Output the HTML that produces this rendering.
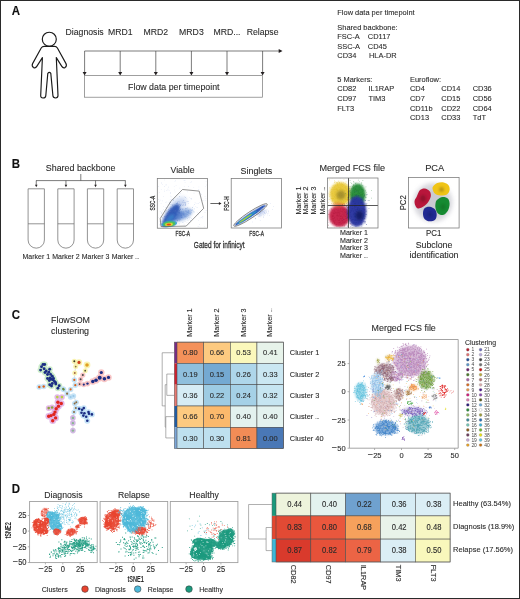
<!DOCTYPE html>
<html><head><meta charset="utf-8"><style>
html,body{margin:0;padding:0;background:#fff;}
body{width:520px;height:599px;overflow:hidden;position:relative;}
svg{position:absolute;left:0;top:0;will-change:transform;}
.frame{position:absolute;left:0;top:0;width:520px;height:599px;box-sizing:border-box;border:1px solid #2a2a2a;border-bottom-width:1.4px;border-right-width:1.2px;}
text{font-family:"Liberation Sans",sans-serif;}
</style></head><body>
<svg width="520" height="599" viewBox="0 0 520 599" font-family="Liberation Sans, sans-serif">
<defs><filter id="b05" x="-50%" y="-50%" width="200%" height="200%"><feGaussianBlur stdDeviation="0.5"/></filter><filter id="b1" x="-50%" y="-50%" width="200%" height="200%"><feGaussianBlur stdDeviation="1"/></filter><filter id="b15" x="-50%" y="-50%" width="200%" height="200%"><feGaussianBlur stdDeviation="1.5"/></filter><filter id="b2" x="-50%" y="-50%" width="200%" height="200%"><feGaussianBlur stdDeviation="2"/></filter><filter id="b3" x="-50%" y="-50%" width="200%" height="200%"><feGaussianBlur stdDeviation="3"/></filter><clipPath id="cv"><rect x="157.7" y="178.8" width="49.6" height="49"/></clipPath><clipPath id="cs"><rect x="231.6" y="178.8" width="49.6" height="49"/></clipPath><clipPath id="cm"><rect x="327.8" y="178.4" width="49.8" height="49.2"/></clipPath><clipPath id="cp"><rect x="409" y="178" width="49.8" height="49.8"/></clipPath><clipPath id="cd0"><rect x="30.0" y="501.9" width="66.8" height="60.300000000000026"/></clipPath><clipPath id="cd1"><rect x="100.5" y="501.9" width="66.8" height="60.300000000000026"/></clipPath><clipPath id="cd2"><rect x="170.70000000000002" y="501.9" width="66.8" height="60.300000000000026"/></clipPath></defs>
<text transform="translate(11.80,14.80) scale(1,1.07)" x="0" y="0" font-size="11.5" text-anchor="start" fill="#111" stroke="#111" stroke-width="0.1" font-weight="bold" >A</text>
<circle cx="49.3" cy="39.2" r="7" fill="none" stroke="#1a1a1a" stroke-width="1.15"/>
<path d="M44.2,46.3 L54.6,46.3 Q56.4,46.3 57.4,48 L66,63.6 Q67.2,66.4 65,67.6 Q63,68.4 61.8,66.4 L56.3,57.6 L58,95.6 Q58,98 55.6,98 Q52.9,98 52.9,95.6 L50.8,73.4 Q49.4,71.4 47.8,73.4 L45.8,95.6 Q45.6,98 43,98 Q40.6,98 40.7,95.6 L42.4,57.6 L36.8,66.4 Q35.6,68.4 33.6,67.6 Q31.4,66.4 32.6,63.6 L41.2,48 Q42.2,46.3 44.2,46.3Z" fill="none" stroke="#1a1a1a" stroke-width="1.15" stroke-linejoin="round"/>
<text transform="translate(84.60,35.00) scale(1,1.07)" x="0" y="0" font-size="8.7" text-anchor="middle" fill="#2b2b2b" stroke="#2b2b2b" stroke-width="0.1" >Diagnosis</text>
<line x1="84.60" y1="51.00" x2="84.60" y2="72.50" stroke="#444" stroke-width="0.7"/>
<path d="M82.60,72.00 L86.60,72.00 L84.60,75.60Z" fill="#231f20"/>
<text transform="translate(120.20,35.00) scale(1,1.07)" x="0" y="0" font-size="8.7" text-anchor="middle" fill="#2b2b2b" stroke="#2b2b2b" stroke-width="0.1" >MRD1</text>
<line x1="120.20" y1="51.00" x2="120.20" y2="72.50" stroke="#444" stroke-width="0.7"/>
<path d="M118.20,72.00 L122.20,72.00 L120.20,75.60Z" fill="#231f20"/>
<text transform="translate(155.80,35.00) scale(1,1.07)" x="0" y="0" font-size="8.7" text-anchor="middle" fill="#2b2b2b" stroke="#2b2b2b" stroke-width="0.1" >MRD2</text>
<line x1="155.80" y1="51.00" x2="155.80" y2="72.50" stroke="#444" stroke-width="0.7"/>
<path d="M153.80,72.00 L157.80,72.00 L155.80,75.60Z" fill="#231f20"/>
<text transform="translate(191.40,35.00) scale(1,1.07)" x="0" y="0" font-size="8.7" text-anchor="middle" fill="#2b2b2b" stroke="#2b2b2b" stroke-width="0.1" >MRD3</text>
<line x1="191.40" y1="51.00" x2="191.40" y2="72.50" stroke="#444" stroke-width="0.7"/>
<path d="M189.40,72.00 L193.40,72.00 L191.40,75.60Z" fill="#231f20"/>
<text transform="translate(227.00,35.00) scale(1,1.07)" x="0" y="0" font-size="8.7" text-anchor="middle" fill="#2b2b2b" stroke="#2b2b2b" stroke-width="0.1" >MRD...</text>
<line x1="227.00" y1="51.00" x2="227.00" y2="72.50" stroke="#444" stroke-width="0.7"/>
<path d="M225.00,72.00 L229.00,72.00 L227.00,75.60Z" fill="#231f20"/>
<text transform="translate(262.60,35.00) scale(1,1.07)" x="0" y="0" font-size="8.7" text-anchor="middle" fill="#2b2b2b" stroke="#2b2b2b" stroke-width="0.1" >Relapse</text>
<line x1="262.60" y1="51.00" x2="262.60" y2="72.50" stroke="#444" stroke-width="0.7"/>
<path d="M260.60,72.00 L264.60,72.00 L262.60,75.60Z" fill="#231f20"/>
<line x1="84.60" y1="51.00" x2="279.00" y2="51.00" stroke="#444" stroke-width="0.7"/>
<path d="M278.70,49.00 L278.70,53.00 L282.50,51.00Z" fill="#231f20"/>
<rect x="84.60" y="75.40" width="178.00" height="21.80" fill="none" stroke="#777" stroke-width="0.7" />
<text transform="translate(173.80,90.00) scale(1,1.07)" x="0" y="0" font-size="8.8" text-anchor="middle" fill="#2b2b2b" stroke="#2b2b2b" stroke-width="0.1" >Flow data per timepoint</text>
<text transform="translate(337.30,15.00) scale(1,1.07)" x="0" y="0" font-size="7.45" text-anchor="start" fill="#2b2b2b" stroke="#2b2b2b" stroke-width="0.1" >Flow data per timepoint</text>
<text transform="translate(337.30,29.80) scale(1,1.07)" x="0" y="0" font-size="7.45" text-anchor="start" fill="#2b2b2b" stroke="#2b2b2b" stroke-width="0.1" >Shared backbone:</text>
<text transform="translate(337.30,39.20) scale(1,1.07)" x="0" y="0" font-size="7.45" text-anchor="start" fill="#2b2b2b" stroke="#2b2b2b" stroke-width="0.1" >FSC-A</text>
<text transform="translate(367.80,39.20) scale(1,1.07)" x="0" y="0" font-size="7.45" text-anchor="start" fill="#2b2b2b" stroke="#2b2b2b" stroke-width="0.1" >CD117</text>
<text transform="translate(337.30,48.50) scale(1,1.07)" x="0" y="0" font-size="7.45" text-anchor="start" fill="#2b2b2b" stroke="#2b2b2b" stroke-width="0.1" >SSC-A</text>
<text transform="translate(367.80,48.50) scale(1,1.07)" x="0" y="0" font-size="7.45" text-anchor="start" fill="#2b2b2b" stroke="#2b2b2b" stroke-width="0.1" >CD45</text>
<text transform="translate(337.30,57.80) scale(1,1.07)" x="0" y="0" font-size="7.45" text-anchor="start" fill="#2b2b2b" stroke="#2b2b2b" stroke-width="0.1" >CD34</text>
<text transform="translate(369.00,57.80) scale(1,1.07)" x="0" y="0" font-size="7.45" text-anchor="start" fill="#2b2b2b" stroke="#2b2b2b" stroke-width="0.1" >HLA-DR</text>
<text transform="translate(337.30,81.90) scale(1,1.07)" x="0" y="0" font-size="7.45" text-anchor="start" fill="#2b2b2b" stroke="#2b2b2b" stroke-width="0.1" >5 Markers:</text>
<text transform="translate(410.00,81.90) scale(1,1.07)" x="0" y="0" font-size="7.45" text-anchor="start" fill="#2b2b2b" stroke="#2b2b2b" stroke-width="0.1" >Euroflow:</text>
<text transform="translate(337.30,91.40) scale(1,1.07)" x="0" y="0" font-size="7.45" text-anchor="start" fill="#2b2b2b" stroke="#2b2b2b" stroke-width="0.1" >CD82</text>
<text transform="translate(368.50,91.40) scale(1,1.07)" x="0" y="0" font-size="7.45" text-anchor="start" fill="#2b2b2b" stroke="#2b2b2b" stroke-width="0.1" >IL1RAP</text>
<text transform="translate(410.00,91.40) scale(1,1.07)" x="0" y="0" font-size="7.45" text-anchor="start" fill="#2b2b2b" stroke="#2b2b2b" stroke-width="0.1" >CD4</text>
<text transform="translate(441.30,91.40) scale(1,1.07)" x="0" y="0" font-size="7.45" text-anchor="start" fill="#2b2b2b" stroke="#2b2b2b" stroke-width="0.1" >CD14</text>
<text transform="translate(472.70,91.40) scale(1,1.07)" x="0" y="0" font-size="7.45" text-anchor="start" fill="#2b2b2b" stroke="#2b2b2b" stroke-width="0.1" >CD36</text>
<text transform="translate(337.30,101.00) scale(1,1.07)" x="0" y="0" font-size="7.45" text-anchor="start" fill="#2b2b2b" stroke="#2b2b2b" stroke-width="0.1" >CD97</text>
<text transform="translate(368.50,101.00) scale(1,1.07)" x="0" y="0" font-size="7.45" text-anchor="start" fill="#2b2b2b" stroke="#2b2b2b" stroke-width="0.1" >TIM3</text>
<text transform="translate(410.00,101.00) scale(1,1.07)" x="0" y="0" font-size="7.45" text-anchor="start" fill="#2b2b2b" stroke="#2b2b2b" stroke-width="0.1" >CD7</text>
<text transform="translate(441.30,101.00) scale(1,1.07)" x="0" y="0" font-size="7.45" text-anchor="start" fill="#2b2b2b" stroke="#2b2b2b" stroke-width="0.1" >CD15</text>
<text transform="translate(472.70,101.00) scale(1,1.07)" x="0" y="0" font-size="7.45" text-anchor="start" fill="#2b2b2b" stroke="#2b2b2b" stroke-width="0.1" >CD56</text>
<text transform="translate(337.30,110.60) scale(1,1.07)" x="0" y="0" font-size="7.45" text-anchor="start" fill="#2b2b2b" stroke="#2b2b2b" stroke-width="0.1" >FLT3</text>
<text transform="translate(410.00,110.60) scale(1,1.07)" x="0" y="0" font-size="7.45" text-anchor="start" fill="#2b2b2b" stroke="#2b2b2b" stroke-width="0.1" >CD11b</text>
<text transform="translate(441.30,110.60) scale(1,1.07)" x="0" y="0" font-size="7.45" text-anchor="start" fill="#2b2b2b" stroke="#2b2b2b" stroke-width="0.1" >CD22</text>
<text transform="translate(472.70,110.60) scale(1,1.07)" x="0" y="0" font-size="7.45" text-anchor="start" fill="#2b2b2b" stroke="#2b2b2b" stroke-width="0.1" >CD64</text>
<text transform="translate(410.00,120.00) scale(1,1.07)" x="0" y="0" font-size="7.45" text-anchor="start" fill="#2b2b2b" stroke="#2b2b2b" stroke-width="0.1" >CD13</text>
<text transform="translate(441.30,120.00) scale(1,1.07)" x="0" y="0" font-size="7.45" text-anchor="start" fill="#2b2b2b" stroke="#2b2b2b" stroke-width="0.1" >CD33</text>
<text transform="translate(472.70,120.00) scale(1,1.07)" x="0" y="0" font-size="7.45" text-anchor="start" fill="#2b2b2b" stroke="#2b2b2b" stroke-width="0.1" >TdT</text>
<text transform="translate(11.80,167.60) scale(1,1.07)" x="0" y="0" font-size="11.5" text-anchor="start" fill="#111" stroke="#111" stroke-width="0.1" font-weight="bold" >B</text>
<text transform="translate(45.80,170.90) scale(1,1.07)" x="0" y="0" font-size="8.9" text-anchor="start" fill="#2b2b2b" stroke="#2b2b2b" stroke-width="0.1" >Shared backbone</text>
<line x1="80.80" y1="174.00" x2="80.80" y2="180.60" stroke="#444" stroke-width="0.7"/>
<line x1="36.00" y1="180.60" x2="125.60" y2="180.60" stroke="#444" stroke-width="0.7"/>
<line x1="36.25" y1="180.60" x2="36.25" y2="185.00" stroke="#444" stroke-width="0.7"/>
<path d="M34.95,184.80 L37.55,184.80 L36.25,187.20Z" fill="#231f20"/>
<path d="M28.10,188.8 L28.10,240 A8.15,8.15 0 0 0 44.40,240 L44.40,188.8 Z" fill="none" stroke="#666" stroke-width="0.7"/>
<line x1="28.10" y1="223.80" x2="44.40" y2="223.80" stroke="#666" stroke-width="0.7"/>
<text transform="translate(36.25,259.00) scale(1,1.07)" x="0" y="0" font-size="7.0" text-anchor="middle" fill="#2b2b2b" stroke="#2b2b2b" stroke-width="0.1" >Marker 1</text>
<line x1="65.95" y1="180.60" x2="65.95" y2="185.00" stroke="#444" stroke-width="0.7"/>
<path d="M64.65,184.80 L67.25,184.80 L65.95,187.20Z" fill="#231f20"/>
<path d="M57.80,188.8 L57.80,240 A8.15,8.15 0 0 0 74.10,240 L74.10,188.8 Z" fill="none" stroke="#666" stroke-width="0.7"/>
<line x1="57.80" y1="223.80" x2="74.10" y2="223.80" stroke="#666" stroke-width="0.7"/>
<text transform="translate(65.95,259.00) scale(1,1.07)" x="0" y="0" font-size="7.0" text-anchor="middle" fill="#2b2b2b" stroke="#2b2b2b" stroke-width="0.1" >Marker 2</text>
<line x1="95.55" y1="180.60" x2="95.55" y2="185.00" stroke="#444" stroke-width="0.7"/>
<path d="M94.25,184.80 L96.85,184.80 L95.55,187.20Z" fill="#231f20"/>
<path d="M87.40,188.8 L87.40,240 A8.15,8.15 0 0 0 103.70,240 L103.70,188.8 Z" fill="none" stroke="#666" stroke-width="0.7"/>
<line x1="87.40" y1="223.80" x2="103.70" y2="223.80" stroke="#666" stroke-width="0.7"/>
<text transform="translate(95.55,259.00) scale(1,1.07)" x="0" y="0" font-size="7.0" text-anchor="middle" fill="#2b2b2b" stroke="#2b2b2b" stroke-width="0.1" >Marker 3</text>
<line x1="125.35" y1="180.60" x2="125.35" y2="185.00" stroke="#444" stroke-width="0.7"/>
<path d="M124.05,184.80 L126.65,184.80 L125.35,187.20Z" fill="#231f20"/>
<path d="M117.20,188.8 L117.20,240 A8.15,8.15 0 0 0 133.50,240 L133.50,188.8 Z" fill="none" stroke="#666" stroke-width="0.7"/>
<line x1="117.20" y1="223.80" x2="133.50" y2="223.80" stroke="#666" stroke-width="0.7"/>
<text transform="translate(125.35,259.00) scale(1,1.07)" x="0" y="0" font-size="7.0" text-anchor="middle" fill="#2b2b2b" stroke="#2b2b2b" stroke-width="0.1" >Marker <tspan font-size="4.5">...</tspan></text>
<text transform="translate(182.50,173.20) scale(1,1.07)" x="0" y="0" font-size="8.7" text-anchor="middle" fill="#2b2b2b" stroke="#2b2b2b" stroke-width="0.1" >Viable</text>
<text transform="translate(154.60,203.10) rotate(-90) scale(1,1.07)" x="0" y="0" font-size="6.8" text-anchor="middle" fill="#2b2b2b" stroke="#2b2b2b" stroke-width="0.25" textLength="14.6" lengthAdjust="spacingAndGlyphs">SSC-A</text>
<text transform="translate(182.70,235.50) rotate(0) scale(1,1.07)" x="0" y="0" font-size="6.8" text-anchor="middle" fill="#2b2b2b" stroke="#2b2b2b" stroke-width="0.25" textLength="14.6" lengthAdjust="spacingAndGlyphs">FSC-A</text>
<line x1="210.40" y1="203.50" x2="219.00" y2="203.50" stroke="#222" stroke-width="0.7"/>
<path d="M218.90,202.10 L218.90,204.90 L221.50,203.50Z" fill="#231f20"/>
<text transform="translate(256.40,173.50) scale(1,1.07)" x="0" y="0" font-size="8.9" text-anchor="middle" fill="#2b2b2b" stroke="#2b2b2b" stroke-width="0.1" >Singlets</text>
<text transform="translate(228.60,203.50) rotate(-90) scale(1,1.07)" x="0" y="0" font-size="6.8" text-anchor="middle" fill="#2b2b2b" stroke="#2b2b2b" stroke-width="0.25" textLength="14.6" lengthAdjust="spacingAndGlyphs">FSC-H</text>
<text transform="translate(256.60,235.50) rotate(0) scale(1,1.07)" x="0" y="0" font-size="6.8" text-anchor="middle" fill="#2b2b2b" stroke="#2b2b2b" stroke-width="0.25" textLength="14.6" lengthAdjust="spacingAndGlyphs">FSC-A</text>
<text transform="translate(219.20,247.70) rotate(0) scale(1,1.07)" x="0" y="0" font-size="8.6" text-anchor="middle" fill="#2b2b2b" stroke="#2b2b2b" stroke-width="0.25" textLength="50.8" lengthAdjust="spacingAndGlyphs">Gated for infinicyt</text>
<text transform="translate(352.20,171.30) scale(1,1.07)" x="0" y="0" font-size="9.1" text-anchor="middle" fill="#2b2b2b" stroke="#2b2b2b" stroke-width="0.1" >Merged FCS file</text>
<text transform="translate(301.20,214.6) rotate(-90) scale(1,1.07)" x="0" y="0" font-size="7.1" fill="#2b2b2b" stroke="#2b2b2b" stroke-width="0.1">Marker 1</text>
<text transform="translate(308.40,214.6) rotate(-90) scale(1,1.07)" x="0" y="0" font-size="7.1" fill="#2b2b2b" stroke="#2b2b2b" stroke-width="0.1">Marker 2</text>
<text transform="translate(315.60,214.6) rotate(-90) scale(1,1.07)" x="0" y="0" font-size="7.1" fill="#2b2b2b" stroke="#2b2b2b" stroke-width="0.1">Marker 3</text>
<text transform="translate(324.80,214.6) rotate(-90) scale(1,1.07)" x="0" y="0" font-size="7.1" fill="#2b2b2b" stroke="#2b2b2b" stroke-width="0.1">Marker <tspan font-size="4.5">...</tspan></text>
<text transform="translate(340.00,234.50) scale(1,1.07)" x="0" y="0" font-size="7.1" text-anchor="start" fill="#2b2b2b" stroke="#2b2b2b" stroke-width="0.1" >Marker 1</text>
<text transform="translate(340.00,242.60) scale(1,1.07)" x="0" y="0" font-size="7.1" text-anchor="start" fill="#2b2b2b" stroke="#2b2b2b" stroke-width="0.1" >Marker 2</text>
<text transform="translate(340.00,250.30) scale(1,1.07)" x="0" y="0" font-size="7.1" text-anchor="start" fill="#2b2b2b" stroke="#2b2b2b" stroke-width="0.1" >Marker 3</text>
<text transform="translate(340.00,257.70) scale(1,1.07)" x="0" y="0" font-size="7.1" text-anchor="start" fill="#2b2b2b" stroke="#2b2b2b" stroke-width="0.1" >Marker <tspan font-size="4.5">...</tspan></text>
<text transform="translate(434.70,171.20) scale(1,1.07)" x="0" y="0" font-size="9.3" text-anchor="middle" fill="#2b2b2b" stroke="#2b2b2b" stroke-width="0.1" >PCA</text>
<text transform="translate(406,202.8) rotate(-90) scale(1,1.07)" x="0" y="0" font-size="7.8" text-anchor="middle" fill="#2b2b2b" stroke="#2b2b2b" stroke-width="0.1">PC2</text>
<text transform="translate(433.60,235.80) scale(1,1.07)" x="0" y="0" font-size="7.9" text-anchor="middle" fill="#2b2b2b" stroke="#2b2b2b" stroke-width="0.1" >PC1</text>
<text transform="translate(434.00,247.80) scale(1,1.07)" x="0" y="0" font-size="8.8" text-anchor="middle" fill="#2b2b2b" stroke="#2b2b2b" stroke-width="0.1" >Subclone</text>
<text transform="translate(434.00,257.90) scale(1,1.07)" x="0" y="0" font-size="8.8" text-anchor="middle" fill="#2b2b2b" stroke="#2b2b2b" stroke-width="0.1" >identification</text>
<g clip-path="url(#cv)"><path d="M173.9 186.2h0.6v0.6h-0.6zM189.9 182.5h0.6v0.6h-0.6zM184.3 196.6h0.6v0.6h-0.6zM160.8 203.4h0.6v0.6h-0.6zM159.8 199.8h0.6v0.6h-0.6zM161.4 183.4h0.6v0.6h-0.6zM178.8 218.7h0.6v0.6h-0.6zM164.1 189.7h0.6v0.6h-0.6zM188.7 224.5h0.6v0.6h-0.6zM186.3 198.0h0.6v0.6h-0.6zM205.8 181.2h0.6v0.6h-0.6zM200.1 192.9h0.6v0.6h-0.6zM165.1 184.7h0.6v0.6h-0.6zM173.1 218.2h0.6v0.6h-0.6zM166.9 206.9h0.6v0.6h-0.6zM189.3 196.9h0.6v0.6h-0.6zM184.8 182.0h0.6v0.6h-0.6zM160.9 188.9h0.6v0.6h-0.6zM191.3 199.5h0.6v0.6h-0.6zM173.4 207.1h0.6v0.6h-0.6zM180.2 193.4h0.6v0.6h-0.6zM196.9 212.6h0.6v0.6h-0.6zM170.0 206.6h0.6v0.6h-0.6zM183.7 221.0h0.6v0.6h-0.6zM193.7 192.8h0.6v0.6h-0.6zM206.0 184.7h0.6v0.6h-0.6zM178.5 215.3h0.6v0.6h-0.6zM165.4 202.5h0.6v0.6h-0.6zM159.9 211.1h0.6v0.6h-0.6zM195.5 206.5h0.6v0.6h-0.6zM200.9 194.1h0.6v0.6h-0.6zM192.1 207.5h0.6v0.6h-0.6zM186.4 200.9h0.6v0.6h-0.6zM199.2 224.3h0.6v0.6h-0.6zM181.2 210.9h0.6v0.6h-0.6zM161.0 212.7h0.6v0.6h-0.6zM189.7 226.7h0.6v0.6h-0.6zM198.3 192.7h0.6v0.6h-0.6zM176.9 211.1h0.6v0.6h-0.6zM159.1 201.2h0.6v0.6h-0.6zM166.2 184.6h0.6v0.6h-0.6zM160.9 215.9h0.6v0.6h-0.6zM164.3 190.9h0.6v0.6h-0.6zM177.2 220.8h0.6v0.6h-0.6zM161.9 200.6h0.6v0.6h-0.6zM184.9 221.4h0.6v0.6h-0.6zM198.1 220.5h0.6v0.6h-0.6zM171.6 198.9h0.6v0.6h-0.6zM175.6 221.4h0.6v0.6h-0.6zM204.9 186.2h0.6v0.6h-0.6zM166.6 190.1h0.6v0.6h-0.6zM169.4 202.3h0.6v0.6h-0.6zM186.9 191.6h0.6v0.6h-0.6zM158.2 199.1h0.6v0.6h-0.6zM176.1 206.2h0.6v0.6h-0.6zM204.7 212.1h0.6v0.6h-0.6zM183.3 208.6h0.6v0.6h-0.6zM191.1 181.6h0.6v0.6h-0.6zM202.1 216.4h0.6v0.6h-0.6zM200.9 217.3h0.6v0.6h-0.6zM177.2 198.2h0.6v0.6h-0.6zM163.1 209.4h0.6v0.6h-0.6zM161.1 182.2h0.6v0.6h-0.6zM168.2 186.8h0.6v0.6h-0.6zM174.7 181.5h0.6v0.6h-0.6zM158.0 186.3h0.6v0.6h-0.6zM163.0 196.5h0.6v0.6h-0.6zM159.2 221.0h0.6v0.6h-0.6zM188.1 186.1h0.6v0.6h-0.6zM170.4 195.7h0.6v0.6h-0.6zM175.8 184.9h0.6v0.6h-0.6zM199.6 226.7h0.6v0.6h-0.6zM180.8 202.2h0.6v0.6h-0.6zM162.2 183.9h0.6v0.6h-0.6zM174.8 191.7h0.6v0.6h-0.6zM198.6 186.7h0.6v0.6h-0.6zM159.1 224.6h0.6v0.6h-0.6zM183.9 186.0h0.6v0.6h-0.6zM184.6 180.3h0.6v0.6h-0.6zM183.9 226.0h0.6v0.6h-0.6zM200.3 212.4h0.6v0.6h-0.6zM170.8 196.6h0.6v0.6h-0.6zM166.2 216.1h0.6v0.6h-0.6zM184.1 216.4h0.6v0.6h-0.6zM174.2 189.7h0.6v0.6h-0.6zM197.8 226.3h0.6v0.6h-0.6zM199.8 217.7h0.6v0.6h-0.6zM198.1 214.5h0.6v0.6h-0.6zM169.1 203.8h0.6v0.6h-0.6zM175.4 180.4h0.6v0.6h-0.6zM159.4 192.4h0.6v0.6h-0.6zM170.7 212.2h0.6v0.6h-0.6zM204.9 200.5h0.6v0.6h-0.6zM203.9 226.4h0.6v0.6h-0.6zM204.8 196.5h0.6v0.6h-0.6zM168.8 189.9h0.6v0.6h-0.6zM167.6 188.8h0.6v0.6h-0.6zM188.6 222.2h0.6v0.6h-0.6zM199.2 202.0h0.6v0.6h-0.6zM190.0 217.4h0.6v0.6h-0.6zM162.2 210.7h0.6v0.6h-0.6zM202.6 216.6h0.6v0.6h-0.6zM194.8 201.9h0.6v0.6h-0.6zM166.7 216.9h0.6v0.6h-0.6zM174.3 217.4h0.6v0.6h-0.6zM205.6 198.0h0.6v0.6h-0.6zM177.7 224.4h0.6v0.6h-0.6zM193.5 187.2h0.6v0.6h-0.6zM164.2 186.3h0.6v0.6h-0.6zM202.3 217.7h0.6v0.6h-0.6zM165.2 218.7h0.6v0.6h-0.6zM206.0 210.5h0.6v0.6h-0.6zM175.2 205.3h0.6v0.6h-0.6zM164.4 179.7h0.6v0.6h-0.6zM205.6 210.2h0.6v0.6h-0.6zM183.8 223.8h0.6v0.6h-0.6zM179.3 220.8h0.6v0.6h-0.6zM198.5 189.1h0.6v0.6h-0.6zM170.3 193.1h0.6v0.6h-0.6zM169.8 207.1h0.6v0.6h-0.6zM170.7 199.1h0.6v0.6h-0.6zM164.4 222.7h0.6v0.6h-0.6zM175.3 201.0h0.6v0.6h-0.6zM186.6 222.4h0.6v0.6h-0.6zM178.6 223.1h0.6v0.6h-0.6zM182.6 204.5h0.6v0.6h-0.6zM183.7 179.9h0.6v0.6h-0.6zM179.6 187.8h0.6v0.6h-0.6zM158.2 217.4h0.6v0.6h-0.6zM166.4 201.7h0.6v0.6h-0.6zM193.5 205.7h0.6v0.6h-0.6zM174.0 203.9h0.6v0.6h-0.6zM185.2 216.6h0.6v0.6h-0.6zM163.2 205.9h0.6v0.6h-0.6zM170.2 192.3h0.6v0.6h-0.6zM195.8 203.4h0.6v0.6h-0.6zM185.5 215.5h0.6v0.6h-0.6zM202.7 200.3h0.6v0.6h-0.6zM188.0 203.3h0.6v0.6h-0.6zM183.1 212.3h0.6v0.6h-0.6z" fill="#9db0e0" opacity="0.45"/><ellipse cx="178.00" cy="205.00" rx="10.00" ry="6.00" fill="#8aa8e0" opacity="0.45" transform="rotate(-40 178.00 205.00)" filter="url(#b2)"/><ellipse cx="182.00" cy="215.00" rx="11.00" ry="5.00" fill="#4a7ccc" opacity="0.6" transform="rotate(-25 182.00 215.00)" filter="url(#b15)"/><ellipse cx="171.00" cy="215.50" rx="13.50" ry="5.20" fill="#2550b0" opacity="0.9" transform="rotate(-55 171.00 215.50)" filter="url(#b1)"/><ellipse cx="177.00" cy="216.00" rx="7.00" ry="4.00" fill="#3a68c0" opacity="0.6" transform="rotate(-30 177.00 216.00)" filter="url(#b1)"/><path d="M168.9 220.0h0.6v0.6h-0.6zM162.7 227.2h0.6v0.6h-0.6zM165.5 211.6h0.6v0.6h-0.6zM177.0 206.9h0.6v0.6h-0.6zM160.2 223.7h0.6v0.6h-0.6zM174.3 209.2h0.6v0.6h-0.6zM180.0 208.9h0.6v0.6h-0.6zM178.3 208.7h0.6v0.6h-0.6zM182.6 205.3h0.6v0.6h-0.6zM170.7 204.5h0.6v0.6h-0.6zM182.1 209.5h0.6v0.6h-0.6zM171.2 212.8h0.6v0.6h-0.6zM179.3 196.2h0.6v0.6h-0.6zM182.9 214.6h0.6v0.6h-0.6zM171.1 219.2h0.6v0.6h-0.6zM183.4 200.2h0.6v0.6h-0.6zM179.3 210.6h0.6v0.6h-0.6zM169.1 217.4h0.6v0.6h-0.6zM177.7 212.1h0.6v0.6h-0.6zM173.3 211.8h0.6v0.6h-0.6zM167.8 217.4h0.6v0.6h-0.6zM178.9 206.8h0.6v0.6h-0.6zM167.4 215.3h0.6v0.6h-0.6zM190.8 198.2h0.6v0.6h-0.6zM170.3 202.3h0.6v0.6h-0.6zM178.5 209.3h0.6v0.6h-0.6zM183.8 202.6h0.6v0.6h-0.6zM175.1 213.6h0.6v0.6h-0.6zM166.8 226.2h0.6v0.6h-0.6zM173.8 208.4h0.6v0.6h-0.6zM185.7 207.9h0.6v0.6h-0.6zM165.0 219.1h0.6v0.6h-0.6zM176.0 210.6h0.6v0.6h-0.6zM169.3 212.3h0.6v0.6h-0.6zM187.7 201.3h0.6v0.6h-0.6zM164.3 216.3h0.6v0.6h-0.6zM185.4 203.8h0.6v0.6h-0.6zM185.5 202.7h0.6v0.6h-0.6zM170.2 217.9h0.6v0.6h-0.6zM160.9 223.6h0.6v0.6h-0.6zM175.1 213.5h0.6v0.6h-0.6zM169.9 216.2h0.6v0.6h-0.6zM177.4 210.0h0.6v0.6h-0.6zM177.8 208.6h0.6v0.6h-0.6zM174.5 215.8h0.6v0.6h-0.6zM172.0 209.8h0.6v0.6h-0.6zM170.8 215.8h0.6v0.6h-0.6zM173.9 213.0h0.6v0.6h-0.6zM174.5 212.4h0.6v0.6h-0.6zM169.9 210.0h0.6v0.6h-0.6zM179.0 211.8h0.6v0.6h-0.6zM175.7 208.9h0.6v0.6h-0.6zM173.7 207.1h0.6v0.6h-0.6zM164.4 223.8h0.6v0.6h-0.6zM171.2 219.4h0.6v0.6h-0.6zM161.4 212.7h0.6v0.6h-0.6zM172.9 221.9h0.6v0.6h-0.6zM168.4 211.3h0.6v0.6h-0.6zM171.5 217.9h0.6v0.6h-0.6zM177.0 209.4h0.6v0.6h-0.6zM183.5 204.5h0.6v0.6h-0.6zM175.5 213.5h0.6v0.6h-0.6zM185.1 204.0h0.6v0.6h-0.6zM176.4 203.3h0.6v0.6h-0.6zM175.2 214.6h0.6v0.6h-0.6zM175.3 216.2h0.6v0.6h-0.6zM179.5 210.4h0.6v0.6h-0.6zM179.7 219.0h0.6v0.6h-0.6zM179.8 203.9h0.6v0.6h-0.6zM181.4 217.3h0.6v0.6h-0.6zM174.6 216.1h0.6v0.6h-0.6zM179.1 206.0h0.6v0.6h-0.6zM168.5 219.6h0.6v0.6h-0.6zM178.9 212.3h0.6v0.6h-0.6zM178.1 207.3h0.6v0.6h-0.6zM179.8 208.0h0.6v0.6h-0.6zM175.2 210.9h0.6v0.6h-0.6zM174.6 215.0h0.6v0.6h-0.6zM166.9 217.0h0.6v0.6h-0.6zM170.1 208.7h0.6v0.6h-0.6zM166.4 210.2h0.6v0.6h-0.6zM172.0 217.5h0.6v0.6h-0.6zM176.8 208.4h0.6v0.6h-0.6zM169.0 210.2h0.6v0.6h-0.6zM184.8 202.0h0.6v0.6h-0.6zM177.3 203.3h0.6v0.6h-0.6zM168.2 209.0h0.6v0.6h-0.6zM180.5 209.3h0.6v0.6h-0.6zM164.1 223.5h0.6v0.6h-0.6zM172.5 204.2h0.6v0.6h-0.6zM161.8 220.8h0.6v0.6h-0.6zM167.0 212.7h0.6v0.6h-0.6zM174.8 212.4h0.6v0.6h-0.6zM179.1 209.7h0.6v0.6h-0.6zM184.8 205.4h0.6v0.6h-0.6zM165.9 218.9h0.6v0.6h-0.6zM165.7 216.1h0.6v0.6h-0.6zM173.6 212.5h0.6v0.6h-0.6zM172.3 205.4h0.6v0.6h-0.6zM167.6 219.5h0.6v0.6h-0.6zM172.1 212.5h0.6v0.6h-0.6zM171.6 210.7h0.6v0.6h-0.6zM178.6 208.5h0.6v0.6h-0.6zM171.7 211.0h0.6v0.6h-0.6zM165.8 206.9h0.6v0.6h-0.6zM169.1 218.1h0.6v0.6h-0.6zM166.8 221.7h0.6v0.6h-0.6zM171.1 208.0h0.6v0.6h-0.6zM171.9 212.8h0.6v0.6h-0.6zM178.0 210.6h0.6v0.6h-0.6zM171.5 210.3h0.6v0.6h-0.6zM173.1 212.7h0.6v0.6h-0.6zM178.6 208.2h0.6v0.6h-0.6zM166.7 213.4h0.6v0.6h-0.6zM170.1 212.6h0.6v0.6h-0.6zM168.0 218.6h0.6v0.6h-0.6zM171.8 215.2h0.6v0.6h-0.6zM175.6 207.9h0.6v0.6h-0.6zM185.1 197.0h0.6v0.6h-0.6zM180.0 205.5h0.6v0.6h-0.6zM173.4 199.8h0.6v0.6h-0.6zM170.8 217.2h0.6v0.6h-0.6zM183.4 213.6h0.6v0.6h-0.6zM179.1 212.9h0.6v0.6h-0.6zM180.5 209.4h0.6v0.6h-0.6zM176.2 208.5h0.6v0.6h-0.6zM173.7 206.5h0.6v0.6h-0.6zM177.3 202.5h0.6v0.6h-0.6zM181.0 215.2h0.6v0.6h-0.6zM172.9 213.4h0.6v0.6h-0.6zM180.1 204.9h0.6v0.6h-0.6zM170.5 217.5h0.6v0.6h-0.6zM178.9 210.0h0.6v0.6h-0.6zM174.7 220.7h0.6v0.6h-0.6zM182.6 201.8h0.6v0.6h-0.6zM174.2 209.4h0.6v0.6h-0.6zM179.4 201.7h0.6v0.6h-0.6zM176.2 206.8h0.6v0.6h-0.6zM172.4 217.9h0.6v0.6h-0.6zM180.8 203.8h0.6v0.6h-0.6zM172.7 218.0h0.6v0.6h-0.6zM174.6 213.0h0.6v0.6h-0.6zM184.9 205.2h0.6v0.6h-0.6zM177.4 220.3h0.6v0.6h-0.6zM176.1 213.7h0.6v0.6h-0.6zM170.6 215.9h0.6v0.6h-0.6zM169.8 226.7h0.6v0.6h-0.6zM177.8 200.9h0.6v0.6h-0.6zM161.9 217.6h0.6v0.6h-0.6zM178.8 203.8h0.6v0.6h-0.6zM172.9 211.7h0.6v0.6h-0.6zM170.5 210.3h0.6v0.6h-0.6zM170.3 208.6h0.6v0.6h-0.6zM174.5 213.1h0.6v0.6h-0.6zM175.8 208.6h0.6v0.6h-0.6zM169.8 217.9h0.6v0.6h-0.6zM175.7 218.5h0.6v0.6h-0.6zM177.6 207.0h0.6v0.6h-0.6zM169.7 213.3h0.6v0.6h-0.6zM168.2 216.9h0.6v0.6h-0.6z" fill="#2a58b8" opacity="0.6"/><path d="M186.2 214.8h0.6v0.6h-0.6zM189.4 218.7h0.6v0.6h-0.6zM180.0 215.5h0.6v0.6h-0.6zM197.8 203.0h0.6v0.6h-0.6zM181.2 215.5h0.6v0.6h-0.6zM185.3 214.8h0.6v0.6h-0.6zM183.0 215.5h0.6v0.6h-0.6zM185.1 216.1h0.6v0.6h-0.6zM172.4 215.4h0.6v0.6h-0.6zM182.9 211.1h0.6v0.6h-0.6zM178.8 217.9h0.6v0.6h-0.6zM181.0 217.1h0.6v0.6h-0.6zM188.5 213.3h0.6v0.6h-0.6zM186.8 212.7h0.6v0.6h-0.6zM176.0 216.8h0.6v0.6h-0.6zM186.0 211.6h0.6v0.6h-0.6zM184.2 216.3h0.6v0.6h-0.6zM179.7 217.6h0.6v0.6h-0.6zM193.9 208.6h0.6v0.6h-0.6zM184.7 213.3h0.6v0.6h-0.6zM193.0 211.7h0.6v0.6h-0.6zM188.4 210.2h0.6v0.6h-0.6zM183.9 214.0h0.6v0.6h-0.6zM175.5 221.7h0.6v0.6h-0.6zM187.3 207.2h0.6v0.6h-0.6zM188.1 212.1h0.6v0.6h-0.6zM186.9 214.1h0.6v0.6h-0.6zM175.3 216.5h0.6v0.6h-0.6zM191.8 209.3h0.6v0.6h-0.6zM176.8 212.3h0.6v0.6h-0.6zM177.5 217.5h0.6v0.6h-0.6zM194.0 211.7h0.6v0.6h-0.6zM187.7 219.8h0.6v0.6h-0.6zM180.4 213.2h0.6v0.6h-0.6zM187.5 214.5h0.6v0.6h-0.6zM177.1 212.8h0.6v0.6h-0.6zM185.9 214.1h0.6v0.6h-0.6zM176.4 216.1h0.6v0.6h-0.6zM181.4 216.4h0.6v0.6h-0.6zM183.3 214.0h0.6v0.6h-0.6zM183.1 217.7h0.6v0.6h-0.6zM191.5 210.1h0.6v0.6h-0.6zM188.0 210.1h0.6v0.6h-0.6zM185.2 216.0h0.6v0.6h-0.6zM192.1 209.8h0.6v0.6h-0.6zM183.8 214.7h0.6v0.6h-0.6zM175.6 217.1h0.6v0.6h-0.6zM180.6 216.4h0.6v0.6h-0.6zM175.6 210.7h0.6v0.6h-0.6zM184.5 214.7h0.6v0.6h-0.6zM181.8 217.6h0.6v0.6h-0.6zM181.8 212.9h0.6v0.6h-0.6zM185.1 208.6h0.6v0.6h-0.6zM180.2 215.3h0.6v0.6h-0.6zM188.6 211.8h0.6v0.6h-0.6zM185.1 211.5h0.6v0.6h-0.6zM187.4 218.1h0.6v0.6h-0.6zM182.6 222.1h0.6v0.6h-0.6zM180.4 215.4h0.6v0.6h-0.6zM186.0 216.5h0.6v0.6h-0.6zM174.9 210.6h0.6v0.6h-0.6zM188.2 215.0h0.6v0.6h-0.6zM190.2 220.1h0.6v0.6h-0.6zM185.4 214.3h0.6v0.6h-0.6zM189.6 213.1h0.6v0.6h-0.6zM192.1 207.1h0.6v0.6h-0.6zM178.3 205.1h0.6v0.6h-0.6zM188.2 211.3h0.6v0.6h-0.6zM191.4 218.2h0.6v0.6h-0.6zM183.7 213.3h0.6v0.6h-0.6zM180.3 212.7h0.6v0.6h-0.6zM181.1 217.1h0.6v0.6h-0.6zM184.3 214.1h0.6v0.6h-0.6zM184.0 216.9h0.6v0.6h-0.6zM186.6 212.6h0.6v0.6h-0.6zM187.6 212.2h0.6v0.6h-0.6zM179.0 220.5h0.6v0.6h-0.6zM185.6 210.3h0.6v0.6h-0.6zM190.4 212.8h0.6v0.6h-0.6zM176.8 221.7h0.6v0.6h-0.6zM186.8 215.8h0.6v0.6h-0.6zM185.0 213.2h0.6v0.6h-0.6zM176.3 219.9h0.6v0.6h-0.6zM183.9 213.1h0.6v0.6h-0.6zM186.1 213.5h0.6v0.6h-0.6zM187.4 211.6h0.6v0.6h-0.6zM181.6 208.0h0.6v0.6h-0.6zM182.3 216.8h0.6v0.6h-0.6zM191.2 210.2h0.6v0.6h-0.6zM184.9 218.7h0.6v0.6h-0.6zM182.9 216.7h0.6v0.6h-0.6zM193.5 210.7h0.6v0.6h-0.6zM190.2 209.5h0.6v0.6h-0.6zM185.1 213.4h0.6v0.6h-0.6zM185.8 216.9h0.6v0.6h-0.6zM196.8 207.2h0.6v0.6h-0.6zM181.3 216.6h0.6v0.6h-0.6zM178.6 217.6h0.6v0.6h-0.6zM186.9 212.0h0.6v0.6h-0.6zM185.4 208.5h0.6v0.6h-0.6zM186.7 208.1h0.6v0.6h-0.6zM179.5 213.9h0.6v0.6h-0.6zM182.6 217.2h0.6v0.6h-0.6zM184.1 212.7h0.6v0.6h-0.6zM188.7 217.3h0.6v0.6h-0.6zM184.4 215.0h0.6v0.6h-0.6zM191.3 212.2h0.6v0.6h-0.6zM179.3 223.7h0.6v0.6h-0.6zM194.4 203.9h0.6v0.6h-0.6zM184.2 215.3h0.6v0.6h-0.6zM190.1 213.9h0.6v0.6h-0.6zM181.4 211.6h0.6v0.6h-0.6zM185.6 216.7h0.6v0.6h-0.6zM176.8 213.3h0.6v0.6h-0.6zM181.9 208.6h0.6v0.6h-0.6zM182.1 213.3h0.6v0.6h-0.6zM185.8 211.1h0.6v0.6h-0.6zM178.6 214.7h0.6v0.6h-0.6zM183.0 212.2h0.6v0.6h-0.6zM184.8 216.1h0.6v0.6h-0.6z" fill="#5a84d0" opacity="0.5"/><ellipse cx="170.00" cy="218.50" rx="5.00" ry="2.50" fill="#3a90d0" opacity="0.6" transform="rotate(-45 170.00 218.50)" filter="url(#b1)"/><ellipse cx="169.20" cy="223.90" rx="8.00" ry="3.20" fill="#2f9ad0" opacity="0.9" transform="rotate(-8 169.20 223.90)" filter="url(#b05)"/><ellipse cx="169.20" cy="223.90" rx="6.20" ry="2.60" fill="#4cbf5a" opacity="1" transform="rotate(-6 169.20 223.90)" filter="url(#b05)"/><ellipse cx="169.00" cy="224.40" rx="3.90" ry="1.70" fill="#e8e030" opacity="1" transform="rotate(-5 169.00 224.40)" filter="url(#b05)"/><ellipse cx="168.80" cy="224.40" rx="2.40" ry="1.00" fill="#e2401e" opacity="1" transform="rotate(-5 168.80 224.40)" filter="url(#b05)"/></g>
<path d="M182.5,189.5 L199.2,191.1 L203.7,208.3 L186.2,226.1 L161,226.6 L160.2,218.5 L170.9,201.3 Z" fill="none" stroke="#666" stroke-width="0.7"/>
<rect x="157.30" y="178.40" width="50.30" height="49.80" fill="none" stroke="#777" stroke-width="0.75" />
<g clip-path="url(#cs)"><path d="M269.0 215.0h0.6v0.6h-0.6zM258.0 213.4h0.6v0.6h-0.6zM252.0 221.7h0.6v0.6h-0.6zM258.6 214.2h0.6v0.6h-0.6zM263.3 208.9h0.6v0.6h-0.6zM264.2 212.1h0.6v0.6h-0.6zM253.7 216.8h0.6v0.6h-0.6zM266.0 206.6h0.6v0.6h-0.6zM266.0 212.1h0.6v0.6h-0.6zM264.6 213.2h0.6v0.6h-0.6zM267.9 210.2h0.6v0.6h-0.6zM265.8 210.5h0.6v0.6h-0.6zM264.7 209.8h0.6v0.6h-0.6zM263.0 217.3h0.6v0.6h-0.6zM264.0 211.9h0.6v0.6h-0.6zM255.9 213.1h0.6v0.6h-0.6zM263.7 214.9h0.6v0.6h-0.6zM264.5 213.5h0.6v0.6h-0.6zM263.0 216.2h0.6v0.6h-0.6zM259.7 212.4h0.6v0.6h-0.6zM266.2 211.6h0.6v0.6h-0.6zM260.2 212.1h0.6v0.6h-0.6zM261.3 214.9h0.6v0.6h-0.6zM262.6 209.6h0.6v0.6h-0.6zM264.2 212.7h0.6v0.6h-0.6zM258.0 216.5h0.6v0.6h-0.6zM260.4 212.7h0.6v0.6h-0.6zM266.9 214.7h0.6v0.6h-0.6zM259.1 215.2h0.6v0.6h-0.6zM259.9 219.9h0.6v0.6h-0.6zM260.7 216.7h0.6v0.6h-0.6zM259.7 216.0h0.6v0.6h-0.6zM270.3 203.2h0.6v0.6h-0.6zM260.4 214.9h0.6v0.6h-0.6zM261.0 211.6h0.6v0.6h-0.6zM272.2 209.5h0.6v0.6h-0.6zM255.0 217.8h0.6v0.6h-0.6zM254.9 218.6h0.6v0.6h-0.6zM259.4 214.3h0.6v0.6h-0.6zM268.0 211.1h0.6v0.6h-0.6zM254.0 211.4h0.6v0.6h-0.6zM268.2 212.7h0.6v0.6h-0.6zM258.9 216.4h0.6v0.6h-0.6zM264.9 213.7h0.6v0.6h-0.6zM251.1 216.2h0.6v0.6h-0.6zM266.9 213.2h0.6v0.6h-0.6zM264.0 205.7h0.6v0.6h-0.6zM263.2 213.9h0.6v0.6h-0.6zM273.2 206.4h0.6v0.6h-0.6zM260.5 213.6h0.6v0.6h-0.6zM265.8 210.4h0.6v0.6h-0.6zM266.7 209.2h0.6v0.6h-0.6zM262.8 211.3h0.6v0.6h-0.6zM262.2 211.1h0.6v0.6h-0.6zM255.4 218.3h0.6v0.6h-0.6zM262.9 211.2h0.6v0.6h-0.6zM263.8 215.0h0.6v0.6h-0.6zM257.3 214.4h0.6v0.6h-0.6zM265.0 213.3h0.6v0.6h-0.6zM258.6 208.6h0.6v0.6h-0.6z" fill="#9aaee0" opacity="0.6"/><ellipse cx="261.00" cy="212.50" rx="5.00" ry="2.50" fill="#9fb3e4" opacity="0.5" transform="rotate(-25 261.00 212.50)" filter="url(#b1)"/><ellipse cx="250.30" cy="215.20" rx="18.30" ry="2.00" fill="#2d58b8" opacity="1" transform="rotate(-33.4 250.30 215.20)" filter="url(#b05)"/><ellipse cx="247.00" cy="217.40" rx="12.00" ry="1.20" fill="#2aa0d0" opacity="0.9" transform="rotate(-33.4 247.00 217.40)" filter="url(#b05)"/><ellipse cx="245.50" cy="218.40" rx="8.00" ry="0.70" fill="#a0d040" opacity="1" transform="rotate(-33.4 245.50 218.40)"/></g>
<ellipse cx="250.50" cy="215.00" rx="19.90" ry="3.20" fill="none" stroke="#444" stroke-width="0.6" opacity="1" transform="rotate(-33.4 250.50 215.00)"/>
<rect x="231.20" y="178.40" width="50.30" height="49.60" fill="none" stroke="#777" stroke-width="0.75" />
<g clip-path="url(#cm)"><ellipse cx="340.30" cy="194.00" rx="10.60" ry="11.80" fill="#e8c838" opacity="0.95" transform="rotate(0 340.30 194.00)" filter="url(#b1)"/><path d="M347.8 196.1h0.7v0.7h-0.7zM340.4 192.2h0.7v0.7h-0.7zM341.9 191.2h0.7v0.7h-0.7zM334.2 189.2h0.7v0.7h-0.7zM336.7 190.0h0.7v0.7h-0.7zM333.3 198.1h0.7v0.7h-0.7zM332.4 198.3h0.7v0.7h-0.7zM334.2 196.3h0.7v0.7h-0.7zM348.5 195.3h0.7v0.7h-0.7zM335.9 194.3h0.7v0.7h-0.7zM341.2 182.7h0.7v0.7h-0.7zM336.7 195.1h0.7v0.7h-0.7zM337.5 194.5h0.7v0.7h-0.7zM344.7 199.0h0.7v0.7h-0.7zM345.7 197.8h0.7v0.7h-0.7zM338.6 193.9h0.7v0.7h-0.7zM338.7 192.0h0.7v0.7h-0.7zM339.2 182.8h0.7v0.7h-0.7zM338.3 193.8h0.7v0.7h-0.7zM334.5 193.8h0.7v0.7h-0.7zM343.4 192.9h0.7v0.7h-0.7zM352.8 177.1h0.7v0.7h-0.7zM339.1 182.1h0.7v0.7h-0.7zM346.2 211.3h0.7v0.7h-0.7zM325.3 194.8h0.7v0.7h-0.7zM343.4 192.0h0.7v0.7h-0.7zM343.6 179.4h0.7v0.7h-0.7zM345.4 196.4h0.7v0.7h-0.7zM340.4 190.2h0.7v0.7h-0.7zM344.1 190.8h0.7v0.7h-0.7zM341.6 190.7h0.7v0.7h-0.7zM326.8 193.8h0.7v0.7h-0.7zM341.5 198.9h0.7v0.7h-0.7zM335.0 193.8h0.7v0.7h-0.7zM344.0 194.9h0.7v0.7h-0.7zM347.8 206.9h0.7v0.7h-0.7zM334.8 181.5h0.7v0.7h-0.7zM345.4 203.9h0.7v0.7h-0.7zM345.8 199.3h0.7v0.7h-0.7zM336.6 189.4h0.7v0.7h-0.7zM345.6 188.1h0.7v0.7h-0.7zM329.4 187.5h0.7v0.7h-0.7zM355.3 206.5h0.7v0.7h-0.7zM336.2 189.3h0.7v0.7h-0.7zM341.7 189.1h0.7v0.7h-0.7zM348.2 193.5h0.7v0.7h-0.7zM333.8 202.5h0.7v0.7h-0.7zM336.8 195.4h0.7v0.7h-0.7zM340.2 192.0h0.7v0.7h-0.7zM342.2 189.5h0.7v0.7h-0.7zM329.2 179.6h0.7v0.7h-0.7zM332.7 189.1h0.7v0.7h-0.7zM340.2 194.4h0.7v0.7h-0.7zM343.6 194.8h0.7v0.7h-0.7zM335.5 189.4h0.7v0.7h-0.7zM327.6 192.9h0.7v0.7h-0.7zM343.2 197.4h0.7v0.7h-0.7zM339.6 192.9h0.7v0.7h-0.7zM345.9 194.1h0.7v0.7h-0.7zM344.7 197.8h0.7v0.7h-0.7zM341.6 202.5h0.7v0.7h-0.7zM336.9 191.7h0.7v0.7h-0.7zM335.5 188.8h0.7v0.7h-0.7zM349.6 205.4h0.7v0.7h-0.7zM340.4 197.7h0.7v0.7h-0.7zM347.4 199.2h0.7v0.7h-0.7zM347.5 185.8h0.7v0.7h-0.7zM336.5 196.9h0.7v0.7h-0.7zM348.9 194.7h0.7v0.7h-0.7zM335.1 191.7h0.7v0.7h-0.7zM336.3 188.4h0.7v0.7h-0.7zM349.3 189.9h0.7v0.7h-0.7zM340.4 208.1h0.7v0.7h-0.7zM347.4 196.2h0.7v0.7h-0.7zM336.6 196.7h0.7v0.7h-0.7zM350.0 198.0h0.7v0.7h-0.7zM347.9 194.6h0.7v0.7h-0.7zM343.4 192.7h0.7v0.7h-0.7zM342.9 202.5h0.7v0.7h-0.7zM331.7 193.6h0.7v0.7h-0.7zM341.7 190.3h0.7v0.7h-0.7zM338.5 199.1h0.7v0.7h-0.7zM352.3 198.1h0.7v0.7h-0.7zM342.3 183.9h0.7v0.7h-0.7zM351.9 194.5h0.7v0.7h-0.7zM340.1 186.7h0.7v0.7h-0.7zM340.0 186.9h0.7v0.7h-0.7zM340.7 197.0h0.7v0.7h-0.7zM340.5 195.8h0.7v0.7h-0.7zM335.2 203.3h0.7v0.7h-0.7zM336.4 182.2h0.7v0.7h-0.7zM339.2 189.0h0.7v0.7h-0.7zM334.2 191.7h0.7v0.7h-0.7zM342.0 186.3h0.7v0.7h-0.7zM339.5 203.3h0.7v0.7h-0.7zM344.4 193.0h0.7v0.7h-0.7zM341.1 193.2h0.7v0.7h-0.7zM340.0 198.8h0.7v0.7h-0.7zM339.7 178.4h0.7v0.7h-0.7zM340.2 188.2h0.7v0.7h-0.7zM344.2 190.0h0.7v0.7h-0.7zM341.2 208.2h0.7v0.7h-0.7zM334.0 186.7h0.7v0.7h-0.7zM331.8 178.4h0.7v0.7h-0.7zM329.0 196.4h0.7v0.7h-0.7zM336.5 181.9h0.7v0.7h-0.7zM331.4 198.0h0.7v0.7h-0.7zM335.6 191.6h0.7v0.7h-0.7zM342.3 202.8h0.7v0.7h-0.7zM351.9 200.7h0.7v0.7h-0.7zM341.2 195.2h0.7v0.7h-0.7zM351.1 203.3h0.7v0.7h-0.7zM338.4 197.0h0.7v0.7h-0.7zM342.0 194.3h0.7v0.7h-0.7zM337.3 185.4h0.7v0.7h-0.7zM337.1 184.0h0.7v0.7h-0.7zM347.6 197.5h0.7v0.7h-0.7zM333.1 203.1h0.7v0.7h-0.7zM345.7 181.6h0.7v0.7h-0.7zM351.3 199.3h0.7v0.7h-0.7zM352.7 186.0h0.7v0.7h-0.7zM343.5 196.8h0.7v0.7h-0.7zM341.5 195.1h0.7v0.7h-0.7zM346.6 184.3h0.7v0.7h-0.7zM332.8 184.9h0.7v0.7h-0.7zM337.0 190.1h0.7v0.7h-0.7zM342.5 195.7h0.7v0.7h-0.7zM340.5 189.6h0.7v0.7h-0.7zM337.6 200.2h0.7v0.7h-0.7zM344.9 194.7h0.7v0.7h-0.7zM338.4 204.1h0.7v0.7h-0.7zM336.7 198.2h0.7v0.7h-0.7zM347.2 192.3h0.7v0.7h-0.7zM345.3 186.7h0.7v0.7h-0.7zM346.4 195.3h0.7v0.7h-0.7zM330.8 198.4h0.7v0.7h-0.7zM334.9 202.3h0.7v0.7h-0.7zM336.2 192.9h0.7v0.7h-0.7zM342.0 191.8h0.7v0.7h-0.7zM341.9 190.4h0.7v0.7h-0.7zM344.3 194.0h0.7v0.7h-0.7zM341.6 176.1h0.7v0.7h-0.7zM347.3 194.2h0.7v0.7h-0.7zM329.6 194.6h0.7v0.7h-0.7zM343.1 201.0h0.7v0.7h-0.7zM333.8 204.1h0.7v0.7h-0.7zM339.3 209.6h0.7v0.7h-0.7zM339.4 198.4h0.7v0.7h-0.7zM338.1 186.7h0.7v0.7h-0.7zM346.9 199.9h0.7v0.7h-0.7zM349.5 199.6h0.7v0.7h-0.7zM336.9 183.2h0.7v0.7h-0.7zM336.4 189.6h0.7v0.7h-0.7zM335.4 197.8h0.7v0.7h-0.7zM342.3 192.2h0.7v0.7h-0.7zM341.3 193.1h0.7v0.7h-0.7zM341.6 198.9h0.7v0.7h-0.7zM346.1 189.5h0.7v0.7h-0.7zM331.3 203.3h0.7v0.7h-0.7zM341.0 201.2h0.7v0.7h-0.7zM330.4 191.9h0.7v0.7h-0.7zM340.5 184.6h0.7v0.7h-0.7zM337.2 198.7h0.7v0.7h-0.7zM346.8 204.4h0.7v0.7h-0.7zM335.1 184.9h0.7v0.7h-0.7zM343.4 200.1h0.7v0.7h-0.7zM341.5 185.5h0.7v0.7h-0.7zM345.0 199.2h0.7v0.7h-0.7zM343.6 190.8h0.7v0.7h-0.7zM342.1 199.1h0.7v0.7h-0.7zM336.9 182.0h0.7v0.7h-0.7zM342.3 197.1h0.7v0.7h-0.7zM340.4 199.8h0.7v0.7h-0.7zM336.8 193.5h0.7v0.7h-0.7zM338.5 197.7h0.7v0.7h-0.7zM349.9 192.4h0.7v0.7h-0.7zM352.6 203.9h0.7v0.7h-0.7zM345.0 197.8h0.7v0.7h-0.7zM350.9 192.8h0.7v0.7h-0.7zM339.6 187.1h0.7v0.7h-0.7zM343.1 202.7h0.7v0.7h-0.7zM343.5 196.8h0.7v0.7h-0.7zM339.1 195.1h0.7v0.7h-0.7zM331.7 200.8h0.7v0.7h-0.7zM337.8 186.8h0.7v0.7h-0.7zM335.8 188.6h0.7v0.7h-0.7zM345.4 200.9h0.7v0.7h-0.7zM332.2 200.0h0.7v0.7h-0.7zM345.6 190.2h0.7v0.7h-0.7zM331.4 189.2h0.7v0.7h-0.7zM336.5 196.2h0.7v0.7h-0.7zM338.2 180.8h0.7v0.7h-0.7zM341.7 184.0h0.7v0.7h-0.7zM345.7 186.2h0.7v0.7h-0.7zM336.1 188.4h0.7v0.7h-0.7zM337.0 202.4h0.7v0.7h-0.7zM345.4 197.9h0.7v0.7h-0.7zM342.2 183.9h0.7v0.7h-0.7zM337.2 190.4h0.7v0.7h-0.7zM334.4 197.3h0.7v0.7h-0.7zM335.9 189.4h0.7v0.7h-0.7zM334.0 180.6h0.7v0.7h-0.7zM343.9 202.7h0.7v0.7h-0.7zM341.3 187.7h0.7v0.7h-0.7zM324.1 195.1h0.7v0.7h-0.7zM347.6 195.9h0.7v0.7h-0.7zM345.9 203.6h0.7v0.7h-0.7zM347.1 191.1h0.7v0.7h-0.7zM346.6 199.0h0.7v0.7h-0.7zM331.1 191.4h0.7v0.7h-0.7zM331.8 193.3h0.7v0.7h-0.7zM343.8 187.1h0.7v0.7h-0.7zM328.0 202.4h0.7v0.7h-0.7zM342.6 203.6h0.7v0.7h-0.7zM332.4 200.9h0.7v0.7h-0.7zM352.7 207.0h0.7v0.7h-0.7zM339.0 195.7h0.7v0.7h-0.7zM339.4 200.5h0.7v0.7h-0.7zM346.5 194.6h0.7v0.7h-0.7zM332.1 198.8h0.7v0.7h-0.7zM337.5 198.1h0.7v0.7h-0.7zM341.9 204.6h0.7v0.7h-0.7zM347.1 191.1h0.7v0.7h-0.7zM342.4 205.5h0.7v0.7h-0.7zM337.1 196.8h0.7v0.7h-0.7zM347.4 202.2h0.7v0.7h-0.7zM343.4 185.4h0.7v0.7h-0.7zM332.7 195.6h0.7v0.7h-0.7zM342.6 210.6h0.7v0.7h-0.7zM335.1 201.4h0.7v0.7h-0.7zM344.9 183.1h0.7v0.7h-0.7zM335.4 195.1h0.7v0.7h-0.7zM337.3 193.0h0.7v0.7h-0.7zM343.1 188.7h0.7v0.7h-0.7zM343.1 189.9h0.7v0.7h-0.7zM337.0 197.5h0.7v0.7h-0.7zM336.9 195.9h0.7v0.7h-0.7zM349.9 194.2h0.7v0.7h-0.7zM339.4 198.8h0.7v0.7h-0.7zM338.1 201.0h0.7v0.7h-0.7zM332.6 198.0h0.7v0.7h-0.7zM337.2 188.8h0.7v0.7h-0.7zM350.9 188.5h0.7v0.7h-0.7zM350.8 198.3h0.7v0.7h-0.7zM349.0 187.7h0.7v0.7h-0.7zM347.5 203.5h0.7v0.7h-0.7zM339.6 193.2h0.7v0.7h-0.7zM355.0 195.2h0.7v0.7h-0.7zM337.8 189.9h0.7v0.7h-0.7zM343.0 196.1h0.7v0.7h-0.7zM341.4 205.2h0.7v0.7h-0.7zM338.3 197.1h0.7v0.7h-0.7zM349.1 187.5h0.7v0.7h-0.7zM346.5 205.9h0.7v0.7h-0.7zM332.2 186.9h0.7v0.7h-0.7zM334.1 182.0h0.7v0.7h-0.7zM343.0 181.9h0.7v0.7h-0.7zM343.3 203.4h0.7v0.7h-0.7zM330.6 191.9h0.7v0.7h-0.7zM328.8 199.1h0.7v0.7h-0.7z" fill="#e0bc20" opacity="0.6"/><ellipse cx="341.00" cy="195.00" rx="4.50" ry="4.50" fill="#8a7a28" opacity="0.7" transform="rotate(0 341.00 195.00)" filter="url(#b15)"/><ellipse cx="357.60" cy="194.50" rx="8.00" ry="11.00" fill="#238a36" opacity="0.95" transform="rotate(0 357.60 194.50)" filter="url(#b1)"/><path d="M354.3 192.4h0.7v0.7h-0.7zM357.8 197.3h0.7v0.7h-0.7zM356.0 194.1h0.7v0.7h-0.7zM355.1 194.7h0.7v0.7h-0.7zM352.3 194.4h0.7v0.7h-0.7zM348.9 191.1h0.7v0.7h-0.7zM366.2 194.5h0.7v0.7h-0.7zM351.9 195.5h0.7v0.7h-0.7zM353.2 184.1h0.7v0.7h-0.7zM354.3 198.4h0.7v0.7h-0.7zM359.3 193.4h0.7v0.7h-0.7zM353.4 187.5h0.7v0.7h-0.7zM363.7 195.5h0.7v0.7h-0.7zM353.3 181.3h0.7v0.7h-0.7zM351.4 208.9h0.7v0.7h-0.7zM352.4 193.5h0.7v0.7h-0.7zM358.5 193.1h0.7v0.7h-0.7zM356.3 185.8h0.7v0.7h-0.7zM352.9 204.1h0.7v0.7h-0.7zM354.2 199.1h0.7v0.7h-0.7zM350.0 192.4h0.7v0.7h-0.7zM358.8 200.2h0.7v0.7h-0.7zM352.5 197.6h0.7v0.7h-0.7zM359.3 189.6h0.7v0.7h-0.7zM359.7 188.6h0.7v0.7h-0.7zM354.0 193.9h0.7v0.7h-0.7zM345.4 193.3h0.7v0.7h-0.7zM353.1 185.2h0.7v0.7h-0.7zM355.7 198.6h0.7v0.7h-0.7zM355.8 201.6h0.7v0.7h-0.7zM352.4 186.1h0.7v0.7h-0.7zM364.6 196.4h0.7v0.7h-0.7zM361.9 189.0h0.7v0.7h-0.7zM361.2 195.6h0.7v0.7h-0.7zM360.5 194.2h0.7v0.7h-0.7zM363.0 190.1h0.7v0.7h-0.7zM353.3 185.1h0.7v0.7h-0.7zM362.8 189.6h0.7v0.7h-0.7zM352.9 188.4h0.7v0.7h-0.7zM355.6 186.4h0.7v0.7h-0.7zM356.3 190.2h0.7v0.7h-0.7zM355.1 188.2h0.7v0.7h-0.7zM357.8 191.2h0.7v0.7h-0.7zM358.1 195.5h0.7v0.7h-0.7zM359.1 180.9h0.7v0.7h-0.7zM355.2 189.2h0.7v0.7h-0.7zM361.1 184.5h0.7v0.7h-0.7zM354.4 192.2h0.7v0.7h-0.7zM356.1 199.9h0.7v0.7h-0.7zM355.6 199.8h0.7v0.7h-0.7zM351.0 183.1h0.7v0.7h-0.7zM363.1 196.6h0.7v0.7h-0.7zM359.8 194.7h0.7v0.7h-0.7zM359.8 186.7h0.7v0.7h-0.7zM361.9 190.8h0.7v0.7h-0.7zM362.0 194.5h0.7v0.7h-0.7zM348.7 186.3h0.7v0.7h-0.7zM362.7 193.2h0.7v0.7h-0.7zM355.8 195.5h0.7v0.7h-0.7zM355.7 190.7h0.7v0.7h-0.7zM358.1 194.9h0.7v0.7h-0.7zM364.4 194.3h0.7v0.7h-0.7zM366.1 204.8h0.7v0.7h-0.7zM365.3 200.4h0.7v0.7h-0.7zM358.2 194.8h0.7v0.7h-0.7zM357.0 189.6h0.7v0.7h-0.7zM357.3 190.2h0.7v0.7h-0.7zM365.0 197.2h0.7v0.7h-0.7zM355.6 182.5h0.7v0.7h-0.7zM357.4 191.5h0.7v0.7h-0.7zM352.7 187.2h0.7v0.7h-0.7zM347.5 197.4h0.7v0.7h-0.7zM357.3 209.5h0.7v0.7h-0.7zM357.5 193.1h0.7v0.7h-0.7zM364.1 194.8h0.7v0.7h-0.7zM358.4 191.8h0.7v0.7h-0.7zM354.9 203.0h0.7v0.7h-0.7zM362.1 204.3h0.7v0.7h-0.7zM356.0 194.2h0.7v0.7h-0.7zM353.6 199.8h0.7v0.7h-0.7zM351.3 197.4h0.7v0.7h-0.7zM362.5 202.5h0.7v0.7h-0.7zM353.4 200.5h0.7v0.7h-0.7zM354.4 189.5h0.7v0.7h-0.7zM351.6 200.9h0.7v0.7h-0.7zM365.0 190.4h0.7v0.7h-0.7zM354.2 192.0h0.7v0.7h-0.7zM368.9 200.0h0.7v0.7h-0.7zM355.2 183.2h0.7v0.7h-0.7zM354.6 201.1h0.7v0.7h-0.7zM366.0 192.4h0.7v0.7h-0.7zM354.5 190.9h0.7v0.7h-0.7zM349.1 199.4h0.7v0.7h-0.7zM352.7 200.4h0.7v0.7h-0.7zM349.9 186.4h0.7v0.7h-0.7zM358.9 189.4h0.7v0.7h-0.7zM361.1 194.0h0.7v0.7h-0.7zM352.3 197.7h0.7v0.7h-0.7zM361.4 182.5h0.7v0.7h-0.7zM365.8 197.0h0.7v0.7h-0.7zM361.0 182.8h0.7v0.7h-0.7zM354.4 191.9h0.7v0.7h-0.7zM362.4 185.2h0.7v0.7h-0.7zM353.6 181.8h0.7v0.7h-0.7zM356.5 196.1h0.7v0.7h-0.7zM350.0 190.5h0.7v0.7h-0.7zM359.9 203.5h0.7v0.7h-0.7zM360.6 192.2h0.7v0.7h-0.7zM352.3 188.4h0.7v0.7h-0.7zM354.6 194.9h0.7v0.7h-0.7zM357.4 204.0h0.7v0.7h-0.7zM358.9 187.6h0.7v0.7h-0.7zM364.5 199.7h0.7v0.7h-0.7zM358.1 189.7h0.7v0.7h-0.7zM349.2 187.9h0.7v0.7h-0.7zM361.7 189.2h0.7v0.7h-0.7zM351.7 195.2h0.7v0.7h-0.7zM358.7 197.6h0.7v0.7h-0.7zM360.5 202.5h0.7v0.7h-0.7zM353.8 199.9h0.7v0.7h-0.7zM353.2 198.2h0.7v0.7h-0.7zM358.4 195.5h0.7v0.7h-0.7zM362.0 193.9h0.7v0.7h-0.7zM362.6 199.3h0.7v0.7h-0.7zM358.2 190.6h0.7v0.7h-0.7zM354.2 190.8h0.7v0.7h-0.7zM356.7 193.9h0.7v0.7h-0.7zM371.0 197.8h0.7v0.7h-0.7zM361.1 188.8h0.7v0.7h-0.7zM354.4 192.1h0.7v0.7h-0.7zM358.5 187.8h0.7v0.7h-0.7zM364.9 190.6h0.7v0.7h-0.7zM362.5 180.0h0.7v0.7h-0.7zM357.6 195.7h0.7v0.7h-0.7zM358.5 197.6h0.7v0.7h-0.7zM358.9 195.0h0.7v0.7h-0.7zM349.1 189.7h0.7v0.7h-0.7zM347.1 197.8h0.7v0.7h-0.7zM359.0 192.8h0.7v0.7h-0.7zM353.9 190.5h0.7v0.7h-0.7zM365.9 204.4h0.7v0.7h-0.7zM357.3 201.7h0.7v0.7h-0.7zM350.5 182.4h0.7v0.7h-0.7zM355.4 188.8h0.7v0.7h-0.7zM355.1 195.1h0.7v0.7h-0.7zM371.2 190.0h0.7v0.7h-0.7zM357.8 195.7h0.7v0.7h-0.7zM357.4 199.6h0.7v0.7h-0.7zM365.6 186.5h0.7v0.7h-0.7zM358.3 192.4h0.7v0.7h-0.7zM359.2 184.8h0.7v0.7h-0.7zM349.7 180.1h0.7v0.7h-0.7zM360.0 195.2h0.7v0.7h-0.7zM357.9 179.8h0.7v0.7h-0.7zM355.9 189.5h0.7v0.7h-0.7zM351.2 188.5h0.7v0.7h-0.7zM360.7 197.3h0.7v0.7h-0.7zM357.5 197.1h0.7v0.7h-0.7zM354.9 194.4h0.7v0.7h-0.7zM357.8 197.3h0.7v0.7h-0.7z" fill="#1a7a2a" opacity="0.5"/><ellipse cx="339.50" cy="216.00" rx="10.60" ry="11.00" fill="#c41c44" opacity="0.95" transform="rotate(0 339.50 216.00)" filter="url(#b1)"/><path d="M339.1 215.1h0.7v0.7h-0.7zM338.7 212.1h0.7v0.7h-0.7zM352.9 219.1h0.7v0.7h-0.7zM342.1 229.7h0.7v0.7h-0.7zM347.9 206.7h0.7v0.7h-0.7zM343.7 221.0h0.7v0.7h-0.7zM350.8 223.9h0.7v0.7h-0.7zM344.1 208.9h0.7v0.7h-0.7zM334.3 217.6h0.7v0.7h-0.7zM342.5 209.9h0.7v0.7h-0.7zM337.2 213.6h0.7v0.7h-0.7zM339.9 218.0h0.7v0.7h-0.7zM337.8 208.6h0.7v0.7h-0.7zM347.0 225.6h0.7v0.7h-0.7zM338.9 222.1h0.7v0.7h-0.7zM342.2 220.0h0.7v0.7h-0.7zM342.4 211.4h0.7v0.7h-0.7zM342.9 222.1h0.7v0.7h-0.7zM334.1 227.8h0.7v0.7h-0.7zM352.0 226.9h0.7v0.7h-0.7zM351.4 220.5h0.7v0.7h-0.7zM337.5 212.4h0.7v0.7h-0.7zM334.6 216.7h0.7v0.7h-0.7zM339.3 220.0h0.7v0.7h-0.7zM327.4 229.9h0.7v0.7h-0.7zM353.2 215.8h0.7v0.7h-0.7zM343.6 218.9h0.7v0.7h-0.7zM341.1 214.7h0.7v0.7h-0.7zM338.8 211.1h0.7v0.7h-0.7zM340.6 215.9h0.7v0.7h-0.7zM341.4 210.9h0.7v0.7h-0.7zM339.7 216.3h0.7v0.7h-0.7zM343.1 209.6h0.7v0.7h-0.7zM342.0 221.9h0.7v0.7h-0.7zM343.1 213.8h0.7v0.7h-0.7zM336.6 214.6h0.7v0.7h-0.7zM343.9 225.3h0.7v0.7h-0.7zM338.6 212.1h0.7v0.7h-0.7zM341.8 217.2h0.7v0.7h-0.7zM334.1 211.6h0.7v0.7h-0.7zM338.9 220.0h0.7v0.7h-0.7zM332.3 209.9h0.7v0.7h-0.7zM342.5 208.7h0.7v0.7h-0.7zM340.2 218.1h0.7v0.7h-0.7zM338.8 209.9h0.7v0.7h-0.7zM339.1 214.0h0.7v0.7h-0.7zM341.5 211.0h0.7v0.7h-0.7zM346.0 205.9h0.7v0.7h-0.7zM338.4 216.0h0.7v0.7h-0.7zM345.3 212.3h0.7v0.7h-0.7zM342.8 212.6h0.7v0.7h-0.7zM343.9 226.4h0.7v0.7h-0.7zM337.1 218.7h0.7v0.7h-0.7zM333.9 221.8h0.7v0.7h-0.7zM346.8 216.2h0.7v0.7h-0.7zM332.7 218.4h0.7v0.7h-0.7zM346.4 222.5h0.7v0.7h-0.7zM344.4 205.0h0.7v0.7h-0.7zM335.4 224.5h0.7v0.7h-0.7zM332.1 222.8h0.7v0.7h-0.7zM350.8 220.6h0.7v0.7h-0.7zM346.2 214.0h0.7v0.7h-0.7zM332.1 215.4h0.7v0.7h-0.7zM338.3 215.7h0.7v0.7h-0.7zM343.7 215.1h0.7v0.7h-0.7zM340.7 218.5h0.7v0.7h-0.7zM339.5 227.1h0.7v0.7h-0.7zM342.2 216.5h0.7v0.7h-0.7zM338.3 212.2h0.7v0.7h-0.7zM347.6 216.9h0.7v0.7h-0.7zM333.0 212.6h0.7v0.7h-0.7zM338.7 213.3h0.7v0.7h-0.7zM346.0 209.0h0.7v0.7h-0.7zM342.5 216.9h0.7v0.7h-0.7zM332.4 216.3h0.7v0.7h-0.7zM338.9 219.0h0.7v0.7h-0.7zM336.8 217.8h0.7v0.7h-0.7zM329.5 209.5h0.7v0.7h-0.7zM344.2 222.2h0.7v0.7h-0.7zM339.4 212.4h0.7v0.7h-0.7zM346.0 203.4h0.7v0.7h-0.7zM334.7 220.0h0.7v0.7h-0.7zM343.4 209.8h0.7v0.7h-0.7zM328.2 224.7h0.7v0.7h-0.7zM340.4 210.6h0.7v0.7h-0.7zM339.8 221.4h0.7v0.7h-0.7zM323.9 222.7h0.7v0.7h-0.7zM343.9 203.5h0.7v0.7h-0.7zM344.1 205.3h0.7v0.7h-0.7zM346.3 218.4h0.7v0.7h-0.7zM353.0 212.3h0.7v0.7h-0.7zM339.5 222.3h0.7v0.7h-0.7zM335.7 211.8h0.7v0.7h-0.7zM337.3 215.6h0.7v0.7h-0.7zM333.0 218.9h0.7v0.7h-0.7zM342.8 216.4h0.7v0.7h-0.7zM349.7 214.0h0.7v0.7h-0.7zM347.3 212.7h0.7v0.7h-0.7zM344.0 204.4h0.7v0.7h-0.7zM340.7 214.9h0.7v0.7h-0.7zM336.5 212.3h0.7v0.7h-0.7zM337.4 211.7h0.7v0.7h-0.7zM326.3 212.4h0.7v0.7h-0.7zM336.2 212.9h0.7v0.7h-0.7zM333.2 215.2h0.7v0.7h-0.7zM344.2 214.5h0.7v0.7h-0.7zM336.5 224.1h0.7v0.7h-0.7zM345.4 221.5h0.7v0.7h-0.7zM346.4 214.0h0.7v0.7h-0.7zM338.7 222.7h0.7v0.7h-0.7zM336.2 215.3h0.7v0.7h-0.7zM341.8 218.2h0.7v0.7h-0.7zM337.8 221.9h0.7v0.7h-0.7zM338.4 220.4h0.7v0.7h-0.7zM345.9 220.0h0.7v0.7h-0.7zM343.9 209.0h0.7v0.7h-0.7zM331.6 212.3h0.7v0.7h-0.7zM342.4 225.0h0.7v0.7h-0.7zM332.2 217.8h0.7v0.7h-0.7zM334.4 211.6h0.7v0.7h-0.7zM337.8 220.2h0.7v0.7h-0.7zM340.8 223.1h0.7v0.7h-0.7zM333.6 221.3h0.7v0.7h-0.7zM345.1 216.4h0.7v0.7h-0.7zM342.4 212.6h0.7v0.7h-0.7zM333.0 213.6h0.7v0.7h-0.7zM335.6 233.3h0.7v0.7h-0.7zM336.6 225.9h0.7v0.7h-0.7zM340.7 217.9h0.7v0.7h-0.7zM344.0 211.3h0.7v0.7h-0.7zM345.0 218.3h0.7v0.7h-0.7zM330.4 219.6h0.7v0.7h-0.7zM342.8 218.7h0.7v0.7h-0.7zM349.0 213.5h0.7v0.7h-0.7zM342.6 220.5h0.7v0.7h-0.7zM334.1 223.2h0.7v0.7h-0.7zM330.8 208.2h0.7v0.7h-0.7zM342.6 209.5h0.7v0.7h-0.7zM338.8 206.1h0.7v0.7h-0.7zM339.9 209.2h0.7v0.7h-0.7zM341.6 206.8h0.7v0.7h-0.7zM342.2 214.4h0.7v0.7h-0.7zM339.9 215.6h0.7v0.7h-0.7zM340.3 208.1h0.7v0.7h-0.7zM324.1 216.2h0.7v0.7h-0.7zM333.9 213.3h0.7v0.7h-0.7zM342.1 204.1h0.7v0.7h-0.7zM334.9 212.3h0.7v0.7h-0.7zM333.2 218.0h0.7v0.7h-0.7zM338.7 211.1h0.7v0.7h-0.7zM333.6 220.8h0.7v0.7h-0.7zM335.5 219.5h0.7v0.7h-0.7zM342.2 204.6h0.7v0.7h-0.7zM333.0 216.0h0.7v0.7h-0.7zM341.6 220.7h0.7v0.7h-0.7zM344.3 222.2h0.7v0.7h-0.7zM337.3 214.7h0.7v0.7h-0.7zM344.2 213.4h0.7v0.7h-0.7zM345.8 206.5h0.7v0.7h-0.7zM343.4 215.0h0.7v0.7h-0.7zM327.7 221.9h0.7v0.7h-0.7zM341.4 216.1h0.7v0.7h-0.7zM333.0 213.2h0.7v0.7h-0.7zM348.6 211.0h0.7v0.7h-0.7zM318.7 210.9h0.7v0.7h-0.7zM332.3 215.2h0.7v0.7h-0.7zM337.1 210.5h0.7v0.7h-0.7zM334.4 222.3h0.7v0.7h-0.7zM330.8 227.7h0.7v0.7h-0.7zM336.2 209.4h0.7v0.7h-0.7zM344.2 219.4h0.7v0.7h-0.7zM333.2 220.5h0.7v0.7h-0.7zM328.5 210.5h0.7v0.7h-0.7zM346.3 214.5h0.7v0.7h-0.7zM331.7 219.1h0.7v0.7h-0.7zM345.0 215.9h0.7v0.7h-0.7zM328.7 213.9h0.7v0.7h-0.7zM342.0 220.6h0.7v0.7h-0.7zM350.6 214.5h0.7v0.7h-0.7zM336.6 215.8h0.7v0.7h-0.7zM346.7 210.4h0.7v0.7h-0.7zM347.3 199.5h0.7v0.7h-0.7zM344.3 211.9h0.7v0.7h-0.7zM342.3 220.1h0.7v0.7h-0.7zM332.4 215.5h0.7v0.7h-0.7zM340.9 219.5h0.7v0.7h-0.7zM333.9 210.1h0.7v0.7h-0.7zM328.0 231.2h0.7v0.7h-0.7zM338.3 214.7h0.7v0.7h-0.7zM330.5 221.6h0.7v0.7h-0.7zM336.3 224.6h0.7v0.7h-0.7zM344.6 216.1h0.7v0.7h-0.7zM343.9 209.3h0.7v0.7h-0.7zM337.5 212.5h0.7v0.7h-0.7zM331.9 216.1h0.7v0.7h-0.7zM338.6 224.6h0.7v0.7h-0.7zM319.4 212.0h0.7v0.7h-0.7zM334.0 213.2h0.7v0.7h-0.7zM342.0 218.4h0.7v0.7h-0.7zM339.7 213.2h0.7v0.7h-0.7zM342.5 218.2h0.7v0.7h-0.7zM328.4 214.4h0.7v0.7h-0.7zM331.3 208.9h0.7v0.7h-0.7zM340.4 216.4h0.7v0.7h-0.7zM340.2 210.7h0.7v0.7h-0.7zM338.3 210.5h0.7v0.7h-0.7zM341.8 220.1h0.7v0.7h-0.7zM350.0 223.6h0.7v0.7h-0.7zM334.7 213.3h0.7v0.7h-0.7zM333.9 217.8h0.7v0.7h-0.7zM351.4 220.3h0.7v0.7h-0.7zM326.3 208.5h0.7v0.7h-0.7zM331.7 219.1h0.7v0.7h-0.7zM339.5 217.8h0.7v0.7h-0.7zM350.2 211.0h0.7v0.7h-0.7zM334.4 227.8h0.7v0.7h-0.7zM341.6 211.3h0.7v0.7h-0.7zM327.3 206.9h0.7v0.7h-0.7zM324.8 216.4h0.7v0.7h-0.7zM339.8 222.0h0.7v0.7h-0.7z" fill="#b0183c" opacity="0.6"/><ellipse cx="338.00" cy="205.00" rx="6.00" ry="3.00" fill="#d86a3a" opacity="0.5" transform="rotate(0 338.00 205.00)" filter="url(#b1)"/><ellipse cx="356.80" cy="211.50" rx="9.60" ry="15.20" fill="#2a34a0" opacity="0.97" transform="rotate(0 356.80 211.50)" filter="url(#b1)"/><path d="M356.0 205.6h0.7v0.7h-0.7zM352.7 227.7h0.7v0.7h-0.7zM347.1 213.0h0.7v0.7h-0.7zM356.9 216.7h0.7v0.7h-0.7zM354.6 215.7h0.7v0.7h-0.7zM361.3 210.2h0.7v0.7h-0.7zM354.3 209.9h0.7v0.7h-0.7zM351.5 209.7h0.7v0.7h-0.7zM355.1 213.3h0.7v0.7h-0.7zM364.1 222.6h0.7v0.7h-0.7zM354.4 216.6h0.7v0.7h-0.7zM358.4 218.0h0.7v0.7h-0.7zM356.9 213.8h0.7v0.7h-0.7zM354.2 204.8h0.7v0.7h-0.7zM361.6 222.5h0.7v0.7h-0.7zM360.4 215.2h0.7v0.7h-0.7zM358.3 207.7h0.7v0.7h-0.7zM347.0 217.1h0.7v0.7h-0.7zM357.9 206.8h0.7v0.7h-0.7zM351.5 222.4h0.7v0.7h-0.7zM346.9 226.5h0.7v0.7h-0.7zM360.3 231.7h0.7v0.7h-0.7zM352.9 211.3h0.7v0.7h-0.7zM354.0 212.8h0.7v0.7h-0.7zM355.6 205.1h0.7v0.7h-0.7zM362.7 204.8h0.7v0.7h-0.7zM354.0 216.2h0.7v0.7h-0.7zM353.8 207.8h0.7v0.7h-0.7zM358.8 208.4h0.7v0.7h-0.7zM349.9 210.6h0.7v0.7h-0.7zM355.6 226.0h0.7v0.7h-0.7zM350.8 219.7h0.7v0.7h-0.7zM352.5 208.5h0.7v0.7h-0.7zM355.0 213.8h0.7v0.7h-0.7zM361.5 226.4h0.7v0.7h-0.7zM353.3 222.8h0.7v0.7h-0.7zM362.3 218.4h0.7v0.7h-0.7zM352.6 219.2h0.7v0.7h-0.7zM356.2 214.5h0.7v0.7h-0.7zM355.3 217.1h0.7v0.7h-0.7zM362.9 221.1h0.7v0.7h-0.7zM355.7 220.0h0.7v0.7h-0.7zM364.8 203.5h0.7v0.7h-0.7zM364.9 200.1h0.7v0.7h-0.7zM359.8 216.5h0.7v0.7h-0.7zM365.0 213.9h0.7v0.7h-0.7zM354.2 204.7h0.7v0.7h-0.7zM349.9 218.0h0.7v0.7h-0.7zM355.5 205.4h0.7v0.7h-0.7zM359.7 205.0h0.7v0.7h-0.7zM354.4 207.6h0.7v0.7h-0.7zM365.9 223.9h0.7v0.7h-0.7zM355.9 198.1h0.7v0.7h-0.7zM358.3 212.1h0.7v0.7h-0.7zM358.7 216.3h0.7v0.7h-0.7zM355.0 219.4h0.7v0.7h-0.7zM361.4 213.3h0.7v0.7h-0.7zM354.6 207.4h0.7v0.7h-0.7zM360.6 202.2h0.7v0.7h-0.7zM355.9 205.1h0.7v0.7h-0.7zM349.1 216.6h0.7v0.7h-0.7zM356.7 211.8h0.7v0.7h-0.7zM361.6 198.8h0.7v0.7h-0.7zM356.4 214.0h0.7v0.7h-0.7zM361.4 202.3h0.7v0.7h-0.7zM360.7 213.4h0.7v0.7h-0.7zM364.3 221.2h0.7v0.7h-0.7zM359.8 229.8h0.7v0.7h-0.7zM356.8 207.9h0.7v0.7h-0.7zM354.9 203.5h0.7v0.7h-0.7zM356.6 195.5h0.7v0.7h-0.7zM356.3 215.1h0.7v0.7h-0.7zM362.3 208.5h0.7v0.7h-0.7zM364.4 206.0h0.7v0.7h-0.7zM356.1 195.5h0.7v0.7h-0.7zM352.6 204.8h0.7v0.7h-0.7zM364.8 215.9h0.7v0.7h-0.7zM350.9 215.9h0.7v0.7h-0.7zM359.4 209.6h0.7v0.7h-0.7zM356.9 209.0h0.7v0.7h-0.7zM353.9 196.8h0.7v0.7h-0.7zM356.3 222.2h0.7v0.7h-0.7zM364.5 209.2h0.7v0.7h-0.7zM352.8 209.7h0.7v0.7h-0.7zM361.6 214.4h0.7v0.7h-0.7zM353.7 214.5h0.7v0.7h-0.7zM355.7 215.8h0.7v0.7h-0.7zM354.6 199.3h0.7v0.7h-0.7zM357.1 217.8h0.7v0.7h-0.7zM350.9 210.6h0.7v0.7h-0.7zM361.5 208.4h0.7v0.7h-0.7zM353.3 228.3h0.7v0.7h-0.7zM361.2 220.0h0.7v0.7h-0.7zM351.7 225.0h0.7v0.7h-0.7zM347.9 207.2h0.7v0.7h-0.7zM360.8 222.5h0.7v0.7h-0.7zM351.8 206.0h0.7v0.7h-0.7zM357.9 195.5h0.7v0.7h-0.7zM360.2 216.1h0.7v0.7h-0.7zM354.4 215.9h0.7v0.7h-0.7zM360.9 214.1h0.7v0.7h-0.7zM359.6 224.0h0.7v0.7h-0.7zM354.2 212.8h0.7v0.7h-0.7zM354.0 220.0h0.7v0.7h-0.7zM354.6 215.4h0.7v0.7h-0.7zM357.5 212.0h0.7v0.7h-0.7zM366.0 210.8h0.7v0.7h-0.7zM364.4 218.3h0.7v0.7h-0.7zM363.8 210.1h0.7v0.7h-0.7zM361.7 217.7h0.7v0.7h-0.7zM353.5 213.7h0.7v0.7h-0.7zM356.1 211.2h0.7v0.7h-0.7zM363.7 205.6h0.7v0.7h-0.7zM347.9 197.2h0.7v0.7h-0.7zM354.4 206.2h0.7v0.7h-0.7zM356.9 216.1h0.7v0.7h-0.7zM366.1 214.0h0.7v0.7h-0.7zM359.3 205.5h0.7v0.7h-0.7zM359.9 222.6h0.7v0.7h-0.7zM363.9 195.5h0.7v0.7h-0.7zM361.5 224.5h0.7v0.7h-0.7zM361.2 199.3h0.7v0.7h-0.7zM355.2 216.3h0.7v0.7h-0.7zM359.0 204.9h0.7v0.7h-0.7zM352.1 219.4h0.7v0.7h-0.7zM349.7 223.2h0.7v0.7h-0.7zM356.9 214.0h0.7v0.7h-0.7zM349.7 206.6h0.7v0.7h-0.7zM360.4 199.5h0.7v0.7h-0.7zM367.8 200.0h0.7v0.7h-0.7zM350.3 211.9h0.7v0.7h-0.7zM359.3 217.5h0.7v0.7h-0.7zM354.8 209.8h0.7v0.7h-0.7zM355.6 206.8h0.7v0.7h-0.7zM343.2 219.4h0.7v0.7h-0.7zM358.1 212.8h0.7v0.7h-0.7zM353.5 213.6h0.7v0.7h-0.7zM356.7 210.9h0.7v0.7h-0.7zM362.6 197.4h0.7v0.7h-0.7zM358.1 202.8h0.7v0.7h-0.7zM355.1 223.7h0.7v0.7h-0.7zM351.1 210.7h0.7v0.7h-0.7zM353.7 219.3h0.7v0.7h-0.7zM351.6 197.8h0.7v0.7h-0.7zM359.5 208.6h0.7v0.7h-0.7zM355.1 220.3h0.7v0.7h-0.7zM352.1 208.5h0.7v0.7h-0.7zM357.6 214.9h0.7v0.7h-0.7zM354.1 219.9h0.7v0.7h-0.7zM368.6 208.2h0.7v0.7h-0.7zM366.7 194.3h0.7v0.7h-0.7zM364.2 208.7h0.7v0.7h-0.7zM357.5 208.7h0.7v0.7h-0.7zM353.4 201.1h0.7v0.7h-0.7zM354.7 222.1h0.7v0.7h-0.7zM362.8 208.7h0.7v0.7h-0.7zM354.0 205.8h0.7v0.7h-0.7zM350.5 226.2h0.7v0.7h-0.7zM360.3 212.5h0.7v0.7h-0.7zM354.2 203.2h0.7v0.7h-0.7zM363.8 217.9h0.7v0.7h-0.7zM351.8 219.6h0.7v0.7h-0.7zM351.0 216.7h0.7v0.7h-0.7zM351.7 208.1h0.7v0.7h-0.7zM359.4 215.0h0.7v0.7h-0.7zM362.1 204.7h0.7v0.7h-0.7zM365.1 222.5h0.7v0.7h-0.7zM356.7 215.3h0.7v0.7h-0.7zM352.7 210.3h0.7v0.7h-0.7zM349.8 212.2h0.7v0.7h-0.7zM357.9 222.5h0.7v0.7h-0.7zM361.8 218.1h0.7v0.7h-0.7zM354.9 209.7h0.7v0.7h-0.7zM355.0 213.3h0.7v0.7h-0.7zM346.6 217.8h0.7v0.7h-0.7zM348.5 207.3h0.7v0.7h-0.7zM356.9 207.3h0.7v0.7h-0.7zM365.6 210.7h0.7v0.7h-0.7zM365.1 221.1h0.7v0.7h-0.7zM354.2 214.8h0.7v0.7h-0.7zM363.7 208.8h0.7v0.7h-0.7zM357.3 206.9h0.7v0.7h-0.7zM357.1 208.6h0.7v0.7h-0.7zM357.2 219.7h0.7v0.7h-0.7zM364.2 212.6h0.7v0.7h-0.7zM357.9 218.5h0.7v0.7h-0.7zM355.3 202.9h0.7v0.7h-0.7zM362.7 203.9h0.7v0.7h-0.7zM361.7 203.6h0.7v0.7h-0.7zM366.5 203.0h0.7v0.7h-0.7zM361.3 223.7h0.7v0.7h-0.7zM351.7 223.6h0.7v0.7h-0.7zM352.5 197.1h0.7v0.7h-0.7zM360.6 217.2h0.7v0.7h-0.7zM355.7 190.9h0.7v0.7h-0.7zM356.5 209.0h0.7v0.7h-0.7zM354.8 209.1h0.7v0.7h-0.7zM347.3 206.9h0.7v0.7h-0.7zM366.3 224.1h0.7v0.7h-0.7zM354.9 205.7h0.7v0.7h-0.7z" fill="#222c90" opacity="0.6"/><ellipse cx="359.50" cy="215.50" rx="4.00" ry="5.00" fill="#101858" opacity="0.75" transform="rotate(0 359.50 215.50)" filter="url(#b15)"/></g>
<line x1="348.50" y1="178.00" x2="348.50" y2="228.00" stroke="#222" stroke-width="0.75"/>
<line x1="327.50" y1="205.50" x2="378.00" y2="205.50" stroke="#222" stroke-width="0.75"/>
<rect x="327.50" y="178.00" width="50.50" height="50.00" fill="none" stroke="#777" stroke-width="0.75" />
<g clip-path="url(#cp)"><ellipse cx="433.00" cy="202.50" rx="19.50" ry="19.50" fill="#c8c8d0" opacity="0.7" transform="rotate(0 433.00 202.50)" filter="url(#b2)"/><ellipse cx="433.00" cy="202.50" rx="13.00" ry="13.00" fill="#c0c0c8" opacity="0.6" transform="rotate(0 433.00 202.50)" filter="url(#b2)"/><path d="M416.80,196.50 C417.70,194.72 418.67,191.43 420.00,190.10 C421.33,188.77 423.18,188.32 424.80,188.50 C426.42,188.68 428.70,189.87 429.70,191.20 C430.70,192.53 431.17,194.53 430.80,196.50 C430.43,198.47 428.93,201.20 427.50,203.00 C426.07,204.80 423.82,206.40 422.20,207.30 C420.58,208.20 418.97,208.75 417.80,208.40 C416.63,208.05 415.73,206.47 415.20,205.20 C414.67,203.93 414.33,202.25 414.60,200.80 C414.87,199.35 415.90,198.28 416.80,196.50Z" fill="#b8183a" filter="url(#b05)"/><path d="M432.90,186.80 C433.62,185.63 435.40,183.82 437.20,183.10 C439.00,182.38 441.82,182.15 443.70,182.50 C445.58,182.85 447.52,183.93 448.50,185.20 C449.48,186.47 449.87,188.57 449.60,190.10 C449.33,191.63 448.42,193.50 446.90,194.40 C445.38,195.30 442.47,195.60 440.50,195.50 C438.53,195.40 436.37,194.70 435.10,193.80 C433.83,192.90 433.27,191.27 432.90,190.10 C432.53,188.93 432.18,187.97 432.90,186.80Z" fill="#f0c418" filter="url(#b05)"/><path d="M437.20,199.80 C438.37,198.82 440.80,197.28 442.60,197.10 C444.40,196.92 446.83,197.53 448.00,198.70 C449.17,199.87 449.60,202.13 449.60,204.10 C449.60,206.07 448.98,208.72 448.00,210.50 C447.02,212.28 445.32,214.25 443.70,214.80 C442.08,215.35 439.65,214.87 438.30,213.80 C436.95,212.73 436.05,210.20 435.60,208.40 C435.15,206.60 435.33,204.43 435.60,203.00 C435.87,201.57 436.03,200.78 437.20,199.80Z" fill="#168a32" filter="url(#b05)"/><path d="M424.30,208.40 C425.42,207.15 427.90,206.62 429.70,206.80 C431.50,206.98 433.93,208.17 435.10,209.50 C436.27,210.83 436.70,213.10 436.70,214.80 C436.70,216.50 436.27,218.62 435.10,219.70 C433.93,220.78 431.42,221.38 429.70,221.30 C427.98,221.22 425.92,220.37 424.80,219.20 C423.68,218.03 423.08,216.10 423.00,214.30 C422.92,212.50 423.18,209.65 424.30,208.40Z" fill="#222a92" filter="url(#b05)"/><ellipse cx="423.00" cy="198.50" rx="3.00" ry="3.50" fill="#701020" opacity="0.5" transform="rotate(0 423.00 198.50)" filter="url(#b1)"/><ellipse cx="441.50" cy="189.50" rx="2.50" ry="2.50" fill="#8a7018" opacity="0.5" transform="rotate(0 441.50 189.50)" filter="url(#b1)"/><ellipse cx="443.00" cy="207.00" rx="2.50" ry="3.00" fill="#0a5a1a" opacity="0.35" transform="rotate(0 443.00 207.00)" filter="url(#b1)"/><ellipse cx="430.00" cy="214.50" rx="2.50" ry="2.50" fill="#101860" opacity="0.4" transform="rotate(0 430.00 214.50)" filter="url(#b1)"/></g>
<rect x="408.60" y="177.40" width="50.50" height="50.60" fill="none" stroke="#777" stroke-width="0.75" />
<text transform="translate(11.80,319.10) scale(1,1.07)" x="0" y="0" font-size="11.5" text-anchor="start" fill="#111" stroke="#111" stroke-width="0.1" font-weight="bold" >C</text>
<text transform="translate(51.00,323.00) scale(1,1.07)" x="0" y="0" font-size="8.9" text-anchor="start" fill="#2b2b2b" stroke="#2b2b2b" stroke-width="0.1" >FlowSOM</text>
<text transform="translate(51.00,334.20) scale(1,1.07)" x="0" y="0" font-size="8.9" text-anchor="start" fill="#2b2b2b" stroke="#2b2b2b" stroke-width="0.1" >clustering</text>
<polyline points="67.1,393.7 63.7,389.6 57.9,388.3 55.8,384 52.3,376.2 46.2,371 41.5,366.7" fill="none" stroke="#b0b0b0" stroke-width="0.4"/><polyline points="43.7,386.5 39.3,387" fill="none" stroke="#b0b0b0" stroke-width="0.4"/><polyline points="67.1,393.7 70.6,389.4 75.3,385.2 74.3,379.9 74.8,373 75.7,366.6 74.3,361.3" fill="none" stroke="#b0b0b0" stroke-width="0.4"/><polyline points="80.6,379.3 82.8,375.1 85.2,370.7 87,365" fill="none" stroke="#b0b0b0" stroke-width="0.4"/><polyline points="75.3,385.2 79.6,384.1 83.8,384.6 92.8,381.5 99.7,377.8 108.5,377.4" fill="none" stroke="#b0b0b0" stroke-width="0.4"/><polyline points="67.1,393.7 61.9,397.1 58.5,406.3 53.8,414.4 52.7,420.8" fill="none" stroke="#b0b0b0" stroke-width="0.4"/><polyline points="67.1,393.7 73.5,396 76.3,402.3 75.8,408.1 81.5,412.7 88.5,412.1 91.9,414.4" fill="none" stroke="#b0b0b0" stroke-width="0.4"/><polyline points="75.8,408.1 74,412.1 72.9,417.9 72.9,430.6" fill="none" stroke="#b0b0b0" stroke-width="0.4"/><circle cx="47.5" cy="374.5" r="3.05" fill="#c6eac4" opacity="0.9"/><circle cx="45" cy="372.5" r="3.05" fill="#c6eac4" opacity="0.9"/><circle cx="53.5" cy="378.5" r="3.05" fill="#c6eac4" opacity="0.9"/><circle cx="55.5" cy="382.5" r="3.05" fill="#c6eac4" opacity="0.9"/><circle cx="47.5" cy="378.5" r="3.05" fill="#c6eac4" opacity="0.9"/><circle cx="51.5" cy="386" r="3.05" fill="#c6eac4" opacity="0.9"/><circle cx="43" cy="364.5" r="3.05" fill="#c6eac4" opacity="0.9"/><circle cx="44.7" cy="364.5" r="3.05" fill="#c6eac4" opacity="0.9"/><circle cx="41.5" cy="366.7" r="3.05" fill="#c6eac4" opacity="0.9"/><circle cx="40.6" cy="370.1" r="3.05" fill="#c6eac4" opacity="0.9"/><circle cx="44.1" cy="368.8" r="3.05" fill="#c6eac4" opacity="0.9"/><circle cx="46.2" cy="371" r="3.05" fill="#c6eac4" opacity="0.9"/><circle cx="49.7" cy="369.2" r="3.05" fill="#c6eac4" opacity="0.9"/><circle cx="48.8" cy="372.3" r="3.05" fill="#c6eac4" opacity="0.9"/><circle cx="50.6" cy="374.4" r="3.05" fill="#c6eac4" opacity="0.9"/><circle cx="52.3" cy="376.2" r="3.05" fill="#c6eac4" opacity="0.9"/><circle cx="50.1" cy="377.9" r="3.05" fill="#c6eac4" opacity="0.9"/><circle cx="51.4" cy="379.2" r="3.05" fill="#c6eac4" opacity="0.9"/><circle cx="53.2" cy="380.1" r="3.05" fill="#c6eac4" opacity="0.9"/><circle cx="54.5" cy="381.4" r="3.05" fill="#c6eac4" opacity="0.9"/><circle cx="49.3" cy="380.5" r="3.05" fill="#c6eac4" opacity="0.9"/><circle cx="49.7" cy="384.8" r="3.05" fill="#c6eac4" opacity="0.9"/><circle cx="52.3" cy="383.5" r="3.05" fill="#c6eac4" opacity="0.9"/><circle cx="55.8" cy="384" r="3.05" fill="#c6eac4" opacity="0.9"/><circle cx="59.2" cy="385.7" r="3.05" fill="#c6eac4" opacity="0.9"/><circle cx="57.9" cy="388.3" r="3.05" fill="#c6eac4" opacity="0.9"/><circle cx="39.3" cy="387" r="2.80" fill="#bfe0f6" opacity="0.9"/><circle cx="43.7" cy="386.5" r="2.80" fill="#bfe0f6" opacity="0.9"/><circle cx="74.3" cy="361.3" r="2.60" fill="#f8f2a8" opacity="0.9"/><circle cx="79" cy="362.4" r="3.20" fill="#f8f2a8" opacity="0.9"/><circle cx="75.7" cy="366.6" r="2.50" fill="#f8f2a8" opacity="0.9"/><circle cx="74.8" cy="373" r="2.50" fill="#f8f2a8" opacity="0.9"/><circle cx="87" cy="365" r="3.40" fill="#f8f2a8" opacity="0.9"/><circle cx="85.2" cy="370.7" r="2.50" fill="#f8f2a8" opacity="0.9"/><circle cx="82.8" cy="375.1" r="2.60" fill="#f7c0c0" opacity="0.9"/><circle cx="80.6" cy="379.3" r="2.60" fill="#f7c0c0" opacity="0.9"/><circle cx="79.6" cy="384.1" r="2.50" fill="#f7c0c0" opacity="0.9"/><circle cx="83.8" cy="384.6" r="2.70" fill="#f7c0c0" opacity="0.9"/><circle cx="87.5" cy="383.6" r="2.80" fill="#f7c0c0" opacity="0.9"/><circle cx="92.8" cy="381.5" r="3.30" fill="#f7c0c0" opacity="0.9"/><circle cx="96" cy="380.2" r="3.40" fill="#f7c0c0" opacity="0.9"/><circle cx="99.7" cy="377.8" r="3.60" fill="#f7c0c0" opacity="0.9"/><circle cx="101.3" cy="372.5" r="3.20" fill="#f7c0c0" opacity="0.9"/><circle cx="104.4" cy="378.8" r="3.40" fill="#f7c0c0" opacity="0.9"/><circle cx="108.5" cy="377.4" r="3.20" fill="#f7c0c0" opacity="0.9"/><circle cx="74.3" cy="379.9" r="2.70" fill="#bfe0f6" opacity="0.9"/><circle cx="75.3" cy="385.2" r="2.70" fill="#bfe0f6" opacity="0.9"/><circle cx="70.6" cy="389.4" r="2.70" fill="#bfe0f6" opacity="0.9"/><circle cx="63.2" cy="388.9" r="2.70" fill="#bfe0f6" opacity="0.9"/><circle cx="67.1" cy="393.7" r="2.70" fill="#bfe0f6" opacity="0.9"/><circle cx="63.7" cy="389.6" r="2.70" fill="#bfe0f6" opacity="0.9"/><circle cx="70.6" cy="397.1" r="2.70" fill="#bfe0f6" opacity="0.9"/><circle cx="73.5" cy="396" r="2.70" fill="#bfe0f6" opacity="0.9"/><circle cx="57.3" cy="397.1" r="2.90" fill="#e0b0e4" opacity="0.9"/><circle cx="61.9" cy="397.1" r="2.90" fill="#e0b0e4" opacity="0.9"/><circle cx="57.9" cy="402.3" r="3.30" fill="#e0b0e4" opacity="0.9"/><circle cx="61.3" cy="403.5" r="3.30" fill="#e0b0e4" opacity="0.9"/><circle cx="58.5" cy="406.3" r="3.30" fill="#e0b0e4" opacity="0.9"/><circle cx="56.2" cy="408.7" r="3.30" fill="#e0b0e4" opacity="0.9"/><circle cx="48.7" cy="408.1" r="2.90" fill="#e0b0e4" opacity="0.9"/><circle cx="52.1" cy="407.5" r="2.90" fill="#e0b0e4" opacity="0.9"/><circle cx="55" cy="412.1" r="3.30" fill="#e0b0e4" opacity="0.9"/><circle cx="53.8" cy="414.4" r="3.30" fill="#e0b0e4" opacity="0.9"/><circle cx="51" cy="415.6" r="3.30" fill="#e0b0e4" opacity="0.9"/><circle cx="48.7" cy="416.2" r="3.30" fill="#e0b0e4" opacity="0.9"/><circle cx="55.6" cy="417.9" r="3.30" fill="#e0b0e4" opacity="0.9"/><circle cx="52.7" cy="420.8" r="3.30" fill="#e0b0e4" opacity="0.9"/><circle cx="74.6" cy="403.5" r="2.60" fill="#bfe0f6" opacity="0.9"/><circle cx="76.3" cy="402.3" r="2.60" fill="#bfe0f6" opacity="0.9"/><circle cx="75.8" cy="408.1" r="2.60" fill="#bfe0f6" opacity="0.9"/><circle cx="74" cy="412.1" r="2.60" fill="#bfe0f6" opacity="0.9"/><circle cx="79.2" cy="408.7" r="2.90" fill="#bfe0f6" opacity="0.9"/><circle cx="82.1" cy="409.8" r="2.90" fill="#bfe0f6" opacity="0.9"/><circle cx="83.8" cy="408.1" r="2.90" fill="#bfe0f6" opacity="0.9"/><circle cx="81.5" cy="412.7" r="2.90" fill="#bfe0f6" opacity="0.9"/><circle cx="84.4" cy="413.3" r="2.90" fill="#bfe0f6" opacity="0.9"/><circle cx="88.5" cy="412.1" r="2.90" fill="#bfe0f6" opacity="0.9"/><circle cx="91.9" cy="414.4" r="2.90" fill="#bfe0f6" opacity="0.9"/><circle cx="83.3" cy="415.6" r="2.90" fill="#bfe0f6" opacity="0.9"/><circle cx="86.2" cy="416.7" r="2.90" fill="#bfe0f6" opacity="0.9"/><circle cx="87.3" cy="420.8" r="2.90" fill="#bfe0f6" opacity="0.9"/><circle cx="89" cy="413.8" r="2.90" fill="#bfe0f6" opacity="0.9"/><circle cx="72.9" cy="417.9" r="2.80" fill="#cdb0e0" opacity="0.9"/><circle cx="72.9" cy="423.1" r="2.80" fill="#cdb0e0" opacity="0.9"/><circle cx="72.9" cy="430.6" r="2.80" fill="#cdb0e0" opacity="0.9"/><circle cx="47.5" cy="374.5" r="1.45" fill="#1b2d84"/><circle cx="45" cy="372.5" r="1.45" fill="#1b2d84"/><circle cx="53.5" cy="378.5" r="1.45" fill="#1b2d84"/><circle cx="55.5" cy="382.5" r="1.45" fill="#1b2d84"/><circle cx="47.5" cy="378.5" r="1.45" fill="#1b2d84"/><circle cx="51.5" cy="386" r="1.45" fill="#1b2d84"/><circle cx="43" cy="364.5" r="1.45" fill="#1b2d84"/><circle cx="44.7" cy="364.5" r="1.45" fill="#1b2d84"/><circle cx="41.5" cy="366.7" r="1.45" fill="#1b2d84"/><circle cx="40.6" cy="370.1" r="1.45" fill="#1b2d84"/><circle cx="44.1" cy="368.8" r="1.45" fill="#1b2d84"/><circle cx="46.2" cy="371" r="1.45" fill="#1b2d84"/><circle cx="49.7" cy="369.2" r="1.45" fill="#1b2d84"/><circle cx="48.8" cy="372.3" r="1.45" fill="#1b2d84"/><circle cx="50.6" cy="374.4" r="1.45" fill="#1b2d84"/><circle cx="52.3" cy="376.2" r="1.45" fill="#1b2d84"/><circle cx="50.1" cy="377.9" r="1.45" fill="#1b2d84"/><circle cx="51.4" cy="379.2" r="1.45" fill="#1b2d84"/><circle cx="53.2" cy="380.1" r="1.45" fill="#1b2d84"/><circle cx="54.5" cy="381.4" r="1.45" fill="#1b2d84"/><circle cx="49.3" cy="380.5" r="1.45" fill="#1b2d84"/><circle cx="49.7" cy="384.8" r="1.45" fill="#1b2d84"/><circle cx="52.3" cy="383.5" r="1.45" fill="#1b2d84"/><circle cx="55.8" cy="384" r="1.45" fill="#1b2d84"/><circle cx="59.2" cy="385.7" r="1.45" fill="#1b2d84"/><circle cx="57.9" cy="388.3" r="1.45" fill="#1b2d84"/><circle cx="39.3" cy="387" r="1.20" fill="#d9621c"/><circle cx="43.7" cy="386.5" r="1.20" fill="#d9621c"/><circle cx="74.3" cy="361.3" r="1.00" fill="#3a3a20"/><circle cx="79" cy="362.4" r="1.60" fill="#d04020"/><circle cx="75.7" cy="366.6" r="0.90" fill="#8a7040"/><circle cx="74.8" cy="373" r="0.90" fill="#a06040"/><circle cx="87" cy="365" r="1.80" fill="#e0a020"/><circle cx="85.2" cy="370.7" r="0.90" fill="#505030"/><circle cx="82.8" cy="375.1" r="1.00" fill="#444"/><circle cx="80.6" cy="379.3" r="1.00" fill="#444"/><circle cx="79.6" cy="384.1" r="0.90" fill="#444"/><circle cx="83.8" cy="384.6" r="1.10" fill="#1b2d84"/><circle cx="87.5" cy="383.6" r="1.20" fill="#1b2d84"/><circle cx="92.8" cy="381.5" r="1.70" fill="#1b2d84"/><circle cx="96" cy="380.2" r="1.80" fill="#1b2d84"/><circle cx="99.7" cy="377.8" r="2.00" fill="#1b2d84"/><circle cx="101.3" cy="372.5" r="1.60" fill="#1b2d84"/><circle cx="104.4" cy="378.8" r="1.80" fill="#1b2d84"/><circle cx="108.5" cy="377.4" r="1.60" fill="#1b2d84"/><circle cx="74.3" cy="379.9" r="1.10" fill="#d9621c"/><circle cx="75.3" cy="385.2" r="1.10" fill="#d9621c"/><circle cx="70.6" cy="389.4" r="1.10" fill="#d9621c"/><circle cx="63.2" cy="388.9" r="1.10" fill="#6a8a40"/><circle cx="67.1" cy="393.7" r="1.10" fill="#8a6a40"/><circle cx="63.7" cy="389.6" r="1.10" fill="#6a8a40"/><circle cx="70.6" cy="397.1" r="1.10" fill="#9ac8e8"/><circle cx="73.5" cy="396" r="1.10" fill="#9ac8e8"/><circle cx="57.3" cy="397.1" r="1.30" fill="#b8d040"/><circle cx="61.9" cy="397.1" r="1.30" fill="#b8d040"/><circle cx="57.9" cy="402.3" r="1.70" fill="#e0241f"/><circle cx="61.3" cy="403.5" r="1.70" fill="#e0241f"/><circle cx="58.5" cy="406.3" r="1.70" fill="#e0241f"/><circle cx="56.2" cy="408.7" r="1.70" fill="#e0241f"/><circle cx="48.7" cy="408.1" r="1.30" fill="#90a040"/><circle cx="52.1" cy="407.5" r="1.30" fill="#90a040"/><circle cx="55" cy="412.1" r="1.70" fill="#e0241f"/><circle cx="53.8" cy="414.4" r="1.70" fill="#e0241f"/><circle cx="51" cy="415.6" r="1.70" fill="#e0241f"/><circle cx="48.7" cy="416.2" r="1.70" fill="#e0241f"/><circle cx="55.6" cy="417.9" r="1.70" fill="#e0241f"/><circle cx="52.7" cy="420.8" r="1.70" fill="#e0241f"/><circle cx="74.6" cy="403.5" r="1.00" fill="#8a6a40"/><circle cx="76.3" cy="402.3" r="1.00" fill="#8a6a40"/><circle cx="75.8" cy="408.1" r="1.00" fill="#8a6a40"/><circle cx="74" cy="412.1" r="1.00" fill="#8a6a40"/><circle cx="79.2" cy="408.7" r="1.30" fill="#1b2d84"/><circle cx="82.1" cy="409.8" r="1.30" fill="#1b2d84"/><circle cx="83.8" cy="408.1" r="1.30" fill="#1b2d84"/><circle cx="81.5" cy="412.7" r="1.30" fill="#1b2d84"/><circle cx="84.4" cy="413.3" r="1.30" fill="#1b2d84"/><circle cx="88.5" cy="412.1" r="1.30" fill="#1b2d84"/><circle cx="91.9" cy="414.4" r="1.30" fill="#1b2d84"/><circle cx="83.3" cy="415.6" r="1.30" fill="#1b2d84"/><circle cx="86.2" cy="416.7" r="1.30" fill="#1b2d84"/><circle cx="87.3" cy="420.8" r="1.30" fill="#1b2d84"/><circle cx="89" cy="413.8" r="1.30" fill="#1b2d84"/><circle cx="72.9" cy="417.9" r="1.20" fill="#8ab890"/><circle cx="72.9" cy="423.1" r="1.20" fill="#8ab890"/><circle cx="72.9" cy="430.6" r="1.20" fill="#8ab890"/>
<rect x="174.3" y="342.10" width="2.7" height="21.30" fill="#7b2a86"/><rect x="177.00" y="342.10" width="26.65" height="21.30" fill="#f4915a" stroke="#4a4a4a" stroke-width="0.55"/><text transform="translate(190.32,355.45) scale(1,1.07)" font-size="7.5" text-anchor="middle" fill="#2a2a2a" stroke="#2a2a2a" stroke-width="0.1">0.80</text><rect x="203.65" y="342.10" width="26.65" height="21.30" fill="#fdca80" stroke="#4a4a4a" stroke-width="0.55"/><text transform="translate(216.98,355.45) scale(1,1.07)" font-size="7.5" text-anchor="middle" fill="#2a2a2a" stroke="#2a2a2a" stroke-width="0.1">0.66</text><rect x="230.30" y="342.10" width="26.65" height="21.30" fill="#fbf8bb" stroke="#4a4a4a" stroke-width="0.55"/><text transform="translate(243.62,355.45) scale(1,1.07)" font-size="7.5" text-anchor="middle" fill="#2a2a2a" stroke="#2a2a2a" stroke-width="0.1">0.53</text><rect x="256.95" y="342.10" width="26.65" height="21.30" fill="#e7f3ea" stroke="#4a4a4a" stroke-width="0.55"/><text transform="translate(270.27,355.45) scale(1,1.07)" font-size="7.5" text-anchor="middle" fill="#2a2a2a" stroke="#2a2a2a" stroke-width="0.1">0.41</text><rect x="174.3" y="363.40" width="2.7" height="21.30" fill="#d3202e"/><rect x="177.00" y="363.40" width="26.65" height="21.30" fill="#8fbfdd" stroke="#4a4a4a" stroke-width="0.55"/><text transform="translate(190.32,376.75) scale(1,1.07)" font-size="7.5" text-anchor="middle" fill="#2a2a2a" stroke="#2a2a2a" stroke-width="0.1">0.19</text><rect x="203.65" y="363.40" width="26.65" height="21.30" fill="#74a9d2" stroke="#4a4a4a" stroke-width="0.55"/><text transform="translate(216.98,376.75) scale(1,1.07)" font-size="7.5" text-anchor="middle" fill="#2a2a2a" stroke="#2a2a2a" stroke-width="0.1">0.15</text><rect x="230.30" y="363.40" width="26.65" height="21.30" fill="#aed6ea" stroke="#4a4a4a" stroke-width="0.55"/><text transform="translate(243.62,376.75) scale(1,1.07)" font-size="7.5" text-anchor="middle" fill="#2a2a2a" stroke="#2a2a2a" stroke-width="0.1">0.26</text><rect x="256.95" y="363.40" width="26.65" height="21.30" fill="#cae7f2" stroke="#4a4a4a" stroke-width="0.55"/><text transform="translate(270.27,376.75) scale(1,1.07)" font-size="7.5" text-anchor="middle" fill="#2a2a2a" stroke="#2a2a2a" stroke-width="0.1">0.33</text><rect x="174.3" y="384.70" width="2.7" height="21.30" fill="#e87a72"/><rect x="177.00" y="384.70" width="26.65" height="21.30" fill="#d6ecf5" stroke="#4a4a4a" stroke-width="0.55"/><text transform="translate(190.32,398.05) scale(1,1.07)" font-size="7.5" text-anchor="middle" fill="#2a2a2a" stroke="#2a2a2a" stroke-width="0.1">0.36</text><rect x="203.65" y="384.70" width="26.65" height="21.30" fill="#9dcbe3" stroke="#4a4a4a" stroke-width="0.55"/><text transform="translate(216.98,398.05) scale(1,1.07)" font-size="7.5" text-anchor="middle" fill="#2a2a2a" stroke="#2a2a2a" stroke-width="0.1">0.22</text><rect x="230.30" y="384.70" width="26.65" height="21.30" fill="#a5d1e7" stroke="#4a4a4a" stroke-width="0.55"/><text transform="translate(243.62,398.05) scale(1,1.07)" font-size="7.5" text-anchor="middle" fill="#2a2a2a" stroke="#2a2a2a" stroke-width="0.1">0.24</text><rect x="256.95" y="384.70" width="26.65" height="21.30" fill="#c6e5f1" stroke="#4a4a4a" stroke-width="0.55"/><text transform="translate(270.27,398.05) scale(1,1.07)" font-size="7.5" text-anchor="middle" fill="#2a2a2a" stroke="#2a2a2a" stroke-width="0.1">0.32</text><rect x="174.3" y="406.00" width="2.7" height="21.30" fill="#1f5ea8"/><rect x="177.00" y="406.00" width="26.65" height="21.30" fill="#fdca80" stroke="#4a4a4a" stroke-width="0.55"/><text transform="translate(190.32,419.35) scale(1,1.07)" font-size="7.5" text-anchor="middle" fill="#2a2a2a" stroke="#2a2a2a" stroke-width="0.1">0.66</text><rect x="203.65" y="406.00" width="26.65" height="21.30" fill="#fbb96c" stroke="#4a4a4a" stroke-width="0.55"/><text transform="translate(216.98,419.35) scale(1,1.07)" font-size="7.5" text-anchor="middle" fill="#2a2a2a" stroke="#2a2a2a" stroke-width="0.1">0.70</text><rect x="230.30" y="406.00" width="26.65" height="21.30" fill="#e3f2ef" stroke="#4a4a4a" stroke-width="0.55"/><text transform="translate(243.62,419.35) scale(1,1.07)" font-size="7.5" text-anchor="middle" fill="#2a2a2a" stroke="#2a2a2a" stroke-width="0.1">0.40</text><rect x="256.95" y="406.00" width="26.65" height="21.30" fill="#e3f2ef" stroke="#4a4a4a" stroke-width="0.55"/><text transform="translate(270.27,419.35) scale(1,1.07)" font-size="7.5" text-anchor="middle" fill="#2a2a2a" stroke="#2a2a2a" stroke-width="0.1">0.40</text><rect x="174.3" y="427.30" width="2.7" height="21.30" fill="#7aa6d8"/><rect x="177.00" y="427.30" width="26.65" height="21.30" fill="#bee0ef" stroke="#4a4a4a" stroke-width="0.55"/><text transform="translate(190.32,440.65) scale(1,1.07)" font-size="7.5" text-anchor="middle" fill="#2a2a2a" stroke="#2a2a2a" stroke-width="0.1">0.30</text><rect x="203.65" y="427.30" width="26.65" height="21.30" fill="#bee0ef" stroke="#4a4a4a" stroke-width="0.55"/><text transform="translate(216.98,440.65) scale(1,1.07)" font-size="7.5" text-anchor="middle" fill="#2a2a2a" stroke="#2a2a2a" stroke-width="0.1">0.30</text><rect x="230.30" y="427.30" width="26.65" height="21.30" fill="#f28c56" stroke="#4a4a4a" stroke-width="0.55"/><text transform="translate(243.62,440.65) scale(1,1.07)" font-size="7.5" text-anchor="middle" fill="#2a2a2a" stroke="#2a2a2a" stroke-width="0.1">0.81</text><rect x="256.95" y="427.30" width="26.65" height="21.30" fill="#4a78b6" stroke="#4a4a4a" stroke-width="0.55"/><text transform="translate(270.27,440.65) scale(1,1.07)" font-size="7.5" text-anchor="middle" fill="#2a2a2a" stroke="#2a2a2a" stroke-width="0.1">0.00</text>
<rect x="174.30" y="342.10" width="109.30" height="106.50" fill="none" stroke="#555" stroke-width="0.5" />
<text transform="translate(289.80,355.45) scale(1,1.07)" x="0" y="0" font-size="7.4" text-anchor="start" fill="#2b2b2b" stroke="#2b2b2b" stroke-width="0.1" >Cluster 1</text>
<text transform="translate(289.80,376.75) scale(1,1.07)" x="0" y="0" font-size="7.4" text-anchor="start" fill="#2b2b2b" stroke="#2b2b2b" stroke-width="0.1" >Cluster 2</text>
<text transform="translate(289.80,398.05) scale(1,1.07)" x="0" y="0" font-size="7.4" text-anchor="start" fill="#2b2b2b" stroke="#2b2b2b" stroke-width="0.1" >Cluster 3</text>
<text transform="translate(289.80,419.35) scale(1,1.07)" x="0" y="0" font-size="7.4" text-anchor="start" fill="#2b2b2b" stroke="#2b2b2b" stroke-width="0.1" >Cluster <tspan font-size="5">...</tspan></text>
<text transform="translate(289.80,440.65) scale(1,1.07)" x="0" y="0" font-size="7.4" text-anchor="start" fill="#2b2b2b" stroke="#2b2b2b" stroke-width="0.1" >Cluster 40</text>
<text transform="translate(192.22,336.8) rotate(-90) scale(1,1.07)" x="0" y="0" font-size="7.2" fill="#2b2b2b" stroke="#2b2b2b" stroke-width="0.1">Marker 1</text>
<text transform="translate(218.88,336.8) rotate(-90) scale(1,1.07)" x="0" y="0" font-size="7.2" fill="#2b2b2b" stroke="#2b2b2b" stroke-width="0.1">Marker 2</text>
<text transform="translate(245.53,336.8) rotate(-90) scale(1,1.07)" x="0" y="0" font-size="7.2" fill="#2b2b2b" stroke="#2b2b2b" stroke-width="0.1">Marker 3</text>
<text transform="translate(272.17,336.8) rotate(-90) scale(1,1.07)" x="0" y="0" font-size="7.2" fill="#2b2b2b" stroke="#2b2b2b" stroke-width="0.1">Marker <tspan font-size="5">...</tspan></text>
<line x1="162.20" y1="352.75" x2="174.30" y2="352.75" stroke="#7a7a7a" stroke-width="0.6"/>
<line x1="162.20" y1="352.75" x2="162.20" y2="405.90" stroke="#7a7a7a" stroke-width="0.6"/>
<line x1="162.20" y1="405.90" x2="165.20" y2="405.90" stroke="#7a7a7a" stroke-width="0.6"/>
<line x1="166.80" y1="374.05" x2="174.30" y2="374.05" stroke="#7a7a7a" stroke-width="0.6"/>
<line x1="166.80" y1="395.35" x2="174.30" y2="395.35" stroke="#7a7a7a" stroke-width="0.6"/>
<line x1="166.80" y1="374.05" x2="166.80" y2="395.35" stroke="#7a7a7a" stroke-width="0.6"/>
<line x1="165.20" y1="384.70" x2="166.80" y2="384.70" stroke="#7a7a7a" stroke-width="0.6"/>
<line x1="165.20" y1="384.70" x2="165.20" y2="427.00" stroke="#7a7a7a" stroke-width="0.6"/>
<line x1="165.80" y1="416.65" x2="174.30" y2="416.65" stroke="#7a7a7a" stroke-width="0.6"/>
<line x1="165.80" y1="437.95" x2="174.30" y2="437.95" stroke="#7a7a7a" stroke-width="0.6"/>
<line x1="165.80" y1="416.65" x2="165.80" y2="437.95" stroke="#7a7a7a" stroke-width="0.6"/>
<line x1="165.20" y1="427.30" x2="165.80" y2="427.30" stroke="#7a7a7a" stroke-width="0.6"/>
<text transform="translate(403.70,331.30) scale(1,1.07)" x="0" y="0" font-size="8.9" text-anchor="middle" fill="#2b2b2b" stroke="#2b2b2b" stroke-width="0.1" >Merged FCS file</text>
<g><ellipse cx="410.00" cy="361.00" rx="16.10" ry="15.18" fill="#b784b9" opacity="0.55" transform="rotate(0 410.00 361.00)" filter="url(#b1)"/><ellipse cx="426.00" cy="379.50" rx="7.54" ry="9.20" fill="#6c9b3b" opacity="0.6" transform="rotate(0 426.00 379.50)" filter="url(#b1)"/><ellipse cx="383.00" cy="402.00" rx="11.50" ry="12.42" fill="#d4aeb0" opacity="0.55" transform="rotate(0 383.00 402.00)" filter="url(#b1)"/><ellipse cx="360.50" cy="391.50" rx="5.80" ry="9.02" fill="#60c1dd" opacity="0.6" transform="rotate(0 360.50 391.50)" filter="url(#b1)"/><ellipse cx="386.00" cy="427.70" rx="11.22" ry="7.18" fill="#3b7fc7" opacity="0.6" transform="rotate(0 386.00 427.70)" filter="url(#b1)"/><ellipse cx="418.00" cy="424.00" rx="11.50" ry="9.20" fill="#4aa1b3" opacity="0.55" transform="rotate(0 418.00 424.00)" filter="url(#b1)"/><ellipse cx="384.50" cy="369.50" rx="9.20" ry="5.98" fill="#8c6272" opacity="0.5" transform="rotate(0 384.50 369.50)" filter="url(#b1)"/><ellipse cx="398.50" cy="394.00" rx="4.60" ry="5.52" fill="#a87c7c" opacity="0.4" transform="rotate(0 398.50 394.00)" filter="url(#b1)"/><ellipse cx="396.00" cy="376.00" rx="6.44" ry="4.60" fill="#b784b9" opacity="0.35" transform="rotate(0 396.00 376.00)" filter="url(#b1)"/><ellipse cx="389.00" cy="378.00" rx="4.60" ry="3.68" fill="#8c6272" opacity="0.3" transform="rotate(0 389.00 378.00)" filter="url(#b1)"/><ellipse cx="377.00" cy="384.00" rx="5.98" ry="11.50" fill="#88bce6" opacity="0.45" transform="rotate(0 377.00 384.00)" filter="url(#b1)"/><ellipse cx="389.50" cy="357.50" rx="4.14" ry="2.58" fill="#e8b030" opacity="0.5" transform="rotate(0 389.50 357.50)" filter="url(#b1)"/><ellipse cx="377.80" cy="361.00" rx="1.38" ry="2.58" fill="#a0a040" opacity="0.4" transform="rotate(0 377.80 361.00)" filter="url(#b1)"/><ellipse cx="387.80" cy="387.00" rx="2.58" ry="2.39" fill="#5a5a5a" opacity="0.5" transform="rotate(0 387.80 387.00)" filter="url(#b1)"/><ellipse cx="413.40" cy="387.60" rx="4.14" ry="3.04" fill="#f08a30" opacity="0.5" transform="rotate(0 413.40 387.60)" filter="url(#b1)"/><ellipse cx="407.80" cy="392.60" rx="2.94" ry="2.02" fill="#a07030" opacity="0.4" transform="rotate(0 407.80 392.60)" filter="url(#b1)"/><ellipse cx="413.00" cy="411.00" rx="11.04" ry="4.14" fill="#7055b8" opacity="0.3" transform="rotate(0 413.00 411.00)" filter="url(#b1)"/><ellipse cx="434.60" cy="396.60" rx="2.58" ry="2.76" fill="#909090" opacity="0.2" transform="rotate(0 434.60 396.60)" filter="url(#b1)"/><path d="M414.5 372.4h0.8v0.8h-0.8zM411.6 362.3h0.8v0.8h-0.8zM422.9 371.2h0.8v0.8h-0.8zM405.8 376.6h0.8v0.8h-0.8zM404.5 365.8h0.8v0.8h-0.8zM404.9 349.0h0.8v0.8h-0.8zM411.9 360.4h0.8v0.8h-0.8zM392.5 360.8h0.8v0.8h-0.8zM411.1 357.7h0.8v0.8h-0.8zM404.1 349.3h0.8v0.8h-0.8zM402.5 362.1h0.8v0.8h-0.8zM418.4 352.9h0.8v0.8h-0.8zM419.5 365.6h0.8v0.8h-0.8zM405.9 358.6h0.8v0.8h-0.8zM414.1 368.0h0.8v0.8h-0.8zM401.8 367.6h0.8v0.8h-0.8zM423.1 361.5h0.8v0.8h-0.8zM392.7 365.2h0.8v0.8h-0.8zM416.0 362.7h0.8v0.8h-0.8zM408.4 371.3h0.8v0.8h-0.8zM409.4 368.8h0.8v0.8h-0.8zM413.0 360.9h0.8v0.8h-0.8zM393.2 354.6h0.8v0.8h-0.8zM402.4 353.1h0.8v0.8h-0.8zM403.4 368.2h0.8v0.8h-0.8zM419.5 357.4h0.8v0.8h-0.8zM405.0 374.4h0.8v0.8h-0.8zM404.4 355.0h0.8v0.8h-0.8zM398.1 357.3h0.8v0.8h-0.8zM401.9 376.4h0.8v0.8h-0.8zM399.4 362.2h0.8v0.8h-0.8zM405.8 366.5h0.8v0.8h-0.8zM423.8 361.6h0.8v0.8h-0.8zM400.8 357.0h0.8v0.8h-0.8zM412.1 364.6h0.8v0.8h-0.8zM407.9 347.4h0.8v0.8h-0.8zM421.1 356.7h0.8v0.8h-0.8zM415.9 364.0h0.8v0.8h-0.8zM397.2 354.3h0.8v0.8h-0.8zM392.3 369.1h0.8v0.8h-0.8zM422.2 366.2h0.8v0.8h-0.8zM409.9 363.3h0.8v0.8h-0.8zM414.5 368.1h0.8v0.8h-0.8zM404.3 364.9h0.8v0.8h-0.8zM397.8 352.3h0.8v0.8h-0.8zM408.4 346.2h0.8v0.8h-0.8zM405.6 357.9h0.8v0.8h-0.8zM407.5 364.7h0.8v0.8h-0.8zM415.6 373.9h0.8v0.8h-0.8zM416.1 358.0h0.8v0.8h-0.8zM403.6 372.5h0.8v0.8h-0.8zM406.2 353.4h0.8v0.8h-0.8zM422.7 365.5h0.8v0.8h-0.8zM403.4 371.6h0.8v0.8h-0.8zM402.9 356.3h0.8v0.8h-0.8zM421.8 355.4h0.8v0.8h-0.8zM413.4 360.7h0.8v0.8h-0.8zM407.9 364.7h0.8v0.8h-0.8zM413.7 366.2h0.8v0.8h-0.8zM414.2 351.8h0.8v0.8h-0.8zM399.7 358.6h0.8v0.8h-0.8zM402.5 355.8h0.8v0.8h-0.8zM409.5 353.1h0.8v0.8h-0.8zM411.2 354.2h0.8v0.8h-0.8zM412.2 346.7h0.8v0.8h-0.8zM392.6 358.6h0.8v0.8h-0.8zM410.9 361.9h0.8v0.8h-0.8zM411.6 350.9h0.8v0.8h-0.8zM418.4 360.5h0.8v0.8h-0.8zM415.9 362.0h0.8v0.8h-0.8zM420.5 364.9h0.8v0.8h-0.8zM419.5 357.4h0.8v0.8h-0.8zM414.2 366.5h0.8v0.8h-0.8zM411.0 362.6h0.8v0.8h-0.8zM411.8 351.6h0.8v0.8h-0.8zM403.4 353.8h0.8v0.8h-0.8zM413.2 351.9h0.8v0.8h-0.8zM425.1 372.4h0.8v0.8h-0.8zM419.7 365.0h0.8v0.8h-0.8zM424.3 366.4h0.8v0.8h-0.8zM393.0 371.2h0.8v0.8h-0.8zM411.3 368.6h0.8v0.8h-0.8zM409.1 372.0h0.8v0.8h-0.8zM410.9 346.5h0.8v0.8h-0.8zM404.6 377.3h0.8v0.8h-0.8zM420.7 376.2h0.8v0.8h-0.8zM416.2 354.7h0.8v0.8h-0.8zM408.5 367.7h0.8v0.8h-0.8zM391.6 362.6h0.8v0.8h-0.8zM398.5 353.4h0.8v0.8h-0.8zM394.4 353.0h0.8v0.8h-0.8zM397.1 375.6h0.8v0.8h-0.8zM416.4 354.0h0.8v0.8h-0.8zM409.5 362.6h0.8v0.8h-0.8zM427.6 375.0h0.8v0.8h-0.8zM418.9 372.7h0.8v0.8h-0.8zM415.7 364.8h0.8v0.8h-0.8zM401.6 373.6h0.8v0.8h-0.8zM406.4 345.3h0.8v0.8h-0.8zM411.5 375.5h0.8v0.8h-0.8zM408.9 358.3h0.8v0.8h-0.8zM404.9 363.3h0.8v0.8h-0.8zM425.1 362.8h0.8v0.8h-0.8zM421.4 371.1h0.8v0.8h-0.8zM418.3 369.9h0.8v0.8h-0.8zM420.8 374.7h0.8v0.8h-0.8zM404.8 361.0h0.8v0.8h-0.8zM420.3 355.6h0.8v0.8h-0.8zM414.4 379.7h0.8v0.8h-0.8zM409.1 366.8h0.8v0.8h-0.8zM409.5 366.1h0.8v0.8h-0.8zM398.5 368.0h0.8v0.8h-0.8zM408.9 362.2h0.8v0.8h-0.8zM400.0 358.3h0.8v0.8h-0.8zM402.6 343.2h0.8v0.8h-0.8zM403.4 365.6h0.8v0.8h-0.8zM396.6 368.0h0.8v0.8h-0.8zM403.9 364.7h0.8v0.8h-0.8zM410.9 361.0h0.8v0.8h-0.8zM409.7 371.1h0.8v0.8h-0.8zM403.7 366.8h0.8v0.8h-0.8zM419.2 348.0h0.8v0.8h-0.8zM413.1 359.1h0.8v0.8h-0.8zM403.1 352.5h0.8v0.8h-0.8zM401.4 379.6h0.8v0.8h-0.8zM417.6 351.6h0.8v0.8h-0.8zM395.1 351.8h0.8v0.8h-0.8zM409.5 348.7h0.8v0.8h-0.8zM407.9 353.0h0.8v0.8h-0.8zM405.8 352.9h0.8v0.8h-0.8zM400.8 351.9h0.8v0.8h-0.8zM408.1 379.8h0.8v0.8h-0.8zM397.8 362.9h0.8v0.8h-0.8zM411.2 367.0h0.8v0.8h-0.8zM419.3 356.7h0.8v0.8h-0.8zM413.2 353.8h0.8v0.8h-0.8zM415.9 371.5h0.8v0.8h-0.8zM418.1 346.5h0.8v0.8h-0.8zM411.9 359.0h0.8v0.8h-0.8zM413.0 354.7h0.8v0.8h-0.8zM415.5 368.6h0.8v0.8h-0.8zM414.5 348.8h0.8v0.8h-0.8zM407.0 361.9h0.8v0.8h-0.8zM404.8 347.4h0.8v0.8h-0.8zM394.4 363.0h0.8v0.8h-0.8zM405.9 352.7h0.8v0.8h-0.8zM402.3 360.1h0.8v0.8h-0.8zM408.1 362.6h0.8v0.8h-0.8zM414.4 373.9h0.8v0.8h-0.8zM408.1 352.2h0.8v0.8h-0.8zM406.0 368.5h0.8v0.8h-0.8zM400.0 350.1h0.8v0.8h-0.8zM413.6 371.8h0.8v0.8h-0.8zM408.0 363.0h0.8v0.8h-0.8zM400.4 364.4h0.8v0.8h-0.8zM399.6 367.4h0.8v0.8h-0.8zM413.3 353.3h0.8v0.8h-0.8zM417.7 357.3h0.8v0.8h-0.8zM422.3 358.9h0.8v0.8h-0.8zM407.4 365.5h0.8v0.8h-0.8zM410.3 352.6h0.8v0.8h-0.8zM422.0 352.9h0.8v0.8h-0.8zM421.1 362.7h0.8v0.8h-0.8zM416.2 351.7h0.8v0.8h-0.8zM396.4 363.2h0.8v0.8h-0.8zM393.1 359.8h0.8v0.8h-0.8zM403.0 349.0h0.8v0.8h-0.8zM404.3 349.6h0.8v0.8h-0.8zM412.0 345.5h0.8v0.8h-0.8zM425.0 368.4h0.8v0.8h-0.8zM414.2 363.9h0.8v0.8h-0.8zM421.0 364.7h0.8v0.8h-0.8zM406.4 347.5h0.8v0.8h-0.8zM397.5 367.7h0.8v0.8h-0.8zM426.7 360.8h0.8v0.8h-0.8zM404.0 370.6h0.8v0.8h-0.8zM427.1 361.6h0.8v0.8h-0.8zM406.2 369.6h0.8v0.8h-0.8zM417.0 353.0h0.8v0.8h-0.8zM419.1 363.8h0.8v0.8h-0.8zM421.2 349.2h0.8v0.8h-0.8zM411.1 364.3h0.8v0.8h-0.8zM401.4 359.1h0.8v0.8h-0.8zM400.5 355.8h0.8v0.8h-0.8zM412.9 352.8h0.8v0.8h-0.8zM418.4 363.7h0.8v0.8h-0.8zM400.4 359.1h0.8v0.8h-0.8zM407.8 374.8h0.8v0.8h-0.8zM405.9 375.3h0.8v0.8h-0.8zM396.8 364.6h0.8v0.8h-0.8zM392.3 367.0h0.8v0.8h-0.8zM407.4 358.0h0.8v0.8h-0.8zM412.8 357.9h0.8v0.8h-0.8zM421.0 355.5h0.8v0.8h-0.8zM413.5 351.1h0.8v0.8h-0.8zM408.2 366.8h0.8v0.8h-0.8zM413.8 355.2h0.8v0.8h-0.8zM414.1 363.9h0.8v0.8h-0.8zM413.0 348.3h0.8v0.8h-0.8zM409.1 378.4h0.8v0.8h-0.8zM406.7 353.7h0.8v0.8h-0.8zM426.7 365.2h0.8v0.8h-0.8zM408.0 367.8h0.8v0.8h-0.8zM404.0 358.8h0.8v0.8h-0.8zM418.9 355.8h0.8v0.8h-0.8zM414.9 346.6h0.8v0.8h-0.8zM407.9 362.6h0.8v0.8h-0.8zM412.5 374.8h0.8v0.8h-0.8zM419.7 367.1h0.8v0.8h-0.8zM407.8 356.8h0.8v0.8h-0.8zM414.2 353.7h0.8v0.8h-0.8zM419.1 357.6h0.8v0.8h-0.8zM407.4 370.4h0.8v0.8h-0.8zM414.0 359.2h0.8v0.8h-0.8zM396.3 362.2h0.8v0.8h-0.8zM415.0 363.9h0.8v0.8h-0.8zM407.7 377.4h0.8v0.8h-0.8zM412.6 359.8h0.8v0.8h-0.8zM398.8 353.5h0.8v0.8h-0.8zM407.2 357.0h0.8v0.8h-0.8zM404.1 370.6h0.8v0.8h-0.8zM418.4 377.5h0.8v0.8h-0.8zM408.7 364.9h0.8v0.8h-0.8zM395.6 356.5h0.8v0.8h-0.8zM398.5 353.6h0.8v0.8h-0.8zM422.0 368.9h0.8v0.8h-0.8zM418.2 369.4h0.8v0.8h-0.8zM405.9 354.6h0.8v0.8h-0.8zM417.0 373.0h0.8v0.8h-0.8zM420.6 350.8h0.8v0.8h-0.8zM413.4 365.3h0.8v0.8h-0.8zM397.9 361.3h0.8v0.8h-0.8zM419.7 369.3h0.8v0.8h-0.8zM397.7 360.5h0.8v0.8h-0.8zM413.7 371.1h0.8v0.8h-0.8zM411.1 377.5h0.8v0.8h-0.8zM387.6 360.8h0.8v0.8h-0.8zM393.9 362.1h0.8v0.8h-0.8zM396.4 354.9h0.8v0.8h-0.8zM416.4 369.7h0.8v0.8h-0.8zM419.4 362.8h0.8v0.8h-0.8zM413.9 358.0h0.8v0.8h-0.8zM404.2 358.0h0.8v0.8h-0.8zM409.1 357.6h0.8v0.8h-0.8zM410.4 374.3h0.8v0.8h-0.8zM399.3 351.8h0.8v0.8h-0.8zM414.3 351.6h0.8v0.8h-0.8zM411.3 360.3h0.8v0.8h-0.8zM419.9 357.3h0.8v0.8h-0.8zM410.5 375.6h0.8v0.8h-0.8zM407.2 355.5h0.8v0.8h-0.8zM412.8 368.8h0.8v0.8h-0.8zM399.3 379.0h0.8v0.8h-0.8zM397.8 362.5h0.8v0.8h-0.8zM413.1 345.5h0.8v0.8h-0.8zM413.4 370.7h0.8v0.8h-0.8zM420.5 346.5h0.8v0.8h-0.8zM405.3 367.1h0.8v0.8h-0.8zM424.0 358.1h0.8v0.8h-0.8zM417.4 348.1h0.8v0.8h-0.8zM424.2 351.9h0.8v0.8h-0.8zM402.5 356.5h0.8v0.8h-0.8zM417.7 346.9h0.8v0.8h-0.8zM421.2 358.3h0.8v0.8h-0.8zM417.1 358.6h0.8v0.8h-0.8zM409.8 375.3h0.8v0.8h-0.8zM410.8 367.5h0.8v0.8h-0.8zM392.9 361.7h0.8v0.8h-0.8zM405.4 350.8h0.8v0.8h-0.8zM414.6 345.7h0.8v0.8h-0.8zM424.1 355.9h0.8v0.8h-0.8zM400.5 348.2h0.8v0.8h-0.8zM401.8 373.2h0.8v0.8h-0.8zM419.4 361.3h0.8v0.8h-0.8zM416.1 361.6h0.8v0.8h-0.8zM402.0 355.2h0.8v0.8h-0.8zM406.6 366.4h0.8v0.8h-0.8zM401.5 353.5h0.8v0.8h-0.8zM417.4 365.3h0.8v0.8h-0.8zM402.9 350.4h0.8v0.8h-0.8zM423.3 372.9h0.8v0.8h-0.8zM413.9 369.4h0.8v0.8h-0.8zM420.7 358.3h0.8v0.8h-0.8zM393.3 347.9h0.8v0.8h-0.8zM398.6 369.4h0.8v0.8h-0.8zM417.2 360.5h0.8v0.8h-0.8zM413.4 355.2h0.8v0.8h-0.8zM417.7 375.3h0.8v0.8h-0.8zM394.9 365.2h0.8v0.8h-0.8zM421.9 369.3h0.8v0.8h-0.8zM416.1 354.2h0.8v0.8h-0.8zM423.9 350.7h0.8v0.8h-0.8zM417.9 364.9h0.8v0.8h-0.8zM399.6 372.6h0.8v0.8h-0.8zM404.4 355.2h0.8v0.8h-0.8zM420.0 354.8h0.8v0.8h-0.8zM395.6 376.6h0.8v0.8h-0.8zM404.2 348.6h0.8v0.8h-0.8zM392.9 366.5h0.8v0.8h-0.8zM410.0 358.4h0.8v0.8h-0.8zM406.2 368.1h0.8v0.8h-0.8zM417.5 370.1h0.8v0.8h-0.8zM407.3 359.7h0.8v0.8h-0.8zM403.2 353.2h0.8v0.8h-0.8zM410.6 353.5h0.8v0.8h-0.8zM423.4 359.3h0.8v0.8h-0.8zM413.5 351.8h0.8v0.8h-0.8zM405.4 344.2h0.8v0.8h-0.8zM409.1 365.9h0.8v0.8h-0.8zM412.4 352.8h0.8v0.8h-0.8zM418.5 370.7h0.8v0.8h-0.8zM409.5 354.6h0.8v0.8h-0.8zM408.5 364.4h0.8v0.8h-0.8zM429.2 357.2h0.8v0.8h-0.8zM414.1 370.3h0.8v0.8h-0.8zM405.2 370.5h0.8v0.8h-0.8zM416.1 365.7h0.8v0.8h-0.8zM419.6 358.9h0.8v0.8h-0.8zM413.5 372.0h0.8v0.8h-0.8zM399.1 349.0h0.8v0.8h-0.8zM407.3 367.0h0.8v0.8h-0.8zM398.9 356.9h0.8v0.8h-0.8zM410.1 354.2h0.8v0.8h-0.8zM398.4 359.0h0.8v0.8h-0.8zM403.9 354.8h0.8v0.8h-0.8zM415.8 350.5h0.8v0.8h-0.8zM399.8 373.6h0.8v0.8h-0.8zM423.0 366.8h0.8v0.8h-0.8zM410.3 350.6h0.8v0.8h-0.8zM418.5 367.7h0.8v0.8h-0.8zM401.1 350.2h0.8v0.8h-0.8zM411.4 352.5h0.8v0.8h-0.8zM422.9 356.2h0.8v0.8h-0.8zM414.0 350.7h0.8v0.8h-0.8zM415.3 372.6h0.8v0.8h-0.8zM402.2 347.8h0.8v0.8h-0.8zM417.8 369.2h0.8v0.8h-0.8zM392.8 360.8h0.8v0.8h-0.8zM404.5 351.9h0.8v0.8h-0.8zM407.3 377.7h0.8v0.8h-0.8zM414.3 344.4h0.8v0.8h-0.8zM410.4 347.2h0.8v0.8h-0.8zM423.2 351.8h0.8v0.8h-0.8zM403.0 352.0h0.8v0.8h-0.8zM419.4 370.6h0.8v0.8h-0.8zM409.4 364.4h0.8v0.8h-0.8zM397.5 352.1h0.8v0.8h-0.8zM411.0 366.5h0.8v0.8h-0.8zM401.9 345.8h0.8v0.8h-0.8zM408.7 357.4h0.8v0.8h-0.8zM416.4 351.3h0.8v0.8h-0.8zM415.9 367.7h0.8v0.8h-0.8zM418.1 364.0h0.8v0.8h-0.8zM424.0 364.4h0.8v0.8h-0.8zM415.8 365.5h0.8v0.8h-0.8zM404.2 370.8h0.8v0.8h-0.8zM413.4 376.5h0.8v0.8h-0.8zM415.9 346.6h0.8v0.8h-0.8zM427.8 364.3h0.8v0.8h-0.8zM406.0 363.0h0.8v0.8h-0.8zM401.1 352.1h0.8v0.8h-0.8zM397.6 360.1h0.8v0.8h-0.8zM413.1 380.3h0.8v0.8h-0.8zM419.7 358.7h0.8v0.8h-0.8zM414.3 360.6h0.8v0.8h-0.8zM396.0 364.9h0.8v0.8h-0.8zM407.1 350.8h0.8v0.8h-0.8zM401.8 366.4h0.8v0.8h-0.8zM414.3 372.2h0.8v0.8h-0.8zM414.7 373.9h0.8v0.8h-0.8zM412.3 367.3h0.8v0.8h-0.8zM423.6 358.8h0.8v0.8h-0.8zM425.3 356.2h0.8v0.8h-0.8zM415.6 363.2h0.8v0.8h-0.8zM425.6 362.2h0.8v0.8h-0.8zM409.3 368.8h0.8v0.8h-0.8zM418.1 373.7h0.8v0.8h-0.8zM417.0 362.9h0.8v0.8h-0.8zM399.2 374.0h0.8v0.8h-0.8zM413.9 363.7h0.8v0.8h-0.8zM414.8 367.6h0.8v0.8h-0.8zM424.4 352.6h0.8v0.8h-0.8zM393.5 363.3h0.8v0.8h-0.8zM397.9 356.2h0.8v0.8h-0.8zM412.9 371.6h0.8v0.8h-0.8zM405.6 344.8h0.8v0.8h-0.8zM421.3 359.7h0.8v0.8h-0.8zM415.2 349.1h0.8v0.8h-0.8zM411.4 362.5h0.8v0.8h-0.8zM408.6 362.3h0.8v0.8h-0.8zM417.2 348.8h0.8v0.8h-0.8zM419.9 353.2h0.8v0.8h-0.8zM417.0 364.2h0.8v0.8h-0.8zM399.1 362.0h0.8v0.8h-0.8zM412.7 369.8h0.8v0.8h-0.8zM419.8 368.1h0.8v0.8h-0.8zM414.4 365.2h0.8v0.8h-0.8zM399.8 349.9h0.8v0.8h-0.8zM405.8 362.6h0.8v0.8h-0.8zM399.7 362.8h0.8v0.8h-0.8zM403.0 348.5h0.8v0.8h-0.8zM404.8 348.1h0.8v0.8h-0.8zM420.0 372.7h0.8v0.8h-0.8zM411.2 376.8h0.8v0.8h-0.8zM411.6 371.9h0.8v0.8h-0.8zM402.7 353.3h0.8v0.8h-0.8zM416.6 362.5h0.8v0.8h-0.8zM413.6 361.8h0.8v0.8h-0.8zM411.1 377.6h0.8v0.8h-0.8zM425.5 354.2h0.8v0.8h-0.8zM418.0 356.8h0.8v0.8h-0.8zM410.3 355.6h0.8v0.8h-0.8zM426.1 358.4h0.8v0.8h-0.8zM418.2 373.6h0.8v0.8h-0.8zM425.4 372.3h0.8v0.8h-0.8zM422.7 361.2h0.8v0.8h-0.8zM398.2 356.9h0.8v0.8h-0.8zM397.1 352.8h0.8v0.8h-0.8zM413.2 362.6h0.8v0.8h-0.8zM408.8 361.8h0.8v0.8h-0.8zM409.9 358.1h0.8v0.8h-0.8zM405.5 362.1h0.8v0.8h-0.8zM405.6 355.3h0.8v0.8h-0.8zM423.2 359.1h0.8v0.8h-0.8zM406.9 364.9h0.8v0.8h-0.8zM412.3 358.0h0.8v0.8h-0.8zM403.5 367.8h0.8v0.8h-0.8zM397.6 351.7h0.8v0.8h-0.8zM410.2 359.5h0.8v0.8h-0.8zM405.1 348.7h0.8v0.8h-0.8zM400.3 359.8h0.8v0.8h-0.8zM398.9 346.9h0.8v0.8h-0.8zM407.9 342.8h0.8v0.8h-0.8zM409.5 358.6h0.8v0.8h-0.8zM405.1 351.1h0.8v0.8h-0.8zM418.2 377.4h0.8v0.8h-0.8zM396.3 366.0h0.8v0.8h-0.8zM403.5 369.6h0.8v0.8h-0.8zM421.7 368.5h0.8v0.8h-0.8zM423.5 355.2h0.8v0.8h-0.8zM419.1 346.9h0.8v0.8h-0.8zM410.0 370.3h0.8v0.8h-0.8zM420.5 362.3h0.8v0.8h-0.8zM404.3 370.9h0.8v0.8h-0.8zM412.7 344.8h0.8v0.8h-0.8zM420.3 368.5h0.8v0.8h-0.8zM405.3 371.5h0.8v0.8h-0.8zM417.8 359.4h0.8v0.8h-0.8zM400.9 359.3h0.8v0.8h-0.8zM397.2 368.9h0.8v0.8h-0.8zM403.1 344.6h0.8v0.8h-0.8zM405.9 377.1h0.8v0.8h-0.8zM418.0 361.7h0.8v0.8h-0.8zM412.9 366.4h0.8v0.8h-0.8zM404.4 348.4h0.8v0.8h-0.8zM410.1 367.3h0.8v0.8h-0.8zM424.8 363.4h0.8v0.8h-0.8zM425.2 357.7h0.8v0.8h-0.8zM400.3 355.1h0.8v0.8h-0.8zM408.7 364.4h0.8v0.8h-0.8zM411.8 361.8h0.8v0.8h-0.8zM419.9 369.0h0.8v0.8h-0.8zM423.7 358.5h0.8v0.8h-0.8zM413.0 366.9h0.8v0.8h-0.8zM406.6 370.4h0.8v0.8h-0.8zM409.4 356.7h0.8v0.8h-0.8zM419.5 356.9h0.8v0.8h-0.8zM413.8 354.3h0.8v0.8h-0.8zM419.1 350.0h0.8v0.8h-0.8zM416.8 361.4h0.8v0.8h-0.8zM415.1 357.7h0.8v0.8h-0.8zM406.7 356.0h0.8v0.8h-0.8zM413.9 365.6h0.8v0.8h-0.8zM402.5 351.0h0.8v0.8h-0.8zM411.0 366.4h0.8v0.8h-0.8zM422.1 373.1h0.8v0.8h-0.8zM398.6 373.4h0.8v0.8h-0.8zM409.9 373.0h0.8v0.8h-0.8zM404.2 360.2h0.8v0.8h-0.8zM407.0 373.6h0.8v0.8h-0.8zM410.8 352.9h0.8v0.8h-0.8zM401.3 368.3h0.8v0.8h-0.8zM402.2 351.9h0.8v0.8h-0.8zM402.0 348.5h0.8v0.8h-0.8zM410.3 363.6h0.8v0.8h-0.8zM395.3 364.6h0.8v0.8h-0.8zM414.5 363.9h0.8v0.8h-0.8zM411.4 372.0h0.8v0.8h-0.8zM413.0 363.6h0.8v0.8h-0.8zM423.6 355.6h0.8v0.8h-0.8zM417.4 364.4h0.8v0.8h-0.8zM419.5 351.5h0.8v0.8h-0.8zM414.3 356.0h0.8v0.8h-0.8zM410.4 367.4h0.8v0.8h-0.8zM415.9 354.7h0.8v0.8h-0.8zM421.2 355.6h0.8v0.8h-0.8zM409.5 357.1h0.8v0.8h-0.8zM414.1 374.4h0.8v0.8h-0.8zM405.4 366.1h0.8v0.8h-0.8zM410.8 362.5h0.8v0.8h-0.8zM401.6 349.7h0.8v0.8h-0.8zM409.2 348.6h0.8v0.8h-0.8zM411.0 370.6h0.8v0.8h-0.8zM418.3 371.1h0.8v0.8h-0.8zM425.5 355.8h0.8v0.8h-0.8zM415.4 357.4h0.8v0.8h-0.8zM412.1 374.3h0.8v0.8h-0.8zM410.7 363.9h0.8v0.8h-0.8zM403.4 363.5h0.8v0.8h-0.8zM391.9 351.1h0.8v0.8h-0.8zM393.9 371.7h0.8v0.8h-0.8zM411.3 372.7h0.8v0.8h-0.8zM400.9 360.4h0.8v0.8h-0.8zM404.0 355.6h0.8v0.8h-0.8zM414.6 353.5h0.8v0.8h-0.8zM412.5 377.0h0.8v0.8h-0.8zM405.7 369.3h0.8v0.8h-0.8zM422.6 362.7h0.8v0.8h-0.8zM420.1 376.4h0.8v0.8h-0.8zM409.4 372.1h0.8v0.8h-0.8zM395.4 355.3h0.8v0.8h-0.8zM423.5 373.0h0.8v0.8h-0.8zM413.1 365.0h0.8v0.8h-0.8zM413.1 358.5h0.8v0.8h-0.8zM410.6 366.8h0.8v0.8h-0.8zM397.3 368.7h0.8v0.8h-0.8zM400.5 346.5h0.8v0.8h-0.8zM420.1 357.4h0.8v0.8h-0.8zM426.2 366.1h0.8v0.8h-0.8zM407.6 369.7h0.8v0.8h-0.8zM423.4 358.3h0.8v0.8h-0.8zM420.0 347.9h0.8v0.8h-0.8zM402.3 350.5h0.8v0.8h-0.8zM402.1 349.6h0.8v0.8h-0.8zM415.7 344.7h0.8v0.8h-0.8zM424.4 368.0h0.8v0.8h-0.8zM403.5 358.1h0.8v0.8h-0.8zM410.8 369.9h0.8v0.8h-0.8zM392.6 358.5h0.8v0.8h-0.8zM400.5 352.1h0.8v0.8h-0.8zM401.4 345.8h0.8v0.8h-0.8zM403.5 348.4h0.8v0.8h-0.8zM404.4 354.0h0.8v0.8h-0.8zM411.1 371.0h0.8v0.8h-0.8zM415.2 359.7h0.8v0.8h-0.8zM418.2 355.4h0.8v0.8h-0.8zM409.2 352.5h0.8v0.8h-0.8zM414.5 365.4h0.8v0.8h-0.8zM412.1 370.0h0.8v0.8h-0.8zM400.4 367.1h0.8v0.8h-0.8zM424.0 368.0h0.8v0.8h-0.8zM401.6 371.1h0.8v0.8h-0.8zM403.4 363.6h0.8v0.8h-0.8zM406.8 355.1h0.8v0.8h-0.8zM397.9 373.2h0.8v0.8h-0.8zM403.7 353.7h0.8v0.8h-0.8zM404.8 344.1h0.8v0.8h-0.8zM406.5 370.8h0.8v0.8h-0.8zM417.0 347.4h0.8v0.8h-0.8zM405.0 358.1h0.8v0.8h-0.8zM422.5 362.1h0.8v0.8h-0.8zM411.0 361.4h0.8v0.8h-0.8zM417.5 374.5h0.8v0.8h-0.8zM408.6 374.9h0.8v0.8h-0.8zM413.1 360.8h0.8v0.8h-0.8zM418.2 359.5h0.8v0.8h-0.8zM404.0 370.6h0.8v0.8h-0.8zM399.9 362.3h0.8v0.8h-0.8zM414.9 362.7h0.8v0.8h-0.8zM399.0 350.8h0.8v0.8h-0.8zM408.8 375.4h0.8v0.8h-0.8zM403.4 361.3h0.8v0.8h-0.8zM422.8 355.2h0.8v0.8h-0.8zM406.1 351.2h0.8v0.8h-0.8zM408.1 352.7h0.8v0.8h-0.8zM418.2 366.2h0.8v0.8h-0.8zM415.8 375.1h0.8v0.8h-0.8zM410.5 364.8h0.8v0.8h-0.8zM402.8 349.7h0.8v0.8h-0.8zM404.6 358.1h0.8v0.8h-0.8zM404.3 355.0h0.8v0.8h-0.8zM393.1 357.6h0.8v0.8h-0.8zM424.9 363.8h0.8v0.8h-0.8zM399.6 349.2h0.8v0.8h-0.8zM397.1 350.3h0.8v0.8h-0.8zM404.8 352.9h0.8v0.8h-0.8zM414.7 367.8h0.8v0.8h-0.8zM407.4 349.6h0.8v0.8h-0.8zM412.4 353.0h0.8v0.8h-0.8zM425.7 366.4h0.8v0.8h-0.8zM413.0 362.8h0.8v0.8h-0.8zM424.8 354.6h0.8v0.8h-0.8zM401.5 363.0h0.8v0.8h-0.8zM398.3 359.5h0.8v0.8h-0.8zM407.3 349.1h0.8v0.8h-0.8zM419.2 365.1h0.8v0.8h-0.8zM401.7 361.8h0.8v0.8h-0.8zM405.4 370.4h0.8v0.8h-0.8zM406.8 348.5h0.8v0.8h-0.8zM427.0 353.2h0.8v0.8h-0.8zM406.7 358.1h0.8v0.8h-0.8zM409.4 364.3h0.8v0.8h-0.8zM428.5 358.9h0.8v0.8h-0.8zM402.1 354.1h0.8v0.8h-0.8zM424.1 367.1h0.8v0.8h-0.8zM417.9 365.5h0.8v0.8h-0.8zM425.9 371.1h0.8v0.8h-0.8zM410.8 354.7h0.8v0.8h-0.8zM414.0 364.0h0.8v0.8h-0.8zM414.2 354.2h0.8v0.8h-0.8zM416.2 372.2h0.8v0.8h-0.8zM416.5 367.0h0.8v0.8h-0.8zM415.8 360.0h0.8v0.8h-0.8zM426.1 348.7h0.8v0.8h-0.8zM394.8 363.5h0.8v0.8h-0.8zM396.6 363.8h0.8v0.8h-0.8zM409.3 354.3h0.8v0.8h-0.8zM426.7 373.6h0.8v0.8h-0.8zM405.4 367.9h0.8v0.8h-0.8zM417.9 360.6h0.8v0.8h-0.8zM416.8 352.7h0.8v0.8h-0.8zM405.0 368.3h0.8v0.8h-0.8zM394.4 369.3h0.8v0.8h-0.8zM423.0 361.8h0.8v0.8h-0.8zM395.3 350.1h0.8v0.8h-0.8zM418.8 349.3h0.8v0.8h-0.8zM409.0 369.9h0.8v0.8h-0.8zM405.4 365.2h0.8v0.8h-0.8zM412.0 373.8h0.8v0.8h-0.8zM422.9 350.6h0.8v0.8h-0.8zM410.7 379.2h0.8v0.8h-0.8zM408.8 352.9h0.8v0.8h-0.8zM413.1 354.0h0.8v0.8h-0.8zM413.0 356.5h0.8v0.8h-0.8zM399.6 358.5h0.8v0.8h-0.8zM417.8 349.9h0.8v0.8h-0.8zM415.8 355.8h0.8v0.8h-0.8zM404.3 350.2h0.8v0.8h-0.8zM423.1 364.8h0.8v0.8h-0.8zM402.2 372.8h0.8v0.8h-0.8zM413.4 345.5h0.8v0.8h-0.8zM410.0 366.9h0.8v0.8h-0.8zM408.6 363.4h0.8v0.8h-0.8zM413.7 362.7h0.8v0.8h-0.8zM409.6 354.7h0.8v0.8h-0.8zM415.7 345.2h0.8v0.8h-0.8zM404.2 374.8h0.8v0.8h-0.8zM420.9 353.5h0.8v0.8h-0.8zM404.2 374.4h0.8v0.8h-0.8zM396.8 353.4h0.8v0.8h-0.8zM401.1 360.0h0.8v0.8h-0.8zM405.3 353.5h0.8v0.8h-0.8zM401.6 370.3h0.8v0.8h-0.8zM421.1 371.5h0.8v0.8h-0.8zM420.3 363.2h0.8v0.8h-0.8zM404.7 363.4h0.8v0.8h-0.8zM393.8 358.7h0.8v0.8h-0.8zM412.3 373.1h0.8v0.8h-0.8zM413.5 351.1h0.8v0.8h-0.8zM403.2 363.8h0.8v0.8h-0.8zM405.6 345.0h0.8v0.8h-0.8zM402.0 374.9h0.8v0.8h-0.8zM413.9 369.7h0.8v0.8h-0.8zM420.6 373.6h0.8v0.8h-0.8zM423.5 361.0h0.8v0.8h-0.8zM420.0 355.0h0.8v0.8h-0.8zM410.8 349.0h0.8v0.8h-0.8zM410.9 364.1h0.8v0.8h-0.8zM388.4 360.7h0.8v0.8h-0.8zM396.8 360.2h0.8v0.8h-0.8zM405.0 359.1h0.8v0.8h-0.8zM400.3 365.7h0.8v0.8h-0.8zM409.6 368.3h0.8v0.8h-0.8zM404.3 362.1h0.8v0.8h-0.8zM419.7 361.3h0.8v0.8h-0.8zM410.5 367.3h0.8v0.8h-0.8zM404.6 360.5h0.8v0.8h-0.8zM413.2 370.7h0.8v0.8h-0.8zM407.4 347.7h0.8v0.8h-0.8zM408.3 372.5h0.8v0.8h-0.8zM414.1 359.0h0.8v0.8h-0.8zM413.7 363.1h0.8v0.8h-0.8zM414.6 346.6h0.8v0.8h-0.8zM397.3 346.8h0.8v0.8h-0.8zM402.1 373.4h0.8v0.8h-0.8zM416.5 370.9h0.8v0.8h-0.8zM402.5 354.5h0.8v0.8h-0.8zM417.2 365.0h0.8v0.8h-0.8zM404.7 372.5h0.8v0.8h-0.8zM391.4 367.9h0.8v0.8h-0.8zM394.7 362.2h0.8v0.8h-0.8zM404.3 357.5h0.8v0.8h-0.8zM412.0 364.4h0.8v0.8h-0.8zM404.6 364.5h0.8v0.8h-0.8zM401.2 365.2h0.8v0.8h-0.8zM418.1 371.8h0.8v0.8h-0.8zM408.6 360.3h0.8v0.8h-0.8zM403.2 369.3h0.8v0.8h-0.8zM418.6 356.6h0.8v0.8h-0.8zM395.9 356.3h0.8v0.8h-0.8zM408.3 343.6h0.8v0.8h-0.8zM420.3 347.9h0.8v0.8h-0.8zM400.2 355.1h0.8v0.8h-0.8zM396.2 356.8h0.8v0.8h-0.8zM413.0 367.2h0.8v0.8h-0.8zM418.2 362.3h0.8v0.8h-0.8zM400.3 362.2h0.8v0.8h-0.8zM400.7 373.1h0.8v0.8h-0.8zM420.9 356.1h0.8v0.8h-0.8zM399.4 369.6h0.8v0.8h-0.8zM411.8 353.6h0.8v0.8h-0.8zM397.9 374.3h0.8v0.8h-0.8zM402.3 359.2h0.8v0.8h-0.8zM419.7 375.4h0.8v0.8h-0.8zM419.5 362.2h0.8v0.8h-0.8zM415.5 367.9h0.8v0.8h-0.8zM418.2 363.9h0.8v0.8h-0.8zM421.0 354.5h0.8v0.8h-0.8zM389.4 354.6h0.8v0.8h-0.8zM401.7 364.5h0.8v0.8h-0.8zM409.8 346.5h0.8v0.8h-0.8zM421.1 350.3h0.8v0.8h-0.8zM395.1 351.2h0.8v0.8h-0.8zM411.9 362.7h0.8v0.8h-0.8zM406.2 347.5h0.8v0.8h-0.8zM416.1 373.4h0.8v0.8h-0.8zM404.1 350.5h0.8v0.8h-0.8zM396.8 366.5h0.8v0.8h-0.8zM409.7 372.8h0.8v0.8h-0.8zM408.2 354.9h0.8v0.8h-0.8zM412.5 366.0h0.8v0.8h-0.8zM424.2 366.2h0.8v0.8h-0.8zM409.0 358.9h0.8v0.8h-0.8zM398.5 355.4h0.8v0.8h-0.8zM419.2 353.0h0.8v0.8h-0.8zM427.2 355.0h0.8v0.8h-0.8zM421.9 354.3h0.8v0.8h-0.8zM398.4 370.8h0.8v0.8h-0.8zM426.3 361.4h0.8v0.8h-0.8zM422.9 361.4h0.8v0.8h-0.8zM400.4 366.4h0.8v0.8h-0.8zM397.1 368.9h0.8v0.8h-0.8zM424.6 357.0h0.8v0.8h-0.8zM404.1 366.5h0.8v0.8h-0.8zM423.7 352.1h0.8v0.8h-0.8zM420.6 360.4h0.8v0.8h-0.8zM403.8 373.9h0.8v0.8h-0.8zM420.6 376.5h0.8v0.8h-0.8zM400.3 361.6h0.8v0.8h-0.8zM423.4 355.1h0.8v0.8h-0.8zM416.4 369.2h0.8v0.8h-0.8zM401.6 356.2h0.8v0.8h-0.8zM414.8 359.0h0.8v0.8h-0.8zM409.1 366.1h0.8v0.8h-0.8zM417.9 353.2h0.8v0.8h-0.8zM408.5 349.3h0.8v0.8h-0.8zM419.9 367.5h0.8v0.8h-0.8zM405.3 354.6h0.8v0.8h-0.8zM392.8 378.2h0.8v0.8h-0.8zM400.3 365.5h0.8v0.8h-0.8zM413.9 351.5h0.8v0.8h-0.8zM395.0 371.1h0.8v0.8h-0.8zM404.1 362.0h0.8v0.8h-0.8zM408.4 357.8h0.8v0.8h-0.8zM422.8 360.1h0.8v0.8h-0.8zM403.5 353.9h0.8v0.8h-0.8zM410.1 378.4h0.8v0.8h-0.8zM424.3 369.2h0.8v0.8h-0.8zM412.1 359.4h0.8v0.8h-0.8zM407.0 346.7h0.8v0.8h-0.8zM400.4 374.7h0.8v0.8h-0.8zM412.6 355.4h0.8v0.8h-0.8zM414.6 371.2h0.8v0.8h-0.8zM421.7 355.8h0.8v0.8h-0.8zM412.1 352.2h0.8v0.8h-0.8zM420.8 354.2h0.8v0.8h-0.8zM423.2 358.7h0.8v0.8h-0.8zM416.2 353.5h0.8v0.8h-0.8zM424.7 370.8h0.8v0.8h-0.8zM409.8 354.8h0.8v0.8h-0.8zM389.4 365.5h0.8v0.8h-0.8zM417.1 371.6h0.8v0.8h-0.8zM399.1 357.4h0.8v0.8h-0.8zM397.1 363.3h0.8v0.8h-0.8zM409.1 368.6h0.8v0.8h-0.8zM404.5 357.8h0.8v0.8h-0.8zM421.3 351.7h0.8v0.8h-0.8zM417.6 369.7h0.8v0.8h-0.8zM419.3 359.1h0.8v0.8h-0.8zM417.5 362.3h0.8v0.8h-0.8zM415.8 366.4h0.8v0.8h-0.8zM421.8 357.2h0.8v0.8h-0.8zM400.3 371.7h0.8v0.8h-0.8zM418.0 352.2h0.8v0.8h-0.8zM402.4 369.7h0.8v0.8h-0.8zM410.9 383.4h0.8v0.8h-0.8zM411.4 361.6h0.8v0.8h-0.8zM404.2 360.7h0.8v0.8h-0.8zM416.4 351.1h0.8v0.8h-0.8zM419.9 360.5h0.8v0.8h-0.8zM409.8 360.2h0.8v0.8h-0.8zM420.1 359.1h0.8v0.8h-0.8zM408.9 360.5h0.8v0.8h-0.8zM394.4 351.7h0.8v0.8h-0.8zM418.8 361.7h0.8v0.8h-0.8zM427.0 372.9h0.8v0.8h-0.8zM408.4 374.4h0.8v0.8h-0.8zM420.7 358.8h0.8v0.8h-0.8zM408.2 356.1h0.8v0.8h-0.8zM417.3 366.7h0.8v0.8h-0.8zM409.3 366.4h0.8v0.8h-0.8zM429.5 355.5h0.8v0.8h-0.8zM423.1 360.5h0.8v0.8h-0.8zM408.2 349.8h0.8v0.8h-0.8zM399.5 373.1h0.8v0.8h-0.8zM414.0 366.8h0.8v0.8h-0.8zM395.4 352.5h0.8v0.8h-0.8zM396.6 354.6h0.8v0.8h-0.8zM398.4 367.7h0.8v0.8h-0.8zM402.4 364.8h0.8v0.8h-0.8zM410.4 352.5h0.8v0.8h-0.8zM419.1 366.6h0.8v0.8h-0.8zM402.2 367.3h0.8v0.8h-0.8zM403.1 349.2h0.8v0.8h-0.8zM396.0 365.1h0.8v0.8h-0.8zM411.8 364.6h0.8v0.8h-0.8zM420.4 366.6h0.8v0.8h-0.8zM400.4 365.7h0.8v0.8h-0.8zM393.1 359.8h0.8v0.8h-0.8zM406.3 370.6h0.8v0.8h-0.8zM421.4 354.2h0.8v0.8h-0.8zM416.1 362.7h0.8v0.8h-0.8zM419.0 348.9h0.8v0.8h-0.8zM423.7 366.0h0.8v0.8h-0.8zM407.2 365.5h0.8v0.8h-0.8zM404.5 360.7h0.8v0.8h-0.8zM404.6 351.8h0.8v0.8h-0.8zM410.8 360.5h0.8v0.8h-0.8zM411.9 371.5h0.8v0.8h-0.8zM402.9 344.9h0.8v0.8h-0.8zM405.6 368.0h0.8v0.8h-0.8zM399.3 368.2h0.8v0.8h-0.8zM402.7 364.2h0.8v0.8h-0.8zM428.1 360.0h0.8v0.8h-0.8zM419.1 367.2h0.8v0.8h-0.8zM404.0 350.8h0.8v0.8h-0.8zM414.3 350.6h0.8v0.8h-0.8zM404.2 361.9h0.8v0.8h-0.8zM404.4 361.5h0.8v0.8h-0.8zM398.0 355.0h0.8v0.8h-0.8zM424.5 365.0h0.8v0.8h-0.8zM408.3 364.2h0.8v0.8h-0.8zM398.8 354.9h0.8v0.8h-0.8zM398.2 373.3h0.8v0.8h-0.8zM407.1 376.9h0.8v0.8h-0.8zM422.6 368.7h0.8v0.8h-0.8zM420.8 349.4h0.8v0.8h-0.8zM408.5 354.1h0.8v0.8h-0.8zM399.0 370.6h0.8v0.8h-0.8zM400.1 373.3h0.8v0.8h-0.8zM422.1 360.7h0.8v0.8h-0.8zM417.6 352.9h0.8v0.8h-0.8zM426.3 358.0h0.8v0.8h-0.8zM413.9 371.5h0.8v0.8h-0.8zM401.2 361.9h0.8v0.8h-0.8zM402.1 356.4h0.8v0.8h-0.8zM408.2 370.7h0.8v0.8h-0.8zM406.1 354.9h0.8v0.8h-0.8zM400.7 359.2h0.8v0.8h-0.8zM411.9 352.1h0.8v0.8h-0.8zM410.1 374.6h0.8v0.8h-0.8zM407.2 371.0h0.8v0.8h-0.8zM406.9 350.1h0.8v0.8h-0.8zM412.8 372.1h0.8v0.8h-0.8zM404.9 367.0h0.8v0.8h-0.8zM409.0 352.1h0.8v0.8h-0.8zM411.4 373.7h0.8v0.8h-0.8zM402.2 352.6h0.8v0.8h-0.8zM409.4 364.9h0.8v0.8h-0.8zM422.7 358.1h0.8v0.8h-0.8zM401.4 346.3h0.8v0.8h-0.8zM407.3 365.2h0.8v0.8h-0.8zM413.6 349.4h0.8v0.8h-0.8zM408.5 372.6h0.8v0.8h-0.8zM405.4 343.2h0.8v0.8h-0.8zM402.0 364.0h0.8v0.8h-0.8zM403.0 376.5h0.8v0.8h-0.8zM406.5 377.8h0.8v0.8h-0.8zM417.2 352.0h0.8v0.8h-0.8zM404.9 363.4h0.8v0.8h-0.8zM411.9 348.6h0.8v0.8h-0.8zM397.5 365.7h0.8v0.8h-0.8zM401.6 355.6h0.8v0.8h-0.8zM408.6 362.2h0.8v0.8h-0.8zM400.6 370.2h0.8v0.8h-0.8zM403.6 355.0h0.8v0.8h-0.8zM422.9 362.6h0.8v0.8h-0.8zM414.6 374.4h0.8v0.8h-0.8zM415.9 357.4h0.8v0.8h-0.8zM408.7 363.5h0.8v0.8h-0.8z" fill="#b784b9" opacity="0.9"/><path d="M423.4 385.6h0.8v0.8h-0.8zM428.4 382.4h0.8v0.8h-0.8zM424.4 384.2h0.8v0.8h-0.8zM433.6 387.7h0.8v0.8h-0.8zM426.5 388.8h0.8v0.8h-0.8zM424.6 381.1h0.8v0.8h-0.8zM428.1 371.1h0.8v0.8h-0.8zM415.8 381.1h0.8v0.8h-0.8zM430.9 381.6h0.8v0.8h-0.8zM427.6 368.6h0.8v0.8h-0.8zM421.0 377.6h0.8v0.8h-0.8zM425.6 387.6h0.8v0.8h-0.8zM417.3 383.7h0.8v0.8h-0.8zM426.1 380.0h0.8v0.8h-0.8zM427.8 381.0h0.8v0.8h-0.8zM421.1 379.2h0.8v0.8h-0.8zM424.1 372.0h0.8v0.8h-0.8zM420.3 379.0h0.8v0.8h-0.8zM420.3 386.7h0.8v0.8h-0.8zM422.1 385.4h0.8v0.8h-0.8zM421.4 374.6h0.8v0.8h-0.8zM431.1 377.7h0.8v0.8h-0.8zM430.3 384.1h0.8v0.8h-0.8zM422.5 387.4h0.8v0.8h-0.8zM422.8 385.7h0.8v0.8h-0.8zM423.4 381.7h0.8v0.8h-0.8zM423.0 373.6h0.8v0.8h-0.8zM426.8 388.8h0.8v0.8h-0.8zM420.0 381.5h0.8v0.8h-0.8zM430.4 380.5h0.8v0.8h-0.8zM432.0 377.6h0.8v0.8h-0.8zM423.0 380.1h0.8v0.8h-0.8zM428.9 386.3h0.8v0.8h-0.8zM424.3 376.9h0.8v0.8h-0.8zM423.8 377.1h0.8v0.8h-0.8zM423.2 378.4h0.8v0.8h-0.8zM419.0 380.4h0.8v0.8h-0.8zM423.1 372.2h0.8v0.8h-0.8zM421.1 374.2h0.8v0.8h-0.8zM419.3 382.6h0.8v0.8h-0.8zM420.2 376.3h0.8v0.8h-0.8zM434.2 377.6h0.8v0.8h-0.8zM424.5 376.9h0.8v0.8h-0.8zM433.2 375.6h0.8v0.8h-0.8zM425.4 374.1h0.8v0.8h-0.8zM428.6 373.6h0.8v0.8h-0.8zM431.7 380.2h0.8v0.8h-0.8zM423.5 372.0h0.8v0.8h-0.8zM428.7 375.7h0.8v0.8h-0.8zM430.3 380.4h0.8v0.8h-0.8zM427.9 380.5h0.8v0.8h-0.8zM428.3 383.8h0.8v0.8h-0.8zM424.2 391.3h0.8v0.8h-0.8zM430.5 379.1h0.8v0.8h-0.8zM427.5 373.2h0.8v0.8h-0.8zM425.6 375.3h0.8v0.8h-0.8zM431.3 383.7h0.8v0.8h-0.8zM427.9 376.8h0.8v0.8h-0.8zM424.2 372.8h0.8v0.8h-0.8zM428.2 387.2h0.8v0.8h-0.8zM424.5 388.4h0.8v0.8h-0.8zM424.4 374.2h0.8v0.8h-0.8zM426.7 384.7h0.8v0.8h-0.8zM420.4 379.1h0.8v0.8h-0.8zM433.0 380.9h0.8v0.8h-0.8zM424.4 382.0h0.8v0.8h-0.8zM422.3 385.9h0.8v0.8h-0.8zM423.2 379.0h0.8v0.8h-0.8zM429.6 377.0h0.8v0.8h-0.8zM428.2 387.5h0.8v0.8h-0.8zM421.1 387.4h0.8v0.8h-0.8zM422.0 373.9h0.8v0.8h-0.8zM421.4 385.0h0.8v0.8h-0.8zM434.5 379.6h0.8v0.8h-0.8zM425.9 386.9h0.8v0.8h-0.8zM424.1 377.1h0.8v0.8h-0.8zM426.9 373.3h0.8v0.8h-0.8zM423.4 373.0h0.8v0.8h-0.8zM419.2 383.0h0.8v0.8h-0.8zM430.1 383.2h0.8v0.8h-0.8zM422.7 379.3h0.8v0.8h-0.8zM422.9 382.7h0.8v0.8h-0.8zM428.7 386.9h0.8v0.8h-0.8zM419.9 377.7h0.8v0.8h-0.8zM415.9 379.2h0.8v0.8h-0.8zM426.5 381.4h0.8v0.8h-0.8zM426.6 372.8h0.8v0.8h-0.8zM426.9 374.2h0.8v0.8h-0.8zM425.5 375.7h0.8v0.8h-0.8zM422.4 384.0h0.8v0.8h-0.8zM431.8 382.6h0.8v0.8h-0.8zM419.9 377.0h0.8v0.8h-0.8zM432.2 385.1h0.8v0.8h-0.8zM426.0 382.3h0.8v0.8h-0.8zM426.0 382.1h0.8v0.8h-0.8zM424.3 386.0h0.8v0.8h-0.8zM421.0 385.8h0.8v0.8h-0.8zM426.1 380.3h0.8v0.8h-0.8zM424.8 382.1h0.8v0.8h-0.8zM428.8 379.4h0.8v0.8h-0.8zM430.9 380.9h0.8v0.8h-0.8zM421.8 383.6h0.8v0.8h-0.8zM432.0 383.1h0.8v0.8h-0.8zM419.4 382.8h0.8v0.8h-0.8zM428.9 373.1h0.8v0.8h-0.8zM430.6 374.9h0.8v0.8h-0.8zM423.4 374.4h0.8v0.8h-0.8zM426.2 387.3h0.8v0.8h-0.8zM427.2 377.8h0.8v0.8h-0.8zM427.1 379.3h0.8v0.8h-0.8zM421.0 373.3h0.8v0.8h-0.8zM428.6 383.0h0.8v0.8h-0.8zM424.3 370.7h0.8v0.8h-0.8zM421.6 371.3h0.8v0.8h-0.8zM430.9 380.3h0.8v0.8h-0.8zM424.2 383.1h0.8v0.8h-0.8zM423.8 374.6h0.8v0.8h-0.8zM419.8 377.3h0.8v0.8h-0.8zM432.9 387.0h0.8v0.8h-0.8zM433.9 381.0h0.8v0.8h-0.8zM424.0 382.2h0.8v0.8h-0.8zM423.3 381.5h0.8v0.8h-0.8zM420.9 378.6h0.8v0.8h-0.8zM422.5 381.3h0.8v0.8h-0.8zM429.8 378.6h0.8v0.8h-0.8zM421.7 383.7h0.8v0.8h-0.8zM425.4 383.3h0.8v0.8h-0.8zM428.7 376.2h0.8v0.8h-0.8zM419.4 382.6h0.8v0.8h-0.8zM420.2 378.6h0.8v0.8h-0.8zM433.3 375.9h0.8v0.8h-0.8zM424.4 380.6h0.8v0.8h-0.8zM419.1 382.6h0.8v0.8h-0.8zM425.4 376.6h0.8v0.8h-0.8zM428.2 378.1h0.8v0.8h-0.8zM432.1 380.4h0.8v0.8h-0.8zM430.3 384.8h0.8v0.8h-0.8zM426.4 382.3h0.8v0.8h-0.8zM428.8 381.7h0.8v0.8h-0.8zM428.3 373.7h0.8v0.8h-0.8zM426.0 384.5h0.8v0.8h-0.8zM425.9 376.5h0.8v0.8h-0.8zM429.7 377.9h0.8v0.8h-0.8zM427.4 380.7h0.8v0.8h-0.8zM423.9 372.5h0.8v0.8h-0.8zM422.9 379.6h0.8v0.8h-0.8zM422.4 381.3h0.8v0.8h-0.8zM425.0 386.9h0.8v0.8h-0.8zM431.6 383.6h0.8v0.8h-0.8zM430.4 384.2h0.8v0.8h-0.8zM419.8 379.3h0.8v0.8h-0.8zM429.7 375.9h0.8v0.8h-0.8zM436.5 378.0h0.8v0.8h-0.8zM425.7 388.3h0.8v0.8h-0.8zM422.6 375.9h0.8v0.8h-0.8zM428.2 372.6h0.8v0.8h-0.8zM433.0 384.2h0.8v0.8h-0.8zM423.0 376.3h0.8v0.8h-0.8zM418.0 381.8h0.8v0.8h-0.8zM431.0 384.2h0.8v0.8h-0.8zM421.6 372.2h0.8v0.8h-0.8zM431.1 377.9h0.8v0.8h-0.8zM421.9 382.1h0.8v0.8h-0.8zM423.7 375.6h0.8v0.8h-0.8zM419.9 376.0h0.8v0.8h-0.8zM435.4 376.9h0.8v0.8h-0.8zM431.9 379.2h0.8v0.8h-0.8zM425.7 371.8h0.8v0.8h-0.8zM433.5 375.8h0.8v0.8h-0.8zM427.2 373.3h0.8v0.8h-0.8zM423.9 385.6h0.8v0.8h-0.8zM428.7 374.6h0.8v0.8h-0.8zM427.4 382.6h0.8v0.8h-0.8zM424.7 382.1h0.8v0.8h-0.8zM430.1 386.8h0.8v0.8h-0.8zM421.4 389.9h0.8v0.8h-0.8zM424.6 384.3h0.8v0.8h-0.8zM421.3 382.0h0.8v0.8h-0.8zM433.6 380.2h0.8v0.8h-0.8zM429.8 378.3h0.8v0.8h-0.8zM426.0 381.4h0.8v0.8h-0.8zM420.2 375.5h0.8v0.8h-0.8zM426.1 385.6h0.8v0.8h-0.8zM433.5 378.9h0.8v0.8h-0.8zM432.6 387.5h0.8v0.8h-0.8zM428.6 371.5h0.8v0.8h-0.8zM418.2 376.4h0.8v0.8h-0.8zM425.4 386.8h0.8v0.8h-0.8zM427.9 385.5h0.8v0.8h-0.8zM422.1 374.6h0.8v0.8h-0.8zM431.7 375.8h0.8v0.8h-0.8zM430.2 377.0h0.8v0.8h-0.8zM429.4 382.6h0.8v0.8h-0.8zM423.3 375.2h0.8v0.8h-0.8zM431.6 376.6h0.8v0.8h-0.8zM426.3 373.6h0.8v0.8h-0.8zM431.2 384.7h0.8v0.8h-0.8zM423.2 371.8h0.8v0.8h-0.8zM427.8 381.8h0.8v0.8h-0.8zM433.8 376.4h0.8v0.8h-0.8zM419.6 382.3h0.8v0.8h-0.8zM429.1 378.8h0.8v0.8h-0.8zM431.7 383.1h0.8v0.8h-0.8zM419.1 384.7h0.8v0.8h-0.8zM419.3 384.4h0.8v0.8h-0.8zM426.3 383.9h0.8v0.8h-0.8zM421.4 379.8h0.8v0.8h-0.8zM423.6 385.5h0.8v0.8h-0.8zM429.6 379.4h0.8v0.8h-0.8zM427.6 380.8h0.8v0.8h-0.8zM420.2 383.2h0.8v0.8h-0.8zM428.1 375.4h0.8v0.8h-0.8zM425.3 379.0h0.8v0.8h-0.8zM424.4 377.6h0.8v0.8h-0.8zM421.9 378.1h0.8v0.8h-0.8zM431.7 384.7h0.8v0.8h-0.8zM428.3 371.0h0.8v0.8h-0.8zM432.4 371.3h0.8v0.8h-0.8zM426.1 377.0h0.8v0.8h-0.8zM424.9 387.5h0.8v0.8h-0.8zM429.6 371.1h0.8v0.8h-0.8zM422.1 384.0h0.8v0.8h-0.8zM426.4 372.4h0.8v0.8h-0.8zM432.5 375.7h0.8v0.8h-0.8zM431.5 375.5h0.8v0.8h-0.8zM420.1 381.3h0.8v0.8h-0.8zM425.0 371.0h0.8v0.8h-0.8zM422.5 374.7h0.8v0.8h-0.8zM423.5 368.9h0.8v0.8h-0.8zM427.4 377.8h0.8v0.8h-0.8zM426.3 378.1h0.8v0.8h-0.8zM426.3 384.3h0.8v0.8h-0.8zM426.8 386.1h0.8v0.8h-0.8zM423.2 386.1h0.8v0.8h-0.8zM433.7 376.7h0.8v0.8h-0.8zM421.1 378.9h0.8v0.8h-0.8zM421.5 387.5h0.8v0.8h-0.8zM427.4 368.3h0.8v0.8h-0.8zM428.7 379.9h0.8v0.8h-0.8zM430.0 387.5h0.8v0.8h-0.8zM420.9 384.2h0.8v0.8h-0.8zM424.5 382.9h0.8v0.8h-0.8zM428.8 383.4h0.8v0.8h-0.8zM430.3 384.5h0.8v0.8h-0.8zM422.5 379.3h0.8v0.8h-0.8zM427.2 386.6h0.8v0.8h-0.8zM427.9 373.7h0.8v0.8h-0.8zM427.2 376.7h0.8v0.8h-0.8zM426.6 372.4h0.8v0.8h-0.8zM429.7 379.1h0.8v0.8h-0.8zM429.6 371.9h0.8v0.8h-0.8zM422.3 369.3h0.8v0.8h-0.8zM422.1 377.4h0.8v0.8h-0.8zM432.0 387.8h0.8v0.8h-0.8zM428.9 376.6h0.8v0.8h-0.8zM430.1 384.3h0.8v0.8h-0.8zM426.5 373.4h0.8v0.8h-0.8zM426.8 372.3h0.8v0.8h-0.8zM427.4 375.4h0.8v0.8h-0.8zM428.6 376.5h0.8v0.8h-0.8z" fill="#6c9b3b" opacity="0.9"/><path d="M394.5 408.2h0.8v0.8h-0.8zM389.0 405.8h0.8v0.8h-0.8zM377.8 392.7h0.8v0.8h-0.8zM390.8 403.7h0.8v0.8h-0.8zM383.5 413.3h0.8v0.8h-0.8zM375.4 400.3h0.8v0.8h-0.8zM388.2 407.8h0.8v0.8h-0.8zM382.6 395.0h0.8v0.8h-0.8zM379.5 409.3h0.8v0.8h-0.8zM376.6 402.8h0.8v0.8h-0.8zM391.7 397.0h0.8v0.8h-0.8zM387.4 396.5h0.8v0.8h-0.8zM382.8 405.2h0.8v0.8h-0.8zM387.5 409.4h0.8v0.8h-0.8zM389.8 401.6h0.8v0.8h-0.8zM390.1 395.8h0.8v0.8h-0.8zM390.0 409.4h0.8v0.8h-0.8zM380.5 397.8h0.8v0.8h-0.8zM377.4 401.4h0.8v0.8h-0.8zM393.7 394.9h0.8v0.8h-0.8zM391.4 397.5h0.8v0.8h-0.8zM391.6 397.0h0.8v0.8h-0.8zM388.8 395.6h0.8v0.8h-0.8zM389.5 392.0h0.8v0.8h-0.8zM374.5 411.2h0.8v0.8h-0.8zM373.2 404.1h0.8v0.8h-0.8zM386.7 413.3h0.8v0.8h-0.8zM388.4 401.2h0.8v0.8h-0.8zM378.9 406.4h0.8v0.8h-0.8zM391.0 398.9h0.8v0.8h-0.8zM379.8 405.9h0.8v0.8h-0.8zM375.2 397.1h0.8v0.8h-0.8zM390.3 401.1h0.8v0.8h-0.8zM389.4 415.0h0.8v0.8h-0.8zM376.0 397.2h0.8v0.8h-0.8zM379.3 411.1h0.8v0.8h-0.8zM372.4 406.0h0.8v0.8h-0.8zM387.5 403.7h0.8v0.8h-0.8zM376.2 412.7h0.8v0.8h-0.8zM384.5 393.8h0.8v0.8h-0.8zM373.7 399.6h0.8v0.8h-0.8zM377.8 392.1h0.8v0.8h-0.8zM373.8 411.3h0.8v0.8h-0.8zM390.5 405.6h0.8v0.8h-0.8zM379.1 395.8h0.8v0.8h-0.8zM394.0 404.6h0.8v0.8h-0.8zM378.8 397.5h0.8v0.8h-0.8zM385.2 407.5h0.8v0.8h-0.8zM386.3 393.9h0.8v0.8h-0.8zM385.9 393.6h0.8v0.8h-0.8zM379.0 395.7h0.8v0.8h-0.8zM392.7 400.3h0.8v0.8h-0.8zM372.1 399.6h0.8v0.8h-0.8zM384.5 415.3h0.8v0.8h-0.8zM392.8 402.9h0.8v0.8h-0.8zM381.9 396.1h0.8v0.8h-0.8zM384.1 412.4h0.8v0.8h-0.8zM375.1 413.7h0.8v0.8h-0.8zM371.4 395.8h0.8v0.8h-0.8zM384.2 401.9h0.8v0.8h-0.8zM384.3 400.6h0.8v0.8h-0.8zM383.8 394.8h0.8v0.8h-0.8zM385.2 410.8h0.8v0.8h-0.8zM380.8 402.2h0.8v0.8h-0.8zM383.8 395.8h0.8v0.8h-0.8zM382.4 413.0h0.8v0.8h-0.8zM383.7 393.7h0.8v0.8h-0.8zM380.0 396.2h0.8v0.8h-0.8zM373.7 399.7h0.8v0.8h-0.8zM380.5 408.6h0.8v0.8h-0.8zM388.9 406.4h0.8v0.8h-0.8zM387.0 410.2h0.8v0.8h-0.8zM391.4 410.2h0.8v0.8h-0.8zM382.9 412.2h0.8v0.8h-0.8zM381.4 416.0h0.8v0.8h-0.8zM383.0 391.3h0.8v0.8h-0.8zM375.1 398.5h0.8v0.8h-0.8zM389.3 402.6h0.8v0.8h-0.8zM381.3 405.8h0.8v0.8h-0.8zM395.8 404.1h0.8v0.8h-0.8zM382.4 403.6h0.8v0.8h-0.8zM383.9 406.2h0.8v0.8h-0.8zM380.0 405.6h0.8v0.8h-0.8zM374.9 397.3h0.8v0.8h-0.8zM379.8 411.5h0.8v0.8h-0.8zM377.9 410.2h0.8v0.8h-0.8zM385.1 393.5h0.8v0.8h-0.8zM391.0 411.7h0.8v0.8h-0.8zM379.1 398.6h0.8v0.8h-0.8zM391.8 404.0h0.8v0.8h-0.8zM383.7 412.5h0.8v0.8h-0.8zM374.0 402.1h0.8v0.8h-0.8zM385.2 408.2h0.8v0.8h-0.8zM387.8 414.6h0.8v0.8h-0.8zM389.7 403.9h0.8v0.8h-0.8zM377.6 400.9h0.8v0.8h-0.8zM383.8 398.8h0.8v0.8h-0.8zM386.2 405.6h0.8v0.8h-0.8zM383.9 391.6h0.8v0.8h-0.8zM373.7 409.5h0.8v0.8h-0.8zM375.6 413.9h0.8v0.8h-0.8zM372.1 398.5h0.8v0.8h-0.8zM391.8 410.7h0.8v0.8h-0.8zM380.6 400.1h0.8v0.8h-0.8zM387.1 400.8h0.8v0.8h-0.8zM379.7 409.8h0.8v0.8h-0.8zM370.8 410.3h0.8v0.8h-0.8zM373.8 410.8h0.8v0.8h-0.8zM372.6 404.0h0.8v0.8h-0.8zM393.2 403.8h0.8v0.8h-0.8zM392.5 407.6h0.8v0.8h-0.8zM393.3 400.2h0.8v0.8h-0.8zM386.2 401.0h0.8v0.8h-0.8zM382.1 401.2h0.8v0.8h-0.8zM388.7 398.8h0.8v0.8h-0.8zM382.7 403.9h0.8v0.8h-0.8zM389.2 398.5h0.8v0.8h-0.8zM394.0 401.6h0.8v0.8h-0.8zM384.4 407.9h0.8v0.8h-0.8zM379.6 399.9h0.8v0.8h-0.8zM371.0 409.9h0.8v0.8h-0.8zM394.7 406.7h0.8v0.8h-0.8zM394.0 411.1h0.8v0.8h-0.8zM391.0 404.4h0.8v0.8h-0.8zM373.3 402.5h0.8v0.8h-0.8zM384.7 396.7h0.8v0.8h-0.8zM388.7 395.9h0.8v0.8h-0.8zM372.2 405.0h0.8v0.8h-0.8zM374.2 397.6h0.8v0.8h-0.8zM388.7 401.6h0.8v0.8h-0.8zM389.9 402.8h0.8v0.8h-0.8zM380.8 403.3h0.8v0.8h-0.8zM391.9 396.8h0.8v0.8h-0.8zM381.8 392.2h0.8v0.8h-0.8zM379.4 413.5h0.8v0.8h-0.8zM372.2 394.1h0.8v0.8h-0.8zM387.1 409.7h0.8v0.8h-0.8zM386.2 401.5h0.8v0.8h-0.8zM384.0 406.1h0.8v0.8h-0.8zM378.0 394.8h0.8v0.8h-0.8zM371.9 400.8h0.8v0.8h-0.8zM378.2 394.3h0.8v0.8h-0.8zM372.9 402.4h0.8v0.8h-0.8zM376.0 405.8h0.8v0.8h-0.8zM375.3 405.8h0.8v0.8h-0.8zM375.4 406.1h0.8v0.8h-0.8zM387.6 401.1h0.8v0.8h-0.8zM376.2 407.7h0.8v0.8h-0.8zM376.6 397.5h0.8v0.8h-0.8zM391.7 392.4h0.8v0.8h-0.8zM381.1 410.8h0.8v0.8h-0.8zM392.3 393.9h0.8v0.8h-0.8zM383.3 408.2h0.8v0.8h-0.8zM377.3 403.2h0.8v0.8h-0.8zM384.4 416.3h0.8v0.8h-0.8zM388.6 407.3h0.8v0.8h-0.8zM392.7 401.0h0.8v0.8h-0.8zM393.1 406.4h0.8v0.8h-0.8zM392.3 406.6h0.8v0.8h-0.8zM391.0 395.0h0.8v0.8h-0.8zM380.5 399.5h0.8v0.8h-0.8zM383.0 413.9h0.8v0.8h-0.8zM382.5 397.2h0.8v0.8h-0.8zM375.7 398.1h0.8v0.8h-0.8zM371.5 407.0h0.8v0.8h-0.8zM375.8 416.0h0.8v0.8h-0.8zM389.4 399.8h0.8v0.8h-0.8zM375.0 407.4h0.8v0.8h-0.8zM377.9 395.5h0.8v0.8h-0.8zM378.1 399.9h0.8v0.8h-0.8zM379.1 413.4h0.8v0.8h-0.8zM382.7 411.2h0.8v0.8h-0.8zM381.1 414.6h0.8v0.8h-0.8zM370.9 407.3h0.8v0.8h-0.8zM386.0 407.5h0.8v0.8h-0.8zM378.8 409.9h0.8v0.8h-0.8zM383.4 394.7h0.8v0.8h-0.8zM384.8 389.0h0.8v0.8h-0.8zM372.3 407.8h0.8v0.8h-0.8zM368.6 399.5h0.8v0.8h-0.8zM377.2 407.8h0.8v0.8h-0.8zM374.8 412.8h0.8v0.8h-0.8zM374.0 404.5h0.8v0.8h-0.8zM377.2 412.4h0.8v0.8h-0.8zM382.4 401.8h0.8v0.8h-0.8zM387.9 404.4h0.8v0.8h-0.8zM385.4 412.4h0.8v0.8h-0.8zM383.1 409.0h0.8v0.8h-0.8zM381.5 410.3h0.8v0.8h-0.8zM380.2 393.0h0.8v0.8h-0.8zM380.4 397.9h0.8v0.8h-0.8zM382.5 412.0h0.8v0.8h-0.8zM386.8 393.6h0.8v0.8h-0.8zM394.3 400.6h0.8v0.8h-0.8zM381.4 404.7h0.8v0.8h-0.8zM385.4 398.3h0.8v0.8h-0.8zM378.3 394.8h0.8v0.8h-0.8zM387.1 405.3h0.8v0.8h-0.8zM386.6 391.2h0.8v0.8h-0.8zM381.9 407.7h0.8v0.8h-0.8zM395.7 410.3h0.8v0.8h-0.8zM379.7 407.0h0.8v0.8h-0.8zM371.9 407.1h0.8v0.8h-0.8zM375.4 393.3h0.8v0.8h-0.8zM377.4 401.6h0.8v0.8h-0.8zM385.7 407.6h0.8v0.8h-0.8zM376.4 401.4h0.8v0.8h-0.8zM389.2 396.7h0.8v0.8h-0.8zM395.4 405.6h0.8v0.8h-0.8zM389.1 410.3h0.8v0.8h-0.8zM383.8 397.6h0.8v0.8h-0.8zM381.0 396.7h0.8v0.8h-0.8zM379.0 391.7h0.8v0.8h-0.8zM379.0 395.3h0.8v0.8h-0.8zM386.2 405.8h0.8v0.8h-0.8zM375.7 408.9h0.8v0.8h-0.8zM375.3 399.2h0.8v0.8h-0.8zM377.6 412.7h0.8v0.8h-0.8zM391.0 392.1h0.8v0.8h-0.8zM384.8 393.9h0.8v0.8h-0.8zM388.8 407.7h0.8v0.8h-0.8zM378.9 411.1h0.8v0.8h-0.8zM379.4 401.1h0.8v0.8h-0.8zM385.5 393.0h0.8v0.8h-0.8zM381.0 406.8h0.8v0.8h-0.8zM379.1 406.4h0.8v0.8h-0.8zM387.8 409.4h0.8v0.8h-0.8zM379.0 408.9h0.8v0.8h-0.8zM371.1 400.9h0.8v0.8h-0.8zM380.5 394.7h0.8v0.8h-0.8zM389.1 394.2h0.8v0.8h-0.8zM381.3 414.0h0.8v0.8h-0.8zM385.4 394.3h0.8v0.8h-0.8zM385.5 401.4h0.8v0.8h-0.8zM385.8 394.5h0.8v0.8h-0.8zM375.6 407.1h0.8v0.8h-0.8zM393.8 409.4h0.8v0.8h-0.8zM378.1 392.0h0.8v0.8h-0.8zM386.8 391.0h0.8v0.8h-0.8zM388.9 402.4h0.8v0.8h-0.8zM383.7 398.1h0.8v0.8h-0.8zM387.8 409.7h0.8v0.8h-0.8zM390.6 396.1h0.8v0.8h-0.8zM380.6 416.4h0.8v0.8h-0.8zM384.9 392.0h0.8v0.8h-0.8zM369.3 403.2h0.8v0.8h-0.8zM375.8 410.9h0.8v0.8h-0.8zM374.2 398.0h0.8v0.8h-0.8zM367.1 398.8h0.8v0.8h-0.8zM381.0 392.7h0.8v0.8h-0.8zM385.5 398.3h0.8v0.8h-0.8zM387.1 393.1h0.8v0.8h-0.8zM393.8 401.6h0.8v0.8h-0.8zM391.6 406.8h0.8v0.8h-0.8zM380.4 407.9h0.8v0.8h-0.8zM392.8 395.2h0.8v0.8h-0.8zM375.8 399.0h0.8v0.8h-0.8zM374.6 415.0h0.8v0.8h-0.8zM393.5 398.8h0.8v0.8h-0.8zM388.0 407.3h0.8v0.8h-0.8zM390.3 410.0h0.8v0.8h-0.8zM388.5 400.4h0.8v0.8h-0.8zM383.3 404.0h0.8v0.8h-0.8zM375.9 400.6h0.8v0.8h-0.8zM379.1 394.0h0.8v0.8h-0.8zM382.1 391.7h0.8v0.8h-0.8zM381.3 394.1h0.8v0.8h-0.8zM391.5 404.4h0.8v0.8h-0.8zM378.2 397.4h0.8v0.8h-0.8zM388.2 394.6h0.8v0.8h-0.8zM377.9 402.4h0.8v0.8h-0.8zM388.2 401.5h0.8v0.8h-0.8zM389.5 402.3h0.8v0.8h-0.8zM393.2 411.4h0.8v0.8h-0.8zM377.1 412.3h0.8v0.8h-0.8zM389.1 415.2h0.8v0.8h-0.8zM371.7 394.3h0.8v0.8h-0.8zM381.6 387.7h0.8v0.8h-0.8zM385.3 401.0h0.8v0.8h-0.8zM366.4 398.0h0.8v0.8h-0.8zM383.0 404.4h0.8v0.8h-0.8zM376.3 399.1h0.8v0.8h-0.8zM369.2 394.1h0.8v0.8h-0.8zM382.6 413.0h0.8v0.8h-0.8zM391.9 403.1h0.8v0.8h-0.8zM376.8 409.3h0.8v0.8h-0.8zM383.8 412.9h0.8v0.8h-0.8zM385.8 400.4h0.8v0.8h-0.8zM380.5 394.2h0.8v0.8h-0.8zM394.7 401.8h0.8v0.8h-0.8zM368.6 406.1h0.8v0.8h-0.8zM377.0 400.7h0.8v0.8h-0.8zM371.0 400.5h0.8v0.8h-0.8zM386.4 396.4h0.8v0.8h-0.8zM371.3 397.1h0.8v0.8h-0.8zM394.6 404.0h0.8v0.8h-0.8zM378.1 399.3h0.8v0.8h-0.8zM385.9 409.3h0.8v0.8h-0.8zM375.7 396.9h0.8v0.8h-0.8zM382.0 397.2h0.8v0.8h-0.8zM382.5 416.5h0.8v0.8h-0.8zM383.3 402.7h0.8v0.8h-0.8zM383.3 391.8h0.8v0.8h-0.8zM377.3 404.8h0.8v0.8h-0.8zM372.3 394.9h0.8v0.8h-0.8zM381.5 397.6h0.8v0.8h-0.8zM384.6 412.0h0.8v0.8h-0.8zM379.6 410.4h0.8v0.8h-0.8zM387.0 409.0h0.8v0.8h-0.8zM384.3 397.1h0.8v0.8h-0.8zM388.4 406.3h0.8v0.8h-0.8zM392.4 409.9h0.8v0.8h-0.8zM378.8 393.8h0.8v0.8h-0.8zM383.5 391.4h0.8v0.8h-0.8zM374.0 403.7h0.8v0.8h-0.8zM386.0 409.6h0.8v0.8h-0.8zM369.6 397.3h0.8v0.8h-0.8zM380.2 407.6h0.8v0.8h-0.8zM375.6 393.5h0.8v0.8h-0.8zM392.6 401.9h0.8v0.8h-0.8zM389.3 399.2h0.8v0.8h-0.8zM384.6 407.7h0.8v0.8h-0.8zM386.0 401.7h0.8v0.8h-0.8zM382.6 389.6h0.8v0.8h-0.8zM392.8 397.0h0.8v0.8h-0.8zM391.0 404.0h0.8v0.8h-0.8zM391.3 403.5h0.8v0.8h-0.8zM387.6 395.7h0.8v0.8h-0.8zM389.3 400.3h0.8v0.8h-0.8zM382.2 412.4h0.8v0.8h-0.8zM388.4 402.1h0.8v0.8h-0.8zM379.9 402.0h0.8v0.8h-0.8zM380.0 412.3h0.8v0.8h-0.8zM384.3 394.3h0.8v0.8h-0.8zM378.4 401.2h0.8v0.8h-0.8zM395.3 394.6h0.8v0.8h-0.8zM382.0 390.5h0.8v0.8h-0.8zM388.1 392.0h0.8v0.8h-0.8zM378.4 396.7h0.8v0.8h-0.8zM380.7 401.5h0.8v0.8h-0.8zM377.5 411.3h0.8v0.8h-0.8zM393.8 393.8h0.8v0.8h-0.8zM392.6 402.3h0.8v0.8h-0.8zM387.7 389.1h0.8v0.8h-0.8zM384.2 397.2h0.8v0.8h-0.8zM389.3 391.7h0.8v0.8h-0.8zM376.7 401.3h0.8v0.8h-0.8zM382.8 402.5h0.8v0.8h-0.8zM391.3 401.0h0.8v0.8h-0.8zM375.1 397.2h0.8v0.8h-0.8zM385.0 388.4h0.8v0.8h-0.8zM383.0 395.7h0.8v0.8h-0.8zM379.5 409.4h0.8v0.8h-0.8zM378.9 403.9h0.8v0.8h-0.8zM391.3 401.9h0.8v0.8h-0.8zM383.6 395.6h0.8v0.8h-0.8zM374.6 407.5h0.8v0.8h-0.8zM380.1 410.1h0.8v0.8h-0.8zM382.4 393.5h0.8v0.8h-0.8zM386.8 404.2h0.8v0.8h-0.8zM381.0 407.4h0.8v0.8h-0.8zM381.8 390.7h0.8v0.8h-0.8zM386.2 414.1h0.8v0.8h-0.8zM384.1 410.2h0.8v0.8h-0.8zM377.0 407.1h0.8v0.8h-0.8zM372.9 390.0h0.8v0.8h-0.8zM385.9 407.8h0.8v0.8h-0.8zM380.0 411.4h0.8v0.8h-0.8zM373.4 403.2h0.8v0.8h-0.8zM374.4 396.5h0.8v0.8h-0.8zM382.7 402.3h0.8v0.8h-0.8zM385.8 405.1h0.8v0.8h-0.8zM384.8 413.0h0.8v0.8h-0.8zM382.0 402.0h0.8v0.8h-0.8zM382.6 410.4h0.8v0.8h-0.8zM382.6 408.7h0.8v0.8h-0.8zM379.7 409.1h0.8v0.8h-0.8zM395.5 403.6h0.8v0.8h-0.8zM382.3 391.5h0.8v0.8h-0.8zM389.9 396.7h0.8v0.8h-0.8zM386.3 414.4h0.8v0.8h-0.8zM374.1 401.9h0.8v0.8h-0.8zM387.4 406.3h0.8v0.8h-0.8zM377.2 395.5h0.8v0.8h-0.8zM380.0 405.2h0.8v0.8h-0.8zM391.1 392.1h0.8v0.8h-0.8zM393.4 407.8h0.8v0.8h-0.8zM387.0 415.4h0.8v0.8h-0.8zM386.6 393.7h0.8v0.8h-0.8zM382.3 414.6h0.8v0.8h-0.8zM380.3 396.5h0.8v0.8h-0.8zM384.6 396.2h0.8v0.8h-0.8zM386.7 406.6h0.8v0.8h-0.8zM373.5 400.4h0.8v0.8h-0.8zM383.1 396.4h0.8v0.8h-0.8zM383.2 407.1h0.8v0.8h-0.8zM390.6 406.3h0.8v0.8h-0.8zM387.3 404.8h0.8v0.8h-0.8zM374.9 396.3h0.8v0.8h-0.8zM374.0 397.7h0.8v0.8h-0.8zM392.7 407.8h0.8v0.8h-0.8zM374.4 400.3h0.8v0.8h-0.8zM389.2 399.7h0.8v0.8h-0.8zM390.2 389.7h0.8v0.8h-0.8zM384.1 392.6h0.8v0.8h-0.8zM392.4 399.3h0.8v0.8h-0.8zM383.3 396.7h0.8v0.8h-0.8zM384.2 413.1h0.8v0.8h-0.8zM384.6 411.4h0.8v0.8h-0.8zM380.1 390.8h0.8v0.8h-0.8zM395.9 401.1h0.8v0.8h-0.8zM379.2 394.6h0.8v0.8h-0.8zM390.6 398.8h0.8v0.8h-0.8zM373.8 403.9h0.8v0.8h-0.8zM381.6 405.9h0.8v0.8h-0.8zM387.0 410.0h0.8v0.8h-0.8zM378.6 408.7h0.8v0.8h-0.8zM384.1 403.3h0.8v0.8h-0.8zM371.8 397.3h0.8v0.8h-0.8zM377.8 414.0h0.8v0.8h-0.8zM371.0 402.6h0.8v0.8h-0.8zM385.1 409.9h0.8v0.8h-0.8zM375.8 407.7h0.8v0.8h-0.8zM372.5 396.2h0.8v0.8h-0.8zM376.6 393.4h0.8v0.8h-0.8zM393.5 404.6h0.8v0.8h-0.8zM371.6 399.3h0.8v0.8h-0.8zM375.3 410.5h0.8v0.8h-0.8zM380.7 413.6h0.8v0.8h-0.8zM388.0 397.7h0.8v0.8h-0.8zM381.8 412.0h0.8v0.8h-0.8zM385.7 413.6h0.8v0.8h-0.8zM390.5 406.1h0.8v0.8h-0.8zM383.9 398.6h0.8v0.8h-0.8zM389.1 396.5h0.8v0.8h-0.8zM388.7 397.0h0.8v0.8h-0.8zM382.8 407.0h0.8v0.8h-0.8zM389.0 412.8h0.8v0.8h-0.8zM371.6 395.8h0.8v0.8h-0.8zM378.4 403.0h0.8v0.8h-0.8zM382.0 414.5h0.8v0.8h-0.8zM375.6 395.4h0.8v0.8h-0.8zM394.9 398.2h0.8v0.8h-0.8zM386.4 408.2h0.8v0.8h-0.8zM388.0 408.3h0.8v0.8h-0.8zM378.8 402.9h0.8v0.8h-0.8zM381.4 393.3h0.8v0.8h-0.8zM397.1 395.9h0.8v0.8h-0.8zM385.9 401.7h0.8v0.8h-0.8zM382.5 414.9h0.8v0.8h-0.8zM385.3 400.3h0.8v0.8h-0.8zM389.3 396.3h0.8v0.8h-0.8zM387.9 406.1h0.8v0.8h-0.8zM385.5 408.4h0.8v0.8h-0.8zM384.3 401.9h0.8v0.8h-0.8zM383.0 393.6h0.8v0.8h-0.8zM388.7 398.9h0.8v0.8h-0.8zM386.2 403.1h0.8v0.8h-0.8zM390.9 406.4h0.8v0.8h-0.8zM382.5 399.6h0.8v0.8h-0.8zM372.4 400.9h0.8v0.8h-0.8zM375.5 404.9h0.8v0.8h-0.8zM388.3 391.7h0.8v0.8h-0.8zM389.4 404.3h0.8v0.8h-0.8zM372.6 389.0h0.8v0.8h-0.8zM390.4 410.0h0.8v0.8h-0.8zM383.8 390.9h0.8v0.8h-0.8zM387.3 406.2h0.8v0.8h-0.8zM388.3 408.1h0.8v0.8h-0.8zM384.0 402.1h0.8v0.8h-0.8zM389.1 400.9h0.8v0.8h-0.8zM394.1 412.1h0.8v0.8h-0.8zM390.4 396.0h0.8v0.8h-0.8zM375.4 395.5h0.8v0.8h-0.8zM384.3 391.6h0.8v0.8h-0.8zM380.8 398.7h0.8v0.8h-0.8zM388.2 406.4h0.8v0.8h-0.8zM376.7 410.5h0.8v0.8h-0.8zM379.1 399.7h0.8v0.8h-0.8zM378.1 407.8h0.8v0.8h-0.8zM372.7 396.1h0.8v0.8h-0.8zM377.3 398.5h0.8v0.8h-0.8zM370.7 404.2h0.8v0.8h-0.8zM379.1 411.8h0.8v0.8h-0.8zM386.4 394.4h0.8v0.8h-0.8zM382.7 410.8h0.8v0.8h-0.8zM377.1 400.7h0.8v0.8h-0.8zM379.8 406.4h0.8v0.8h-0.8zM389.8 389.9h0.8v0.8h-0.8zM391.6 406.4h0.8v0.8h-0.8zM393.8 403.8h0.8v0.8h-0.8zM374.5 405.5h0.8v0.8h-0.8zM387.2 409.2h0.8v0.8h-0.8zM380.3 400.3h0.8v0.8h-0.8zM384.6 410.1h0.8v0.8h-0.8zM371.8 396.0h0.8v0.8h-0.8zM373.7 398.4h0.8v0.8h-0.8zM381.3 411.3h0.8v0.8h-0.8zM392.2 397.8h0.8v0.8h-0.8zM386.2 412.1h0.8v0.8h-0.8zM372.4 401.3h0.8v0.8h-0.8zM384.7 403.1h0.8v0.8h-0.8zM380.4 393.1h0.8v0.8h-0.8zM390.0 403.7h0.8v0.8h-0.8zM388.3 392.3h0.8v0.8h-0.8zM390.8 396.3h0.8v0.8h-0.8zM389.8 414.4h0.8v0.8h-0.8zM377.1 393.7h0.8v0.8h-0.8zM390.6 407.0h0.8v0.8h-0.8zM389.3 410.6h0.8v0.8h-0.8zM382.6 400.7h0.8v0.8h-0.8zM393.1 398.7h0.8v0.8h-0.8zM385.6 399.2h0.8v0.8h-0.8zM380.7 406.3h0.8v0.8h-0.8zM380.7 402.6h0.8v0.8h-0.8zM390.4 396.5h0.8v0.8h-0.8zM389.8 405.8h0.8v0.8h-0.8zM379.8 402.2h0.8v0.8h-0.8zM381.2 395.6h0.8v0.8h-0.8zM390.0 396.6h0.8v0.8h-0.8z" fill="#d4aeb0" opacity="0.9"/><path d="M358.2 398.3h0.8v0.8h-0.8zM360.0 396.8h0.8v0.8h-0.8zM359.8 386.5h0.8v0.8h-0.8zM359.5 389.1h0.8v0.8h-0.8zM359.7 400.8h0.8v0.8h-0.8zM359.7 394.9h0.8v0.8h-0.8zM354.6 392.3h0.8v0.8h-0.8zM359.1 384.4h0.8v0.8h-0.8zM355.9 392.3h0.8v0.8h-0.8zM359.8 388.2h0.8v0.8h-0.8zM358.7 398.5h0.8v0.8h-0.8zM359.5 385.3h0.8v0.8h-0.8zM356.5 397.0h0.8v0.8h-0.8zM366.7 393.9h0.8v0.8h-0.8zM365.5 386.5h0.8v0.8h-0.8zM359.1 402.2h0.8v0.8h-0.8zM357.7 385.3h0.8v0.8h-0.8zM362.6 386.0h0.8v0.8h-0.8zM360.8 382.6h0.8v0.8h-0.8zM359.2 393.9h0.8v0.8h-0.8zM363.5 386.9h0.8v0.8h-0.8zM361.7 389.7h0.8v0.8h-0.8zM357.8 396.7h0.8v0.8h-0.8zM360.3 395.9h0.8v0.8h-0.8zM358.2 385.0h0.8v0.8h-0.8zM363.4 390.7h0.8v0.8h-0.8zM358.5 391.2h0.8v0.8h-0.8zM354.1 391.4h0.8v0.8h-0.8zM360.8 385.9h0.8v0.8h-0.8zM367.9 395.4h0.8v0.8h-0.8zM361.7 389.1h0.8v0.8h-0.8zM357.6 395.3h0.8v0.8h-0.8zM356.2 386.1h0.8v0.8h-0.8zM360.3 392.1h0.8v0.8h-0.8zM361.4 384.0h0.8v0.8h-0.8zM365.5 395.6h0.8v0.8h-0.8zM357.4 397.1h0.8v0.8h-0.8zM359.5 389.7h0.8v0.8h-0.8zM354.8 387.9h0.8v0.8h-0.8zM367.3 389.4h0.8v0.8h-0.8zM362.0 382.6h0.8v0.8h-0.8zM362.6 385.1h0.8v0.8h-0.8zM356.7 385.3h0.8v0.8h-0.8zM357.5 400.6h0.8v0.8h-0.8zM361.2 386.0h0.8v0.8h-0.8zM363.8 393.6h0.8v0.8h-0.8zM365.4 395.5h0.8v0.8h-0.8zM363.6 385.2h0.8v0.8h-0.8zM358.7 388.5h0.8v0.8h-0.8zM359.6 399.2h0.8v0.8h-0.8zM357.9 392.0h0.8v0.8h-0.8zM361.9 384.5h0.8v0.8h-0.8zM367.3 395.6h0.8v0.8h-0.8zM366.5 394.2h0.8v0.8h-0.8zM362.0 394.6h0.8v0.8h-0.8zM356.3 394.3h0.8v0.8h-0.8zM357.0 395.3h0.8v0.8h-0.8zM361.6 396.0h0.8v0.8h-0.8zM357.0 389.8h0.8v0.8h-0.8zM358.9 386.4h0.8v0.8h-0.8zM363.2 389.4h0.8v0.8h-0.8zM357.1 390.4h0.8v0.8h-0.8zM358.6 386.2h0.8v0.8h-0.8zM356.5 393.2h0.8v0.8h-0.8zM359.6 384.2h0.8v0.8h-0.8zM362.4 394.0h0.8v0.8h-0.8zM361.5 395.1h0.8v0.8h-0.8zM362.8 389.2h0.8v0.8h-0.8zM360.6 396.3h0.8v0.8h-0.8zM357.2 388.8h0.8v0.8h-0.8zM362.1 385.4h0.8v0.8h-0.8zM358.0 385.6h0.8v0.8h-0.8zM364.1 395.2h0.8v0.8h-0.8zM359.4 389.4h0.8v0.8h-0.8zM361.3 383.4h0.8v0.8h-0.8zM357.0 391.1h0.8v0.8h-0.8zM361.0 394.7h0.8v0.8h-0.8zM365.5 389.3h0.8v0.8h-0.8zM364.9 384.6h0.8v0.8h-0.8zM364.6 398.3h0.8v0.8h-0.8zM363.6 386.7h0.8v0.8h-0.8zM358.6 393.0h0.8v0.8h-0.8zM356.7 389.6h0.8v0.8h-0.8zM354.1 386.5h0.8v0.8h-0.8zM359.3 398.3h0.8v0.8h-0.8zM362.2 401.3h0.8v0.8h-0.8zM356.6 389.3h0.8v0.8h-0.8zM354.4 390.1h0.8v0.8h-0.8zM361.2 395.2h0.8v0.8h-0.8zM361.2 401.2h0.8v0.8h-0.8zM362.2 392.0h0.8v0.8h-0.8zM363.2 395.1h0.8v0.8h-0.8zM363.6 389.6h0.8v0.8h-0.8zM359.3 391.4h0.8v0.8h-0.8zM363.8 386.8h0.8v0.8h-0.8zM363.1 401.1h0.8v0.8h-0.8zM362.3 387.2h0.8v0.8h-0.8zM360.8 393.0h0.8v0.8h-0.8zM360.3 387.7h0.8v0.8h-0.8zM363.0 392.0h0.8v0.8h-0.8zM357.1 383.8h0.8v0.8h-0.8zM359.8 391.3h0.8v0.8h-0.8zM364.9 389.7h0.8v0.8h-0.8zM362.6 385.9h0.8v0.8h-0.8zM361.5 398.7h0.8v0.8h-0.8zM361.6 400.3h0.8v0.8h-0.8zM362.5 397.5h0.8v0.8h-0.8zM363.2 390.1h0.8v0.8h-0.8zM358.5 384.6h0.8v0.8h-0.8zM360.8 385.2h0.8v0.8h-0.8zM359.9 404.2h0.8v0.8h-0.8zM357.7 398.5h0.8v0.8h-0.8zM357.9 383.0h0.8v0.8h-0.8zM356.8 396.0h0.8v0.8h-0.8zM357.8 385.4h0.8v0.8h-0.8zM364.7 392.0h0.8v0.8h-0.8zM366.5 398.0h0.8v0.8h-0.8zM360.9 395.6h0.8v0.8h-0.8zM360.6 384.8h0.8v0.8h-0.8zM354.1 388.0h0.8v0.8h-0.8zM356.6 391.2h0.8v0.8h-0.8zM359.7 388.3h0.8v0.8h-0.8zM358.3 382.6h0.8v0.8h-0.8zM359.5 393.5h0.8v0.8h-0.8zM365.2 396.3h0.8v0.8h-0.8zM362.3 397.7h0.8v0.8h-0.8zM362.1 384.8h0.8v0.8h-0.8zM358.4 397.1h0.8v0.8h-0.8zM359.9 385.6h0.8v0.8h-0.8zM356.4 396.6h0.8v0.8h-0.8zM361.2 398.0h0.8v0.8h-0.8zM358.5 386.4h0.8v0.8h-0.8zM366.4 392.2h0.8v0.8h-0.8zM363.8 390.2h0.8v0.8h-0.8zM363.6 393.5h0.8v0.8h-0.8zM358.9 391.2h0.8v0.8h-0.8zM359.9 398.8h0.8v0.8h-0.8zM364.4 387.4h0.8v0.8h-0.8zM361.1 400.1h0.8v0.8h-0.8zM359.2 388.9h0.8v0.8h-0.8zM357.2 389.9h0.8v0.8h-0.8zM363.8 388.2h0.8v0.8h-0.8zM361.5 395.1h0.8v0.8h-0.8zM363.3 393.3h0.8v0.8h-0.8zM359.5 398.9h0.8v0.8h-0.8zM360.3 384.1h0.8v0.8h-0.8zM359.7 398.2h0.8v0.8h-0.8zM354.8 389.8h0.8v0.8h-0.8zM363.5 399.9h0.8v0.8h-0.8zM364.6 382.7h0.8v0.8h-0.8zM354.9 401.2h0.8v0.8h-0.8zM360.9 393.4h0.8v0.8h-0.8zM360.7 387.6h0.8v0.8h-0.8zM363.1 395.5h0.8v0.8h-0.8zM363.7 394.4h0.8v0.8h-0.8zM353.1 392.0h0.8v0.8h-0.8zM362.3 387.2h0.8v0.8h-0.8zM357.0 389.1h0.8v0.8h-0.8zM362.3 396.5h0.8v0.8h-0.8zM357.5 387.5h0.8v0.8h-0.8zM361.0 383.9h0.8v0.8h-0.8zM362.9 386.1h0.8v0.8h-0.8zM358.5 388.1h0.8v0.8h-0.8zM359.8 385.2h0.8v0.8h-0.8zM362.7 395.6h0.8v0.8h-0.8zM357.4 386.3h0.8v0.8h-0.8zM359.8 386.9h0.8v0.8h-0.8zM360.5 388.8h0.8v0.8h-0.8zM357.6 391.2h0.8v0.8h-0.8zM361.3 395.8h0.8v0.8h-0.8zM364.0 387.2h0.8v0.8h-0.8zM360.0 397.5h0.8v0.8h-0.8zM366.3 392.0h0.8v0.8h-0.8zM356.3 390.7h0.8v0.8h-0.8zM358.6 386.1h0.8v0.8h-0.8zM365.0 395.0h0.8v0.8h-0.8zM362.9 388.2h0.8v0.8h-0.8zM361.4 390.3h0.8v0.8h-0.8zM362.2 387.0h0.8v0.8h-0.8zM355.9 393.1h0.8v0.8h-0.8zM363.0 380.5h0.8v0.8h-0.8zM360.0 383.9h0.8v0.8h-0.8zM357.3 395.1h0.8v0.8h-0.8zM360.1 400.4h0.8v0.8h-0.8zM363.3 385.2h0.8v0.8h-0.8zM356.7 388.5h0.8v0.8h-0.8zM365.1 391.8h0.8v0.8h-0.8zM358.8 392.0h0.8v0.8h-0.8zM360.3 402.7h0.8v0.8h-0.8zM362.3 382.3h0.8v0.8h-0.8zM360.3 399.9h0.8v0.8h-0.8zM365.5 389.0h0.8v0.8h-0.8zM359.5 388.2h0.8v0.8h-0.8zM365.0 397.0h0.8v0.8h-0.8zM360.5 400.7h0.8v0.8h-0.8zM359.7 386.6h0.8v0.8h-0.8zM358.6 391.0h0.8v0.8h-0.8zM357.0 388.4h0.8v0.8h-0.8zM359.4 394.1h0.8v0.8h-0.8zM357.9 389.8h0.8v0.8h-0.8z" fill="#60c1dd" opacity="0.9"/><path d="M386.5 433.3h0.8v0.8h-0.8zM381.7 428.6h0.8v0.8h-0.8zM389.3 425.9h0.8v0.8h-0.8zM383.4 431.6h0.8v0.8h-0.8zM392.6 427.5h0.8v0.8h-0.8zM385.1 437.3h0.8v0.8h-0.8zM383.3 432.0h0.8v0.8h-0.8zM395.0 422.5h0.8v0.8h-0.8zM390.9 434.6h0.8v0.8h-0.8zM387.9 426.0h0.8v0.8h-0.8zM376.8 423.6h0.8v0.8h-0.8zM392.1 429.3h0.8v0.8h-0.8zM385.0 432.9h0.8v0.8h-0.8zM376.0 426.1h0.8v0.8h-0.8zM390.9 425.1h0.8v0.8h-0.8zM395.4 432.8h0.8v0.8h-0.8zM389.0 426.6h0.8v0.8h-0.8zM395.9 420.4h0.8v0.8h-0.8zM393.4 427.5h0.8v0.8h-0.8zM384.4 427.7h0.8v0.8h-0.8zM385.8 432.9h0.8v0.8h-0.8zM390.6 430.6h0.8v0.8h-0.8zM390.4 429.5h0.8v0.8h-0.8zM388.1 426.4h0.8v0.8h-0.8zM389.5 421.4h0.8v0.8h-0.8zM387.3 425.9h0.8v0.8h-0.8zM398.1 430.0h0.8v0.8h-0.8zM386.1 425.5h0.8v0.8h-0.8zM395.2 431.7h0.8v0.8h-0.8zM382.8 423.8h0.8v0.8h-0.8zM379.6 428.3h0.8v0.8h-0.8zM383.1 422.8h0.8v0.8h-0.8zM397.0 430.5h0.8v0.8h-0.8zM380.1 425.3h0.8v0.8h-0.8zM386.3 422.2h0.8v0.8h-0.8zM386.2 428.3h0.8v0.8h-0.8zM374.9 426.8h0.8v0.8h-0.8zM377.6 427.4h0.8v0.8h-0.8zM380.4 425.7h0.8v0.8h-0.8zM392.3 423.9h0.8v0.8h-0.8zM388.3 420.9h0.8v0.8h-0.8zM383.0 432.3h0.8v0.8h-0.8zM377.8 428.0h0.8v0.8h-0.8zM379.0 432.4h0.8v0.8h-0.8zM389.2 426.6h0.8v0.8h-0.8zM380.1 431.4h0.8v0.8h-0.8zM388.7 422.8h0.8v0.8h-0.8zM378.4 430.5h0.8v0.8h-0.8zM373.2 429.6h0.8v0.8h-0.8zM386.4 425.1h0.8v0.8h-0.8zM385.3 428.2h0.8v0.8h-0.8zM390.2 433.2h0.8v0.8h-0.8zM392.0 431.9h0.8v0.8h-0.8zM383.1 423.3h0.8v0.8h-0.8zM397.1 428.8h0.8v0.8h-0.8zM384.8 430.4h0.8v0.8h-0.8zM384.1 424.3h0.8v0.8h-0.8zM383.5 427.2h0.8v0.8h-0.8zM384.2 433.1h0.8v0.8h-0.8zM383.2 426.5h0.8v0.8h-0.8zM397.4 426.4h0.8v0.8h-0.8zM388.0 430.4h0.8v0.8h-0.8zM395.5 429.2h0.8v0.8h-0.8zM391.6 434.7h0.8v0.8h-0.8zM387.7 423.3h0.8v0.8h-0.8zM390.7 431.4h0.8v0.8h-0.8zM387.4 425.3h0.8v0.8h-0.8zM387.7 424.2h0.8v0.8h-0.8zM389.6 428.3h0.8v0.8h-0.8zM386.4 424.8h0.8v0.8h-0.8zM384.8 431.7h0.8v0.8h-0.8zM390.7 432.2h0.8v0.8h-0.8zM394.0 429.0h0.8v0.8h-0.8zM383.5 419.8h0.8v0.8h-0.8zM386.7 429.0h0.8v0.8h-0.8zM395.2 428.0h0.8v0.8h-0.8zM390.6 425.5h0.8v0.8h-0.8zM394.6 424.9h0.8v0.8h-0.8zM375.8 427.1h0.8v0.8h-0.8zM378.5 426.2h0.8v0.8h-0.8zM382.0 432.0h0.8v0.8h-0.8zM385.8 419.4h0.8v0.8h-0.8zM373.8 429.9h0.8v0.8h-0.8zM385.6 419.9h0.8v0.8h-0.8zM381.4 430.2h0.8v0.8h-0.8zM382.1 424.1h0.8v0.8h-0.8zM391.2 430.5h0.8v0.8h-0.8zM379.5 420.9h0.8v0.8h-0.8zM373.2 423.9h0.8v0.8h-0.8zM374.7 423.7h0.8v0.8h-0.8zM387.3 429.7h0.8v0.8h-0.8zM383.6 425.1h0.8v0.8h-0.8zM377.6 428.1h0.8v0.8h-0.8zM392.8 430.4h0.8v0.8h-0.8zM395.1 428.2h0.8v0.8h-0.8zM377.4 430.8h0.8v0.8h-0.8zM387.7 426.5h0.8v0.8h-0.8zM394.4 432.6h0.8v0.8h-0.8zM392.8 426.0h0.8v0.8h-0.8zM387.6 433.1h0.8v0.8h-0.8zM383.9 422.9h0.8v0.8h-0.8zM378.3 430.1h0.8v0.8h-0.8zM394.5 427.7h0.8v0.8h-0.8zM387.5 425.2h0.8v0.8h-0.8zM383.4 432.9h0.8v0.8h-0.8zM393.7 431.8h0.8v0.8h-0.8zM383.4 428.8h0.8v0.8h-0.8zM388.7 427.7h0.8v0.8h-0.8zM386.9 428.9h0.8v0.8h-0.8zM386.6 425.4h0.8v0.8h-0.8zM377.3 426.3h0.8v0.8h-0.8zM381.3 425.4h0.8v0.8h-0.8zM379.0 429.6h0.8v0.8h-0.8zM393.6 430.8h0.8v0.8h-0.8zM391.8 427.4h0.8v0.8h-0.8zM390.0 421.6h0.8v0.8h-0.8zM378.0 432.5h0.8v0.8h-0.8zM392.4 428.1h0.8v0.8h-0.8zM389.3 431.8h0.8v0.8h-0.8zM388.6 426.1h0.8v0.8h-0.8zM394.9 425.9h0.8v0.8h-0.8zM392.2 426.2h0.8v0.8h-0.8zM387.5 426.5h0.8v0.8h-0.8zM386.6 425.4h0.8v0.8h-0.8zM392.3 430.0h0.8v0.8h-0.8zM389.4 432.3h0.8v0.8h-0.8zM393.0 426.8h0.8v0.8h-0.8zM383.5 424.7h0.8v0.8h-0.8zM378.4 430.4h0.8v0.8h-0.8zM385.0 431.0h0.8v0.8h-0.8zM392.7 424.5h0.8v0.8h-0.8zM394.0 423.9h0.8v0.8h-0.8zM384.0 422.6h0.8v0.8h-0.8zM381.0 435.5h0.8v0.8h-0.8zM394.6 429.2h0.8v0.8h-0.8zM372.8 425.4h0.8v0.8h-0.8zM395.9 427.4h0.8v0.8h-0.8zM377.9 426.8h0.8v0.8h-0.8zM388.6 432.6h0.8v0.8h-0.8zM394.7 424.7h0.8v0.8h-0.8zM382.6 421.6h0.8v0.8h-0.8zM391.4 429.1h0.8v0.8h-0.8zM394.3 427.1h0.8v0.8h-0.8zM395.9 430.2h0.8v0.8h-0.8zM386.6 430.5h0.8v0.8h-0.8zM393.6 428.1h0.8v0.8h-0.8zM378.7 425.1h0.8v0.8h-0.8zM380.7 432.3h0.8v0.8h-0.8zM380.7 433.3h0.8v0.8h-0.8zM391.0 419.7h0.8v0.8h-0.8zM377.0 428.0h0.8v0.8h-0.8zM386.2 428.5h0.8v0.8h-0.8zM375.1 428.1h0.8v0.8h-0.8zM379.5 430.5h0.8v0.8h-0.8zM393.6 431.5h0.8v0.8h-0.8zM387.8 426.6h0.8v0.8h-0.8zM389.2 433.2h0.8v0.8h-0.8zM384.9 434.6h0.8v0.8h-0.8zM379.3 434.8h0.8v0.8h-0.8zM381.8 434.5h0.8v0.8h-0.8zM396.5 432.7h0.8v0.8h-0.8zM386.7 426.5h0.8v0.8h-0.8zM379.9 428.1h0.8v0.8h-0.8zM385.1 421.4h0.8v0.8h-0.8zM391.8 431.7h0.8v0.8h-0.8zM386.2 421.6h0.8v0.8h-0.8zM398.1 425.8h0.8v0.8h-0.8zM389.9 434.1h0.8v0.8h-0.8zM378.5 424.5h0.8v0.8h-0.8zM382.8 432.5h0.8v0.8h-0.8zM388.4 427.2h0.8v0.8h-0.8zM385.9 422.5h0.8v0.8h-0.8zM392.3 421.3h0.8v0.8h-0.8zM376.6 423.6h0.8v0.8h-0.8zM388.9 422.3h0.8v0.8h-0.8zM399.0 431.2h0.8v0.8h-0.8zM396.8 424.6h0.8v0.8h-0.8zM385.8 422.1h0.8v0.8h-0.8zM386.6 429.8h0.8v0.8h-0.8zM391.4 431.1h0.8v0.8h-0.8zM385.3 432.3h0.8v0.8h-0.8zM385.9 421.7h0.8v0.8h-0.8zM379.4 429.5h0.8v0.8h-0.8zM388.2 420.1h0.8v0.8h-0.8zM382.9 434.0h0.8v0.8h-0.8zM381.7 421.3h0.8v0.8h-0.8zM380.3 434.3h0.8v0.8h-0.8zM386.6 421.5h0.8v0.8h-0.8zM392.6 432.8h0.8v0.8h-0.8zM379.3 431.8h0.8v0.8h-0.8zM378.2 426.8h0.8v0.8h-0.8zM383.8 420.8h0.8v0.8h-0.8zM376.3 432.4h0.8v0.8h-0.8zM395.1 428.4h0.8v0.8h-0.8zM380.3 427.2h0.8v0.8h-0.8zM397.6 429.4h0.8v0.8h-0.8zM388.2 426.5h0.8v0.8h-0.8zM376.7 426.2h0.8v0.8h-0.8zM379.6 422.6h0.8v0.8h-0.8zM391.7 431.0h0.8v0.8h-0.8zM380.5 435.2h0.8v0.8h-0.8zM386.2 424.7h0.8v0.8h-0.8zM373.5 426.5h0.8v0.8h-0.8zM376.0 424.8h0.8v0.8h-0.8zM380.9 432.7h0.8v0.8h-0.8zM381.9 421.9h0.8v0.8h-0.8zM381.7 430.7h0.8v0.8h-0.8zM385.2 432.0h0.8v0.8h-0.8zM376.5 432.6h0.8v0.8h-0.8zM372.0 427.5h0.8v0.8h-0.8zM384.5 428.3h0.8v0.8h-0.8zM397.5 432.4h0.8v0.8h-0.8zM378.2 424.6h0.8v0.8h-0.8zM380.8 433.2h0.8v0.8h-0.8zM389.8 432.4h0.8v0.8h-0.8zM382.0 421.5h0.8v0.8h-0.8zM386.0 420.4h0.8v0.8h-0.8zM374.3 428.5h0.8v0.8h-0.8zM393.1 425.8h0.8v0.8h-0.8zM385.5 427.3h0.8v0.8h-0.8zM389.1 423.8h0.8v0.8h-0.8zM381.7 430.5h0.8v0.8h-0.8zM382.2 421.3h0.8v0.8h-0.8zM392.1 425.9h0.8v0.8h-0.8zM384.1 432.0h0.8v0.8h-0.8zM391.5 427.3h0.8v0.8h-0.8zM386.7 430.5h0.8v0.8h-0.8zM380.5 420.9h0.8v0.8h-0.8zM388.0 428.3h0.8v0.8h-0.8zM391.8 431.8h0.8v0.8h-0.8zM376.4 434.8h0.8v0.8h-0.8zM378.1 430.4h0.8v0.8h-0.8zM393.9 433.2h0.8v0.8h-0.8zM388.5 429.6h0.8v0.8h-0.8zM394.3 423.9h0.8v0.8h-0.8zM384.7 426.9h0.8v0.8h-0.8zM385.1 420.8h0.8v0.8h-0.8zM384.7 419.9h0.8v0.8h-0.8zM381.3 424.9h0.8v0.8h-0.8zM395.0 426.6h0.8v0.8h-0.8zM387.9 434.2h0.8v0.8h-0.8zM381.9 434.3h0.8v0.8h-0.8zM395.1 427.1h0.8v0.8h-0.8zM377.5 430.6h0.8v0.8h-0.8zM395.6 426.6h0.8v0.8h-0.8zM393.6 425.0h0.8v0.8h-0.8zM377.2 426.6h0.8v0.8h-0.8zM385.9 427.8h0.8v0.8h-0.8zM392.9 427.5h0.8v0.8h-0.8zM379.2 433.0h0.8v0.8h-0.8zM381.7 422.4h0.8v0.8h-0.8zM391.2 421.7h0.8v0.8h-0.8zM376.4 428.6h0.8v0.8h-0.8zM379.0 428.4h0.8v0.8h-0.8zM385.2 421.9h0.8v0.8h-0.8zM377.3 433.2h0.8v0.8h-0.8zM375.7 434.1h0.8v0.8h-0.8zM381.2 430.5h0.8v0.8h-0.8zM375.7 430.6h0.8v0.8h-0.8zM388.9 426.8h0.8v0.8h-0.8zM394.9 423.1h0.8v0.8h-0.8zM383.9 421.1h0.8v0.8h-0.8zM381.6 429.2h0.8v0.8h-0.8zM385.2 425.0h0.8v0.8h-0.8zM378.2 427.7h0.8v0.8h-0.8zM372.8 430.0h0.8v0.8h-0.8zM376.9 421.8h0.8v0.8h-0.8zM387.0 423.2h0.8v0.8h-0.8zM378.6 424.4h0.8v0.8h-0.8zM383.2 424.0h0.8v0.8h-0.8zM387.2 424.0h0.8v0.8h-0.8zM385.9 428.0h0.8v0.8h-0.8zM391.8 424.8h0.8v0.8h-0.8zM390.5 425.3h0.8v0.8h-0.8zM393.3 427.3h0.8v0.8h-0.8zM382.3 430.5h0.8v0.8h-0.8zM382.4 430.3h0.8v0.8h-0.8zM399.0 431.0h0.8v0.8h-0.8zM388.1 422.5h0.8v0.8h-0.8zM386.9 421.2h0.8v0.8h-0.8zM379.5 431.5h0.8v0.8h-0.8zM392.5 422.1h0.8v0.8h-0.8zM376.7 429.7h0.8v0.8h-0.8zM380.2 432.4h0.8v0.8h-0.8zM389.4 432.7h0.8v0.8h-0.8zM385.5 422.5h0.8v0.8h-0.8zM385.5 421.1h0.8v0.8h-0.8zM391.1 422.7h0.8v0.8h-0.8zM379.9 425.6h0.8v0.8h-0.8zM396.8 428.1h0.8v0.8h-0.8zM378.7 423.5h0.8v0.8h-0.8zM385.2 427.3h0.8v0.8h-0.8zM381.8 425.1h0.8v0.8h-0.8zM392.6 432.3h0.8v0.8h-0.8zM383.6 431.6h0.8v0.8h-0.8zM385.0 433.4h0.8v0.8h-0.8zM390.5 426.5h0.8v0.8h-0.8zM380.7 423.6h0.8v0.8h-0.8zM383.3 424.5h0.8v0.8h-0.8zM385.2 424.7h0.8v0.8h-0.8zM398.5 430.2h0.8v0.8h-0.8zM384.0 424.4h0.8v0.8h-0.8zM383.3 428.8h0.8v0.8h-0.8zM395.0 422.1h0.8v0.8h-0.8zM386.2 422.4h0.8v0.8h-0.8zM381.6 423.5h0.8v0.8h-0.8zM377.5 431.8h0.8v0.8h-0.8zM380.1 419.8h0.8v0.8h-0.8zM381.9 431.6h0.8v0.8h-0.8zM379.0 433.5h0.8v0.8h-0.8zM389.1 432.5h0.8v0.8h-0.8zM386.7 424.6h0.8v0.8h-0.8zM381.5 427.9h0.8v0.8h-0.8zM386.9 430.7h0.8v0.8h-0.8zM383.2 432.9h0.8v0.8h-0.8zM387.6 423.9h0.8v0.8h-0.8zM382.6 428.3h0.8v0.8h-0.8zM393.0 430.6h0.8v0.8h-0.8zM389.6 434.1h0.8v0.8h-0.8zM397.2 430.1h0.8v0.8h-0.8zM375.6 427.1h0.8v0.8h-0.8zM385.6 430.6h0.8v0.8h-0.8zM383.3 426.5h0.8v0.8h-0.8zM379.4 427.9h0.8v0.8h-0.8zM394.1 430.4h0.8v0.8h-0.8zM393.6 431.2h0.8v0.8h-0.8zM379.2 428.5h0.8v0.8h-0.8zM391.9 423.8h0.8v0.8h-0.8zM379.3 426.7h0.8v0.8h-0.8zM382.7 420.3h0.8v0.8h-0.8z" fill="#3b7fc7" opacity="0.9"/><path d="M417.9 429.7h0.8v0.8h-0.8zM428.6 424.9h0.8v0.8h-0.8zM412.7 425.4h0.8v0.8h-0.8zM417.4 416.7h0.8v0.8h-0.8zM408.3 416.5h0.8v0.8h-0.8zM423.4 431.2h0.8v0.8h-0.8zM418.4 425.8h0.8v0.8h-0.8zM409.3 422.2h0.8v0.8h-0.8zM416.8 424.2h0.8v0.8h-0.8zM420.4 425.3h0.8v0.8h-0.8zM423.0 429.6h0.8v0.8h-0.8zM424.3 432.4h0.8v0.8h-0.8zM424.8 418.6h0.8v0.8h-0.8zM428.2 428.8h0.8v0.8h-0.8zM418.4 416.6h0.8v0.8h-0.8zM415.9 415.1h0.8v0.8h-0.8zM425.7 419.4h0.8v0.8h-0.8zM422.8 418.6h0.8v0.8h-0.8zM417.9 425.8h0.8v0.8h-0.8zM424.8 421.4h0.8v0.8h-0.8zM411.0 431.4h0.8v0.8h-0.8zM423.1 427.2h0.8v0.8h-0.8zM416.0 430.1h0.8v0.8h-0.8zM417.6 426.6h0.8v0.8h-0.8zM420.9 422.3h0.8v0.8h-0.8zM416.1 431.2h0.8v0.8h-0.8zM410.6 426.8h0.8v0.8h-0.8zM424.1 421.7h0.8v0.8h-0.8zM414.2 416.2h0.8v0.8h-0.8zM414.0 416.1h0.8v0.8h-0.8zM419.6 427.4h0.8v0.8h-0.8zM427.7 430.1h0.8v0.8h-0.8zM407.4 429.0h0.8v0.8h-0.8zM420.8 429.0h0.8v0.8h-0.8zM408.0 417.6h0.8v0.8h-0.8zM427.2 425.1h0.8v0.8h-0.8zM413.8 415.9h0.8v0.8h-0.8zM412.1 419.2h0.8v0.8h-0.8zM426.3 430.7h0.8v0.8h-0.8zM422.6 430.6h0.8v0.8h-0.8zM414.0 432.8h0.8v0.8h-0.8zM403.8 423.7h0.8v0.8h-0.8zM414.2 432.6h0.8v0.8h-0.8zM427.0 421.5h0.8v0.8h-0.8zM418.0 415.9h0.8v0.8h-0.8zM415.4 421.1h0.8v0.8h-0.8zM414.4 420.4h0.8v0.8h-0.8zM424.9 415.4h0.8v0.8h-0.8zM406.4 427.2h0.8v0.8h-0.8zM415.3 422.3h0.8v0.8h-0.8zM420.5 422.6h0.8v0.8h-0.8zM422.1 433.4h0.8v0.8h-0.8zM415.1 418.6h0.8v0.8h-0.8zM413.1 418.1h0.8v0.8h-0.8zM421.2 416.4h0.8v0.8h-0.8zM417.2 422.1h0.8v0.8h-0.8zM411.1 429.7h0.8v0.8h-0.8zM413.2 425.1h0.8v0.8h-0.8zM414.2 424.5h0.8v0.8h-0.8zM421.4 422.8h0.8v0.8h-0.8zM410.7 417.7h0.8v0.8h-0.8zM406.8 421.1h0.8v0.8h-0.8zM421.8 431.0h0.8v0.8h-0.8zM418.2 428.7h0.8v0.8h-0.8zM419.7 422.7h0.8v0.8h-0.8zM417.4 424.2h0.8v0.8h-0.8zM425.9 429.0h0.8v0.8h-0.8zM415.2 424.7h0.8v0.8h-0.8zM428.0 428.5h0.8v0.8h-0.8zM416.7 426.3h0.8v0.8h-0.8zM414.3 430.6h0.8v0.8h-0.8zM423.9 417.3h0.8v0.8h-0.8zM415.3 423.0h0.8v0.8h-0.8zM427.5 432.1h0.8v0.8h-0.8zM421.2 424.9h0.8v0.8h-0.8zM409.0 421.4h0.8v0.8h-0.8zM422.4 427.3h0.8v0.8h-0.8zM420.5 414.4h0.8v0.8h-0.8zM421.9 430.7h0.8v0.8h-0.8zM412.6 430.1h0.8v0.8h-0.8zM419.9 424.0h0.8v0.8h-0.8zM408.5 422.6h0.8v0.8h-0.8zM425.1 427.9h0.8v0.8h-0.8zM415.8 416.3h0.8v0.8h-0.8zM423.9 430.7h0.8v0.8h-0.8zM417.7 416.1h0.8v0.8h-0.8zM418.4 432.6h0.8v0.8h-0.8zM423.1 421.2h0.8v0.8h-0.8zM430.0 421.3h0.8v0.8h-0.8zM419.4 418.4h0.8v0.8h-0.8zM408.3 426.1h0.8v0.8h-0.8zM422.0 421.6h0.8v0.8h-0.8zM413.0 423.5h0.8v0.8h-0.8zM428.0 426.5h0.8v0.8h-0.8zM412.0 419.4h0.8v0.8h-0.8zM416.8 421.8h0.8v0.8h-0.8zM417.0 425.5h0.8v0.8h-0.8zM425.9 431.2h0.8v0.8h-0.8zM409.2 430.8h0.8v0.8h-0.8zM427.5 422.3h0.8v0.8h-0.8zM407.9 430.0h0.8v0.8h-0.8zM414.2 429.6h0.8v0.8h-0.8zM420.6 421.0h0.8v0.8h-0.8zM412.3 421.0h0.8v0.8h-0.8zM412.3 428.2h0.8v0.8h-0.8zM415.8 416.3h0.8v0.8h-0.8zM419.6 424.8h0.8v0.8h-0.8zM421.0 418.4h0.8v0.8h-0.8zM418.2 424.9h0.8v0.8h-0.8zM419.4 424.4h0.8v0.8h-0.8zM415.3 433.1h0.8v0.8h-0.8zM412.1 427.3h0.8v0.8h-0.8zM416.5 419.4h0.8v0.8h-0.8zM418.8 431.4h0.8v0.8h-0.8zM417.9 416.0h0.8v0.8h-0.8zM412.3 421.8h0.8v0.8h-0.8zM411.3 428.5h0.8v0.8h-0.8zM420.4 422.1h0.8v0.8h-0.8zM420.6 422.6h0.8v0.8h-0.8zM410.2 428.0h0.8v0.8h-0.8zM423.7 419.9h0.8v0.8h-0.8zM425.2 418.4h0.8v0.8h-0.8zM418.2 418.4h0.8v0.8h-0.8zM404.9 419.2h0.8v0.8h-0.8zM421.4 428.4h0.8v0.8h-0.8zM410.5 425.3h0.8v0.8h-0.8zM424.9 428.5h0.8v0.8h-0.8zM416.1 429.0h0.8v0.8h-0.8zM416.8 431.8h0.8v0.8h-0.8zM416.1 424.9h0.8v0.8h-0.8zM420.2 419.4h0.8v0.8h-0.8zM416.3 424.5h0.8v0.8h-0.8zM419.1 430.0h0.8v0.8h-0.8zM421.4 416.6h0.8v0.8h-0.8zM418.5 424.0h0.8v0.8h-0.8zM430.2 427.4h0.8v0.8h-0.8zM423.5 430.0h0.8v0.8h-0.8zM410.5 425.3h0.8v0.8h-0.8zM422.6 430.9h0.8v0.8h-0.8zM421.8 423.5h0.8v0.8h-0.8zM419.0 428.6h0.8v0.8h-0.8zM421.7 421.9h0.8v0.8h-0.8zM409.2 420.5h0.8v0.8h-0.8zM405.4 427.6h0.8v0.8h-0.8zM419.6 416.3h0.8v0.8h-0.8zM421.6 417.6h0.8v0.8h-0.8zM408.7 430.1h0.8v0.8h-0.8zM416.3 420.7h0.8v0.8h-0.8zM408.1 428.5h0.8v0.8h-0.8zM411.8 431.3h0.8v0.8h-0.8zM411.2 428.5h0.8v0.8h-0.8zM424.5 424.0h0.8v0.8h-0.8zM409.9 425.4h0.8v0.8h-0.8zM416.0 420.6h0.8v0.8h-0.8zM411.0 422.5h0.8v0.8h-0.8zM426.3 422.0h0.8v0.8h-0.8zM411.9 431.5h0.8v0.8h-0.8zM421.8 417.9h0.8v0.8h-0.8zM414.2 421.2h0.8v0.8h-0.8zM414.7 420.4h0.8v0.8h-0.8zM418.6 418.2h0.8v0.8h-0.8zM420.1 412.4h0.8v0.8h-0.8zM422.0 418.9h0.8v0.8h-0.8zM428.6 418.3h0.8v0.8h-0.8zM407.4 427.7h0.8v0.8h-0.8zM423.1 416.7h0.8v0.8h-0.8zM405.4 426.2h0.8v0.8h-0.8zM418.0 432.0h0.8v0.8h-0.8zM411.3 430.9h0.8v0.8h-0.8zM419.0 424.7h0.8v0.8h-0.8zM422.2 418.3h0.8v0.8h-0.8zM418.2 424.2h0.8v0.8h-0.8zM420.0 422.8h0.8v0.8h-0.8zM411.9 421.6h0.8v0.8h-0.8zM411.5 417.2h0.8v0.8h-0.8zM416.9 427.1h0.8v0.8h-0.8zM416.2 429.7h0.8v0.8h-0.8zM416.2 433.0h0.8v0.8h-0.8zM423.2 414.2h0.8v0.8h-0.8zM424.1 417.4h0.8v0.8h-0.8zM411.0 419.7h0.8v0.8h-0.8zM413.6 428.7h0.8v0.8h-0.8zM413.4 424.7h0.8v0.8h-0.8zM417.5 423.4h0.8v0.8h-0.8zM407.9 429.5h0.8v0.8h-0.8zM413.8 416.5h0.8v0.8h-0.8zM417.2 425.1h0.8v0.8h-0.8zM411.4 420.1h0.8v0.8h-0.8zM417.1 419.9h0.8v0.8h-0.8zM421.6 421.0h0.8v0.8h-0.8zM416.7 418.4h0.8v0.8h-0.8zM410.0 428.1h0.8v0.8h-0.8zM410.2 426.5h0.8v0.8h-0.8zM423.2 420.8h0.8v0.8h-0.8zM422.1 421.2h0.8v0.8h-0.8zM418.6 431.6h0.8v0.8h-0.8zM421.2 432.0h0.8v0.8h-0.8zM419.4 425.3h0.8v0.8h-0.8zM415.0 422.6h0.8v0.8h-0.8zM426.4 421.0h0.8v0.8h-0.8zM412.4 417.4h0.8v0.8h-0.8zM427.7 427.1h0.8v0.8h-0.8zM413.8 418.3h0.8v0.8h-0.8zM424.6 421.1h0.8v0.8h-0.8zM426.0 431.7h0.8v0.8h-0.8zM423.6 423.6h0.8v0.8h-0.8zM422.2 429.0h0.8v0.8h-0.8zM419.4 419.1h0.8v0.8h-0.8zM423.3 423.2h0.8v0.8h-0.8zM419.4 434.8h0.8v0.8h-0.8zM416.9 429.6h0.8v0.8h-0.8zM423.5 415.1h0.8v0.8h-0.8zM423.1 421.9h0.8v0.8h-0.8zM417.4 416.4h0.8v0.8h-0.8zM429.5 421.7h0.8v0.8h-0.8zM415.7 425.3h0.8v0.8h-0.8zM409.8 429.2h0.8v0.8h-0.8zM405.5 421.5h0.8v0.8h-0.8zM415.7 421.6h0.8v0.8h-0.8zM421.2 417.7h0.8v0.8h-0.8zM407.5 427.1h0.8v0.8h-0.8zM425.9 423.2h0.8v0.8h-0.8zM409.3 422.2h0.8v0.8h-0.8zM406.1 429.1h0.8v0.8h-0.8zM410.1 421.6h0.8v0.8h-0.8zM414.7 426.2h0.8v0.8h-0.8zM412.1 429.4h0.8v0.8h-0.8zM409.2 422.9h0.8v0.8h-0.8zM416.9 421.1h0.8v0.8h-0.8zM431.2 426.8h0.8v0.8h-0.8zM404.5 423.5h0.8v0.8h-0.8zM414.0 428.8h0.8v0.8h-0.8zM418.9 417.8h0.8v0.8h-0.8zM418.0 420.1h0.8v0.8h-0.8zM417.6 417.9h0.8v0.8h-0.8zM428.5 420.4h0.8v0.8h-0.8zM408.2 420.4h0.8v0.8h-0.8zM424.2 421.6h0.8v0.8h-0.8zM418.9 419.2h0.8v0.8h-0.8zM410.0 419.6h0.8v0.8h-0.8zM428.0 425.6h0.8v0.8h-0.8zM414.8 430.9h0.8v0.8h-0.8zM417.7 419.4h0.8v0.8h-0.8zM412.5 419.0h0.8v0.8h-0.8zM418.7 416.6h0.8v0.8h-0.8zM424.8 431.1h0.8v0.8h-0.8zM414.5 420.3h0.8v0.8h-0.8zM426.5 422.8h0.8v0.8h-0.8zM427.5 420.0h0.8v0.8h-0.8zM410.8 419.0h0.8v0.8h-0.8zM414.3 416.2h0.8v0.8h-0.8zM428.5 422.1h0.8v0.8h-0.8zM405.5 428.4h0.8v0.8h-0.8zM420.2 428.6h0.8v0.8h-0.8zM413.2 424.3h0.8v0.8h-0.8zM430.1 425.1h0.8v0.8h-0.8zM409.3 428.6h0.8v0.8h-0.8zM418.4 425.4h0.8v0.8h-0.8zM422.5 419.9h0.8v0.8h-0.8zM409.6 431.2h0.8v0.8h-0.8zM424.1 429.9h0.8v0.8h-0.8zM422.0 417.0h0.8v0.8h-0.8zM418.4 426.6h0.8v0.8h-0.8zM409.6 422.0h0.8v0.8h-0.8zM416.8 420.0h0.8v0.8h-0.8zM424.4 430.1h0.8v0.8h-0.8zM422.5 432.3h0.8v0.8h-0.8zM413.4 425.1h0.8v0.8h-0.8zM423.8 429.6h0.8v0.8h-0.8zM413.0 428.3h0.8v0.8h-0.8zM423.2 430.9h0.8v0.8h-0.8zM421.6 421.1h0.8v0.8h-0.8zM418.5 427.0h0.8v0.8h-0.8zM428.7 425.7h0.8v0.8h-0.8zM415.1 416.5h0.8v0.8h-0.8zM423.7 427.1h0.8v0.8h-0.8zM423.7 419.2h0.8v0.8h-0.8zM421.4 422.5h0.8v0.8h-0.8zM408.3 428.1h0.8v0.8h-0.8zM428.0 425.0h0.8v0.8h-0.8zM412.6 422.6h0.8v0.8h-0.8zM424.3 433.5h0.8v0.8h-0.8zM424.4 418.7h0.8v0.8h-0.8zM416.7 427.6h0.8v0.8h-0.8zM415.7 416.9h0.8v0.8h-0.8zM415.8 413.5h0.8v0.8h-0.8zM412.1 430.3h0.8v0.8h-0.8zM411.0 420.9h0.8v0.8h-0.8zM410.2 419.2h0.8v0.8h-0.8zM413.8 426.0h0.8v0.8h-0.8zM410.8 422.3h0.8v0.8h-0.8zM411.3 419.7h0.8v0.8h-0.8zM428.3 431.3h0.8v0.8h-0.8zM422.0 418.0h0.8v0.8h-0.8zM414.5 425.2h0.8v0.8h-0.8zM421.3 414.6h0.8v0.8h-0.8zM406.2 422.9h0.8v0.8h-0.8zM409.6 427.4h0.8v0.8h-0.8zM419.1 418.1h0.8v0.8h-0.8zM422.3 432.9h0.8v0.8h-0.8zM414.9 422.9h0.8v0.8h-0.8zM419.9 433.3h0.8v0.8h-0.8zM421.7 425.1h0.8v0.8h-0.8zM409.6 419.0h0.8v0.8h-0.8zM418.7 425.8h0.8v0.8h-0.8zM412.0 427.7h0.8v0.8h-0.8zM422.6 420.6h0.8v0.8h-0.8zM415.9 431.6h0.8v0.8h-0.8zM417.7 429.9h0.8v0.8h-0.8zM414.8 417.1h0.8v0.8h-0.8zM424.4 428.7h0.8v0.8h-0.8zM417.7 423.6h0.8v0.8h-0.8zM429.3 426.7h0.8v0.8h-0.8zM419.3 430.1h0.8v0.8h-0.8zM421.7 418.9h0.8v0.8h-0.8zM420.4 422.7h0.8v0.8h-0.8zM408.7 418.5h0.8v0.8h-0.8zM413.1 429.3h0.8v0.8h-0.8zM423.6 420.9h0.8v0.8h-0.8zM419.2 428.1h0.8v0.8h-0.8zM419.4 415.4h0.8v0.8h-0.8zM413.5 425.2h0.8v0.8h-0.8zM416.3 433.0h0.8v0.8h-0.8zM422.1 414.6h0.8v0.8h-0.8zM417.8 424.4h0.8v0.8h-0.8zM432.1 421.0h0.8v0.8h-0.8zM416.0 432.2h0.8v0.8h-0.8zM428.0 418.8h0.8v0.8h-0.8zM414.9 418.8h0.8v0.8h-0.8zM417.5 428.6h0.8v0.8h-0.8zM411.3 421.4h0.8v0.8h-0.8zM417.4 424.5h0.8v0.8h-0.8zM429.0 424.5h0.8v0.8h-0.8zM426.8 425.1h0.8v0.8h-0.8zM410.9 418.7h0.8v0.8h-0.8zM432.2 422.0h0.8v0.8h-0.8zM427.8 420.4h0.8v0.8h-0.8zM407.2 429.2h0.8v0.8h-0.8zM420.4 427.4h0.8v0.8h-0.8zM425.6 423.6h0.8v0.8h-0.8zM426.2 424.2h0.8v0.8h-0.8zM408.8 423.1h0.8v0.8h-0.8zM420.7 420.6h0.8v0.8h-0.8zM425.1 423.0h0.8v0.8h-0.8zM412.8 430.7h0.8v0.8h-0.8zM415.3 419.7h0.8v0.8h-0.8zM416.4 418.2h0.8v0.8h-0.8zM412.8 422.6h0.8v0.8h-0.8zM416.8 428.8h0.8v0.8h-0.8zM428.0 422.7h0.8v0.8h-0.8zM412.4 422.6h0.8v0.8h-0.8zM409.9 423.1h0.8v0.8h-0.8zM414.8 427.5h0.8v0.8h-0.8zM417.4 426.1h0.8v0.8h-0.8zM408.3 428.6h0.8v0.8h-0.8zM407.0 426.7h0.8v0.8h-0.8zM408.2 427.7h0.8v0.8h-0.8zM412.3 422.6h0.8v0.8h-0.8zM417.8 417.9h0.8v0.8h-0.8zM422.5 423.7h0.8v0.8h-0.8zM417.9 435.1h0.8v0.8h-0.8zM408.1 427.5h0.8v0.8h-0.8zM420.4 414.6h0.8v0.8h-0.8zM418.2 424.7h0.8v0.8h-0.8zM416.8 432.2h0.8v0.8h-0.8zM416.7 433.0h0.8v0.8h-0.8zM410.9 420.6h0.8v0.8h-0.8zM420.0 431.9h0.8v0.8h-0.8zM426.3 426.5h0.8v0.8h-0.8zM416.1 430.2h0.8v0.8h-0.8zM410.3 418.9h0.8v0.8h-0.8zM413.6 429.8h0.8v0.8h-0.8zM408.6 425.9h0.8v0.8h-0.8zM413.8 418.2h0.8v0.8h-0.8zM412.3 424.2h0.8v0.8h-0.8zM416.0 428.5h0.8v0.8h-0.8zM427.8 422.7h0.8v0.8h-0.8zM421.3 429.6h0.8v0.8h-0.8zM410.7 426.9h0.8v0.8h-0.8zM413.8 422.3h0.8v0.8h-0.8z" fill="#4aa1b3" opacity="0.9"/><path d="M379.8 364.7h0.8v0.8h-0.8zM391.9 370.7h0.8v0.8h-0.8zM382.1 366.4h0.8v0.8h-0.8zM386.5 369.9h0.8v0.8h-0.8zM375.3 369.2h0.8v0.8h-0.8zM384.3 371.5h0.8v0.8h-0.8zM379.5 365.2h0.8v0.8h-0.8zM383.0 375.1h0.8v0.8h-0.8zM385.4 365.0h0.8v0.8h-0.8zM388.5 369.9h0.8v0.8h-0.8zM391.7 365.7h0.8v0.8h-0.8zM378.7 372.4h0.8v0.8h-0.8zM392.9 370.4h0.8v0.8h-0.8zM391.7 370.4h0.8v0.8h-0.8zM393.7 366.8h0.8v0.8h-0.8zM383.6 368.5h0.8v0.8h-0.8zM381.9 373.7h0.8v0.8h-0.8zM393.4 372.1h0.8v0.8h-0.8zM382.6 367.3h0.8v0.8h-0.8zM389.7 373.8h0.8v0.8h-0.8zM385.6 376.3h0.8v0.8h-0.8zM381.1 371.5h0.8v0.8h-0.8zM380.9 374.3h0.8v0.8h-0.8zM392.9 369.3h0.8v0.8h-0.8zM375.3 369.9h0.8v0.8h-0.8zM391.6 366.9h0.8v0.8h-0.8zM383.3 373.2h0.8v0.8h-0.8zM384.3 372.1h0.8v0.8h-0.8zM394.0 374.4h0.8v0.8h-0.8zM375.9 369.4h0.8v0.8h-0.8zM382.1 365.8h0.8v0.8h-0.8zM384.8 373.3h0.8v0.8h-0.8zM379.4 373.7h0.8v0.8h-0.8zM391.4 365.0h0.8v0.8h-0.8zM393.0 367.0h0.8v0.8h-0.8zM389.8 363.6h0.8v0.8h-0.8zM385.4 373.9h0.8v0.8h-0.8zM384.8 375.0h0.8v0.8h-0.8zM381.7 366.4h0.8v0.8h-0.8zM383.0 370.9h0.8v0.8h-0.8zM384.2 365.1h0.8v0.8h-0.8zM388.8 364.2h0.8v0.8h-0.8zM389.2 361.5h0.8v0.8h-0.8zM375.3 371.3h0.8v0.8h-0.8zM384.3 367.6h0.8v0.8h-0.8zM383.9 365.9h0.8v0.8h-0.8zM380.5 372.1h0.8v0.8h-0.8zM382.4 373.8h0.8v0.8h-0.8zM387.3 373.8h0.8v0.8h-0.8zM378.3 365.9h0.8v0.8h-0.8zM382.6 366.0h0.8v0.8h-0.8zM383.4 372.6h0.8v0.8h-0.8zM387.8 362.6h0.8v0.8h-0.8zM378.5 369.4h0.8v0.8h-0.8zM381.7 363.3h0.8v0.8h-0.8zM380.9 371.6h0.8v0.8h-0.8zM391.8 370.9h0.8v0.8h-0.8zM391.6 371.1h0.8v0.8h-0.8zM388.7 367.5h0.8v0.8h-0.8zM381.4 366.3h0.8v0.8h-0.8zM384.5 373.0h0.8v0.8h-0.8zM379.7 369.2h0.8v0.8h-0.8zM390.3 367.0h0.8v0.8h-0.8zM387.5 372.2h0.8v0.8h-0.8zM389.8 366.5h0.8v0.8h-0.8zM380.2 370.0h0.8v0.8h-0.8zM386.7 365.3h0.8v0.8h-0.8zM385.7 372.7h0.8v0.8h-0.8zM382.2 365.7h0.8v0.8h-0.8zM374.1 371.6h0.8v0.8h-0.8zM378.6 372.9h0.8v0.8h-0.8zM378.7 370.5h0.8v0.8h-0.8zM385.0 371.5h0.8v0.8h-0.8zM390.1 372.4h0.8v0.8h-0.8zM387.7 373.4h0.8v0.8h-0.8zM386.0 364.7h0.8v0.8h-0.8zM382.3 370.8h0.8v0.8h-0.8zM386.1 366.8h0.8v0.8h-0.8zM392.8 368.7h0.8v0.8h-0.8zM381.4 365.7h0.8v0.8h-0.8zM379.7 373.0h0.8v0.8h-0.8zM381.3 368.6h0.8v0.8h-0.8zM378.7 370.2h0.8v0.8h-0.8zM382.0 364.3h0.8v0.8h-0.8zM379.4 369.5h0.8v0.8h-0.8zM384.7 370.2h0.8v0.8h-0.8zM377.8 367.5h0.8v0.8h-0.8zM381.5 372.4h0.8v0.8h-0.8zM386.8 363.9h0.8v0.8h-0.8zM380.3 370.2h0.8v0.8h-0.8zM383.5 363.2h0.8v0.8h-0.8zM388.6 367.6h0.8v0.8h-0.8zM392.7 373.9h0.8v0.8h-0.8zM388.8 375.1h0.8v0.8h-0.8zM387.6 370.2h0.8v0.8h-0.8zM376.4 371.2h0.8v0.8h-0.8zM385.5 366.6h0.8v0.8h-0.8zM379.8 370.2h0.8v0.8h-0.8zM385.3 373.0h0.8v0.8h-0.8zM389.2 366.4h0.8v0.8h-0.8zM376.5 367.4h0.8v0.8h-0.8zM393.0 367.8h0.8v0.8h-0.8zM387.9 366.0h0.8v0.8h-0.8zM389.4 370.1h0.8v0.8h-0.8zM381.5 363.8h0.8v0.8h-0.8zM389.2 364.5h0.8v0.8h-0.8zM377.8 376.1h0.8v0.8h-0.8zM390.5 371.9h0.8v0.8h-0.8zM382.4 370.0h0.8v0.8h-0.8zM385.2 372.0h0.8v0.8h-0.8zM385.6 364.2h0.8v0.8h-0.8zM389.5 368.3h0.8v0.8h-0.8zM382.5 374.6h0.8v0.8h-0.8zM379.5 372.4h0.8v0.8h-0.8zM386.6 369.7h0.8v0.8h-0.8zM386.0 370.7h0.8v0.8h-0.8zM387.3 367.1h0.8v0.8h-0.8zM389.3 371.2h0.8v0.8h-0.8zM377.7 367.1h0.8v0.8h-0.8zM380.1 374.6h0.8v0.8h-0.8zM392.7 373.9h0.8v0.8h-0.8zM386.4 374.2h0.8v0.8h-0.8zM387.0 373.4h0.8v0.8h-0.8zM386.5 362.4h0.8v0.8h-0.8zM390.3 368.9h0.8v0.8h-0.8zM382.9 373.8h0.8v0.8h-0.8zM386.8 369.2h0.8v0.8h-0.8zM380.8 367.8h0.8v0.8h-0.8zM383.2 365.3h0.8v0.8h-0.8zM388.1 369.6h0.8v0.8h-0.8zM386.5 368.7h0.8v0.8h-0.8zM395.2 371.1h0.8v0.8h-0.8zM386.7 374.5h0.8v0.8h-0.8zM381.9 368.2h0.8v0.8h-0.8zM375.3 369.3h0.8v0.8h-0.8zM383.3 367.9h0.8v0.8h-0.8zM377.0 372.6h0.8v0.8h-0.8zM390.9 372.6h0.8v0.8h-0.8zM384.0 372.6h0.8v0.8h-0.8zM383.7 364.8h0.8v0.8h-0.8zM374.8 366.8h0.8v0.8h-0.8zM386.1 374.7h0.8v0.8h-0.8zM376.8 373.4h0.8v0.8h-0.8zM392.7 366.4h0.8v0.8h-0.8zM379.0 371.2h0.8v0.8h-0.8zM383.7 366.7h0.8v0.8h-0.8zM385.7 367.4h0.8v0.8h-0.8zM387.8 369.8h0.8v0.8h-0.8zM391.7 366.7h0.8v0.8h-0.8zM379.0 367.5h0.8v0.8h-0.8zM381.6 364.9h0.8v0.8h-0.8zM383.3 365.6h0.8v0.8h-0.8zM377.7 371.7h0.8v0.8h-0.8zM374.1 368.4h0.8v0.8h-0.8zM386.9 370.5h0.8v0.8h-0.8zM385.5 369.5h0.8v0.8h-0.8zM382.1 367.6h0.8v0.8h-0.8zM373.8 369.5h0.8v0.8h-0.8zM391.5 368.5h0.8v0.8h-0.8zM391.8 371.9h0.8v0.8h-0.8zM382.7 377.2h0.8v0.8h-0.8zM375.6 369.0h0.8v0.8h-0.8zM387.4 373.7h0.8v0.8h-0.8zM390.4 369.0h0.8v0.8h-0.8zM387.5 368.2h0.8v0.8h-0.8zM387.9 367.5h0.8v0.8h-0.8zM375.8 370.8h0.8v0.8h-0.8zM389.8 364.6h0.8v0.8h-0.8zM383.2 369.6h0.8v0.8h-0.8zM384.9 372.9h0.8v0.8h-0.8zM391.1 374.5h0.8v0.8h-0.8zM383.3 368.0h0.8v0.8h-0.8zM374.5 372.9h0.8v0.8h-0.8zM386.9 371.7h0.8v0.8h-0.8zM382.9 375.9h0.8v0.8h-0.8zM380.3 370.8h0.8v0.8h-0.8zM389.7 372.0h0.8v0.8h-0.8zM389.8 372.3h0.8v0.8h-0.8zM382.4 369.5h0.8v0.8h-0.8zM381.5 368.3h0.8v0.8h-0.8zM382.5 368.1h0.8v0.8h-0.8zM380.3 369.0h0.8v0.8h-0.8zM383.8 371.9h0.8v0.8h-0.8zM380.6 364.6h0.8v0.8h-0.8zM378.3 370.8h0.8v0.8h-0.8zM383.1 367.4h0.8v0.8h-0.8zM383.5 367.4h0.8v0.8h-0.8zM376.4 370.0h0.8v0.8h-0.8zM383.8 365.2h0.8v0.8h-0.8zM391.2 366.9h0.8v0.8h-0.8zM379.6 366.5h0.8v0.8h-0.8zM390.4 368.4h0.8v0.8h-0.8zM385.8 367.3h0.8v0.8h-0.8zM374.5 365.9h0.8v0.8h-0.8zM385.5 365.4h0.8v0.8h-0.8zM390.9 373.0h0.8v0.8h-0.8zM383.6 373.1h0.8v0.8h-0.8zM383.0 368.6h0.8v0.8h-0.8zM392.2 365.5h0.8v0.8h-0.8zM379.4 365.2h0.8v0.8h-0.8z" fill="#8c6272" opacity="0.9"/><path d="M398.4 389.1h0.8v0.8h-0.8zM397.5 388.6h0.8v0.8h-0.8zM397.2 395.3h0.8v0.8h-0.8zM398.6 391.6h0.8v0.8h-0.8zM399.2 396.6h0.8v0.8h-0.8zM400.7 391.8h0.8v0.8h-0.8zM399.9 398.3h0.8v0.8h-0.8zM402.5 394.7h0.8v0.8h-0.8zM397.7 394.9h0.8v0.8h-0.8zM401.5 389.6h0.8v0.8h-0.8zM402.3 389.3h0.8v0.8h-0.8zM395.9 392.6h0.8v0.8h-0.8zM397.6 389.0h0.8v0.8h-0.8zM401.9 390.9h0.8v0.8h-0.8zM394.3 395.9h0.8v0.8h-0.8zM393.5 390.9h0.8v0.8h-0.8zM398.7 398.5h0.8v0.8h-0.8zM397.6 397.3h0.8v0.8h-0.8zM401.8 390.7h0.8v0.8h-0.8zM396.7 391.6h0.8v0.8h-0.8zM400.2 399.5h0.8v0.8h-0.8zM401.0 394.8h0.8v0.8h-0.8zM398.8 400.1h0.8v0.8h-0.8zM399.7 398.1h0.8v0.8h-0.8zM400.1 393.7h0.8v0.8h-0.8zM398.5 392.5h0.8v0.8h-0.8zM397.2 390.9h0.8v0.8h-0.8zM398.1 393.1h0.8v0.8h-0.8zM403.0 391.9h0.8v0.8h-0.8zM402.0 395.7h0.8v0.8h-0.8zM396.6 396.1h0.8v0.8h-0.8zM397.8 395.1h0.8v0.8h-0.8zM397.8 392.8h0.8v0.8h-0.8zM400.6 398.8h0.8v0.8h-0.8zM398.0 399.6h0.8v0.8h-0.8zM398.1 387.9h0.8v0.8h-0.8zM396.8 392.4h0.8v0.8h-0.8zM397.0 393.6h0.8v0.8h-0.8zM400.9 395.8h0.8v0.8h-0.8zM397.8 398.2h0.8v0.8h-0.8zM402.9 395.2h0.8v0.8h-0.8zM402.6 394.9h0.8v0.8h-0.8zM400.2 388.7h0.8v0.8h-0.8zM397.7 392.9h0.8v0.8h-0.8zM403.2 393.3h0.8v0.8h-0.8zM394.3 390.5h0.8v0.8h-0.8zM400.8 394.5h0.8v0.8h-0.8zM398.9 395.4h0.8v0.8h-0.8zM396.8 392.9h0.8v0.8h-0.8zM399.3 389.3h0.8v0.8h-0.8zM400.3 393.6h0.8v0.8h-0.8zM395.6 400.1h0.8v0.8h-0.8zM396.5 398.0h0.8v0.8h-0.8zM397.7 398.7h0.8v0.8h-0.8zM397.7 388.3h0.8v0.8h-0.8zM399.6 399.5h0.8v0.8h-0.8zM396.5 389.3h0.8v0.8h-0.8zM398.2 394.0h0.8v0.8h-0.8zM396.2 397.7h0.8v0.8h-0.8zM399.5 398.9h0.8v0.8h-0.8zM397.6 391.6h0.8v0.8h-0.8zM399.8 394.5h0.8v0.8h-0.8zM396.2 390.1h0.8v0.8h-0.8zM396.9 390.7h0.8v0.8h-0.8zM400.4 390.4h0.8v0.8h-0.8zM398.6 395.7h0.8v0.8h-0.8zM400.8 396.3h0.8v0.8h-0.8zM400.0 390.7h0.8v0.8h-0.8zM402.4 390.4h0.8v0.8h-0.8zM399.0 395.7h0.8v0.8h-0.8zM398.9 396.8h0.8v0.8h-0.8zM400.1 388.8h0.8v0.8h-0.8zM399.6 392.4h0.8v0.8h-0.8zM396.3 396.6h0.8v0.8h-0.8zM397.4 390.0h0.8v0.8h-0.8zM401.9 397.6h0.8v0.8h-0.8zM399.3 393.3h0.8v0.8h-0.8zM398.1 398.9h0.8v0.8h-0.8zM395.6 394.0h0.8v0.8h-0.8zM399.3 391.7h0.8v0.8h-0.8zM394.7 392.9h0.8v0.8h-0.8zM402.2 391.8h0.8v0.8h-0.8zM400.8 393.9h0.8v0.8h-0.8zM400.7 390.0h0.8v0.8h-0.8zM394.7 392.5h0.8v0.8h-0.8zM399.8 395.7h0.8v0.8h-0.8zM398.6 396.2h0.8v0.8h-0.8zM399.5 390.2h0.8v0.8h-0.8zM395.9 393.6h0.8v0.8h-0.8zM395.3 396.6h0.8v0.8h-0.8zM401.4 390.3h0.8v0.8h-0.8zM400.0 390.5h0.8v0.8h-0.8zM399.5 397.8h0.8v0.8h-0.8zM399.0 390.1h0.8v0.8h-0.8zM396.2 391.2h0.8v0.8h-0.8zM399.3 388.2h0.8v0.8h-0.8zM397.3 392.9h0.8v0.8h-0.8zM399.3 389.5h0.8v0.8h-0.8zM396.7 391.7h0.8v0.8h-0.8zM401.2 394.4h0.8v0.8h-0.8z" fill="#a87c7c" opacity="0.9"/><path d="M391.7 378.2h0.8v0.8h-0.8zM398.4 375.2h0.8v0.8h-0.8zM396.0 377.7h0.8v0.8h-0.8zM401.5 375.0h0.8v0.8h-0.8zM394.2 376.1h0.8v0.8h-0.8zM396.4 373.9h0.8v0.8h-0.8zM395.7 377.6h0.8v0.8h-0.8zM390.8 374.2h0.8v0.8h-0.8zM396.3 377.5h0.8v0.8h-0.8zM392.0 377.0h0.8v0.8h-0.8zM397.2 377.5h0.8v0.8h-0.8zM394.3 373.1h0.8v0.8h-0.8zM392.4 375.8h0.8v0.8h-0.8zM392.9 376.6h0.8v0.8h-0.8zM392.2 378.7h0.8v0.8h-0.8zM400.4 379.1h0.8v0.8h-0.8zM395.6 378.3h0.8v0.8h-0.8zM392.8 373.1h0.8v0.8h-0.8zM397.9 374.3h0.8v0.8h-0.8zM397.0 373.4h0.8v0.8h-0.8zM395.7 380.0h0.8v0.8h-0.8zM391.2 375.5h0.8v0.8h-0.8zM402.6 374.7h0.8v0.8h-0.8zM394.1 380.4h0.8v0.8h-0.8zM398.8 372.5h0.8v0.8h-0.8zM399.2 375.2h0.8v0.8h-0.8zM397.4 377.7h0.8v0.8h-0.8zM392.0 378.6h0.8v0.8h-0.8zM399.8 376.6h0.8v0.8h-0.8zM389.4 376.6h0.8v0.8h-0.8zM391.7 371.6h0.8v0.8h-0.8zM397.5 376.1h0.8v0.8h-0.8zM390.5 374.0h0.8v0.8h-0.8zM396.3 372.1h0.8v0.8h-0.8zM394.0 376.3h0.8v0.8h-0.8zM394.5 371.7h0.8v0.8h-0.8zM401.3 377.9h0.8v0.8h-0.8zM392.0 380.3h0.8v0.8h-0.8zM394.4 376.4h0.8v0.8h-0.8zM397.6 376.1h0.8v0.8h-0.8zM392.3 378.5h0.8v0.8h-0.8zM400.2 373.9h0.8v0.8h-0.8zM402.2 375.4h0.8v0.8h-0.8zM394.9 376.7h0.8v0.8h-0.8zM399.5 379.3h0.8v0.8h-0.8zM398.6 379.1h0.8v0.8h-0.8zM399.7 374.7h0.8v0.8h-0.8zM396.8 378.1h0.8v0.8h-0.8zM394.3 371.2h0.8v0.8h-0.8zM398.2 378.0h0.8v0.8h-0.8zM396.7 379.2h0.8v0.8h-0.8zM396.3 379.1h0.8v0.8h-0.8zM393.3 377.1h0.8v0.8h-0.8zM401.9 376.1h0.8v0.8h-0.8zM401.4 377.2h0.8v0.8h-0.8zM394.7 378.6h0.8v0.8h-0.8zM392.1 377.4h0.8v0.8h-0.8zM398.0 377.8h0.8v0.8h-0.8zM395.0 377.3h0.8v0.8h-0.8zM390.6 375.7h0.8v0.8h-0.8zM389.8 376.1h0.8v0.8h-0.8zM396.3 376.8h0.8v0.8h-0.8zM394.5 373.2h0.8v0.8h-0.8zM399.0 380.5h0.8v0.8h-0.8zM389.3 376.9h0.8v0.8h-0.8zM396.9 380.2h0.8v0.8h-0.8zM396.5 380.5h0.8v0.8h-0.8zM390.3 378.1h0.8v0.8h-0.8zM400.3 372.5h0.8v0.8h-0.8zM396.9 376.2h0.8v0.8h-0.8zM401.8 373.8h0.8v0.8h-0.8zM396.4 379.7h0.8v0.8h-0.8zM395.6 377.9h0.8v0.8h-0.8zM401.7 374.4h0.8v0.8h-0.8zM389.0 376.6h0.8v0.8h-0.8zM394.5 377.3h0.8v0.8h-0.8zM390.8 375.7h0.8v0.8h-0.8zM397.3 378.7h0.8v0.8h-0.8zM400.9 374.0h0.8v0.8h-0.8zM392.0 377.1h0.8v0.8h-0.8zM394.8 373.7h0.8v0.8h-0.8zM400.9 372.8h0.8v0.8h-0.8zM393.2 378.2h0.8v0.8h-0.8zM396.3 379.1h0.8v0.8h-0.8zM395.8 380.5h0.8v0.8h-0.8zM398.0 377.2h0.8v0.8h-0.8zM391.0 373.7h0.8v0.8h-0.8zM391.0 373.9h0.8v0.8h-0.8zM392.9 377.0h0.8v0.8h-0.8zM397.8 372.9h0.8v0.8h-0.8zM394.8 372.3h0.8v0.8h-0.8zM392.5 371.4h0.8v0.8h-0.8zM398.4 375.0h0.8v0.8h-0.8zM397.7 379.1h0.8v0.8h-0.8zM394.8 371.6h0.8v0.8h-0.8zM394.2 377.3h0.8v0.8h-0.8zM395.1 379.4h0.8v0.8h-0.8zM394.9 380.7h0.8v0.8h-0.8zM392.5 373.3h0.8v0.8h-0.8zM396.1 375.3h0.8v0.8h-0.8zM392.2 372.1h0.8v0.8h-0.8zM401.8 376.9h0.8v0.8h-0.8zM397.6 378.6h0.8v0.8h-0.8zM394.9 379.3h0.8v0.8h-0.8zM399.4 374.6h0.8v0.8h-0.8zM400.6 372.6h0.8v0.8h-0.8zM402.2 373.8h0.8v0.8h-0.8zM394.6 374.0h0.8v0.8h-0.8zM399.4 378.2h0.8v0.8h-0.8zM393.7 380.3h0.8v0.8h-0.8z" fill="#b784b9" opacity="0.9"/><path d="M392.6 377.7h0.8v0.8h-0.8zM389.6 378.2h0.8v0.8h-0.8zM391.7 378.9h0.8v0.8h-0.8zM383.4 379.6h0.8v0.8h-0.8zM386.0 378.2h0.8v0.8h-0.8zM384.1 379.1h0.8v0.8h-0.8zM394.4 377.2h0.8v0.8h-0.8zM390.1 376.5h0.8v0.8h-0.8zM391.5 378.9h0.8v0.8h-0.8zM387.7 373.7h0.8v0.8h-0.8zM393.1 379.1h0.8v0.8h-0.8zM393.0 379.7h0.8v0.8h-0.8zM389.4 376.9h0.8v0.8h-0.8zM390.9 380.8h0.8v0.8h-0.8zM389.7 378.8h0.8v0.8h-0.8zM389.2 377.8h0.8v0.8h-0.8zM388.2 378.8h0.8v0.8h-0.8zM386.7 381.3h0.8v0.8h-0.8zM386.8 375.6h0.8v0.8h-0.8zM387.2 374.6h0.8v0.8h-0.8zM392.7 379.8h0.8v0.8h-0.8zM386.2 374.7h0.8v0.8h-0.8zM390.0 379.4h0.8v0.8h-0.8zM384.0 377.8h0.8v0.8h-0.8zM392.3 378.4h0.8v0.8h-0.8zM384.5 375.8h0.8v0.8h-0.8zM385.7 378.5h0.8v0.8h-0.8zM391.0 377.7h0.8v0.8h-0.8zM390.6 380.6h0.8v0.8h-0.8zM391.2 380.3h0.8v0.8h-0.8zM390.5 379.1h0.8v0.8h-0.8zM385.2 379.8h0.8v0.8h-0.8zM391.6 377.1h0.8v0.8h-0.8zM387.2 379.3h0.8v0.8h-0.8zM391.4 378.1h0.8v0.8h-0.8zM388.0 376.2h0.8v0.8h-0.8zM387.1 378.9h0.8v0.8h-0.8zM384.9 376.0h0.8v0.8h-0.8zM385.7 377.4h0.8v0.8h-0.8zM384.1 379.8h0.8v0.8h-0.8zM390.9 376.8h0.8v0.8h-0.8zM390.8 377.6h0.8v0.8h-0.8zM388.5 378.0h0.8v0.8h-0.8zM391.0 378.1h0.8v0.8h-0.8zM385.6 378.0h0.8v0.8h-0.8zM387.6 380.2h0.8v0.8h-0.8zM392.2 379.9h0.8v0.8h-0.8zM388.8 377.5h0.8v0.8h-0.8zM384.3 378.1h0.8v0.8h-0.8zM390.8 375.6h0.8v0.8h-0.8zM389.7 381.6h0.8v0.8h-0.8zM389.8 377.7h0.8v0.8h-0.8zM390.9 377.0h0.8v0.8h-0.8zM390.6 380.3h0.8v0.8h-0.8zM390.0 378.1h0.8v0.8h-0.8zM387.5 378.6h0.8v0.8h-0.8zM392.5 376.7h0.8v0.8h-0.8zM386.8 378.4h0.8v0.8h-0.8zM386.1 376.5h0.8v0.8h-0.8zM387.4 381.3h0.8v0.8h-0.8z" fill="#8c6272" opacity="0.9"/><path d="M379.1 384.5h0.8v0.8h-0.8zM378.2 380.7h0.8v0.8h-0.8zM380.3 381.6h0.8v0.8h-0.8zM372.9 376.8h0.8v0.8h-0.8zM380.2 379.4h0.8v0.8h-0.8zM376.0 379.8h0.8v0.8h-0.8zM374.2 377.6h0.8v0.8h-0.8zM372.2 391.9h0.8v0.8h-0.8zM381.1 391.1h0.8v0.8h-0.8zM374.9 385.0h0.8v0.8h-0.8zM378.8 384.0h0.8v0.8h-0.8zM380.8 391.3h0.8v0.8h-0.8zM372.5 379.6h0.8v0.8h-0.8zM376.4 386.2h0.8v0.8h-0.8zM378.1 390.7h0.8v0.8h-0.8zM379.2 389.1h0.8v0.8h-0.8zM371.9 382.6h0.8v0.8h-0.8zM380.0 389.8h0.8v0.8h-0.8zM372.8 391.7h0.8v0.8h-0.8zM376.9 377.5h0.8v0.8h-0.8zM383.9 387.3h0.8v0.8h-0.8zM376.1 391.7h0.8v0.8h-0.8zM378.7 396.7h0.8v0.8h-0.8zM372.9 389.7h0.8v0.8h-0.8zM379.5 382.0h0.8v0.8h-0.8zM382.3 383.1h0.8v0.8h-0.8zM372.3 389.7h0.8v0.8h-0.8zM375.1 383.7h0.8v0.8h-0.8zM371.8 386.8h0.8v0.8h-0.8zM378.1 392.6h0.8v0.8h-0.8zM370.3 383.3h0.8v0.8h-0.8zM372.7 386.8h0.8v0.8h-0.8zM378.4 390.4h0.8v0.8h-0.8zM375.0 392.0h0.8v0.8h-0.8zM381.1 380.9h0.8v0.8h-0.8zM373.1 383.1h0.8v0.8h-0.8zM380.0 389.1h0.8v0.8h-0.8zM376.6 375.0h0.8v0.8h-0.8zM378.1 384.9h0.8v0.8h-0.8zM374.2 382.0h0.8v0.8h-0.8zM374.4 391.5h0.8v0.8h-0.8zM377.8 394.9h0.8v0.8h-0.8zM376.7 384.1h0.8v0.8h-0.8zM381.6 383.3h0.8v0.8h-0.8zM375.7 376.0h0.8v0.8h-0.8zM373.0 388.3h0.8v0.8h-0.8zM380.5 390.1h0.8v0.8h-0.8zM378.3 387.5h0.8v0.8h-0.8zM375.1 379.7h0.8v0.8h-0.8zM375.2 380.4h0.8v0.8h-0.8zM372.4 380.3h0.8v0.8h-0.8zM371.1 375.6h0.8v0.8h-0.8zM377.6 377.0h0.8v0.8h-0.8zM373.1 378.3h0.8v0.8h-0.8zM376.3 387.4h0.8v0.8h-0.8zM379.9 382.9h0.8v0.8h-0.8zM380.2 379.3h0.8v0.8h-0.8zM373.6 397.3h0.8v0.8h-0.8zM375.5 381.4h0.8v0.8h-0.8zM372.0 384.4h0.8v0.8h-0.8zM375.4 390.9h0.8v0.8h-0.8zM375.4 377.7h0.8v0.8h-0.8zM377.5 382.1h0.8v0.8h-0.8zM381.7 381.2h0.8v0.8h-0.8zM381.5 370.7h0.8v0.8h-0.8zM383.3 385.6h0.8v0.8h-0.8zM378.3 375.1h0.8v0.8h-0.8zM374.1 384.1h0.8v0.8h-0.8zM377.8 386.4h0.8v0.8h-0.8zM378.7 392.0h0.8v0.8h-0.8zM380.0 387.1h0.8v0.8h-0.8zM374.8 383.4h0.8v0.8h-0.8zM379.9 378.9h0.8v0.8h-0.8zM379.9 382.7h0.8v0.8h-0.8zM376.1 380.3h0.8v0.8h-0.8zM379.3 385.0h0.8v0.8h-0.8zM380.8 389.6h0.8v0.8h-0.8zM374.6 393.0h0.8v0.8h-0.8zM381.6 384.6h0.8v0.8h-0.8zM381.8 378.9h0.8v0.8h-0.8zM381.9 383.7h0.8v0.8h-0.8zM371.2 385.7h0.8v0.8h-0.8zM372.8 380.9h0.8v0.8h-0.8zM380.1 384.4h0.8v0.8h-0.8zM377.9 388.3h0.8v0.8h-0.8zM382.9 383.7h0.8v0.8h-0.8zM378.6 378.6h0.8v0.8h-0.8zM378.7 379.7h0.8v0.8h-0.8zM375.5 392.8h0.8v0.8h-0.8zM376.1 371.8h0.8v0.8h-0.8zM381.7 383.0h0.8v0.8h-0.8zM372.1 378.4h0.8v0.8h-0.8zM382.0 378.6h0.8v0.8h-0.8zM376.0 384.7h0.8v0.8h-0.8zM374.6 393.0h0.8v0.8h-0.8zM379.5 388.4h0.8v0.8h-0.8zM382.3 374.8h0.8v0.8h-0.8zM375.3 384.3h0.8v0.8h-0.8zM375.8 391.2h0.8v0.8h-0.8zM382.1 388.3h0.8v0.8h-0.8zM375.5 381.6h0.8v0.8h-0.8zM380.4 378.7h0.8v0.8h-0.8zM372.7 382.9h0.8v0.8h-0.8zM373.4 391.1h0.8v0.8h-0.8zM376.6 375.6h0.8v0.8h-0.8zM374.2 391.5h0.8v0.8h-0.8zM373.3 386.5h0.8v0.8h-0.8zM372.4 375.0h0.8v0.8h-0.8zM378.4 391.5h0.8v0.8h-0.8zM375.0 377.5h0.8v0.8h-0.8zM380.1 384.4h0.8v0.8h-0.8zM381.6 379.6h0.8v0.8h-0.8zM374.8 377.8h0.8v0.8h-0.8zM380.2 378.7h0.8v0.8h-0.8zM374.3 385.6h0.8v0.8h-0.8zM378.0 385.9h0.8v0.8h-0.8zM374.2 380.4h0.8v0.8h-0.8zM371.7 382.1h0.8v0.8h-0.8zM375.0 388.5h0.8v0.8h-0.8zM383.0 382.3h0.8v0.8h-0.8zM375.2 388.2h0.8v0.8h-0.8zM381.8 390.2h0.8v0.8h-0.8zM371.8 380.7h0.8v0.8h-0.8zM382.2 384.5h0.8v0.8h-0.8zM377.5 396.3h0.8v0.8h-0.8zM373.2 396.7h0.8v0.8h-0.8zM375.8 373.7h0.8v0.8h-0.8zM376.8 389.6h0.8v0.8h-0.8zM379.5 387.7h0.8v0.8h-0.8zM382.8 384.5h0.8v0.8h-0.8zM374.5 383.8h0.8v0.8h-0.8zM376.9 379.4h0.8v0.8h-0.8zM379.8 378.8h0.8v0.8h-0.8zM377.7 388.6h0.8v0.8h-0.8zM374.8 394.1h0.8v0.8h-0.8zM377.0 380.2h0.8v0.8h-0.8zM381.9 389.8h0.8v0.8h-0.8zM379.5 394.7h0.8v0.8h-0.8zM380.9 382.9h0.8v0.8h-0.8zM377.9 389.6h0.8v0.8h-0.8zM375.2 389.4h0.8v0.8h-0.8zM373.1 390.6h0.8v0.8h-0.8zM382.2 386.1h0.8v0.8h-0.8zM377.9 388.5h0.8v0.8h-0.8zM381.5 370.9h0.8v0.8h-0.8zM377.6 387.4h0.8v0.8h-0.8zM375.1 381.5h0.8v0.8h-0.8zM376.6 387.5h0.8v0.8h-0.8zM370.1 382.9h0.8v0.8h-0.8zM380.0 389.7h0.8v0.8h-0.8zM377.8 386.7h0.8v0.8h-0.8zM382.1 377.9h0.8v0.8h-0.8zM376.4 375.9h0.8v0.8h-0.8zM372.8 385.6h0.8v0.8h-0.8zM372.2 389.0h0.8v0.8h-0.8zM376.7 376.6h0.8v0.8h-0.8zM376.4 387.3h0.8v0.8h-0.8zM377.6 371.5h0.8v0.8h-0.8zM381.9 378.5h0.8v0.8h-0.8zM373.1 384.8h0.8v0.8h-0.8zM380.2 377.5h0.8v0.8h-0.8zM376.4 375.6h0.8v0.8h-0.8zM370.7 388.6h0.8v0.8h-0.8zM379.0 383.7h0.8v0.8h-0.8zM377.6 375.1h0.8v0.8h-0.8zM371.3 377.9h0.8v0.8h-0.8zM380.0 395.6h0.8v0.8h-0.8zM372.8 381.2h0.8v0.8h-0.8zM375.9 387.6h0.8v0.8h-0.8zM381.6 370.0h0.8v0.8h-0.8zM371.7 384.1h0.8v0.8h-0.8zM371.0 377.5h0.8v0.8h-0.8zM383.7 389.5h0.8v0.8h-0.8zM378.8 395.1h0.8v0.8h-0.8zM375.3 380.4h0.8v0.8h-0.8zM378.8 391.4h0.8v0.8h-0.8zM383.0 388.8h0.8v0.8h-0.8zM373.4 389.1h0.8v0.8h-0.8zM380.4 392.2h0.8v0.8h-0.8zM375.5 386.8h0.8v0.8h-0.8zM376.8 382.5h0.8v0.8h-0.8zM378.4 379.5h0.8v0.8h-0.8zM370.1 381.6h0.8v0.8h-0.8zM379.8 391.7h0.8v0.8h-0.8zM375.4 385.4h0.8v0.8h-0.8zM382.8 385.4h0.8v0.8h-0.8zM371.8 381.3h0.8v0.8h-0.8zM378.3 380.6h0.8v0.8h-0.8zM375.6 377.2h0.8v0.8h-0.8zM378.6 379.9h0.8v0.8h-0.8zM379.3 381.5h0.8v0.8h-0.8zM374.5 376.5h0.8v0.8h-0.8zM371.5 376.7h0.8v0.8h-0.8zM369.2 377.0h0.8v0.8h-0.8zM377.0 396.1h0.8v0.8h-0.8zM378.0 393.6h0.8v0.8h-0.8zM369.9 378.6h0.8v0.8h-0.8zM376.6 379.8h0.8v0.8h-0.8zM379.8 374.3h0.8v0.8h-0.8zM379.5 387.6h0.8v0.8h-0.8zM377.5 373.6h0.8v0.8h-0.8zM379.0 382.4h0.8v0.8h-0.8zM377.6 392.1h0.8v0.8h-0.8zM380.5 372.4h0.8v0.8h-0.8zM375.0 391.9h0.8v0.8h-0.8zM374.1 382.9h0.8v0.8h-0.8zM380.3 374.6h0.8v0.8h-0.8zM377.5 394.1h0.8v0.8h-0.8zM379.1 373.5h0.8v0.8h-0.8zM377.6 392.0h0.8v0.8h-0.8zM375.7 391.5h0.8v0.8h-0.8zM376.0 375.9h0.8v0.8h-0.8zM382.3 385.4h0.8v0.8h-0.8zM379.6 377.3h0.8v0.8h-0.8zM378.2 383.9h0.8v0.8h-0.8zM377.2 376.9h0.8v0.8h-0.8zM373.8 373.5h0.8v0.8h-0.8zM375.4 389.6h0.8v0.8h-0.8zM373.7 375.7h0.8v0.8h-0.8zM378.7 385.6h0.8v0.8h-0.8z" fill="#88bce6" opacity="0.9"/><path d="M394.3 354.9h0.8v0.8h-0.8zM389.3 355.7h0.8v0.8h-0.8zM385.1 357.0h0.8v0.8h-0.8zM387.9 357.9h0.8v0.8h-0.8zM386.3 357.0h0.8v0.8h-0.8zM388.9 357.1h0.8v0.8h-0.8zM388.3 357.3h0.8v0.8h-0.8zM388.2 355.9h0.8v0.8h-0.8zM392.2 360.0h0.8v0.8h-0.8zM392.6 358.1h0.8v0.8h-0.8zM387.4 358.4h0.8v0.8h-0.8zM392.0 359.4h0.8v0.8h-0.8zM386.6 357.3h0.8v0.8h-0.8zM390.5 358.5h0.8v0.8h-0.8zM386.6 356.8h0.8v0.8h-0.8zM387.5 359.1h0.8v0.8h-0.8zM387.2 356.7h0.8v0.8h-0.8zM392.4 354.9h0.8v0.8h-0.8zM391.0 355.4h0.8v0.8h-0.8zM388.4 359.8h0.8v0.8h-0.8zM389.1 359.4h0.8v0.8h-0.8zM391.0 358.3h0.8v0.8h-0.8zM390.7 354.9h0.8v0.8h-0.8zM391.4 357.4h0.8v0.8h-0.8zM390.7 355.1h0.8v0.8h-0.8zM392.2 358.7h0.8v0.8h-0.8zM389.3 356.9h0.8v0.8h-0.8zM386.5 357.9h0.8v0.8h-0.8zM385.4 356.6h0.8v0.8h-0.8zM387.9 357.4h0.8v0.8h-0.8zM388.0 357.5h0.8v0.8h-0.8zM389.5 356.3h0.8v0.8h-0.8zM388.5 360.0h0.8v0.8h-0.8zM387.9 356.7h0.8v0.8h-0.8zM393.0 358.6h0.8v0.8h-0.8zM387.5 354.9h0.8v0.8h-0.8zM393.2 358.5h0.8v0.8h-0.8zM390.2 357.5h0.8v0.8h-0.8zM388.9 354.6h0.8v0.8h-0.8zM392.3 358.0h0.8v0.8h-0.8z" fill="#e8b030" opacity="0.9"/><path d="M377.5 362.1h0.8v0.8h-0.8zM377.4 360.3h0.8v0.8h-0.8zM377.4 360.0h0.8v0.8h-0.8zM377.7 363.7h0.8v0.8h-0.8zM377.1 358.8h0.8v0.8h-0.8zM377.2 359.0h0.8v0.8h-0.8zM377.0 360.1h0.8v0.8h-0.8zM376.8 360.4h0.8v0.8h-0.8zM379.0 359.8h0.8v0.8h-0.8zM376.9 359.9h0.8v0.8h-0.8zM379.1 362.0h0.8v0.8h-0.8zM377.9 361.3h0.8v0.8h-0.8zM378.1 360.6h0.8v0.8h-0.8zM377.9 359.2h0.8v0.8h-0.8z" fill="#a0a040" opacity="0.9"/><path d="M387.3 389.2h0.8v0.8h-0.8zM388.0 388.5h0.8v0.8h-0.8zM385.9 385.7h0.8v0.8h-0.8zM387.6 386.1h0.8v0.8h-0.8zM388.0 387.1h0.8v0.8h-0.8zM386.0 387.4h0.8v0.8h-0.8zM388.2 388.0h0.8v0.8h-0.8zM385.3 387.0h0.8v0.8h-0.8zM385.1 387.5h0.8v0.8h-0.8zM389.1 387.4h0.8v0.8h-0.8zM388.6 388.8h0.8v0.8h-0.8zM387.2 388.8h0.8v0.8h-0.8zM389.4 387.7h0.8v0.8h-0.8zM389.2 386.0h0.8v0.8h-0.8zM386.6 385.6h0.8v0.8h-0.8zM388.5 387.8h0.8v0.8h-0.8zM388.0 386.3h0.8v0.8h-0.8zM386.9 385.1h0.8v0.8h-0.8zM386.8 385.7h0.8v0.8h-0.8zM385.5 388.3h0.8v0.8h-0.8zM386.8 386.5h0.8v0.8h-0.8zM386.5 387.3h0.8v0.8h-0.8zM389.0 384.8h0.8v0.8h-0.8zM387.2 388.8h0.8v0.8h-0.8zM388.4 385.3h0.8v0.8h-0.8zM388.4 386.4h0.8v0.8h-0.8zM387.3 387.3h0.8v0.8h-0.8zM386.4 387.1h0.8v0.8h-0.8zM389.5 386.7h0.8v0.8h-0.8zM390.2 385.8h0.8v0.8h-0.8z" fill="#5a5a5a" opacity="0.9"/><path d="M409.2 387.1h0.8v0.8h-0.8zM415.7 389.0h0.8v0.8h-0.8zM415.1 386.3h0.8v0.8h-0.8zM414.3 389.2h0.8v0.8h-0.8zM411.2 384.1h0.8v0.8h-0.8zM412.4 387.6h0.8v0.8h-0.8zM414.7 389.1h0.8v0.8h-0.8zM411.1 389.3h0.8v0.8h-0.8zM413.5 384.1h0.8v0.8h-0.8zM410.4 386.7h0.8v0.8h-0.8zM410.4 386.8h0.8v0.8h-0.8zM411.2 384.7h0.8v0.8h-0.8zM411.7 384.9h0.8v0.8h-0.8zM409.9 386.3h0.8v0.8h-0.8zM413.3 387.5h0.8v0.8h-0.8zM414.2 389.5h0.8v0.8h-0.8zM415.8 387.4h0.8v0.8h-0.8zM415.1 385.9h0.8v0.8h-0.8zM415.9 386.2h0.8v0.8h-0.8zM413.0 388.4h0.8v0.8h-0.8zM412.5 387.7h0.8v0.8h-0.8zM415.9 387.3h0.8v0.8h-0.8zM414.6 389.2h0.8v0.8h-0.8zM414.0 386.3h0.8v0.8h-0.8zM411.2 387.2h0.8v0.8h-0.8zM409.5 387.7h0.8v0.8h-0.8zM415.9 387.8h0.8v0.8h-0.8zM412.2 386.0h0.8v0.8h-0.8zM414.5 387.0h0.8v0.8h-0.8zM412.5 387.1h0.8v0.8h-0.8zM415.8 388.1h0.8v0.8h-0.8zM413.1 388.2h0.8v0.8h-0.8zM411.7 386.2h0.8v0.8h-0.8zM414.0 385.4h0.8v0.8h-0.8zM414.0 385.2h0.8v0.8h-0.8zM417.8 387.9h0.8v0.8h-0.8zM409.0 388.8h0.8v0.8h-0.8zM412.6 385.6h0.8v0.8h-0.8zM413.1 387.4h0.8v0.8h-0.8zM412.0 384.2h0.8v0.8h-0.8zM410.8 385.6h0.8v0.8h-0.8zM413.3 390.0h0.8v0.8h-0.8zM413.5 385.6h0.8v0.8h-0.8zM412.8 388.7h0.8v0.8h-0.8zM409.7 389.2h0.8v0.8h-0.8z" fill="#f08a30" opacity="0.9"/><path d="M411.1 392.7h0.8v0.8h-0.8zM406.0 394.3h0.8v0.8h-0.8zM407.1 391.3h0.8v0.8h-0.8zM408.7 391.3h0.8v0.8h-0.8zM407.0 391.4h0.8v0.8h-0.8zM408.6 394.2h0.8v0.8h-0.8zM408.9 393.8h0.8v0.8h-0.8zM409.6 393.4h0.8v0.8h-0.8zM407.8 390.6h0.8v0.8h-0.8zM410.5 393.4h0.8v0.8h-0.8zM409.3 392.5h0.8v0.8h-0.8zM408.1 393.8h0.8v0.8h-0.8zM407.7 394.3h0.8v0.8h-0.8zM409.1 390.4h0.8v0.8h-0.8zM406.7 391.7h0.8v0.8h-0.8zM411.0 392.7h0.8v0.8h-0.8zM406.8 394.6h0.8v0.8h-0.8zM411.2 391.8h0.8v0.8h-0.8zM407.2 392.7h0.8v0.8h-0.8zM407.9 393.5h0.8v0.8h-0.8zM407.5 393.1h0.8v0.8h-0.8zM407.0 394.6h0.8v0.8h-0.8zM408.1 392.3h0.8v0.8h-0.8zM407.4 390.5h0.8v0.8h-0.8zM408.1 391.9h0.8v0.8h-0.8z" fill="#a07030" opacity="0.9"/><path d="M445.7 389.2h0.8v0.8h-0.8zM446.0 391.4h0.8v0.8h-0.8zM442.1 386.9h0.8v0.8h-0.8zM441.6 394.4h0.8v0.8h-0.8zM445.3 385.9h0.8v0.8h-0.8zM441.9 384.4h0.8v0.8h-0.8zM445.5 389.1h0.8v0.8h-0.8zM441.9 393.9h0.8v0.8h-0.8zM439.2 392.9h0.8v0.8h-0.8zM445.1 391.8h0.8v0.8h-0.8zM442.1 389.9h0.8v0.8h-0.8zM442.2 385.1h0.8v0.8h-0.8zM444.6 395.9h0.8v0.8h-0.8zM439.8 392.8h0.8v0.8h-0.8zM441.8 387.2h0.8v0.8h-0.8zM443.7 385.1h0.8v0.8h-0.8zM441.2 385.3h0.8v0.8h-0.8zM439.4 395.4h0.8v0.8h-0.8zM440.4 388.0h0.8v0.8h-0.8zM445.8 389.7h0.8v0.8h-0.8zM442.3 385.6h0.8v0.8h-0.8zM441.3 386.5h0.8v0.8h-0.8zM440.9 390.0h0.8v0.8h-0.8zM442.5 387.3h0.8v0.8h-0.8zM443.4 394.1h0.8v0.8h-0.8zM445.7 391.0h0.8v0.8h-0.8zM444.3 385.7h0.8v0.8h-0.8zM442.3 390.7h0.8v0.8h-0.8zM444.6 392.1h0.8v0.8h-0.8zM441.9 395.1h0.8v0.8h-0.8zM441.5 385.3h0.8v0.8h-0.8zM447.1 391.0h0.8v0.8h-0.8zM440.8 393.2h0.8v0.8h-0.8zM444.4 394.2h0.8v0.8h-0.8zM443.9 392.0h0.8v0.8h-0.8zM445.8 394.4h0.8v0.8h-0.8zM445.3 392.0h0.8v0.8h-0.8zM441.7 395.1h0.8v0.8h-0.8zM441.9 387.9h0.8v0.8h-0.8zM440.2 386.1h0.8v0.8h-0.8zM443.6 397.0h0.8v0.8h-0.8zM444.2 387.1h0.8v0.8h-0.8zM441.9 390.5h0.8v0.8h-0.8zM443.9 397.2h0.8v0.8h-0.8zM445.1 389.2h0.8v0.8h-0.8zM441.1 389.1h0.8v0.8h-0.8zM444.7 388.3h0.8v0.8h-0.8zM439.9 389.8h0.8v0.8h-0.8zM441.9 386.2h0.8v0.8h-0.8zM443.8 392.9h0.8v0.8h-0.8zM446.3 389.3h0.8v0.8h-0.8zM439.8 387.9h0.8v0.8h-0.8zM447.9 389.8h0.8v0.8h-0.8zM446.9 389.7h0.8v0.8h-0.8zM444.8 389.3h0.8v0.8h-0.8zM443.5 385.7h0.8v0.8h-0.8zM443.8 386.5h0.8v0.8h-0.8zM444.6 389.6h0.8v0.8h-0.8zM439.5 385.9h0.8v0.8h-0.8zM443.4 392.1h0.8v0.8h-0.8zM440.8 396.7h0.8v0.8h-0.8zM444.1 392.6h0.8v0.8h-0.8zM442.1 395.1h0.8v0.8h-0.8zM442.7 391.7h0.8v0.8h-0.8zM445.2 385.3h0.8v0.8h-0.8zM444.2 393.1h0.8v0.8h-0.8zM443.1 394.7h0.8v0.8h-0.8zM444.6 388.0h0.8v0.8h-0.8zM446.0 390.4h0.8v0.8h-0.8zM447.0 388.0h0.8v0.8h-0.8zM440.2 394.7h0.8v0.8h-0.8zM441.5 390.7h0.8v0.8h-0.8zM444.6 395.2h0.8v0.8h-0.8zM438.4 393.5h0.8v0.8h-0.8zM442.3 392.3h0.8v0.8h-0.8zM443.4 394.5h0.8v0.8h-0.8zM438.6 390.6h0.8v0.8h-0.8zM439.8 392.1h0.8v0.8h-0.8zM443.8 392.4h0.8v0.8h-0.8zM441.3 388.9h0.8v0.8h-0.8z" fill="#e02020" opacity="0.9"/><path d="M452.9 390.6h0.8v0.8h-0.8zM453.1 391.5h0.8v0.8h-0.8zM451.1 392.9h0.8v0.8h-0.8zM449.9 390.7h0.8v0.8h-0.8zM452.9 391.4h0.8v0.8h-0.8zM450.8 390.2h0.8v0.8h-0.8zM448.9 391.7h0.8v0.8h-0.8zM449.8 390.4h0.8v0.8h-0.8zM451.6 392.1h0.8v0.8h-0.8zM452.0 391.9h0.8v0.8h-0.8z" fill="#f0a0a0" opacity="0.9"/><path d="M411.2 411.4h0.8v0.8h-0.8zM427.2 411.7h0.8v0.8h-0.8zM411.3 413.8h0.8v0.8h-0.8zM418.5 413.2h0.8v0.8h-0.8zM411.2 412.6h0.8v0.8h-0.8zM411.2 411.4h0.8v0.8h-0.8zM405.6 413.8h0.8v0.8h-0.8zM413.0 413.2h0.8v0.8h-0.8zM409.5 412.8h0.8v0.8h-0.8zM416.5 411.4h0.8v0.8h-0.8zM418.0 407.1h0.8v0.8h-0.8zM411.9 409.9h0.8v0.8h-0.8zM410.1 408.8h0.8v0.8h-0.8zM405.4 411.6h0.8v0.8h-0.8zM422.3 409.7h0.8v0.8h-0.8zM407.9 413.4h0.8v0.8h-0.8zM418.4 413.5h0.8v0.8h-0.8zM409.0 408.4h0.8v0.8h-0.8zM415.9 415.0h0.8v0.8h-0.8zM406.9 411.1h0.8v0.8h-0.8zM424.5 410.8h0.8v0.8h-0.8zM421.9 408.9h0.8v0.8h-0.8zM417.9 410.3h0.8v0.8h-0.8zM421.9 413.1h0.8v0.8h-0.8zM419.6 411.8h0.8v0.8h-0.8zM424.6 412.3h0.8v0.8h-0.8zM418.0 410.5h0.8v0.8h-0.8zM408.7 415.4h0.8v0.8h-0.8zM418.2 411.0h0.8v0.8h-0.8zM405.9 410.0h0.8v0.8h-0.8zM425.8 410.2h0.8v0.8h-0.8zM416.3 408.6h0.8v0.8h-0.8zM411.3 410.0h0.8v0.8h-0.8zM419.3 410.7h0.8v0.8h-0.8zM406.5 411.1h0.8v0.8h-0.8zM412.3 414.6h0.8v0.8h-0.8zM403.7 412.1h0.8v0.8h-0.8zM407.6 410.8h0.8v0.8h-0.8zM414.0 408.3h0.8v0.8h-0.8zM409.2 407.1h0.8v0.8h-0.8zM414.9 408.8h0.8v0.8h-0.8zM420.2 410.0h0.8v0.8h-0.8zM415.1 410.1h0.8v0.8h-0.8zM408.7 408.2h0.8v0.8h-0.8zM426.0 413.4h0.8v0.8h-0.8zM414.2 415.3h0.8v0.8h-0.8zM408.4 409.9h0.8v0.8h-0.8zM406.2 410.5h0.8v0.8h-0.8zM405.8 410.2h0.8v0.8h-0.8zM412.0 416.1h0.8v0.8h-0.8zM408.2 412.2h0.8v0.8h-0.8zM408.2 412.9h0.8v0.8h-0.8zM407.2 414.9h0.8v0.8h-0.8zM422.2 411.1h0.8v0.8h-0.8zM409.0 409.5h0.8v0.8h-0.8zM409.3 412.6h0.8v0.8h-0.8zM400.7 409.7h0.8v0.8h-0.8zM412.5 414.3h0.8v0.8h-0.8zM414.7 414.0h0.8v0.8h-0.8zM405.0 412.9h0.8v0.8h-0.8zM422.0 413.0h0.8v0.8h-0.8zM416.9 408.9h0.8v0.8h-0.8zM415.3 407.8h0.8v0.8h-0.8zM411.8 413.2h0.8v0.8h-0.8zM421.5 410.8h0.8v0.8h-0.8zM409.7 408.7h0.8v0.8h-0.8zM419.9 413.7h0.8v0.8h-0.8zM407.3 409.5h0.8v0.8h-0.8zM414.2 408.4h0.8v0.8h-0.8zM411.4 411.2h0.8v0.8h-0.8zM405.0 411.7h0.8v0.8h-0.8zM417.3 410.6h0.8v0.8h-0.8zM411.7 411.4h0.8v0.8h-0.8zM419.0 411.5h0.8v0.8h-0.8zM402.4 412.7h0.8v0.8h-0.8zM409.9 407.4h0.8v0.8h-0.8zM422.2 415.1h0.8v0.8h-0.8zM415.9 408.8h0.8v0.8h-0.8zM411.8 409.6h0.8v0.8h-0.8zM409.9 412.9h0.8v0.8h-0.8zM422.5 413.0h0.8v0.8h-0.8zM411.2 410.9h0.8v0.8h-0.8zM407.7 410.4h0.8v0.8h-0.8zM407.1 410.7h0.8v0.8h-0.8zM413.9 410.8h0.8v0.8h-0.8zM412.8 408.0h0.8v0.8h-0.8zM417.9 408.8h0.8v0.8h-0.8zM417.5 412.0h0.8v0.8h-0.8zM403.8 410.5h0.8v0.8h-0.8zM404.3 410.6h0.8v0.8h-0.8zM403.1 411.4h0.8v0.8h-0.8zM423.0 412.6h0.8v0.8h-0.8zM411.7 409.4h0.8v0.8h-0.8zM420.6 409.5h0.8v0.8h-0.8zM412.1 409.6h0.8v0.8h-0.8zM407.8 408.6h0.8v0.8h-0.8zM418.6 408.8h0.8v0.8h-0.8zM419.1 410.4h0.8v0.8h-0.8zM420.2 412.7h0.8v0.8h-0.8zM408.8 410.9h0.8v0.8h-0.8zM419.4 412.3h0.8v0.8h-0.8zM404.6 411.6h0.8v0.8h-0.8zM410.0 407.7h0.8v0.8h-0.8zM414.7 410.3h0.8v0.8h-0.8zM414.2 412.6h0.8v0.8h-0.8zM419.2 412.7h0.8v0.8h-0.8zM402.2 408.9h0.8v0.8h-0.8zM412.0 414.1h0.8v0.8h-0.8zM419.2 413.3h0.8v0.8h-0.8zM409.8 410.9h0.8v0.8h-0.8zM409.7 411.9h0.8v0.8h-0.8zM421.7 411.0h0.8v0.8h-0.8zM423.5 412.1h0.8v0.8h-0.8zM405.2 414.4h0.8v0.8h-0.8zM413.0 414.4h0.8v0.8h-0.8zM405.8 413.3h0.8v0.8h-0.8zM415.2 408.0h0.8v0.8h-0.8zM408.8 406.9h0.8v0.8h-0.8zM406.9 411.9h0.8v0.8h-0.8zM425.9 411.7h0.8v0.8h-0.8zM415.3 410.7h0.8v0.8h-0.8zM419.4 414.1h0.8v0.8h-0.8zM419.7 408.3h0.8v0.8h-0.8zM415.4 413.5h0.8v0.8h-0.8zM406.8 411.7h0.8v0.8h-0.8zM411.8 412.8h0.8v0.8h-0.8zM411.7 413.4h0.8v0.8h-0.8zM415.6 410.7h0.8v0.8h-0.8zM415.9 414.0h0.8v0.8h-0.8zM411.0 407.2h0.8v0.8h-0.8zM405.6 411.7h0.8v0.8h-0.8zM417.9 410.9h0.8v0.8h-0.8zM422.2 410.0h0.8v0.8h-0.8zM404.4 409.6h0.8v0.8h-0.8zM417.0 411.8h0.8v0.8h-0.8zM417.2 414.7h0.8v0.8h-0.8zM417.6 412.1h0.8v0.8h-0.8zM401.5 410.4h0.8v0.8h-0.8zM410.8 408.8h0.8v0.8h-0.8zM417.5 409.3h0.8v0.8h-0.8zM415.5 413.0h0.8v0.8h-0.8zM410.1 408.4h0.8v0.8h-0.8zM402.0 413.3h0.8v0.8h-0.8zM415.6 410.6h0.8v0.8h-0.8zM420.0 411.0h0.8v0.8h-0.8zM408.7 407.0h0.8v0.8h-0.8zM417.1 407.7h0.8v0.8h-0.8zM424.4 409.4h0.8v0.8h-0.8zM414.1 413.3h0.8v0.8h-0.8zM415.3 414.7h0.8v0.8h-0.8zM419.3 413.0h0.8v0.8h-0.8zM420.8 407.9h0.8v0.8h-0.8zM413.3 410.4h0.8v0.8h-0.8zM417.3 411.0h0.8v0.8h-0.8zM412.0 408.1h0.8v0.8h-0.8zM417.8 412.1h0.8v0.8h-0.8zM417.7 407.3h0.8v0.8h-0.8zM401.6 412.7h0.8v0.8h-0.8zM407.5 412.5h0.8v0.8h-0.8zM408.0 413.2h0.8v0.8h-0.8zM412.3 414.3h0.8v0.8h-0.8zM409.5 411.7h0.8v0.8h-0.8zM410.5 413.3h0.8v0.8h-0.8zM423.3 408.2h0.8v0.8h-0.8zM411.4 413.0h0.8v0.8h-0.8zM413.7 406.5h0.8v0.8h-0.8zM419.6 409.4h0.8v0.8h-0.8zM404.0 413.5h0.8v0.8h-0.8zM420.4 412.7h0.8v0.8h-0.8zM403.4 409.7h0.8v0.8h-0.8z" fill="#7055b8" opacity="0.9"/><path d="M424.6 413.0h0.8v0.8h-0.8zM423.8 413.6h0.8v0.8h-0.8zM424.2 413.3h0.8v0.8h-0.8zM424.6 412.7h0.8v0.8h-0.8zM424.2 413.6h0.8v0.8h-0.8zM423.7 412.8h0.8v0.8h-0.8zM423.2 414.1h0.8v0.8h-0.8zM423.9 413.5h0.8v0.8h-0.8zM425.0 412.1h0.8v0.8h-0.8zM423.4 412.6h0.8v0.8h-0.8z" fill="#e02020" opacity="0.9"/><path d="M435.9 412.3h0.8v0.8h-0.8zM434.6 412.0h0.8v0.8h-0.8zM434.3 412.4h0.8v0.8h-0.8zM437.2 411.5h0.8v0.8h-0.8zM437.9 412.1h0.8v0.8h-0.8zM435.2 410.7h0.8v0.8h-0.8zM436.4 413.8h0.8v0.8h-0.8zM436.7 413.4h0.8v0.8h-0.8zM437.0 411.9h0.8v0.8h-0.8zM434.9 410.9h0.8v0.8h-0.8zM435.7 412.9h0.8v0.8h-0.8zM436.6 411.4h0.8v0.8h-0.8zM435.3 413.9h0.8v0.8h-0.8zM436.2 410.2h0.8v0.8h-0.8z" fill="#e040a0" opacity="0.9"/><path d="M430.4 407.2h0.8v0.8h-0.8zM430.5 406.9h0.8v0.8h-0.8zM430.7 407.6h0.8v0.8h-0.8zM429.1 407.7h0.8v0.8h-0.8zM429.3 407.3h0.8v0.8h-0.8zM428.8 406.9h0.8v0.8h-0.8zM429.5 406.2h0.8v0.8h-0.8zM430.4 406.8h0.8v0.8h-0.8z" fill="#2a60c0" opacity="0.9"/><path d="M445.1 407.8h0.8v0.8h-0.8zM445.5 408.4h0.8v0.8h-0.8zM444.9 409.1h0.8v0.8h-0.8zM445.3 408.8h0.8v0.8h-0.8zM445.0 408.9h0.8v0.8h-0.8z" fill="#e8e030" opacity="0.9"/><path d="M408.8 401.0h0.8v0.8h-0.8zM410.8 402.3h0.8v0.8h-0.8zM407.4 401.5h0.8v0.8h-0.8zM411.1 403.7h0.8v0.8h-0.8zM407.3 401.2h0.8v0.8h-0.8zM407.2 402.5h0.8v0.8h-0.8zM407.6 401.7h0.8v0.8h-0.8zM408.5 403.9h0.8v0.8h-0.8zM411.0 403.5h0.8v0.8h-0.8zM411.7 403.0h0.8v0.8h-0.8zM412.3 402.6h0.8v0.8h-0.8zM408.3 404.2h0.8v0.8h-0.8zM408.4 401.5h0.8v0.8h-0.8zM410.0 401.2h0.8v0.8h-0.8zM409.5 403.6h0.8v0.8h-0.8zM410.5 402.9h0.8v0.8h-0.8zM407.3 403.1h0.8v0.8h-0.8zM407.5 401.6h0.8v0.8h-0.8zM407.0 402.7h0.8v0.8h-0.8zM410.5 403.5h0.8v0.8h-0.8z" fill="#30a030" opacity="0.9"/><path d="M425.6 395.3h0.8v0.8h-0.8zM425.8 394.2h0.8v0.8h-0.8zM423.5 397.8h0.8v0.8h-0.8zM422.0 397.9h0.8v0.8h-0.8zM426.1 396.9h0.8v0.8h-0.8zM426.1 395.6h0.8v0.8h-0.8zM425.8 395.9h0.8v0.8h-0.8zM422.1 396.6h0.8v0.8h-0.8zM424.2 396.0h0.8v0.8h-0.8zM422.6 394.4h0.8v0.8h-0.8zM422.6 397.1h0.8v0.8h-0.8zM425.1 397.3h0.8v0.8h-0.8zM424.7 394.7h0.8v0.8h-0.8zM424.0 398.0h0.8v0.8h-0.8zM423.7 394.3h0.8v0.8h-0.8zM423.7 394.2h0.8v0.8h-0.8zM424.2 396.2h0.8v0.8h-0.8zM423.6 397.5h0.8v0.8h-0.8zM425.6 395.9h0.8v0.8h-0.8zM425.7 398.8h0.8v0.8h-0.8zM421.7 397.6h0.8v0.8h-0.8zM421.5 396.3h0.8v0.8h-0.8zM423.3 395.8h0.8v0.8h-0.8zM422.3 396.6h0.8v0.8h-0.8zM423.5 394.5h0.8v0.8h-0.8z" fill="#f0a060" opacity="0.9"/><path d="M433.9 394.5h0.8v0.8h-0.8zM436.2 395.1h0.8v0.8h-0.8zM435.3 394.9h0.8v0.8h-0.8zM431.4 395.4h0.8v0.8h-0.8zM433.2 395.5h0.8v0.8h-0.8zM434.6 398.1h0.8v0.8h-0.8zM432.4 396.2h0.8v0.8h-0.8zM435.0 394.2h0.8v0.8h-0.8zM433.7 398.5h0.8v0.8h-0.8zM435.9 397.5h0.8v0.8h-0.8zM434.7 394.3h0.8v0.8h-0.8zM436.6 397.0h0.8v0.8h-0.8zM435.9 397.0h0.8v0.8h-0.8zM436.4 397.9h0.8v0.8h-0.8zM435.6 397.9h0.8v0.8h-0.8zM434.8 396.1h0.8v0.8h-0.8zM435.2 398.5h0.8v0.8h-0.8zM433.7 399.0h0.8v0.8h-0.8zM432.6 396.2h0.8v0.8h-0.8zM435.2 394.6h0.8v0.8h-0.8zM433.1 398.9h0.8v0.8h-0.8zM432.6 395.1h0.8v0.8h-0.8zM432.9 396.5h0.8v0.8h-0.8zM433.5 396.8h0.8v0.8h-0.8zM435.9 395.0h0.8v0.8h-0.8zM432.1 395.9h0.8v0.8h-0.8zM434.7 398.4h0.8v0.8h-0.8zM434.5 397.7h0.8v0.8h-0.8zM434.9 395.1h0.8v0.8h-0.8zM435.5 398.2h0.8v0.8h-0.8zM434.3 397.9h0.8v0.8h-0.8zM433.2 394.9h0.8v0.8h-0.8zM433.5 393.9h0.8v0.8h-0.8zM431.8 396.2h0.8v0.8h-0.8zM435.2 395.8h0.8v0.8h-0.8z" fill="#909090" opacity="0.9"/><path d="M404.1 438.4h0.8v0.8h-0.8zM402.1 437.8h0.8v0.8h-0.8zM404.0 439.9h0.8v0.8h-0.8zM402.8 439.0h0.8v0.8h-0.8zM402.2 438.5h0.8v0.8h-0.8zM402.2 438.6h0.8v0.8h-0.8zM401.6 439.0h0.8v0.8h-0.8zM402.6 437.2h0.8v0.8h-0.8zM403.8 439.1h0.8v0.8h-0.8zM402.1 437.0h0.8v0.8h-0.8zM403.5 435.9h0.8v0.8h-0.8zM403.1 437.6h0.8v0.8h-0.8z" fill="#8050b0" opacity="0.9"/><path d="M399.9 415.1h0.8v0.8h-0.8zM400.0 413.8h0.8v0.8h-0.8zM402.0 414.3h0.8v0.8h-0.8zM401.9 414.0h0.8v0.8h-0.8zM399.5 413.5h0.8v0.8h-0.8zM398.8 414.7h0.8v0.8h-0.8zM400.9 414.1h0.8v0.8h-0.8zM400.3 413.8h0.8v0.8h-0.8zM401.6 415.8h0.8v0.8h-0.8zM400.6 416.3h0.8v0.8h-0.8zM398.7 415.1h0.8v0.8h-0.8zM399.7 415.7h0.8v0.8h-0.8zM401.5 415.2h0.8v0.8h-0.8zM400.3 416.5h0.8v0.8h-0.8z" fill="#c0b040" opacity="0.9"/><path d="M439.5 377.4h0.8v0.8h-0.8zM439.5 378.2h0.8v0.8h-0.8zM439.2 377.4h0.8v0.8h-0.8zM438.6 377.7h0.8v0.8h-0.8zM437.4 377.2h0.8v0.8h-0.8z" fill="#4a90e0" opacity="0.9"/><path d="M363.6 376.1h0.8v0.8h-0.8zM364.2 375.6h0.8v0.8h-0.8zM364.1 376.2h0.8v0.8h-0.8zM363.1 376.5h0.8v0.8h-0.8z" fill="#4a90e0" opacity="0.9"/><path d="M361.9 404.0h0.8v0.8h-0.8zM361.3 403.4h0.8v0.8h-0.8zM362.0 403.8h0.8v0.8h-0.8z" fill="#e07020" opacity="0.9"/><path d="M407.5 415.8h0.7v0.7h-0.7zM428.1 381.8h0.7v0.7h-0.7zM373.9 383.2h0.7v0.7h-0.7zM428.5 358.4h0.7v0.7h-0.7zM436.3 395.9h0.7v0.7h-0.7zM362.5 400.1h0.7v0.7h-0.7zM425.7 407.2h0.7v0.7h-0.7zM420.3 410.6h0.7v0.7h-0.7zM428.6 402.1h0.7v0.7h-0.7zM417.1 402.9h0.7v0.7h-0.7zM375.0 375.7h0.7v0.7h-0.7zM379.2 362.8h0.7v0.7h-0.7zM415.6 427.6h0.7v0.7h-0.7zM420.4 380.4h0.7v0.7h-0.7zM406.7 428.1h0.7v0.7h-0.7zM429.3 415.3h0.7v0.7h-0.7zM422.7 415.7h0.7v0.7h-0.7zM377.6 378.3h0.7v0.7h-0.7zM393.6 357.0h0.7v0.7h-0.7zM384.1 389.3h0.7v0.7h-0.7zM400.0 423.5h0.7v0.7h-0.7zM404.8 356.5h0.7v0.7h-0.7zM428.5 396.4h0.7v0.7h-0.7zM432.8 400.0h0.7v0.7h-0.7zM435.5 396.7h0.7v0.7h-0.7zM407.4 426.7h0.7v0.7h-0.7zM413.4 374.4h0.7v0.7h-0.7zM422.8 387.8h0.7v0.7h-0.7zM383.0 415.3h0.7v0.7h-0.7zM434.2 407.9h0.7v0.7h-0.7zM408.9 391.4h0.7v0.7h-0.7zM388.4 356.4h0.7v0.7h-0.7zM413.8 432.0h0.7v0.7h-0.7zM369.8 398.5h0.7v0.7h-0.7zM401.4 365.4h0.7v0.7h-0.7zM400.9 402.8h0.7v0.7h-0.7zM407.8 411.9h0.7v0.7h-0.7zM396.9 404.2h0.7v0.7h-0.7zM406.4 414.7h0.7v0.7h-0.7zM433.6 389.5h0.7v0.7h-0.7zM424.8 381.7h0.7v0.7h-0.7zM408.7 367.9h0.7v0.7h-0.7zM389.2 365.7h0.7v0.7h-0.7zM424.6 381.5h0.7v0.7h-0.7zM397.8 364.8h0.7v0.7h-0.7z" fill="#b784b9" opacity="0.7"/><path d="M427.2 364.4h0.7v0.7h-0.7zM397.0 389.2h0.7v0.7h-0.7zM409.6 398.2h0.7v0.7h-0.7zM413.0 426.5h0.7v0.7h-0.7zM403.5 361.4h0.7v0.7h-0.7zM410.3 360.9h0.7v0.7h-0.7zM390.4 420.6h0.7v0.7h-0.7zM399.8 395.0h0.7v0.7h-0.7zM392.8 384.5h0.7v0.7h-0.7zM427.9 417.6h0.7v0.7h-0.7zM385.4 426.1h0.7v0.7h-0.7zM377.0 394.8h0.7v0.7h-0.7zM407.4 377.1h0.7v0.7h-0.7zM408.3 408.9h0.7v0.7h-0.7zM409.9 356.6h0.7v0.7h-0.7zM411.1 412.4h0.7v0.7h-0.7zM381.3 416.0h0.7v0.7h-0.7zM391.6 380.2h0.7v0.7h-0.7zM384.3 412.8h0.7v0.7h-0.7zM376.0 378.0h0.7v0.7h-0.7zM401.1 402.2h0.7v0.7h-0.7zM436.4 393.0h0.7v0.7h-0.7zM398.2 356.3h0.7v0.7h-0.7zM421.7 362.6h0.7v0.7h-0.7zM419.0 396.1h0.7v0.7h-0.7zM387.0 383.8h0.7v0.7h-0.7zM402.9 397.6h0.7v0.7h-0.7zM402.5 397.6h0.7v0.7h-0.7zM410.2 378.2h0.7v0.7h-0.7zM427.6 399.5h0.7v0.7h-0.7zM407.0 375.5h0.7v0.7h-0.7zM384.4 384.2h0.7v0.7h-0.7zM377.1 390.0h0.7v0.7h-0.7zM401.8 355.2h0.7v0.7h-0.7zM388.9 398.4h0.7v0.7h-0.7zM393.3 388.0h0.7v0.7h-0.7zM397.2 405.3h0.7v0.7h-0.7zM405.9 383.1h0.7v0.7h-0.7zM381.7 420.4h0.7v0.7h-0.7zM430.9 380.0h0.7v0.7h-0.7zM381.9 382.7h0.7v0.7h-0.7zM432.8 405.5h0.7v0.7h-0.7zM403.9 407.9h0.7v0.7h-0.7zM414.1 397.0h0.7v0.7h-0.7zM407.7 367.2h0.7v0.7h-0.7z" fill="#e8b030" opacity="0.7"/><path d="M420.2 392.4h0.7v0.7h-0.7zM383.7 377.2h0.7v0.7h-0.7zM384.9 429.6h0.7v0.7h-0.7zM368.5 406.4h0.7v0.7h-0.7zM383.8 364.5h0.7v0.7h-0.7zM408.4 380.0h0.7v0.7h-0.7zM399.5 407.6h0.7v0.7h-0.7zM406.5 398.1h0.7v0.7h-0.7zM413.2 394.3h0.7v0.7h-0.7zM394.4 364.4h0.7v0.7h-0.7zM427.7 400.2h0.7v0.7h-0.7zM410.1 388.0h0.7v0.7h-0.7zM395.9 401.2h0.7v0.7h-0.7zM417.5 364.6h0.7v0.7h-0.7zM379.4 382.7h0.7v0.7h-0.7zM382.6 382.0h0.7v0.7h-0.7zM404.1 419.1h0.7v0.7h-0.7zM406.2 365.8h0.7v0.7h-0.7zM395.7 374.3h0.7v0.7h-0.7zM417.6 377.0h0.7v0.7h-0.7zM403.0 374.5h0.7v0.7h-0.7zM413.3 420.3h0.7v0.7h-0.7zM413.2 405.0h0.7v0.7h-0.7zM380.8 418.6h0.7v0.7h-0.7zM386.2 371.4h0.7v0.7h-0.7zM424.6 392.3h0.7v0.7h-0.7zM405.8 391.1h0.7v0.7h-0.7zM383.7 390.2h0.7v0.7h-0.7zM376.0 404.1h0.7v0.7h-0.7zM403.7 358.7h0.7v0.7h-0.7zM418.7 405.7h0.7v0.7h-0.7zM413.2 423.9h0.7v0.7h-0.7zM373.8 375.0h0.7v0.7h-0.7zM413.7 373.6h0.7v0.7h-0.7zM368.2 413.2h0.7v0.7h-0.7zM423.3 360.2h0.7v0.7h-0.7zM422.4 384.0h0.7v0.7h-0.7zM400.1 421.2h0.7v0.7h-0.7zM417.8 389.2h0.7v0.7h-0.7zM423.1 405.7h0.7v0.7h-0.7zM383.6 398.1h0.7v0.7h-0.7zM422.6 419.5h0.7v0.7h-0.7zM386.6 361.3h0.7v0.7h-0.7zM391.1 406.8h0.7v0.7h-0.7zM400.4 393.4h0.7v0.7h-0.7z" fill="#f08a30" opacity="0.7"/><path d="M387.9 423.4h0.7v0.7h-0.7zM405.0 366.1h0.7v0.7h-0.7zM421.8 414.0h0.7v0.7h-0.7zM418.0 380.3h0.7v0.7h-0.7zM376.5 390.2h0.7v0.7h-0.7zM403.2 414.5h0.7v0.7h-0.7zM416.9 359.0h0.7v0.7h-0.7zM426.4 389.8h0.7v0.7h-0.7zM408.9 361.5h0.7v0.7h-0.7zM433.9 392.2h0.7v0.7h-0.7zM384.0 427.4h0.7v0.7h-0.7zM399.2 363.4h0.7v0.7h-0.7zM419.6 350.6h0.7v0.7h-0.7zM388.5 423.1h0.7v0.7h-0.7zM416.1 402.1h0.7v0.7h-0.7zM420.0 386.0h0.7v0.7h-0.7zM416.5 399.1h0.7v0.7h-0.7zM379.0 404.3h0.7v0.7h-0.7zM435.5 400.6h0.7v0.7h-0.7zM375.6 394.5h0.7v0.7h-0.7zM369.4 394.8h0.7v0.7h-0.7zM389.9 418.2h0.7v0.7h-0.7zM426.1 371.8h0.7v0.7h-0.7zM386.5 401.0h0.7v0.7h-0.7zM366.8 386.4h0.7v0.7h-0.7zM362.7 399.0h0.7v0.7h-0.7zM394.1 358.4h0.7v0.7h-0.7zM402.1 411.3h0.7v0.7h-0.7zM396.2 407.5h0.7v0.7h-0.7zM399.7 360.6h0.7v0.7h-0.7zM425.3 387.1h0.7v0.7h-0.7zM382.9 395.0h0.7v0.7h-0.7zM395.2 411.1h0.7v0.7h-0.7zM374.0 382.5h0.7v0.7h-0.7zM431.8 389.4h0.7v0.7h-0.7zM380.8 372.8h0.7v0.7h-0.7zM378.2 400.4h0.7v0.7h-0.7zM438.9 412.9h0.7v0.7h-0.7zM382.8 394.8h0.7v0.7h-0.7zM384.9 424.1h0.7v0.7h-0.7zM379.6 406.5h0.7v0.7h-0.7zM406.4 395.8h0.7v0.7h-0.7zM401.1 390.6h0.7v0.7h-0.7zM400.9 369.4h0.7v0.7h-0.7zM414.7 396.5h0.7v0.7h-0.7z" fill="#88bce6" opacity="0.7"/><path d="M391.7 352.6h0.7v0.7h-0.7zM431.5 382.6h0.7v0.7h-0.7zM384.2 417.7h0.7v0.7h-0.7zM412.4 414.6h0.7v0.7h-0.7zM425.7 382.9h0.7v0.7h-0.7zM373.1 391.2h0.7v0.7h-0.7zM399.0 421.1h0.7v0.7h-0.7zM393.4 415.9h0.7v0.7h-0.7zM421.0 388.4h0.7v0.7h-0.7zM407.9 420.8h0.7v0.7h-0.7zM414.3 397.4h0.7v0.7h-0.7zM404.8 426.4h0.7v0.7h-0.7zM409.9 358.0h0.7v0.7h-0.7zM410.7 369.6h0.7v0.7h-0.7zM413.4 386.2h0.7v0.7h-0.7zM385.3 406.7h0.7v0.7h-0.7zM380.1 387.1h0.7v0.7h-0.7zM393.6 426.1h0.7v0.7h-0.7zM426.5 384.2h0.7v0.7h-0.7zM379.6 397.8h0.7v0.7h-0.7zM408.5 423.5h0.7v0.7h-0.7zM391.0 360.3h0.7v0.7h-0.7zM397.1 378.2h0.7v0.7h-0.7zM404.6 386.4h0.7v0.7h-0.7zM372.3 390.7h0.7v0.7h-0.7zM407.4 359.8h0.7v0.7h-0.7zM410.7 400.6h0.7v0.7h-0.7zM387.0 359.4h0.7v0.7h-0.7zM380.9 419.1h0.7v0.7h-0.7zM413.5 344.2h0.7v0.7h-0.7zM374.1 410.8h0.7v0.7h-0.7zM408.9 420.5h0.7v0.7h-0.7zM398.9 382.6h0.7v0.7h-0.7zM409.7 387.0h0.7v0.7h-0.7zM391.2 380.5h0.7v0.7h-0.7zM409.6 358.1h0.7v0.7h-0.7zM366.6 415.1h0.7v0.7h-0.7zM404.4 416.5h0.7v0.7h-0.7zM411.1 404.5h0.7v0.7h-0.7zM372.8 388.5h0.7v0.7h-0.7zM382.5 367.4h0.7v0.7h-0.7zM398.2 419.8h0.7v0.7h-0.7zM369.4 391.4h0.7v0.7h-0.7zM371.4 417.0h0.7v0.7h-0.7zM416.5 407.3h0.7v0.7h-0.7z" fill="#7055b8" opacity="0.7"/><path d="M435.1 413.9h0.7v0.7h-0.7zM391.3 392.1h0.7v0.7h-0.7zM368.2 387.2h0.7v0.7h-0.7zM436.8 389.0h0.7v0.7h-0.7zM397.6 389.0h0.7v0.7h-0.7zM422.7 392.6h0.7v0.7h-0.7zM410.2 393.0h0.7v0.7h-0.7zM396.5 403.9h0.7v0.7h-0.7zM399.6 409.5h0.7v0.7h-0.7zM405.7 389.5h0.7v0.7h-0.7zM405.4 422.1h0.7v0.7h-0.7zM387.3 406.0h0.7v0.7h-0.7zM406.8 375.1h0.7v0.7h-0.7zM396.1 395.8h0.7v0.7h-0.7zM390.3 389.1h0.7v0.7h-0.7zM421.5 434.8h0.7v0.7h-0.7zM406.1 399.1h0.7v0.7h-0.7zM417.5 378.9h0.7v0.7h-0.7zM390.8 410.2h0.7v0.7h-0.7zM375.3 398.0h0.7v0.7h-0.7zM400.1 405.3h0.7v0.7h-0.7zM422.9 392.6h0.7v0.7h-0.7zM415.8 369.8h0.7v0.7h-0.7zM407.0 410.2h0.7v0.7h-0.7zM418.8 417.1h0.7v0.7h-0.7zM391.7 374.6h0.7v0.7h-0.7zM398.0 374.7h0.7v0.7h-0.7zM404.9 372.5h0.7v0.7h-0.7zM402.7 363.4h0.7v0.7h-0.7zM391.5 390.1h0.7v0.7h-0.7zM381.8 368.1h0.7v0.7h-0.7zM381.5 369.5h0.7v0.7h-0.7zM433.6 387.5h0.7v0.7h-0.7zM427.5 402.2h0.7v0.7h-0.7zM406.4 421.3h0.7v0.7h-0.7zM421.5 400.5h0.7v0.7h-0.7zM390.8 411.6h0.7v0.7h-0.7zM371.5 401.7h0.7v0.7h-0.7zM421.2 411.4h0.7v0.7h-0.7zM392.5 408.9h0.7v0.7h-0.7zM391.4 388.0h0.7v0.7h-0.7zM407.9 388.7h0.7v0.7h-0.7zM402.1 357.5h0.7v0.7h-0.7zM387.2 376.1h0.7v0.7h-0.7zM402.8 427.4h0.7v0.7h-0.7z" fill="#8c6272" opacity="0.7"/><path d="M373.8 400.1h0.7v0.7h-0.7zM400.8 371.7h0.7v0.7h-0.7zM426.0 401.7h0.7v0.7h-0.7zM423.1 412.6h0.7v0.7h-0.7zM405.9 413.1h0.7v0.7h-0.7zM405.8 424.8h0.7v0.7h-0.7zM386.7 428.7h0.7v0.7h-0.7zM389.9 382.4h0.7v0.7h-0.7zM432.8 390.9h0.7v0.7h-0.7zM408.1 421.2h0.7v0.7h-0.7zM407.5 365.1h0.7v0.7h-0.7zM411.0 421.0h0.7v0.7h-0.7zM425.8 401.9h0.7v0.7h-0.7zM419.4 381.0h0.7v0.7h-0.7zM425.6 366.8h0.7v0.7h-0.7zM392.5 424.0h0.7v0.7h-0.7zM407.1 386.7h0.7v0.7h-0.7zM398.9 406.3h0.7v0.7h-0.7zM405.3 419.5h0.7v0.7h-0.7zM378.0 390.1h0.7v0.7h-0.7zM381.9 383.1h0.7v0.7h-0.7zM393.5 402.5h0.7v0.7h-0.7zM405.2 418.3h0.7v0.7h-0.7zM389.9 403.1h0.7v0.7h-0.7zM401.5 377.2h0.7v0.7h-0.7zM396.7 421.2h0.7v0.7h-0.7zM383.1 395.5h0.7v0.7h-0.7zM388.4 360.7h0.7v0.7h-0.7zM406.5 361.7h0.7v0.7h-0.7zM396.0 388.8h0.7v0.7h-0.7zM413.9 395.9h0.7v0.7h-0.7zM407.0 380.9h0.7v0.7h-0.7zM380.4 388.0h0.7v0.7h-0.7zM399.6 417.8h0.7v0.7h-0.7zM386.6 396.4h0.7v0.7h-0.7zM401.3 375.9h0.7v0.7h-0.7zM421.0 380.9h0.7v0.7h-0.7zM401.4 354.5h0.7v0.7h-0.7zM423.4 373.4h0.7v0.7h-0.7zM383.9 410.4h0.7v0.7h-0.7zM382.0 413.6h0.7v0.7h-0.7zM409.8 361.3h0.7v0.7h-0.7zM394.1 426.3h0.7v0.7h-0.7zM383.6 396.8h0.7v0.7h-0.7zM408.2 409.6h0.7v0.7h-0.7z" fill="#30a030" opacity="0.7"/><path d="M394.2 390.3h0.7v0.7h-0.7zM419.6 368.0h0.7v0.7h-0.7zM372.7 393.3h0.7v0.7h-0.7zM405.1 390.7h0.7v0.7h-0.7zM368.5 375.9h0.7v0.7h-0.7zM424.2 375.1h0.7v0.7h-0.7zM426.8 428.3h0.7v0.7h-0.7zM415.1 378.0h0.7v0.7h-0.7zM394.4 395.8h0.7v0.7h-0.7zM394.9 364.5h0.7v0.7h-0.7zM395.9 407.6h0.7v0.7h-0.7zM373.9 394.2h0.7v0.7h-0.7zM381.3 407.5h0.7v0.7h-0.7zM367.1 395.5h0.7v0.7h-0.7zM423.8 373.1h0.7v0.7h-0.7zM411.6 409.5h0.7v0.7h-0.7zM424.7 422.2h0.7v0.7h-0.7zM404.4 405.2h0.7v0.7h-0.7zM406.3 356.2h0.7v0.7h-0.7zM402.9 342.9h0.7v0.7h-0.7zM440.6 387.5h0.7v0.7h-0.7zM412.2 409.8h0.7v0.7h-0.7zM372.7 384.3h0.7v0.7h-0.7zM407.3 350.5h0.7v0.7h-0.7zM362.4 398.8h0.7v0.7h-0.7zM409.1 411.5h0.7v0.7h-0.7zM384.8 360.4h0.7v0.7h-0.7zM399.6 386.5h0.7v0.7h-0.7zM399.1 400.0h0.7v0.7h-0.7zM389.7 370.5h0.7v0.7h-0.7zM409.9 369.8h0.7v0.7h-0.7zM424.1 405.9h0.7v0.7h-0.7zM366.9 391.4h0.7v0.7h-0.7zM402.7 418.6h0.7v0.7h-0.7zM414.8 362.4h0.7v0.7h-0.7zM405.2 359.4h0.7v0.7h-0.7zM420.7 408.7h0.7v0.7h-0.7zM404.3 414.2h0.7v0.7h-0.7zM383.5 424.7h0.7v0.7h-0.7zM418.3 411.7h0.7v0.7h-0.7zM370.5 407.1h0.7v0.7h-0.7zM418.7 412.1h0.7v0.7h-0.7zM410.5 375.4h0.7v0.7h-0.7zM432.7 382.7h0.7v0.7h-0.7zM415.6 421.3h0.7v0.7h-0.7z" fill="#d4aeb0" opacity="0.7"/><path d="M369.8 387.9h0.7v0.7h-0.7zM375.7 395.4h0.7v0.7h-0.7zM402.6 379.1h0.7v0.7h-0.7zM404.3 390.1h0.7v0.7h-0.7zM391.0 363.9h0.7v0.7h-0.7zM401.3 354.0h0.7v0.7h-0.7zM405.2 419.5h0.7v0.7h-0.7zM423.0 380.6h0.7v0.7h-0.7zM397.5 403.5h0.7v0.7h-0.7zM410.8 366.1h0.7v0.7h-0.7zM395.8 403.2h0.7v0.7h-0.7zM415.3 370.5h0.7v0.7h-0.7zM381.5 400.9h0.7v0.7h-0.7zM396.6 371.7h0.7v0.7h-0.7zM377.6 389.7h0.7v0.7h-0.7zM396.2 401.7h0.7v0.7h-0.7zM431.5 387.8h0.7v0.7h-0.7zM412.5 404.9h0.7v0.7h-0.7zM391.3 410.2h0.7v0.7h-0.7zM392.2 412.9h0.7v0.7h-0.7zM399.1 400.6h0.7v0.7h-0.7zM404.5 356.6h0.7v0.7h-0.7zM406.1 381.4h0.7v0.7h-0.7zM397.4 363.4h0.7v0.7h-0.7zM380.3 397.6h0.7v0.7h-0.7zM372.8 397.1h0.7v0.7h-0.7zM382.5 383.9h0.7v0.7h-0.7zM419.3 427.6h0.7v0.7h-0.7zM416.2 397.1h0.7v0.7h-0.7zM401.3 366.6h0.7v0.7h-0.7zM431.2 377.0h0.7v0.7h-0.7zM379.5 421.9h0.7v0.7h-0.7zM398.7 354.7h0.7v0.7h-0.7zM408.3 368.5h0.7v0.7h-0.7zM398.4 428.2h0.7v0.7h-0.7zM419.7 365.4h0.7v0.7h-0.7zM388.0 410.2h0.7v0.7h-0.7zM431.4 376.0h0.7v0.7h-0.7zM373.2 411.5h0.7v0.7h-0.7zM432.9 375.0h0.7v0.7h-0.7zM399.5 380.0h0.7v0.7h-0.7zM398.5 393.1h0.7v0.7h-0.7zM376.5 410.1h0.7v0.7h-0.7zM385.6 355.8h0.7v0.7h-0.7zM390.7 413.6h0.7v0.7h-0.7z" fill="#4a90e0" opacity="0.7"/></g>
<path d="M349.4,339.5 V448.2 H458.2 V339.5 Z" fill="none" stroke="#9a9a9a" stroke-width="0.9"/>
<line x1="347.60" y1="363.60" x2="349.40" y2="363.60" stroke="#9a9a9a" stroke-width="0.8"/>
<text transform="translate(345.60,366.30) scale(1,1.07)" x="0" y="0" font-size="7.5" text-anchor="end" fill="#2b2b2b" stroke="#2b2b2b" stroke-width="0.1" >25</text>
<line x1="347.60" y1="391.70" x2="349.40" y2="391.70" stroke="#9a9a9a" stroke-width="0.8"/>
<text transform="translate(345.60,394.40) scale(1,1.07)" x="0" y="0" font-size="7.5" text-anchor="end" fill="#2b2b2b" stroke="#2b2b2b" stroke-width="0.1" >0</text>
<line x1="347.60" y1="420.00" x2="349.40" y2="420.00" stroke="#9a9a9a" stroke-width="0.8"/>
<text transform="translate(345.60,422.70) scale(1,1.07)" x="0" y="0" font-size="7.5" text-anchor="end" fill="#2b2b2b" stroke="#2b2b2b" stroke-width="0.1" ><tspan font-size="9.4">−</tspan>25</text>
<line x1="347.60" y1="448.20" x2="349.40" y2="448.20" stroke="#9a9a9a" stroke-width="0.8"/>
<text transform="translate(345.60,450.90) scale(1,1.07)" x="0" y="0" font-size="7.5" text-anchor="end" fill="#2b2b2b" stroke="#2b2b2b" stroke-width="0.1" ><tspan font-size="9.4">−</tspan>50</text>
<line x1="374.60" y1="448.20" x2="374.60" y2="450.00" stroke="#9a9a9a" stroke-width="0.8"/>
<text transform="translate(374.60,458.00) scale(1,1.07)" x="0" y="0" font-size="7.5" text-anchor="middle" fill="#2b2b2b" stroke="#2b2b2b" stroke-width="0.1" ><tspan font-size="9.4">−</tspan>25</text>
<line x1="401.50" y1="448.20" x2="401.50" y2="450.00" stroke="#9a9a9a" stroke-width="0.8"/>
<text transform="translate(401.50,458.00) scale(1,1.07)" x="0" y="0" font-size="7.5" text-anchor="middle" fill="#2b2b2b" stroke="#2b2b2b" stroke-width="0.1" >0</text>
<line x1="428.10" y1="448.20" x2="428.10" y2="450.00" stroke="#9a9a9a" stroke-width="0.8"/>
<text transform="translate(428.10,458.00) scale(1,1.07)" x="0" y="0" font-size="7.5" text-anchor="middle" fill="#2b2b2b" stroke="#2b2b2b" stroke-width="0.1" >25</text>
<line x1="454.70" y1="448.20" x2="454.70" y2="450.00" stroke="#9a9a9a" stroke-width="0.8"/>
<text transform="translate(454.70,458.00) scale(1,1.07)" x="0" y="0" font-size="7.5" text-anchor="middle" fill="#2b2b2b" stroke="#2b2b2b" stroke-width="0.1" >50</text>
<text transform="translate(465.00,344.50) scale(1,1.07)" x="0" y="0" font-size="6.9" text-anchor="start" fill="#2b2b2b" stroke="#2b2b2b" stroke-width="0.1" >Clustering</text>
<circle cx="467.8" cy="349.70" r="1.45" fill="#b2182b" stroke="#888" stroke-width="0.3"/><text x="471.40" y="351.40" font-size="4.9" fill="#444">1</text><circle cx="467.8" cy="354.72" r="1.45" fill="#e07070" stroke="#888" stroke-width="0.3"/><text x="471.40" y="356.42" font-size="4.9" fill="#444">2</text><circle cx="467.8" cy="359.74" r="1.45" fill="#1f4e9a" stroke="#888" stroke-width="0.3"/><text x="471.40" y="361.44" font-size="4.9" fill="#444">3</text><circle cx="467.8" cy="364.76" r="1.45" fill="#5a94c8" stroke="#888" stroke-width="0.3"/><text x="471.40" y="366.46" font-size="4.9" fill="#444">4</text><circle cx="467.8" cy="369.78" r="1.45" fill="#6a1a6a" stroke="#888" stroke-width="0.3"/><text x="471.40" y="371.48" font-size="4.9" fill="#444">5</text><circle cx="467.8" cy="374.80" r="1.45" fill="#4a7a2a" stroke="#888" stroke-width="0.3"/><text x="471.40" y="376.50" font-size="4.9" fill="#444">6</text><circle cx="467.8" cy="379.82" r="1.45" fill="#a862a6" stroke="#888" stroke-width="0.3"/><text x="471.40" y="381.52" font-size="4.9" fill="#444">7</text><circle cx="467.8" cy="384.84" r="1.45" fill="#d86a20" stroke="#888" stroke-width="0.3"/><text x="471.40" y="386.54" font-size="4.9" fill="#444">8</text><circle cx="467.8" cy="389.86" r="1.45" fill="#e8944a" stroke="#888" stroke-width="0.3"/><text x="471.40" y="391.56" font-size="4.9" fill="#444">9</text><circle cx="467.8" cy="394.88" r="1.45" fill="#d01a7a" stroke="#888" stroke-width="0.3"/><text x="471.40" y="396.58" font-size="4.9" fill="#444">10</text><circle cx="467.8" cy="399.90" r="1.45" fill="#d878b0" stroke="#888" stroke-width="0.3"/><text x="471.40" y="401.60" font-size="4.9" fill="#444">11</text><circle cx="467.8" cy="404.92" r="1.45" fill="#2a1a7a" stroke="#888" stroke-width="0.3"/><text x="471.40" y="406.62" font-size="4.9" fill="#444">12</text><circle cx="467.8" cy="409.94" r="1.45" fill="#2a8a3a" stroke="#888" stroke-width="0.3"/><text x="471.40" y="411.64" font-size="4.9" fill="#444">13</text><circle cx="467.8" cy="414.96" r="1.45" fill="#8ab860" stroke="#888" stroke-width="0.3"/><text x="471.40" y="416.66" font-size="4.9" fill="#444">14</text><circle cx="467.8" cy="419.98" r="1.45" fill="#3a8a9a" stroke="#888" stroke-width="0.3"/><text x="471.40" y="421.68" font-size="4.9" fill="#444">15</text><circle cx="467.8" cy="425.00" r="1.45" fill="#70c4b4" stroke="#888" stroke-width="0.3"/><text x="471.40" y="426.70" font-size="4.9" fill="#444">16</text><circle cx="467.8" cy="430.02" r="1.45" fill="#8a5a1a" stroke="#888" stroke-width="0.3"/><text x="471.40" y="431.72" font-size="4.9" fill="#444">17</text><circle cx="467.8" cy="435.04" r="1.45" fill="#6a3a5a" stroke="#888" stroke-width="0.3"/><text x="471.40" y="436.74" font-size="4.9" fill="#444">18</text><circle cx="467.8" cy="440.06" r="1.45" fill="#c8a8d8" stroke="#888" stroke-width="0.3"/><text x="471.40" y="441.76" font-size="4.9" fill="#444">19</text><circle cx="467.8" cy="445.08" r="1.45" fill="#e8a020" stroke="#888" stroke-width="0.3"/><text x="471.40" y="446.78" font-size="4.9" fill="#444">20</text><circle cx="480.6" cy="349.70" r="1.45" fill="#6a6ab8" stroke="#888" stroke-width="0.3"/><text x="484.20" y="351.40" font-size="4.9" fill="#444">21</text><circle cx="480.6" cy="354.72" r="1.45" fill="#b8a8d8" stroke="#888" stroke-width="0.3"/><text x="484.20" y="356.42" font-size="4.9" fill="#444">22</text><circle cx="480.6" cy="359.74" r="1.45" fill="#404040" stroke="#888" stroke-width="0.3"/><text x="484.20" y="361.44" font-size="4.9" fill="#444">23</text><circle cx="480.6" cy="364.76" r="1.45" fill="#707070" stroke="#888" stroke-width="0.3"/><text x="484.20" y="366.46" font-size="4.9" fill="#444">24</text><circle cx="480.6" cy="369.78" r="1.45" fill="#c81010" stroke="#888" stroke-width="0.3"/><text x="484.20" y="371.48" font-size="4.9" fill="#444">25</text><circle cx="480.6" cy="374.80" r="1.45" fill="#b8a840" stroke="#888" stroke-width="0.3"/><text x="484.20" y="376.50" font-size="4.9" fill="#444">26</text><circle cx="480.6" cy="379.82" r="1.45" fill="#b07070" stroke="#888" stroke-width="0.3"/><text x="484.20" y="381.52" font-size="4.9" fill="#444">27</text><circle cx="480.6" cy="384.84" r="1.45" fill="#d8a8a8" stroke="#888" stroke-width="0.3"/><text x="484.20" y="386.54" font-size="4.9" fill="#444">28</text><circle cx="480.6" cy="389.86" r="1.45" fill="#4a1a8a" stroke="#888" stroke-width="0.3"/><text x="484.20" y="391.56" font-size="4.9" fill="#444">29</text><circle cx="480.6" cy="394.88" r="1.45" fill="#8a4ab0" stroke="#888" stroke-width="0.3"/><text x="484.20" y="396.58" font-size="4.9" fill="#444">30</text><circle cx="480.6" cy="399.90" r="1.45" fill="#5a5a1a" stroke="#888" stroke-width="0.3"/><text x="484.20" y="401.60" font-size="4.9" fill="#444">31</text><circle cx="480.6" cy="404.92" r="1.45" fill="#6aa8d8" stroke="#888" stroke-width="0.3"/><text x="484.20" y="406.62" font-size="4.9" fill="#444">32</text><circle cx="480.6" cy="409.94" r="1.45" fill="#ffffff" stroke="#888" stroke-width="0.3"/><text x="484.20" y="411.64" font-size="4.9" fill="#444">33</text><circle cx="480.6" cy="414.96" r="1.45" fill="#9a9a3a" stroke="#888" stroke-width="0.3"/><text x="484.20" y="416.66" font-size="4.9" fill="#444">34</text><circle cx="480.6" cy="419.98" r="1.45" fill="#2a6ab0" stroke="#888" stroke-width="0.3"/><text x="484.20" y="421.68" font-size="4.9" fill="#444">35</text><circle cx="480.6" cy="425.00" r="1.45" fill="#3ab0d8" stroke="#888" stroke-width="0.3"/><text x="484.20" y="426.70" font-size="4.9" fill="#444">36</text><circle cx="480.6" cy="430.02" r="1.45" fill="#6ab030" stroke="#888" stroke-width="0.3"/><text x="484.20" y="431.72" font-size="4.9" fill="#444">37</text><circle cx="480.6" cy="435.04" r="1.45" fill="#e8e010" stroke="#888" stroke-width="0.3"/><text x="484.20" y="436.74" font-size="4.9" fill="#444">38</text><circle cx="480.6" cy="440.06" r="1.45" fill="#5ac0e0" stroke="#888" stroke-width="0.3"/><text x="484.20" y="441.76" font-size="4.9" fill="#444">39</text><circle cx="480.6" cy="445.08" r="1.45" fill="#c87010" stroke="#888" stroke-width="0.3"/><text x="484.20" y="446.78" font-size="4.9" fill="#444">40</text>
<text transform="translate(11.80,492.80) scale(1,1.07)" x="0" y="0" font-size="11.5" text-anchor="start" fill="#111" stroke="#111" stroke-width="0.1" font-weight="bold" >D</text>
<text transform="translate(63.40,498.40) scale(1,1.07)" x="0" y="0" font-size="8.7" text-anchor="middle" fill="#2b2b2b" stroke="#2b2b2b" stroke-width="0.1" >Diagnosis</text>
<text transform="translate(133.90,498.40) scale(1,1.07)" x="0" y="0" font-size="8.7" text-anchor="middle" fill="#2b2b2b" stroke="#2b2b2b" stroke-width="0.1" >Relapse</text>
<text transform="translate(204.10,498.40) scale(1,1.07)" x="0" y="0" font-size="8.7" text-anchor="middle" fill="#2b2b2b" stroke="#2b2b2b" stroke-width="0.1" >Healthy</text>
<g clip-path="url(#cd0)"><path d="M64.7 524.1h0.7v0.7h-0.7zM62.5 511.2h0.7v0.7h-0.7zM62.0 528.2h0.7v0.7h-0.7zM69.8 519.1h0.7v0.7h-0.7zM66.0 501.3h0.7v0.7h-0.7zM58.7 513.7h0.7v0.7h-0.7zM60.6 512.9h0.7v0.7h-0.7zM69.2 508.1h0.7v0.7h-0.7zM71.0 508.2h0.7v0.7h-0.7zM67.2 511.0h0.7v0.7h-0.7zM76.6 510.2h0.7v0.7h-0.7zM57.2 508.4h0.7v0.7h-0.7zM57.0 517.5h0.7v0.7h-0.7zM54.2 508.0h0.7v0.7h-0.7zM63.9 510.7h0.7v0.7h-0.7zM66.1 507.4h0.7v0.7h-0.7zM64.6 510.0h0.7v0.7h-0.7zM70.3 526.6h0.7v0.7h-0.7zM63.7 513.7h0.7v0.7h-0.7zM70.5 518.6h0.7v0.7h-0.7zM55.0 514.8h0.7v0.7h-0.7zM69.6 511.1h0.7v0.7h-0.7zM64.9 511.5h0.7v0.7h-0.7zM66.0 512.4h0.7v0.7h-0.7zM64.8 509.3h0.7v0.7h-0.7zM67.8 510.9h0.7v0.7h-0.7zM74.7 513.3h0.7v0.7h-0.7zM68.9 501.3h0.7v0.7h-0.7zM61.5 515.4h0.7v0.7h-0.7zM64.5 508.7h0.7v0.7h-0.7zM71.9 516.4h0.7v0.7h-0.7zM59.1 505.2h0.7v0.7h-0.7zM71.3 514.1h0.7v0.7h-0.7zM63.6 519.4h0.7v0.7h-0.7zM66.6 521.8h0.7v0.7h-0.7zM73.4 512.3h0.7v0.7h-0.7zM74.1 508.2h0.7v0.7h-0.7zM66.5 517.3h0.7v0.7h-0.7zM62.0 517.0h0.7v0.7h-0.7zM68.5 517.3h0.7v0.7h-0.7zM72.2 505.3h0.7v0.7h-0.7zM74.0 514.2h0.7v0.7h-0.7zM68.5 513.7h0.7v0.7h-0.7zM63.9 507.4h0.7v0.7h-0.7zM64.4 509.4h0.7v0.7h-0.7zM65.9 514.6h0.7v0.7h-0.7zM67.3 509.3h0.7v0.7h-0.7zM56.9 506.6h0.7v0.7h-0.7zM71.5 515.4h0.7v0.7h-0.7zM57.6 523.0h0.7v0.7h-0.7zM62.5 516.3h0.7v0.7h-0.7zM54.6 513.1h0.7v0.7h-0.7zM72.5 507.9h0.7v0.7h-0.7zM63.1 517.2h0.7v0.7h-0.7zM71.0 508.9h0.7v0.7h-0.7zM74.1 503.2h0.7v0.7h-0.7zM68.1 519.0h0.7v0.7h-0.7zM58.7 513.0h0.7v0.7h-0.7zM58.6 517.4h0.7v0.7h-0.7zM54.7 519.0h0.7v0.7h-0.7zM70.0 520.0h0.7v0.7h-0.7zM76.1 514.5h0.7v0.7h-0.7zM75.2 512.0h0.7v0.7h-0.7zM59.8 514.0h0.7v0.7h-0.7zM66.9 515.2h0.7v0.7h-0.7zM78.9 511.8h0.7v0.7h-0.7zM58.8 512.3h0.7v0.7h-0.7zM60.5 518.0h0.7v0.7h-0.7zM66.1 518.5h0.7v0.7h-0.7zM61.6 523.3h0.7v0.7h-0.7zM69.2 514.9h0.7v0.7h-0.7zM66.3 509.4h0.7v0.7h-0.7zM63.2 512.5h0.7v0.7h-0.7zM65.9 511.4h0.7v0.7h-0.7zM58.1 517.5h0.7v0.7h-0.7zM69.2 519.3h0.7v0.7h-0.7zM65.9 516.6h0.7v0.7h-0.7zM67.2 513.5h0.7v0.7h-0.7zM73.0 509.6h0.7v0.7h-0.7zM64.3 512.1h0.7v0.7h-0.7zM64.5 515.5h0.7v0.7h-0.7zM73.3 503.9h0.7v0.7h-0.7zM58.6 507.1h0.7v0.7h-0.7zM71.1 512.8h0.7v0.7h-0.7zM58.6 522.1h0.7v0.7h-0.7zM63.3 512.0h0.7v0.7h-0.7zM74.0 506.6h0.7v0.7h-0.7zM62.8 513.7h0.7v0.7h-0.7zM54.2 517.1h0.7v0.7h-0.7zM60.0 519.3h0.7v0.7h-0.7zM60.5 520.5h0.7v0.7h-0.7zM54.2 514.5h0.7v0.7h-0.7zM59.5 522.9h0.7v0.7h-0.7zM59.4 518.2h0.7v0.7h-0.7zM58.4 516.3h0.7v0.7h-0.7zM61.7 514.1h0.7v0.7h-0.7zM75.5 509.1h0.7v0.7h-0.7zM60.0 506.9h0.7v0.7h-0.7zM58.4 517.7h0.7v0.7h-0.7zM68.7 515.0h0.7v0.7h-0.7zM65.2 515.6h0.7v0.7h-0.7zM58.4 521.1h0.7v0.7h-0.7zM76.4 513.5h0.7v0.7h-0.7zM65.5 508.4h0.7v0.7h-0.7zM74.1 514.4h0.7v0.7h-0.7zM58.4 520.4h0.7v0.7h-0.7zM71.5 522.0h0.7v0.7h-0.7zM59.7 518.6h0.7v0.7h-0.7zM68.6 521.5h0.7v0.7h-0.7zM69.0 512.9h0.7v0.7h-0.7zM69.8 509.7h0.7v0.7h-0.7zM69.7 514.1h0.7v0.7h-0.7zM68.0 504.8h0.7v0.7h-0.7zM75.8 518.6h0.7v0.7h-0.7zM61.7 510.6h0.7v0.7h-0.7zM64.4 520.4h0.7v0.7h-0.7zM76.6 514.5h0.7v0.7h-0.7zM56.8 516.9h0.7v0.7h-0.7zM61.6 507.6h0.7v0.7h-0.7zM55.8 523.3h0.7v0.7h-0.7zM54.8 513.6h0.7v0.7h-0.7zM58.6 514.1h0.7v0.7h-0.7zM75.3 517.5h0.7v0.7h-0.7zM73.0 521.6h0.7v0.7h-0.7zM63.5 509.8h0.7v0.7h-0.7zM62.6 514.1h0.7v0.7h-0.7zM62.7 521.9h0.7v0.7h-0.7zM56.9 507.7h0.7v0.7h-0.7zM60.6 510.5h0.7v0.7h-0.7zM63.6 517.6h0.7v0.7h-0.7zM55.0 516.2h0.7v0.7h-0.7zM53.9 516.1h0.7v0.7h-0.7zM69.2 520.1h0.7v0.7h-0.7zM65.7 506.5h0.7v0.7h-0.7zM69.0 520.3h0.7v0.7h-0.7zM63.2 518.4h0.7v0.7h-0.7zM57.7 515.0h0.7v0.7h-0.7zM66.3 520.3h0.7v0.7h-0.7zM64.9 504.5h0.7v0.7h-0.7zM52.3 513.6h0.7v0.7h-0.7zM58.3 509.3h0.7v0.7h-0.7zM66.1 502.5h0.7v0.7h-0.7zM70.9 514.6h0.7v0.7h-0.7zM56.5 515.3h0.7v0.7h-0.7zM68.7 524.3h0.7v0.7h-0.7zM67.4 509.8h0.7v0.7h-0.7zM66.0 522.0h0.7v0.7h-0.7zM74.2 517.9h0.7v0.7h-0.7zM76.3 514.7h0.7v0.7h-0.7zM71.4 514.3h0.7v0.7h-0.7zM65.0 503.8h0.7v0.7h-0.7zM59.5 514.6h0.7v0.7h-0.7zM67.3 516.0h0.7v0.7h-0.7zM57.8 525.4h0.7v0.7h-0.7zM73.6 514.9h0.7v0.7h-0.7zM62.3 522.6h0.7v0.7h-0.7zM60.2 510.8h0.7v0.7h-0.7zM69.0 510.2h0.7v0.7h-0.7zM78.4 521.1h0.7v0.7h-0.7zM63.0 511.5h0.7v0.7h-0.7zM70.2 509.2h0.7v0.7h-0.7zM65.2 514.7h0.7v0.7h-0.7zM77.9 509.5h0.7v0.7h-0.7zM71.7 507.0h0.7v0.7h-0.7zM50.3 512.3h0.7v0.7h-0.7zM71.8 522.5h0.7v0.7h-0.7zM57.7 510.4h0.7v0.7h-0.7zM58.1 514.6h0.7v0.7h-0.7zM67.5 523.6h0.7v0.7h-0.7zM61.8 505.4h0.7v0.7h-0.7zM68.7 510.5h0.7v0.7h-0.7zM53.0 513.6h0.7v0.7h-0.7zM61.8 522.7h0.7v0.7h-0.7zM57.7 504.2h0.7v0.7h-0.7zM69.5 512.6h0.7v0.7h-0.7zM68.9 503.2h0.7v0.7h-0.7zM63.7 523.5h0.7v0.7h-0.7zM61.6 518.9h0.7v0.7h-0.7zM70.9 516.3h0.7v0.7h-0.7zM57.6 510.2h0.7v0.7h-0.7zM61.1 521.3h0.7v0.7h-0.7zM61.1 510.1h0.7v0.7h-0.7zM72.1 510.7h0.7v0.7h-0.7zM63.6 521.1h0.7v0.7h-0.7zM71.9 520.6h0.7v0.7h-0.7zM73.6 509.6h0.7v0.7h-0.7zM62.1 506.1h0.7v0.7h-0.7zM68.8 519.7h0.7v0.7h-0.7zM79.4 511.3h0.7v0.7h-0.7zM60.4 505.2h0.7v0.7h-0.7zM62.6 502.9h0.7v0.7h-0.7zM68.8 510.8h0.7v0.7h-0.7zM69.0 507.5h0.7v0.7h-0.7zM68.7 502.8h0.7v0.7h-0.7zM57.7 515.1h0.7v0.7h-0.7zM61.4 508.5h0.7v0.7h-0.7zM76.4 515.6h0.7v0.7h-0.7zM74.5 516.4h0.7v0.7h-0.7zM64.3 522.4h0.7v0.7h-0.7zM62.3 514.1h0.7v0.7h-0.7zM69.6 510.1h0.7v0.7h-0.7zM72.4 522.5h0.7v0.7h-0.7zM69.4 504.4h0.7v0.7h-0.7zM59.0 505.9h0.7v0.7h-0.7zM58.2 514.3h0.7v0.7h-0.7zM63.7 518.8h0.7v0.7h-0.7zM70.6 509.1h0.7v0.7h-0.7zM59.7 521.3h0.7v0.7h-0.7zM68.8 518.8h0.7v0.7h-0.7zM63.0 515.9h0.7v0.7h-0.7zM69.9 510.4h0.7v0.7h-0.7zM62.9 515.6h0.7v0.7h-0.7zM61.6 508.4h0.7v0.7h-0.7zM69.8 517.3h0.7v0.7h-0.7zM58.5 515.6h0.7v0.7h-0.7zM69.0 508.6h0.7v0.7h-0.7zM61.8 513.5h0.7v0.7h-0.7zM68.2 509.0h0.7v0.7h-0.7zM68.2 506.0h0.7v0.7h-0.7zM60.8 513.6h0.7v0.7h-0.7z" fill="#4db8d9" opacity="0.9"/><ellipse cx="44.50" cy="512.50" rx="3.40" ry="4.67" fill="#e8432e" opacity="0.55" transform="rotate(20 44.50 512.50)" filter="url(#b05)"/><path d="M46.6 508.3h0.8v0.8h-0.8zM48.0 510.8h0.8v0.8h-0.8zM43.7 516.6h0.8v0.8h-0.8zM41.7 517.9h0.8v0.8h-0.8zM41.8 514.9h0.8v0.8h-0.8zM46.5 514.7h0.8v0.8h-0.8zM41.5 515.1h0.8v0.8h-0.8zM45.9 512.4h0.8v0.8h-0.8zM45.5 509.1h0.8v0.8h-0.8zM41.4 514.6h0.8v0.8h-0.8zM40.9 511.5h0.8v0.8h-0.8zM46.1 509.1h0.8v0.8h-0.8zM47.9 515.0h0.8v0.8h-0.8zM41.4 511.2h0.8v0.8h-0.8zM47.9 513.1h0.8v0.8h-0.8zM44.0 516.3h0.8v0.8h-0.8zM43.5 510.3h0.8v0.8h-0.8zM44.6 508.5h0.8v0.8h-0.8zM48.1 507.9h0.8v0.8h-0.8zM41.4 512.7h0.8v0.8h-0.8zM43.4 517.9h0.8v0.8h-0.8zM42.5 513.7h0.8v0.8h-0.8zM43.4 511.9h0.8v0.8h-0.8zM45.7 512.2h0.8v0.8h-0.8zM42.2 515.0h0.8v0.8h-0.8zM44.6 515.5h0.8v0.8h-0.8zM46.4 514.5h0.8v0.8h-0.8zM43.9 508.7h0.8v0.8h-0.8zM42.1 515.4h0.8v0.8h-0.8zM46.6 510.5h0.8v0.8h-0.8zM42.2 511.2h0.8v0.8h-0.8zM46.0 513.7h0.8v0.8h-0.8zM47.7 512.1h0.8v0.8h-0.8zM44.9 509.5h0.8v0.8h-0.8zM41.5 510.6h0.8v0.8h-0.8z" fill="#e8432e" opacity="0.95"/><path d="M43.1 510.1h0.8v0.8h-0.8zM45.3 514.2h0.8v0.8h-0.8zM43.0 513.0h0.8v0.8h-0.8zM42.7 511.8h0.8v0.8h-0.8z" fill="#ffffff" opacity="0.8"/><ellipse cx="54.50" cy="521.00" rx="5.52" ry="9.35" fill="#4db8d9" opacity="0.85" transform="rotate(0 54.50 521.00)" filter="url(#b05)"/><ellipse cx="50.00" cy="515.50" rx="3.40" ry="4.25" fill="#4db8d9" opacity="0.85" transform="rotate(0 50.00 515.50)" filter="url(#b05)"/><ellipse cx="59.50" cy="527.00" rx="2.55" ry="3.40" fill="#4db8d9" opacity="0.85" transform="rotate(0 59.50 527.00)" filter="url(#b05)"/><path d="M57.3 511.7h0.8v0.8h-0.8zM50.0 526.2h0.8v0.8h-0.8zM52.3 520.5h0.8v0.8h-0.8zM53.8 524.1h0.8v0.8h-0.8zM47.1 520.3h0.8v0.8h-0.8zM51.4 522.4h0.8v0.8h-0.8zM55.7 520.7h0.8v0.8h-0.8zM55.4 525.3h0.8v0.8h-0.8zM58.2 526.9h0.8v0.8h-0.8zM57.8 515.9h0.8v0.8h-0.8zM54.5 523.6h0.8v0.8h-0.8zM53.1 527.5h0.8v0.8h-0.8zM55.9 518.6h0.8v0.8h-0.8zM53.4 525.3h0.8v0.8h-0.8zM50.5 518.2h0.8v0.8h-0.8zM54.1 513.6h0.8v0.8h-0.8zM51.1 521.6h0.8v0.8h-0.8zM49.9 518.8h0.8v0.8h-0.8zM48.9 521.2h0.8v0.8h-0.8zM51.2 527.7h0.8v0.8h-0.8zM56.1 511.8h0.8v0.8h-0.8zM58.1 517.6h0.8v0.8h-0.8zM50.4 527.8h0.8v0.8h-0.8zM55.0 515.0h0.8v0.8h-0.8zM59.2 523.8h0.8v0.8h-0.8zM56.0 517.4h0.8v0.8h-0.8zM51.2 516.4h0.8v0.8h-0.8zM47.2 528.1h0.8v0.8h-0.8zM56.2 526.4h0.8v0.8h-0.8zM54.0 530.2h0.8v0.8h-0.8zM58.9 525.6h0.8v0.8h-0.8zM57.6 520.2h0.8v0.8h-0.8zM56.3 516.5h0.8v0.8h-0.8zM57.3 529.4h0.8v0.8h-0.8zM54.8 530.5h0.8v0.8h-0.8zM51.7 528.3h0.8v0.8h-0.8zM58.3 519.9h0.8v0.8h-0.8zM54.3 526.9h0.8v0.8h-0.8zM59.7 516.9h0.8v0.8h-0.8zM52.3 526.3h0.8v0.8h-0.8zM53.5 525.0h0.8v0.8h-0.8zM54.1 529.1h0.8v0.8h-0.8zM51.9 512.0h0.8v0.8h-0.8zM53.6 520.6h0.8v0.8h-0.8zM57.3 514.9h0.8v0.8h-0.8zM52.2 511.5h0.8v0.8h-0.8zM58.7 516.9h0.8v0.8h-0.8zM54.4 529.4h0.8v0.8h-0.8zM49.1 517.6h0.8v0.8h-0.8zM56.9 523.7h0.8v0.8h-0.8zM58.8 513.0h0.8v0.8h-0.8zM52.4 526.0h0.8v0.8h-0.8zM59.6 526.1h0.8v0.8h-0.8zM56.6 521.7h0.8v0.8h-0.8zM51.7 515.4h0.8v0.8h-0.8zM49.6 522.0h0.8v0.8h-0.8zM54.9 513.5h0.8v0.8h-0.8zM56.1 518.6h0.8v0.8h-0.8zM59.3 522.5h0.8v0.8h-0.8zM51.7 522.3h0.8v0.8h-0.8zM58.5 515.4h0.8v0.8h-0.8zM50.8 524.6h0.8v0.8h-0.8zM60.6 526.1h0.8v0.8h-0.8zM49.5 516.0h0.8v0.8h-0.8zM57.3 522.9h0.8v0.8h-0.8zM55.6 524.5h0.8v0.8h-0.8zM49.2 515.2h0.8v0.8h-0.8zM48.0 521.1h0.8v0.8h-0.8zM51.7 511.9h0.8v0.8h-0.8zM56.4 513.9h0.8v0.8h-0.8zM54.2 524.4h0.8v0.8h-0.8zM59.1 524.6h0.8v0.8h-0.8zM53.6 515.0h0.8v0.8h-0.8zM57.3 518.2h0.8v0.8h-0.8zM60.8 517.8h0.8v0.8h-0.8zM56.7 533.0h0.8v0.8h-0.8zM51.4 522.4h0.8v0.8h-0.8zM52.5 518.6h0.8v0.8h-0.8zM49.2 525.8h0.8v0.8h-0.8zM56.7 518.1h0.8v0.8h-0.8zM53.4 523.5h0.8v0.8h-0.8zM53.8 524.3h0.8v0.8h-0.8zM59.8 516.6h0.8v0.8h-0.8zM51.5 527.6h0.8v0.8h-0.8zM55.3 518.0h0.8v0.8h-0.8zM52.3 525.0h0.8v0.8h-0.8zM55.8 532.3h0.8v0.8h-0.8zM54.8 530.0h0.8v0.8h-0.8zM59.2 514.8h0.8v0.8h-0.8zM60.3 517.5h0.8v0.8h-0.8zM55.9 522.3h0.8v0.8h-0.8zM57.2 513.9h0.8v0.8h-0.8zM57.9 517.2h0.8v0.8h-0.8zM54.8 511.7h0.8v0.8h-0.8zM57.8 522.9h0.8v0.8h-0.8zM54.0 528.3h0.8v0.8h-0.8zM53.5 525.1h0.8v0.8h-0.8zM53.6 529.4h0.8v0.8h-0.8zM58.3 514.3h0.8v0.8h-0.8zM52.7 531.0h0.8v0.8h-0.8zM55.1 525.2h0.8v0.8h-0.8zM60.4 524.1h0.8v0.8h-0.8zM54.9 514.4h0.8v0.8h-0.8zM54.4 519.6h0.8v0.8h-0.8zM56.0 515.6h0.8v0.8h-0.8zM56.9 511.5h0.8v0.8h-0.8zM56.1 511.7h0.8v0.8h-0.8zM52.3 523.0h0.8v0.8h-0.8zM48.7 521.5h0.8v0.8h-0.8zM57.7 515.2h0.8v0.8h-0.8zM53.4 519.5h0.8v0.8h-0.8zM58.1 522.7h0.8v0.8h-0.8zM55.0 528.1h0.8v0.8h-0.8zM54.4 530.1h0.8v0.8h-0.8zM50.7 526.7h0.8v0.8h-0.8zM54.1 510.4h0.8v0.8h-0.8zM47.7 524.7h0.8v0.8h-0.8zM56.8 531.8h0.8v0.8h-0.8zM56.2 526.2h0.8v0.8h-0.8zM50.1 529.0h0.8v0.8h-0.8zM50.9 527.5h0.8v0.8h-0.8zM54.3 519.1h0.8v0.8h-0.8zM49.0 521.4h0.8v0.8h-0.8zM56.0 510.1h0.8v0.8h-0.8zM58.3 521.6h0.8v0.8h-0.8zM51.4 515.5h0.8v0.8h-0.8zM50.6 523.1h0.8v0.8h-0.8zM52.6 528.6h0.8v0.8h-0.8zM57.2 529.2h0.8v0.8h-0.8zM59.9 516.5h0.8v0.8h-0.8zM54.7 519.9h0.8v0.8h-0.8zM54.9 525.9h0.8v0.8h-0.8zM55.2 526.2h0.8v0.8h-0.8zM52.9 532.5h0.8v0.8h-0.8zM53.6 525.5h0.8v0.8h-0.8zM57.2 512.2h0.8v0.8h-0.8zM51.4 522.6h0.8v0.8h-0.8zM55.7 513.5h0.8v0.8h-0.8zM48.4 525.3h0.8v0.8h-0.8zM59.1 513.0h0.8v0.8h-0.8zM53.1 521.8h0.8v0.8h-0.8zM54.4 521.9h0.8v0.8h-0.8zM56.9 529.5h0.8v0.8h-0.8zM53.9 529.3h0.8v0.8h-0.8zM56.8 523.0h0.8v0.8h-0.8zM56.2 515.1h0.8v0.8h-0.8zM60.6 523.3h0.8v0.8h-0.8zM55.4 511.1h0.8v0.8h-0.8zM61.0 516.5h0.8v0.8h-0.8zM49.2 523.2h0.8v0.8h-0.8zM52.1 518.9h0.8v0.8h-0.8zM50.8 526.1h0.8v0.8h-0.8zM51.4 528.6h0.8v0.8h-0.8zM56.4 522.8h0.8v0.8h-0.8zM49.4 522.8h0.8v0.8h-0.8zM55.9 516.2h0.8v0.8h-0.8zM49.5 515.3h0.8v0.8h-0.8zM51.8 517.5h0.8v0.8h-0.8zM53.7 533.8h0.8v0.8h-0.8zM52.7 522.5h0.8v0.8h-0.8zM54.2 520.2h0.8v0.8h-0.8zM51.2 526.9h0.8v0.8h-0.8zM51.1 523.7h0.8v0.8h-0.8zM51.6 516.1h0.8v0.8h-0.8zM53.1 520.3h0.8v0.8h-0.8zM53.1 525.9h0.8v0.8h-0.8zM53.8 528.3h0.8v0.8h-0.8zM53.2 515.9h0.8v0.8h-0.8zM53.0 529.9h0.8v0.8h-0.8zM52.5 516.2h0.8v0.8h-0.8zM49.6 529.2h0.8v0.8h-0.8zM56.5 518.8h0.8v0.8h-0.8zM49.3 517.2h0.8v0.8h-0.8zM50.7 513.7h0.8v0.8h-0.8zM50.4 519.1h0.8v0.8h-0.8zM51.1 520.1h0.8v0.8h-0.8zM57.2 525.0h0.8v0.8h-0.8zM59.3 526.2h0.8v0.8h-0.8zM57.7 514.3h0.8v0.8h-0.8zM51.6 522.0h0.8v0.8h-0.8zM53.0 524.1h0.8v0.8h-0.8zM56.1 527.1h0.8v0.8h-0.8zM55.5 530.5h0.8v0.8h-0.8zM51.9 524.7h0.8v0.8h-0.8zM55.2 527.5h0.8v0.8h-0.8zM48.8 516.2h0.8v0.8h-0.8zM49.1 516.8h0.8v0.8h-0.8zM51.2 517.4h0.8v0.8h-0.8zM47.6 511.6h0.8v0.8h-0.8zM49.7 520.0h0.8v0.8h-0.8zM50.6 517.5h0.8v0.8h-0.8zM52.6 512.1h0.8v0.8h-0.8zM51.7 519.0h0.8v0.8h-0.8zM46.3 517.7h0.8v0.8h-0.8zM49.6 518.7h0.8v0.8h-0.8zM46.8 518.2h0.8v0.8h-0.8zM47.4 513.5h0.8v0.8h-0.8zM52.4 514.9h0.8v0.8h-0.8zM52.1 513.3h0.8v0.8h-0.8zM46.5 517.1h0.8v0.8h-0.8zM46.6 516.8h0.8v0.8h-0.8zM50.4 512.8h0.8v0.8h-0.8zM47.8 517.7h0.8v0.8h-0.8zM49.9 515.9h0.8v0.8h-0.8zM49.2 513.9h0.8v0.8h-0.8zM50.7 515.9h0.8v0.8h-0.8zM50.8 518.9h0.8v0.8h-0.8zM47.4 518.7h0.8v0.8h-0.8zM48.3 516.6h0.8v0.8h-0.8zM53.5 512.7h0.8v0.8h-0.8zM53.2 516.1h0.8v0.8h-0.8zM51.8 513.9h0.8v0.8h-0.8zM46.5 514.0h0.8v0.8h-0.8zM49.3 511.8h0.8v0.8h-0.8zM50.0 515.1h0.8v0.8h-0.8zM46.9 515.9h0.8v0.8h-0.8zM46.2 514.5h0.8v0.8h-0.8zM52.1 516.9h0.8v0.8h-0.8zM52.1 515.1h0.8v0.8h-0.8zM49.6 517.6h0.8v0.8h-0.8zM49.9 519.5h0.8v0.8h-0.8zM47.5 516.5h0.8v0.8h-0.8zM50.9 515.7h0.8v0.8h-0.8zM51.7 515.1h0.8v0.8h-0.8zM49.4 517.3h0.8v0.8h-0.8zM51.6 513.3h0.8v0.8h-0.8zM51.2 517.0h0.8v0.8h-0.8zM50.3 512.2h0.8v0.8h-0.8zM47.5 514.0h0.8v0.8h-0.8zM50.5 517.1h0.8v0.8h-0.8zM50.6 520.2h0.8v0.8h-0.8zM51.7 511.5h0.8v0.8h-0.8zM50.7 513.2h0.8v0.8h-0.8zM52.8 516.0h0.8v0.8h-0.8zM49.5 512.5h0.8v0.8h-0.8zM47.6 519.1h0.8v0.8h-0.8zM52.6 518.3h0.8v0.8h-0.8zM58.7 524.4h0.8v0.8h-0.8zM59.1 526.4h0.8v0.8h-0.8zM59.6 523.5h0.8v0.8h-0.8zM59.6 525.2h0.8v0.8h-0.8zM61.4 526.0h0.8v0.8h-0.8zM60.8 524.4h0.8v0.8h-0.8zM57.1 525.9h0.8v0.8h-0.8zM60.1 529.4h0.8v0.8h-0.8zM59.1 529.5h0.8v0.8h-0.8zM58.8 528.5h0.8v0.8h-0.8zM57.6 526.5h0.8v0.8h-0.8zM62.6 527.3h0.8v0.8h-0.8zM57.9 530.0h0.8v0.8h-0.8zM60.3 529.1h0.8v0.8h-0.8zM59.8 528.2h0.8v0.8h-0.8zM60.6 529.0h0.8v0.8h-0.8zM58.4 523.9h0.8v0.8h-0.8zM61.8 527.7h0.8v0.8h-0.8zM56.6 526.3h0.8v0.8h-0.8zM56.9 526.4h0.8v0.8h-0.8zM59.7 529.3h0.8v0.8h-0.8zM57.8 525.8h0.8v0.8h-0.8zM58.3 528.9h0.8v0.8h-0.8zM59.7 524.7h0.8v0.8h-0.8zM57.9 530.2h0.8v0.8h-0.8zM61.2 525.7h0.8v0.8h-0.8zM59.9 524.7h0.8v0.8h-0.8zM60.6 529.9h0.8v0.8h-0.8zM58.3 529.3h0.8v0.8h-0.8zM59.8 529.9h0.8v0.8h-0.8zM59.7 529.8h0.8v0.8h-0.8z" fill="#4db8d9" opacity="0.95"/><path d="M53.8 519.2h0.8v0.8h-0.8zM55.6 513.2h0.8v0.8h-0.8zM52.4 530.1h0.8v0.8h-0.8zM58.4 519.1h0.8v0.8h-0.8zM56.5 528.9h0.8v0.8h-0.8zM58.8 517.7h0.8v0.8h-0.8zM57.5 523.9h0.8v0.8h-0.8zM58.8 521.0h0.8v0.8h-0.8zM51.8 523.8h0.8v0.8h-0.8zM54.7 527.7h0.8v0.8h-0.8zM48.1 513.4h0.8v0.8h-0.8zM48.8 518.5h0.8v0.8h-0.8zM51.3 515.2h0.8v0.8h-0.8zM59.8 527.1h0.8v0.8h-0.8z" fill="#ffffff" opacity="0.8"/><ellipse cx="40.00" cy="527.00" rx="6.80" ry="6.80" fill="#e8432e" opacity="0.9" transform="rotate(0 40.00 527.00)" filter="url(#b05)"/><ellipse cx="37.50" cy="523.00" rx="4.25" ry="4.25" fill="#e8432e" opacity="0.9" transform="rotate(0 37.50 523.00)" filter="url(#b05)"/><ellipse cx="45.00" cy="531.50" rx="3.40" ry="2.55" fill="#e8432e" opacity="0.9" transform="rotate(0 45.00 531.50)" filter="url(#b05)"/><ellipse cx="46.50" cy="521.00" rx="2.55" ry="3.40" fill="#e8432e" opacity="0.9" transform="rotate(0 46.50 521.00)" filter="url(#b05)"/><path d="M40.5 535.6h0.8v0.8h-0.8zM40.3 524.0h0.8v0.8h-0.8zM39.6 525.4h0.8v0.8h-0.8zM41.4 522.6h0.8v0.8h-0.8zM35.2 527.0h0.8v0.8h-0.8zM43.3 531.3h0.8v0.8h-0.8zM44.5 525.9h0.8v0.8h-0.8zM42.1 521.2h0.8v0.8h-0.8zM44.8 526.1h0.8v0.8h-0.8zM41.6 522.7h0.8v0.8h-0.8zM46.8 535.2h0.8v0.8h-0.8zM39.9 523.6h0.8v0.8h-0.8zM38.5 519.5h0.8v0.8h-0.8zM40.6 519.8h0.8v0.8h-0.8zM45.2 523.5h0.8v0.8h-0.8zM37.8 529.4h0.8v0.8h-0.8zM44.5 523.9h0.8v0.8h-0.8zM42.2 526.7h0.8v0.8h-0.8zM35.2 532.1h0.8v0.8h-0.8zM39.9 528.5h0.8v0.8h-0.8zM37.1 532.7h0.8v0.8h-0.8zM42.7 529.0h0.8v0.8h-0.8zM35.3 524.2h0.8v0.8h-0.8zM34.9 521.8h0.8v0.8h-0.8zM37.0 526.3h0.8v0.8h-0.8zM40.2 533.0h0.8v0.8h-0.8zM48.1 527.1h0.8v0.8h-0.8zM43.1 522.4h0.8v0.8h-0.8zM47.4 525.5h0.8v0.8h-0.8zM45.2 525.2h0.8v0.8h-0.8zM40.5 531.3h0.8v0.8h-0.8zM36.4 525.4h0.8v0.8h-0.8zM44.4 524.7h0.8v0.8h-0.8zM34.9 530.3h0.8v0.8h-0.8zM47.4 528.3h0.8v0.8h-0.8zM44.6 521.9h0.8v0.8h-0.8zM44.0 532.5h0.8v0.8h-0.8zM32.2 525.7h0.8v0.8h-0.8zM31.9 522.0h0.8v0.8h-0.8zM46.6 531.3h0.8v0.8h-0.8zM40.3 530.0h0.8v0.8h-0.8zM45.9 522.3h0.8v0.8h-0.8zM37.7 534.6h0.8v0.8h-0.8zM45.1 530.9h0.8v0.8h-0.8zM39.8 534.4h0.8v0.8h-0.8zM49.2 523.8h0.8v0.8h-0.8zM36.3 523.2h0.8v0.8h-0.8zM46.0 528.5h0.8v0.8h-0.8zM37.8 526.5h0.8v0.8h-0.8zM46.6 524.6h0.8v0.8h-0.8zM41.5 530.1h0.8v0.8h-0.8zM47.0 525.0h0.8v0.8h-0.8zM34.3 527.2h0.8v0.8h-0.8zM35.8 526.0h0.8v0.8h-0.8zM40.2 535.6h0.8v0.8h-0.8zM41.9 530.4h0.8v0.8h-0.8zM44.9 528.0h0.8v0.8h-0.8zM32.8 524.3h0.8v0.8h-0.8zM45.7 527.5h0.8v0.8h-0.8zM41.2 533.3h0.8v0.8h-0.8zM33.0 525.1h0.8v0.8h-0.8zM34.6 530.5h0.8v0.8h-0.8zM44.6 530.7h0.8v0.8h-0.8zM46.5 527.9h0.8v0.8h-0.8zM43.7 531.6h0.8v0.8h-0.8zM33.5 529.6h0.8v0.8h-0.8zM32.8 525.1h0.8v0.8h-0.8zM39.2 525.8h0.8v0.8h-0.8zM35.0 521.3h0.8v0.8h-0.8zM42.5 522.9h0.8v0.8h-0.8zM36.7 527.0h0.8v0.8h-0.8zM33.9 522.0h0.8v0.8h-0.8zM35.9 526.0h0.8v0.8h-0.8zM41.9 524.7h0.8v0.8h-0.8zM43.1 524.5h0.8v0.8h-0.8zM38.1 521.4h0.8v0.8h-0.8zM39.4 531.3h0.8v0.8h-0.8zM34.9 523.7h0.8v0.8h-0.8zM38.2 525.2h0.8v0.8h-0.8zM35.3 525.8h0.8v0.8h-0.8zM45.7 529.1h0.8v0.8h-0.8zM38.8 529.5h0.8v0.8h-0.8zM36.8 526.9h0.8v0.8h-0.8zM45.3 529.3h0.8v0.8h-0.8zM34.4 525.5h0.8v0.8h-0.8zM37.3 525.5h0.8v0.8h-0.8zM45.7 527.1h0.8v0.8h-0.8zM34.7 531.4h0.8v0.8h-0.8zM44.4 532.7h0.8v0.8h-0.8zM40.7 532.8h0.8v0.8h-0.8zM35.4 532.1h0.8v0.8h-0.8zM37.5 530.0h0.8v0.8h-0.8zM48.1 525.8h0.8v0.8h-0.8zM40.3 522.2h0.8v0.8h-0.8zM43.2 526.8h0.8v0.8h-0.8zM45.6 527.1h0.8v0.8h-0.8zM43.2 526.5h0.8v0.8h-0.8zM34.8 520.6h0.8v0.8h-0.8zM39.6 524.0h0.8v0.8h-0.8zM37.0 527.0h0.8v0.8h-0.8zM46.3 529.4h0.8v0.8h-0.8zM31.6 527.4h0.8v0.8h-0.8zM34.4 529.3h0.8v0.8h-0.8zM35.9 527.0h0.8v0.8h-0.8zM45.9 523.6h0.8v0.8h-0.8zM33.2 525.6h0.8v0.8h-0.8zM41.8 519.0h0.8v0.8h-0.8zM35.1 525.1h0.8v0.8h-0.8zM38.3 527.9h0.8v0.8h-0.8zM34.6 523.7h0.8v0.8h-0.8zM39.1 519.4h0.8v0.8h-0.8zM42.0 530.8h0.8v0.8h-0.8zM42.2 527.3h0.8v0.8h-0.8zM42.7 534.2h0.8v0.8h-0.8zM37.6 534.1h0.8v0.8h-0.8zM37.2 528.4h0.8v0.8h-0.8zM43.6 522.8h0.8v0.8h-0.8zM38.4 519.8h0.8v0.8h-0.8zM40.3 524.8h0.8v0.8h-0.8zM36.5 525.3h0.8v0.8h-0.8zM38.7 532.6h0.8v0.8h-0.8zM43.6 518.5h0.8v0.8h-0.8zM41.8 522.5h0.8v0.8h-0.8zM43.0 529.8h0.8v0.8h-0.8zM42.4 529.1h0.8v0.8h-0.8zM37.4 520.8h0.8v0.8h-0.8zM45.7 522.6h0.8v0.8h-0.8zM37.2 521.5h0.8v0.8h-0.8zM46.1 529.1h0.8v0.8h-0.8zM38.8 524.4h0.8v0.8h-0.8zM37.9 527.6h0.8v0.8h-0.8zM44.1 532.5h0.8v0.8h-0.8zM36.0 526.2h0.8v0.8h-0.8zM42.0 518.7h0.8v0.8h-0.8zM41.0 520.1h0.8v0.8h-0.8zM40.5 524.4h0.8v0.8h-0.8zM46.4 527.9h0.8v0.8h-0.8zM42.9 531.9h0.8v0.8h-0.8zM46.0 524.5h0.8v0.8h-0.8zM38.5 528.8h0.8v0.8h-0.8zM44.8 526.9h0.8v0.8h-0.8zM36.2 523.7h0.8v0.8h-0.8zM41.2 533.1h0.8v0.8h-0.8zM40.0 534.6h0.8v0.8h-0.8zM39.7 528.6h0.8v0.8h-0.8zM40.0 521.6h0.8v0.8h-0.8zM34.5 522.1h0.8v0.8h-0.8zM38.2 531.7h0.8v0.8h-0.8zM45.0 525.8h0.8v0.8h-0.8zM40.3 526.5h0.8v0.8h-0.8zM42.0 523.5h0.8v0.8h-0.8zM40.5 531.9h0.8v0.8h-0.8zM40.6 528.3h0.8v0.8h-0.8zM43.2 527.4h0.8v0.8h-0.8zM36.3 520.7h0.8v0.8h-0.8zM45.0 529.5h0.8v0.8h-0.8zM43.6 524.3h0.8v0.8h-0.8zM37.9 524.1h0.8v0.8h-0.8zM38.6 526.1h0.8v0.8h-0.8zM40.4 530.8h0.8v0.8h-0.8zM36.1 530.9h0.8v0.8h-0.8zM36.0 525.3h0.8v0.8h-0.8zM34.5 521.5h0.8v0.8h-0.8zM38.3 525.2h0.8v0.8h-0.8zM38.0 518.6h0.8v0.8h-0.8zM39.3 521.3h0.8v0.8h-0.8zM35.9 524.9h0.8v0.8h-0.8zM37.5 531.2h0.8v0.8h-0.8zM38.2 531.9h0.8v0.8h-0.8zM46.5 529.9h0.8v0.8h-0.8zM40.7 534.0h0.8v0.8h-0.8zM37.4 520.3h0.8v0.8h-0.8zM35.6 527.6h0.8v0.8h-0.8zM35.7 530.3h0.8v0.8h-0.8zM37.8 533.1h0.8v0.8h-0.8zM44.7 530.8h0.8v0.8h-0.8zM40.7 535.4h0.8v0.8h-0.8zM42.3 524.1h0.8v0.8h-0.8zM45.2 525.0h0.8v0.8h-0.8zM46.4 522.0h0.8v0.8h-0.8zM34.1 528.7h0.8v0.8h-0.8zM38.5 525.7h0.8v0.8h-0.8zM37.1 526.2h0.8v0.8h-0.8zM37.4 533.8h0.8v0.8h-0.8zM38.7 533.1h0.8v0.8h-0.8zM42.4 531.0h0.8v0.8h-0.8zM39.4 530.5h0.8v0.8h-0.8zM37.0 527.7h0.8v0.8h-0.8zM41.9 524.4h0.8v0.8h-0.8zM35.7 526.2h0.8v0.8h-0.8zM34.4 524.8h0.8v0.8h-0.8zM33.8 521.3h0.8v0.8h-0.8zM40.2 521.9h0.8v0.8h-0.8zM40.0 527.5h0.8v0.8h-0.8zM35.6 528.0h0.8v0.8h-0.8zM39.9 525.7h0.8v0.8h-0.8zM36.5 518.5h0.8v0.8h-0.8zM40.5 527.4h0.8v0.8h-0.8zM37.5 525.7h0.8v0.8h-0.8zM37.0 522.7h0.8v0.8h-0.8zM40.6 522.1h0.8v0.8h-0.8zM39.7 525.4h0.8v0.8h-0.8zM33.5 519.9h0.8v0.8h-0.8zM38.0 518.4h0.8v0.8h-0.8zM35.3 525.5h0.8v0.8h-0.8zM34.8 520.7h0.8v0.8h-0.8zM36.8 521.6h0.8v0.8h-0.8zM38.0 522.0h0.8v0.8h-0.8zM39.1 526.7h0.8v0.8h-0.8zM37.8 524.3h0.8v0.8h-0.8zM34.1 525.1h0.8v0.8h-0.8zM35.5 526.9h0.8v0.8h-0.8zM37.2 520.5h0.8v0.8h-0.8zM35.9 524.2h0.8v0.8h-0.8zM34.0 525.6h0.8v0.8h-0.8zM34.9 524.7h0.8v0.8h-0.8zM33.5 524.3h0.8v0.8h-0.8zM38.3 529.0h0.8v0.8h-0.8zM32.8 522.5h0.8v0.8h-0.8zM38.3 524.3h0.8v0.8h-0.8zM36.8 527.0h0.8v0.8h-0.8zM35.9 521.9h0.8v0.8h-0.8zM40.7 524.0h0.8v0.8h-0.8zM35.6 521.6h0.8v0.8h-0.8zM35.1 522.0h0.8v0.8h-0.8zM33.4 524.8h0.8v0.8h-0.8zM37.4 526.5h0.8v0.8h-0.8zM36.4 528.1h0.8v0.8h-0.8zM38.1 518.4h0.8v0.8h-0.8zM35.2 518.9h0.8v0.8h-0.8zM38.5 517.9h0.8v0.8h-0.8zM33.1 524.1h0.8v0.8h-0.8zM41.3 523.7h0.8v0.8h-0.8zM42.9 525.3h0.8v0.8h-0.8zM39.0 524.6h0.8v0.8h-0.8zM41.5 524.7h0.8v0.8h-0.8zM38.1 525.0h0.8v0.8h-0.8zM40.6 519.7h0.8v0.8h-0.8zM35.8 523.8h0.8v0.8h-0.8zM38.0 524.4h0.8v0.8h-0.8zM36.2 522.5h0.8v0.8h-0.8zM34.3 521.7h0.8v0.8h-0.8zM33.5 525.8h0.8v0.8h-0.8zM37.2 518.9h0.8v0.8h-0.8zM37.7 521.4h0.8v0.8h-0.8zM34.5 523.7h0.8v0.8h-0.8zM36.2 526.7h0.8v0.8h-0.8zM33.9 523.0h0.8v0.8h-0.8zM37.8 525.1h0.8v0.8h-0.8zM36.4 524.5h0.8v0.8h-0.8zM35.2 525.0h0.8v0.8h-0.8zM38.3 518.2h0.8v0.8h-0.8zM34.4 521.2h0.8v0.8h-0.8zM40.3 521.6h0.8v0.8h-0.8zM38.0 519.1h0.8v0.8h-0.8zM36.6 526.5h0.8v0.8h-0.8zM33.8 526.3h0.8v0.8h-0.8zM36.6 524.5h0.8v0.8h-0.8zM36.3 522.0h0.8v0.8h-0.8zM34.6 522.6h0.8v0.8h-0.8zM33.1 521.5h0.8v0.8h-0.8zM38.3 523.7h0.8v0.8h-0.8zM41.9 524.0h0.8v0.8h-0.8zM37.7 522.7h0.8v0.8h-0.8zM33.6 526.7h0.8v0.8h-0.8zM40.0 524.4h0.8v0.8h-0.8zM35.3 526.5h0.8v0.8h-0.8zM43.6 529.1h0.8v0.8h-0.8zM45.3 531.8h0.8v0.8h-0.8zM43.3 529.3h0.8v0.8h-0.8zM44.4 531.8h0.8v0.8h-0.8zM43.8 531.8h0.8v0.8h-0.8zM41.1 529.8h0.8v0.8h-0.8zM47.3 529.4h0.8v0.8h-0.8zM44.8 529.2h0.8v0.8h-0.8zM44.0 531.3h0.8v0.8h-0.8zM44.1 528.7h0.8v0.8h-0.8zM45.2 530.9h0.8v0.8h-0.8zM44.4 529.2h0.8v0.8h-0.8zM42.8 532.0h0.8v0.8h-0.8zM41.7 532.0h0.8v0.8h-0.8zM45.8 532.4h0.8v0.8h-0.8zM42.5 531.6h0.8v0.8h-0.8zM42.7 533.8h0.8v0.8h-0.8zM43.9 534.0h0.8v0.8h-0.8zM44.0 533.5h0.8v0.8h-0.8zM41.9 532.2h0.8v0.8h-0.8zM45.1 530.9h0.8v0.8h-0.8zM41.0 532.2h0.8v0.8h-0.8zM48.5 530.3h0.8v0.8h-0.8zM44.0 530.8h0.8v0.8h-0.8zM44.7 530.1h0.8v0.8h-0.8zM42.6 531.4h0.8v0.8h-0.8zM47.1 530.0h0.8v0.8h-0.8zM42.4 531.4h0.8v0.8h-0.8zM44.0 533.4h0.8v0.8h-0.8zM43.4 533.7h0.8v0.8h-0.8zM41.8 530.2h0.8v0.8h-0.8zM46.4 531.0h0.8v0.8h-0.8zM46.1 533.0h0.8v0.8h-0.8zM47.0 529.6h0.8v0.8h-0.8zM42.3 532.2h0.8v0.8h-0.8zM41.5 531.8h0.8v0.8h-0.8zM46.0 519.8h0.8v0.8h-0.8zM46.5 519.8h0.8v0.8h-0.8zM47.6 519.9h0.8v0.8h-0.8zM45.5 517.6h0.8v0.8h-0.8zM45.6 520.8h0.8v0.8h-0.8zM46.6 518.6h0.8v0.8h-0.8zM46.6 519.0h0.8v0.8h-0.8zM45.5 517.9h0.8v0.8h-0.8zM48.2 523.6h0.8v0.8h-0.8zM45.2 519.2h0.8v0.8h-0.8zM46.6 525.4h0.8v0.8h-0.8zM45.1 518.2h0.8v0.8h-0.8zM45.0 521.4h0.8v0.8h-0.8zM47.2 518.1h0.8v0.8h-0.8zM48.1 521.0h0.8v0.8h-0.8zM45.6 520.6h0.8v0.8h-0.8zM48.7 522.3h0.8v0.8h-0.8zM46.8 525.3h0.8v0.8h-0.8zM46.1 520.2h0.8v0.8h-0.8zM46.8 523.1h0.8v0.8h-0.8zM45.4 518.2h0.8v0.8h-0.8zM49.6 519.4h0.8v0.8h-0.8zM44.2 518.1h0.8v0.8h-0.8zM47.7 519.0h0.8v0.8h-0.8zM47.6 519.0h0.8v0.8h-0.8zM44.5 520.0h0.8v0.8h-0.8zM47.1 521.7h0.8v0.8h-0.8zM44.4 517.7h0.8v0.8h-0.8zM47.5 520.5h0.8v0.8h-0.8zM47.3 521.5h0.8v0.8h-0.8zM48.2 519.3h0.8v0.8h-0.8zM45.8 520.1h0.8v0.8h-0.8zM43.1 521.7h0.8v0.8h-0.8zM48.5 522.3h0.8v0.8h-0.8zM46.9 522.1h0.8v0.8h-0.8zM47.7 520.7h0.8v0.8h-0.8z" fill="#e8432e" opacity="0.95"/><path d="M36.9 528.2h0.8v0.8h-0.8zM34.7 531.0h0.8v0.8h-0.8zM43.8 531.6h0.8v0.8h-0.8zM38.5 523.0h0.8v0.8h-0.8zM41.5 526.9h0.8v0.8h-0.8zM37.1 522.8h0.8v0.8h-0.8zM44.7 528.7h0.8v0.8h-0.8zM34.6 525.8h0.8v0.8h-0.8zM38.0 523.2h0.8v0.8h-0.8zM37.7 524.6h0.8v0.8h-0.8zM38.6 520.7h0.8v0.8h-0.8zM41.0 522.5h0.8v0.8h-0.8zM44.2 532.0h0.8v0.8h-0.8zM45.9 521.4h0.8v0.8h-0.8z" fill="#ffffff" opacity="0.8"/><ellipse cx="56.50" cy="531.50" rx="3.40" ry="2.89" fill="#e8432e" opacity="0.85" transform="rotate(0 56.50 531.50)" filter="url(#b05)"/><path d="M57.1 534.6h0.8v0.8h-0.8zM59.2 533.3h0.8v0.8h-0.8zM59.2 529.9h0.8v0.8h-0.8zM56.2 533.6h0.8v0.8h-0.8zM58.8 531.5h0.8v0.8h-0.8zM56.1 529.1h0.8v0.8h-0.8zM55.2 533.9h0.8v0.8h-0.8zM57.7 530.8h0.8v0.8h-0.8zM55.5 531.8h0.8v0.8h-0.8zM58.3 531.8h0.8v0.8h-0.8zM59.5 532.7h0.8v0.8h-0.8zM55.4 528.6h0.8v0.8h-0.8zM58.5 529.8h0.8v0.8h-0.8zM56.2 534.4h0.8v0.8h-0.8zM54.8 534.1h0.8v0.8h-0.8zM59.8 530.1h0.8v0.8h-0.8zM60.1 532.2h0.8v0.8h-0.8zM56.3 530.5h0.8v0.8h-0.8zM55.5 533.3h0.8v0.8h-0.8zM59.7 531.3h0.8v0.8h-0.8zM58.6 530.8h0.8v0.8h-0.8zM57.5 529.6h0.8v0.8h-0.8zM54.6 533.9h0.8v0.8h-0.8zM57.5 530.6h0.8v0.8h-0.8zM57.3 533.6h0.8v0.8h-0.8zM57.8 528.9h0.8v0.8h-0.8zM58.1 534.1h0.8v0.8h-0.8zM55.7 533.6h0.8v0.8h-0.8zM55.2 531.5h0.8v0.8h-0.8zM59.0 531.4h0.8v0.8h-0.8zM58.0 529.2h0.8v0.8h-0.8zM59.4 533.0h0.8v0.8h-0.8zM60.5 530.8h0.8v0.8h-0.8zM55.8 532.9h0.8v0.8h-0.8zM56.5 532.3h0.8v0.8h-0.8zM54.9 533.8h0.8v0.8h-0.8zM58.7 529.5h0.8v0.8h-0.8zM54.2 529.9h0.8v0.8h-0.8zM60.4 531.6h0.8v0.8h-0.8zM57.3 528.9h0.8v0.8h-0.8z" fill="#e8432e" opacity="0.95"/><path d="M58.9 533.6h0.8v0.8h-0.8z" fill="#ffffff" opacity="0.8"/><ellipse cx="71.00" cy="532.00" rx="4.93" ry="3.40" fill="#e8432e" opacity="0.85" transform="rotate(-15 71.00 532.00)" filter="url(#b05)"/><ellipse cx="77.50" cy="526.50" rx="2.55" ry="1.70" fill="#e8432e" opacity="0.85" transform="rotate(-45 77.50 526.50)" filter="url(#b05)"/><path d="M70.9 532.3h0.8v0.8h-0.8zM69.8 536.1h0.8v0.8h-0.8zM69.9 531.4h0.8v0.8h-0.8zM64.8 533.9h0.8v0.8h-0.8zM72.7 531.3h0.8v0.8h-0.8zM66.2 534.5h0.8v0.8h-0.8zM67.5 531.7h0.8v0.8h-0.8zM67.7 529.4h0.8v0.8h-0.8zM72.1 534.4h0.8v0.8h-0.8zM67.8 529.7h0.8v0.8h-0.8zM76.0 532.8h0.8v0.8h-0.8zM71.5 531.9h0.8v0.8h-0.8zM74.0 530.9h0.8v0.8h-0.8zM70.1 533.4h0.8v0.8h-0.8zM71.5 528.3h0.8v0.8h-0.8zM68.4 528.9h0.8v0.8h-0.8zM67.2 532.5h0.8v0.8h-0.8zM71.6 529.5h0.8v0.8h-0.8zM75.7 533.8h0.8v0.8h-0.8zM72.4 529.3h0.8v0.8h-0.8zM68.1 532.2h0.8v0.8h-0.8zM74.0 529.3h0.8v0.8h-0.8zM70.6 534.6h0.8v0.8h-0.8zM74.1 530.1h0.8v0.8h-0.8zM74.7 532.1h0.8v0.8h-0.8zM71.0 530.7h0.8v0.8h-0.8zM76.3 531.0h0.8v0.8h-0.8zM67.1 535.2h0.8v0.8h-0.8zM71.1 534.8h0.8v0.8h-0.8zM70.5 535.2h0.8v0.8h-0.8zM66.9 535.2h0.8v0.8h-0.8zM67.2 532.3h0.8v0.8h-0.8zM72.8 531.4h0.8v0.8h-0.8zM75.5 532.8h0.8v0.8h-0.8zM69.2 535.4h0.8v0.8h-0.8zM69.6 529.6h0.8v0.8h-0.8zM68.4 531.8h0.8v0.8h-0.8zM72.6 534.1h0.8v0.8h-0.8zM69.9 533.5h0.8v0.8h-0.8zM72.1 531.6h0.8v0.8h-0.8zM70.4 531.3h0.8v0.8h-0.8zM70.3 531.4h0.8v0.8h-0.8zM70.8 530.0h0.8v0.8h-0.8zM70.3 531.6h0.8v0.8h-0.8zM76.3 532.4h0.8v0.8h-0.8zM66.8 531.7h0.8v0.8h-0.8zM76.7 531.2h0.8v0.8h-0.8zM69.9 535.6h0.8v0.8h-0.8zM69.2 535.2h0.8v0.8h-0.8zM71.8 528.4h0.8v0.8h-0.8zM66.4 533.1h0.8v0.8h-0.8zM68.0 529.7h0.8v0.8h-0.8zM70.8 528.7h0.8v0.8h-0.8zM71.5 531.0h0.8v0.8h-0.8zM69.3 533.6h0.8v0.8h-0.8zM76.3 531.5h0.8v0.8h-0.8zM68.8 533.0h0.8v0.8h-0.8zM66.2 534.3h0.8v0.8h-0.8zM68.0 529.8h0.8v0.8h-0.8zM68.5 532.0h0.8v0.8h-0.8zM67.4 533.3h0.8v0.8h-0.8zM69.7 532.5h0.8v0.8h-0.8zM70.8 531.9h0.8v0.8h-0.8zM72.1 530.0h0.8v0.8h-0.8zM70.7 532.0h0.8v0.8h-0.8zM75.2 530.7h0.8v0.8h-0.8zM71.8 531.7h0.8v0.8h-0.8zM72.2 532.8h0.8v0.8h-0.8zM77.1 531.2h0.8v0.8h-0.8zM76.9 525.7h0.8v0.8h-0.8zM77.2 525.6h0.8v0.8h-0.8zM78.8 524.6h0.8v0.8h-0.8zM77.2 526.5h0.8v0.8h-0.8zM78.0 524.7h0.8v0.8h-0.8zM75.8 525.5h0.8v0.8h-0.8zM78.7 527.1h0.8v0.8h-0.8zM76.7 529.0h0.8v0.8h-0.8zM76.3 525.8h0.8v0.8h-0.8zM76.7 525.6h0.8v0.8h-0.8zM80.3 525.1h0.8v0.8h-0.8zM75.9 526.0h0.8v0.8h-0.8zM76.8 528.7h0.8v0.8h-0.8zM76.1 529.5h0.8v0.8h-0.8zM77.6 525.2h0.8v0.8h-0.8zM77.5 527.3h0.8v0.8h-0.8zM77.9 526.6h0.8v0.8h-0.8zM75.2 526.0h0.8v0.8h-0.8z" fill="#e8432e" opacity="0.95"/><path d="M69.0 528.5h0.8v0.8h-0.8zM70.8 532.6h0.8v0.8h-0.8z" fill="#ffffff" opacity="0.8"/><ellipse cx="83.00" cy="520.70" rx="4.25" ry="3.91" fill="#e8432e" opacity="0.85" transform="rotate(0 83.00 520.70)" filter="url(#b05)"/><path d="M80.4 519.1h0.8v0.8h-0.8zM85.5 519.9h0.8v0.8h-0.8zM81.5 517.9h0.8v0.8h-0.8zM84.0 519.3h0.8v0.8h-0.8zM85.1 516.2h0.8v0.8h-0.8zM81.9 520.0h0.8v0.8h-0.8zM80.4 519.7h0.8v0.8h-0.8zM82.9 523.3h0.8v0.8h-0.8zM85.4 518.0h0.8v0.8h-0.8zM85.5 519.1h0.8v0.8h-0.8zM85.8 518.5h0.8v0.8h-0.8zM86.1 523.1h0.8v0.8h-0.8zM87.2 522.6h0.8v0.8h-0.8zM80.1 523.0h0.8v0.8h-0.8zM84.1 520.2h0.8v0.8h-0.8zM77.8 520.2h0.8v0.8h-0.8zM79.3 519.8h0.8v0.8h-0.8zM81.1 521.4h0.8v0.8h-0.8zM86.6 523.6h0.8v0.8h-0.8zM84.7 518.4h0.8v0.8h-0.8zM79.4 522.7h0.8v0.8h-0.8zM84.0 516.4h0.8v0.8h-0.8zM83.9 522.1h0.8v0.8h-0.8zM80.4 523.5h0.8v0.8h-0.8zM77.9 519.1h0.8v0.8h-0.8zM85.5 520.5h0.8v0.8h-0.8zM84.0 523.5h0.8v0.8h-0.8zM83.9 521.3h0.8v0.8h-0.8zM84.2 521.5h0.8v0.8h-0.8zM80.9 519.6h0.8v0.8h-0.8zM78.7 517.9h0.8v0.8h-0.8zM82.5 519.5h0.8v0.8h-0.8zM84.5 519.1h0.8v0.8h-0.8zM80.8 521.4h0.8v0.8h-0.8zM86.5 521.9h0.8v0.8h-0.8zM85.1 521.8h0.8v0.8h-0.8zM82.7 522.6h0.8v0.8h-0.8zM86.1 517.2h0.8v0.8h-0.8zM81.1 519.2h0.8v0.8h-0.8zM84.3 522.2h0.8v0.8h-0.8zM85.7 519.8h0.8v0.8h-0.8zM85.2 522.2h0.8v0.8h-0.8zM85.6 517.8h0.8v0.8h-0.8zM80.5 521.6h0.8v0.8h-0.8zM86.3 519.5h0.8v0.8h-0.8zM80.8 522.7h0.8v0.8h-0.8zM85.8 519.8h0.8v0.8h-0.8zM83.9 522.6h0.8v0.8h-0.8zM84.6 520.4h0.8v0.8h-0.8zM86.5 523.2h0.8v0.8h-0.8zM82.4 518.0h0.8v0.8h-0.8zM83.1 517.7h0.8v0.8h-0.8zM85.6 521.3h0.8v0.8h-0.8zM83.4 517.7h0.8v0.8h-0.8zM83.9 524.4h0.8v0.8h-0.8zM85.7 520.3h0.8v0.8h-0.8zM84.7 523.8h0.8v0.8h-0.8zM80.7 520.7h0.8v0.8h-0.8zM81.4 517.6h0.8v0.8h-0.8zM77.6 519.3h0.8v0.8h-0.8zM83.6 518.4h0.8v0.8h-0.8zM78.3 520.4h0.8v0.8h-0.8zM85.2 522.7h0.8v0.8h-0.8zM86.6 519.2h0.8v0.8h-0.8zM80.3 519.2h0.8v0.8h-0.8zM85.7 520.7h0.8v0.8h-0.8zM80.3 521.1h0.8v0.8h-0.8zM79.5 523.5h0.8v0.8h-0.8zM84.2 526.6h0.8v0.8h-0.8z" fill="#e8432e" opacity="0.95"/><path d="M86.8 520.0h0.8v0.8h-0.8zM86.2 520.6h0.8v0.8h-0.8z" fill="#ffffff" opacity="0.8"/><path d="M84.0 547.1h1.0v1.0h-1.0zM84.7 547.2h1.0v1.0h-1.0zM81.5 541.2h1.0v1.0h-1.0zM83.1 539.6h1.0v1.0h-1.0zM81.3 545.2h1.0v1.0h-1.0zM79.8 539.7h1.0v1.0h-1.0zM86.3 543.3h1.0v1.0h-1.0zM86.0 536.5h1.0v1.0h-1.0zM78.7 550.5h1.0v1.0h-1.0zM76.8 544.5h1.0v1.0h-1.0zM83.3 543.6h1.0v1.0h-1.0zM81.9 542.6h1.0v1.0h-1.0zM78.6 541.3h1.0v1.0h-1.0zM79.2 538.9h1.0v1.0h-1.0zM78.5 547.1h1.0v1.0h-1.0zM81.8 545.3h1.0v1.0h-1.0zM76.1 538.9h1.0v1.0h-1.0zM73.6 541.9h1.0v1.0h-1.0zM83.6 541.0h1.0v1.0h-1.0zM86.1 543.3h1.0v1.0h-1.0zM84.9 547.0h1.0v1.0h-1.0zM75.4 543.2h1.0v1.0h-1.0zM88.7 542.5h1.0v1.0h-1.0zM74.5 544.4h1.0v1.0h-1.0zM85.5 545.6h1.0v1.0h-1.0zM85.1 543.6h1.0v1.0h-1.0zM79.1 544.1h1.0v1.0h-1.0zM80.5 543.3h1.0v1.0h-1.0zM78.2 540.1h1.0v1.0h-1.0zM75.8 541.6h1.0v1.0h-1.0zM78.9 546.1h1.0v1.0h-1.0zM74.1 541.9h1.0v1.0h-1.0zM85.9 542.7h1.0v1.0h-1.0zM85.8 544.5h1.0v1.0h-1.0zM74.0 539.3h1.0v1.0h-1.0zM79.8 538.7h1.0v1.0h-1.0zM74.9 540.7h1.0v1.0h-1.0zM75.9 548.6h1.0v1.0h-1.0zM82.1 547.3h1.0v1.0h-1.0zM81.5 547.4h1.0v1.0h-1.0zM88.7 540.4h1.0v1.0h-1.0zM84.3 546.8h1.0v1.0h-1.0zM83.4 540.7h1.0v1.0h-1.0zM84.9 546.2h1.0v1.0h-1.0zM81.8 544.0h1.0v1.0h-1.0zM83.3 541.4h1.0v1.0h-1.0zM88.6 543.8h1.0v1.0h-1.0zM81.8 537.3h1.0v1.0h-1.0zM78.4 542.1h1.0v1.0h-1.0zM81.0 542.4h1.0v1.0h-1.0zM79.9 541.6h1.0v1.0h-1.0zM84.0 537.8h1.0v1.0h-1.0zM76.3 546.0h1.0v1.0h-1.0zM75.2 544.9h1.0v1.0h-1.0zM75.5 541.5h1.0v1.0h-1.0zM84.4 542.8h1.0v1.0h-1.0zM81.2 543.2h1.0v1.0h-1.0zM77.8 539.8h1.0v1.0h-1.0zM78.5 544.1h1.0v1.0h-1.0zM79.6 542.1h1.0v1.0h-1.0zM72.7 542.9h1.0v1.0h-1.0zM79.6 541.0h1.0v1.0h-1.0zM87.7 545.6h1.0v1.0h-1.0zM83.9 543.4h1.0v1.0h-1.0zM80.4 543.8h1.0v1.0h-1.0zM80.3 539.4h1.0v1.0h-1.0zM78.0 544.7h1.0v1.0h-1.0zM84.7 543.1h1.0v1.0h-1.0zM80.1 539.9h1.0v1.0h-1.0zM78.2 543.3h1.0v1.0h-1.0zM74.5 544.9h1.0v1.0h-1.0zM77.2 543.3h1.0v1.0h-1.0zM84.2 539.5h1.0v1.0h-1.0zM81.9 544.9h1.0v1.0h-1.0zM75.6 542.8h1.0v1.0h-1.0zM81.8 540.9h1.0v1.0h-1.0zM76.4 542.7h1.0v1.0h-1.0zM77.9 545.0h1.0v1.0h-1.0zM80.7 542.7h1.0v1.0h-1.0zM78.1 543.9h1.0v1.0h-1.0zM81.9 540.2h1.0v1.0h-1.0zM88.3 540.7h1.0v1.0h-1.0zM86.9 539.6h1.0v1.0h-1.0zM78.8 543.6h1.0v1.0h-1.0zM80.0 545.0h1.0v1.0h-1.0zM85.9 538.3h1.0v1.0h-1.0zM84.9 540.7h1.0v1.0h-1.0zM76.9 544.4h1.0v1.0h-1.0zM83.1 540.0h1.0v1.0h-1.0zM75.2 545.4h1.0v1.0h-1.0zM79.3 542.0h1.0v1.0h-1.0zM76.8 543.0h1.0v1.0h-1.0zM76.5 543.9h1.0v1.0h-1.0zM85.1 541.3h1.0v1.0h-1.0zM82.8 542.6h1.0v1.0h-1.0zM77.8 540.2h1.0v1.0h-1.0zM78.3 544.2h1.0v1.0h-1.0zM72.8 542.2h1.0v1.0h-1.0zM79.4 543.3h1.0v1.0h-1.0zM85.0 543.7h1.0v1.0h-1.0zM79.1 546.0h1.0v1.0h-1.0zM78.1 540.9h1.0v1.0h-1.0zM87.4 543.6h1.0v1.0h-1.0zM81.9 542.4h1.0v1.0h-1.0zM85.0 544.5h1.0v1.0h-1.0zM86.8 542.5h1.0v1.0h-1.0zM90.0 545.2h1.0v1.0h-1.0zM76.4 539.9h1.0v1.0h-1.0zM84.3 543.0h1.0v1.0h-1.0zM78.3 543.2h1.0v1.0h-1.0zM88.9 544.4h1.0v1.0h-1.0zM74.3 538.7h1.0v1.0h-1.0zM77.7 544.9h1.0v1.0h-1.0zM79.3 539.6h1.0v1.0h-1.0zM86.7 539.5h1.0v1.0h-1.0zM84.2 542.6h1.0v1.0h-1.0zM87.0 544.8h1.0v1.0h-1.0zM85.4 539.9h1.0v1.0h-1.0zM79.8 545.8h1.0v1.0h-1.0zM88.7 544.0h1.0v1.0h-1.0zM84.4 543.5h1.0v1.0h-1.0zM78.6 542.4h1.0v1.0h-1.0zM80.2 543.9h1.0v1.0h-1.0zM90.8 538.5h1.0v1.0h-1.0zM78.8 542.6h1.0v1.0h-1.0zM87.3 541.0h1.0v1.0h-1.0zM86.4 544.2h1.0v1.0h-1.0zM81.4 545.2h1.0v1.0h-1.0zM77.2 544.5h1.0v1.0h-1.0zM75.2 540.5h1.0v1.0h-1.0zM79.8 545.8h1.0v1.0h-1.0zM84.0 541.6h1.0v1.0h-1.0zM74.2 545.3h1.0v1.0h-1.0zM77.5 542.9h1.0v1.0h-1.0zM88.7 537.7h1.0v1.0h-1.0zM85.8 541.4h1.0v1.0h-1.0zM76.8 541.4h1.0v1.0h-1.0zM81.2 547.4h1.0v1.0h-1.0zM79.2 545.2h1.0v1.0h-1.0zM79.4 548.3h1.0v1.0h-1.0zM81.6 541.7h1.0v1.0h-1.0zM71.1 545.8h1.0v1.0h-1.0zM82.2 539.4h1.0v1.0h-1.0zM79.8 543.5h1.0v1.0h-1.0zM85.8 545.0h1.0v1.0h-1.0zM84.5 541.3h1.0v1.0h-1.0zM75.3 539.9h1.0v1.0h-1.0zM82.9 542.9h1.0v1.0h-1.0zM71.3 544.0h1.0v1.0h-1.0zM79.7 538.6h1.0v1.0h-1.0zM72.2 543.0h1.0v1.0h-1.0zM85.4 543.0h1.0v1.0h-1.0zM72.3 542.7h1.0v1.0h-1.0zM78.6 542.7h1.0v1.0h-1.0zM87.0 544.2h1.0v1.0h-1.0zM76.2 541.8h1.0v1.0h-1.0zM83.4 543.9h1.0v1.0h-1.0zM80.0 547.7h1.0v1.0h-1.0zM81.2 542.5h1.0v1.0h-1.0zM80.9 547.9h1.0v1.0h-1.0zM85.6 540.7h1.0v1.0h-1.0zM79.9 548.6h1.0v1.0h-1.0zM82.0 545.0h1.0v1.0h-1.0zM78.2 546.6h1.0v1.0h-1.0zM77.0 546.4h1.0v1.0h-1.0zM74.3 540.2h1.0v1.0h-1.0zM87.9 544.4h1.0v1.0h-1.0zM83.0 540.1h1.0v1.0h-1.0zM78.8 545.3h1.0v1.0h-1.0zM82.1 540.1h1.0v1.0h-1.0zM82.7 543.5h1.0v1.0h-1.0zM83.6 537.3h1.0v1.0h-1.0zM79.6 543.2h1.0v1.0h-1.0zM84.3 541.8h1.0v1.0h-1.0zM81.7 546.8h1.0v1.0h-1.0zM76.3 541.8h1.0v1.0h-1.0zM85.0 542.2h1.0v1.0h-1.0zM82.3 546.8h1.0v1.0h-1.0zM81.1 540.4h1.0v1.0h-1.0zM82.1 545.4h1.0v1.0h-1.0zM86.3 547.8h1.0v1.0h-1.0zM78.7 545.2h1.0v1.0h-1.0zM86.8 544.7h1.0v1.0h-1.0zM84.9 546.0h1.0v1.0h-1.0zM82.9 542.7h1.0v1.0h-1.0zM73.7 542.8h1.0v1.0h-1.0zM79.2 546.0h1.0v1.0h-1.0zM80.2 538.9h1.0v1.0h-1.0zM86.7 543.8h1.0v1.0h-1.0zM83.4 541.5h1.0v1.0h-1.0z" fill="#1b9a7e" opacity="0.9"/><path d="M73.2 547.0h1.0v1.0h-1.0zM62.7 547.3h1.0v1.0h-1.0zM76.9 552.4h1.0v1.0h-1.0zM72.2 547.0h1.0v1.0h-1.0zM58.3 548.1h1.0v1.0h-1.0zM70.3 543.6h1.0v1.0h-1.0zM65.9 546.4h1.0v1.0h-1.0zM79.1 543.7h1.0v1.0h-1.0zM66.2 546.2h1.0v1.0h-1.0zM75.7 545.4h1.0v1.0h-1.0zM60.6 547.2h1.0v1.0h-1.0zM69.3 544.1h1.0v1.0h-1.0zM72.8 553.1h1.0v1.0h-1.0zM80.6 549.9h1.0v1.0h-1.0zM68.7 544.5h1.0v1.0h-1.0zM76.3 549.3h1.0v1.0h-1.0zM64.4 552.2h1.0v1.0h-1.0zM67.4 545.0h1.0v1.0h-1.0zM71.0 547.1h1.0v1.0h-1.0zM73.9 540.2h1.0v1.0h-1.0zM70.7 543.1h1.0v1.0h-1.0zM82.9 545.1h1.0v1.0h-1.0zM68.9 542.4h1.0v1.0h-1.0zM72.1 548.3h1.0v1.0h-1.0zM63.8 548.2h1.0v1.0h-1.0zM64.7 541.4h1.0v1.0h-1.0zM58.4 541.6h1.0v1.0h-1.0zM77.1 544.6h1.0v1.0h-1.0zM79.8 546.3h1.0v1.0h-1.0zM74.6 546.4h1.0v1.0h-1.0zM59.5 550.3h1.0v1.0h-1.0zM65.3 547.2h1.0v1.0h-1.0zM73.1 543.7h1.0v1.0h-1.0zM82.4 546.9h1.0v1.0h-1.0zM67.4 547.6h1.0v1.0h-1.0zM73.8 548.6h1.0v1.0h-1.0zM65.4 549.6h1.0v1.0h-1.0zM60.3 543.1h1.0v1.0h-1.0zM69.5 543.3h1.0v1.0h-1.0zM72.7 546.4h1.0v1.0h-1.0zM67.9 545.9h1.0v1.0h-1.0zM78.1 549.7h1.0v1.0h-1.0zM78.1 542.4h1.0v1.0h-1.0zM63.7 547.0h1.0v1.0h-1.0zM71.4 547.6h1.0v1.0h-1.0zM68.3 544.8h1.0v1.0h-1.0zM64.7 546.8h1.0v1.0h-1.0zM75.0 546.0h1.0v1.0h-1.0zM79.4 548.3h1.0v1.0h-1.0zM66.6 545.3h1.0v1.0h-1.0zM75.1 545.9h1.0v1.0h-1.0zM78.7 550.0h1.0v1.0h-1.0zM64.0 541.3h1.0v1.0h-1.0zM58.2 546.9h1.0v1.0h-1.0zM69.1 548.9h1.0v1.0h-1.0zM64.2 546.7h1.0v1.0h-1.0zM77.3 546.2h1.0v1.0h-1.0zM63.8 546.4h1.0v1.0h-1.0zM72.4 550.1h1.0v1.0h-1.0zM77.6 544.4h1.0v1.0h-1.0zM74.2 553.2h1.0v1.0h-1.0zM77.5 550.6h1.0v1.0h-1.0zM57.6 548.1h1.0v1.0h-1.0zM68.4 546.6h1.0v1.0h-1.0zM73.3 538.4h1.0v1.0h-1.0zM66.5 551.1h1.0v1.0h-1.0zM74.3 543.4h1.0v1.0h-1.0zM76.4 542.0h1.0v1.0h-1.0zM66.9 547.8h1.0v1.0h-1.0zM71.2 553.1h1.0v1.0h-1.0zM62.0 547.0h1.0v1.0h-1.0zM64.9 544.0h1.0v1.0h-1.0zM62.4 548.7h1.0v1.0h-1.0zM62.9 551.5h1.0v1.0h-1.0zM73.5 544.6h1.0v1.0h-1.0zM73.4 546.4h1.0v1.0h-1.0zM77.5 547.7h1.0v1.0h-1.0zM64.1 553.4h1.0v1.0h-1.0zM65.7 543.1h1.0v1.0h-1.0zM64.6 552.5h1.0v1.0h-1.0zM67.4 551.8h1.0v1.0h-1.0zM68.5 549.0h1.0v1.0h-1.0zM72.0 543.7h1.0v1.0h-1.0zM79.0 541.5h1.0v1.0h-1.0zM74.2 546.6h1.0v1.0h-1.0zM69.6 554.5h1.0v1.0h-1.0zM61.5 550.3h1.0v1.0h-1.0zM69.9 553.1h1.0v1.0h-1.0zM81.4 544.3h1.0v1.0h-1.0zM54.3 551.5h1.0v1.0h-1.0zM67.4 546.7h1.0v1.0h-1.0zM68.0 549.6h1.0v1.0h-1.0zM64.3 540.8h1.0v1.0h-1.0zM81.8 547.9h1.0v1.0h-1.0zM72.7 546.8h1.0v1.0h-1.0zM75.1 547.7h1.0v1.0h-1.0zM66.1 544.6h1.0v1.0h-1.0zM73.8 542.7h1.0v1.0h-1.0zM61.9 551.2h1.0v1.0h-1.0zM68.4 546.3h1.0v1.0h-1.0zM66.4 541.6h1.0v1.0h-1.0zM71.4 550.5h1.0v1.0h-1.0zM81.3 546.4h1.0v1.0h-1.0zM65.4 552.9h1.0v1.0h-1.0zM82.2 549.7h1.0v1.0h-1.0zM71.2 550.9h1.0v1.0h-1.0zM68.7 545.0h1.0v1.0h-1.0zM69.4 543.3h1.0v1.0h-1.0zM68.1 549.3h1.0v1.0h-1.0zM68.0 546.9h1.0v1.0h-1.0zM79.3 540.3h1.0v1.0h-1.0zM66.7 548.5h1.0v1.0h-1.0zM71.2 540.9h1.0v1.0h-1.0zM74.4 548.6h1.0v1.0h-1.0zM69.3 545.8h1.0v1.0h-1.0zM70.3 541.2h1.0v1.0h-1.0zM73.5 549.2h1.0v1.0h-1.0zM64.3 547.8h1.0v1.0h-1.0zM71.9 547.3h1.0v1.0h-1.0zM73.6 542.1h1.0v1.0h-1.0zM62.0 549.9h1.0v1.0h-1.0zM67.3 545.6h1.0v1.0h-1.0zM75.4 543.2h1.0v1.0h-1.0zM71.5 539.0h1.0v1.0h-1.0zM63.6 541.8h1.0v1.0h-1.0zM66.8 549.2h1.0v1.0h-1.0zM60.0 548.4h1.0v1.0h-1.0zM75.9 544.4h1.0v1.0h-1.0zM58.5 547.2h1.0v1.0h-1.0zM69.4 545.6h1.0v1.0h-1.0zM73.8 545.8h1.0v1.0h-1.0zM77.5 551.3h1.0v1.0h-1.0zM83.2 542.8h1.0v1.0h-1.0zM68.5 551.0h1.0v1.0h-1.0zM60.4 544.0h1.0v1.0h-1.0zM63.4 544.7h1.0v1.0h-1.0zM72.2 545.2h1.0v1.0h-1.0zM59.3 548.1h1.0v1.0h-1.0zM79.1 545.3h1.0v1.0h-1.0zM78.6 548.6h1.0v1.0h-1.0zM61.3 539.3h1.0v1.0h-1.0zM78.3 548.4h1.0v1.0h-1.0zM65.5 551.1h1.0v1.0h-1.0zM73.8 544.5h1.0v1.0h-1.0zM60.7 544.4h1.0v1.0h-1.0zM72.7 547.4h1.0v1.0h-1.0zM81.6 549.0h1.0v1.0h-1.0zM62.4 545.5h1.0v1.0h-1.0zM65.0 545.0h1.0v1.0h-1.0zM69.2 540.8h1.0v1.0h-1.0zM81.3 549.8h1.0v1.0h-1.0zM76.9 549.1h1.0v1.0h-1.0zM74.0 547.3h1.0v1.0h-1.0zM64.5 549.0h1.0v1.0h-1.0zM78.0 545.5h1.0v1.0h-1.0zM70.8 550.9h1.0v1.0h-1.0zM73.4 545.6h1.0v1.0h-1.0zM66.2 542.2h1.0v1.0h-1.0zM75.3 550.7h1.0v1.0h-1.0zM69.9 549.9h1.0v1.0h-1.0zM63.8 546.2h1.0v1.0h-1.0zM66.4 544.3h1.0v1.0h-1.0zM63.6 550.2h1.0v1.0h-1.0zM70.3 549.8h1.0v1.0h-1.0zM60.5 546.1h1.0v1.0h-1.0zM64.5 551.3h1.0v1.0h-1.0zM84.3 551.1h1.0v1.0h-1.0zM79.7 544.9h1.0v1.0h-1.0zM64.0 543.8h1.0v1.0h-1.0zM75.9 544.1h1.0v1.0h-1.0z" fill="#1b9a7e" opacity="0.9"/><path d="M55.0 557.6h1.0v1.0h-1.0zM64.6 555.8h1.0v1.0h-1.0zM58.1 556.7h1.0v1.0h-1.0zM62.5 548.7h1.0v1.0h-1.0zM49.6 557.1h1.0v1.0h-1.0zM57.5 555.8h1.0v1.0h-1.0zM53.4 550.4h1.0v1.0h-1.0zM58.2 549.1h1.0v1.0h-1.0zM52.9 549.5h1.0v1.0h-1.0zM60.4 556.4h1.0v1.0h-1.0zM55.4 556.3h1.0v1.0h-1.0zM61.7 554.1h1.0v1.0h-1.0zM60.0 555.2h1.0v1.0h-1.0zM57.2 553.6h1.0v1.0h-1.0zM63.5 553.6h1.0v1.0h-1.0zM50.8 551.8h1.0v1.0h-1.0zM67.2 553.0h1.0v1.0h-1.0zM56.4 553.4h1.0v1.0h-1.0zM49.9 555.7h1.0v1.0h-1.0zM54.6 549.8h1.0v1.0h-1.0zM49.0 554.0h1.0v1.0h-1.0zM55.0 555.0h1.0v1.0h-1.0zM55.8 550.5h1.0v1.0h-1.0zM61.1 549.3h1.0v1.0h-1.0zM61.3 551.7h1.0v1.0h-1.0zM56.1 558.0h1.0v1.0h-1.0zM65.1 554.8h1.0v1.0h-1.0zM57.8 550.6h1.0v1.0h-1.0zM58.3 556.0h1.0v1.0h-1.0zM51.0 551.6h1.0v1.0h-1.0zM56.2 552.8h1.0v1.0h-1.0zM55.2 555.3h1.0v1.0h-1.0zM50.8 551.5h1.0v1.0h-1.0zM59.9 550.8h1.0v1.0h-1.0zM58.9 550.8h1.0v1.0h-1.0zM59.2 552.5h1.0v1.0h-1.0zM62.3 550.0h1.0v1.0h-1.0zM61.1 553.9h1.0v1.0h-1.0zM58.5 555.1h1.0v1.0h-1.0zM52.5 555.2h1.0v1.0h-1.0zM58.8 552.3h1.0v1.0h-1.0zM57.7 554.4h1.0v1.0h-1.0zM49.2 553.5h1.0v1.0h-1.0zM53.8 553.2h1.0v1.0h-1.0zM64.2 555.9h1.0v1.0h-1.0zM55.2 549.0h1.0v1.0h-1.0zM55.4 554.3h1.0v1.0h-1.0zM52.6 553.6h1.0v1.0h-1.0zM52.5 553.2h1.0v1.0h-1.0zM59.2 550.0h1.0v1.0h-1.0z" fill="#1b9a7e" opacity="0.9"/><path d="M88.1 549.1h1.0v1.0h-1.0zM88.1 549.6h1.0v1.0h-1.0zM91.5 548.3h1.0v1.0h-1.0zM88.4 549.2h1.0v1.0h-1.0zM93.3 548.9h1.0v1.0h-1.0zM91.1 550.0h1.0v1.0h-1.0zM94.1 547.7h1.0v1.0h-1.0zM93.1 546.5h1.0v1.0h-1.0zM90.9 544.3h1.0v1.0h-1.0zM86.5 546.0h1.0v1.0h-1.0zM86.7 545.3h1.0v1.0h-1.0zM91.3 545.6h1.0v1.0h-1.0zM91.1 549.4h1.0v1.0h-1.0zM88.6 546.7h1.0v1.0h-1.0zM93.0 546.8h1.0v1.0h-1.0zM93.0 547.8h1.0v1.0h-1.0zM95.5 545.7h1.0v1.0h-1.0zM93.1 545.4h1.0v1.0h-1.0zM89.8 547.8h1.0v1.0h-1.0zM93.1 546.9h1.0v1.0h-1.0zM91.9 546.5h1.0v1.0h-1.0zM93.2 548.7h1.0v1.0h-1.0zM90.4 549.7h1.0v1.0h-1.0zM94.2 548.1h1.0v1.0h-1.0zM93.0 552.2h1.0v1.0h-1.0zM90.1 547.1h1.0v1.0h-1.0zM91.1 547.3h1.0v1.0h-1.0zM96.2 549.7h1.0v1.0h-1.0zM94.6 548.3h1.0v1.0h-1.0zM92.2 548.8h1.0v1.0h-1.0zM89.2 550.1h1.0v1.0h-1.0zM90.9 545.8h1.0v1.0h-1.0zM90.2 551.7h1.0v1.0h-1.0zM94.3 548.2h1.0v1.0h-1.0zM91.2 551.7h1.0v1.0h-1.0zM87.7 544.2h1.0v1.0h-1.0zM90.3 547.5h1.0v1.0h-1.0zM92.5 549.4h1.0v1.0h-1.0zM91.7 550.6h1.0v1.0h-1.0zM92.5 543.9h1.0v1.0h-1.0z" fill="#1b9a7e" opacity="0.9"/></g>
<g clip-path="url(#cd1)"><path d="M149.1 549.3h1.0v1.0h-1.0zM135.2 544.8h1.0v1.0h-1.0zM125.7 545.9h1.0v1.0h-1.0zM128.0 554.9h1.0v1.0h-1.0zM129.8 551.9h1.0v1.0h-1.0zM124.9 543.2h1.0v1.0h-1.0zM138.8 538.5h1.0v1.0h-1.0zM149.4 547.9h1.0v1.0h-1.0zM161.8 547.0h1.0v1.0h-1.0zM133.0 543.2h1.0v1.0h-1.0zM131.7 542.5h1.0v1.0h-1.0zM140.5 547.0h1.0v1.0h-1.0zM133.7 540.9h1.0v1.0h-1.0zM137.8 536.0h1.0v1.0h-1.0zM143.4 541.9h1.0v1.0h-1.0zM142.8 549.8h1.0v1.0h-1.0zM133.1 546.7h1.0v1.0h-1.0zM139.8 539.1h1.0v1.0h-1.0zM148.3 546.4h1.0v1.0h-1.0zM139.0 541.4h1.0v1.0h-1.0zM145.0 529.5h1.0v1.0h-1.0zM153.8 547.2h1.0v1.0h-1.0zM146.2 535.0h1.0v1.0h-1.0zM140.9 537.9h1.0v1.0h-1.0zM133.1 540.2h1.0v1.0h-1.0zM140.5 542.0h1.0v1.0h-1.0zM125.7 543.5h1.0v1.0h-1.0zM126.5 551.3h1.0v1.0h-1.0zM153.5 546.1h1.0v1.0h-1.0zM123.5 538.9h1.0v1.0h-1.0zM147.9 541.1h1.0v1.0h-1.0zM135.5 557.4h1.0v1.0h-1.0zM132.6 545.7h1.0v1.0h-1.0zM151.6 552.1h1.0v1.0h-1.0zM148.6 552.3h1.0v1.0h-1.0zM130.0 538.8h1.0v1.0h-1.0zM155.3 537.4h1.0v1.0h-1.0zM133.8 545.8h1.0v1.0h-1.0zM154.7 546.7h1.0v1.0h-1.0zM134.4 542.8h1.0v1.0h-1.0zM144.3 542.3h1.0v1.0h-1.0zM129.6 536.4h1.0v1.0h-1.0zM146.0 543.0h1.0v1.0h-1.0zM128.6 549.2h1.0v1.0h-1.0zM129.2 546.0h1.0v1.0h-1.0zM129.9 554.1h1.0v1.0h-1.0zM137.2 535.3h1.0v1.0h-1.0zM156.1 545.2h1.0v1.0h-1.0zM149.8 542.1h1.0v1.0h-1.0zM138.3 553.9h1.0v1.0h-1.0zM135.9 545.9h1.0v1.0h-1.0zM140.3 543.8h1.0v1.0h-1.0zM150.4 548.6h1.0v1.0h-1.0zM126.3 542.0h1.0v1.0h-1.0zM118.5 551.3h1.0v1.0h-1.0zM124.6 542.7h1.0v1.0h-1.0zM146.2 550.5h1.0v1.0h-1.0zM136.9 543.9h1.0v1.0h-1.0zM133.7 558.7h1.0v1.0h-1.0zM120.1 540.8h1.0v1.0h-1.0zM132.3 549.7h1.0v1.0h-1.0zM134.3 545.8h1.0v1.0h-1.0zM130.2 548.6h1.0v1.0h-1.0zM137.0 541.0h1.0v1.0h-1.0zM137.6 549.0h1.0v1.0h-1.0zM155.7 553.7h1.0v1.0h-1.0zM158.0 550.0h1.0v1.0h-1.0zM141.9 533.4h1.0v1.0h-1.0zM133.9 537.2h1.0v1.0h-1.0zM150.5 545.0h1.0v1.0h-1.0zM137.1 547.7h1.0v1.0h-1.0zM146.1 545.9h1.0v1.0h-1.0zM133.2 552.5h1.0v1.0h-1.0zM135.5 539.2h1.0v1.0h-1.0zM133.4 545.7h1.0v1.0h-1.0zM135.2 544.3h1.0v1.0h-1.0zM124.6 555.6h1.0v1.0h-1.0zM123.9 538.2h1.0v1.0h-1.0zM128.4 548.8h1.0v1.0h-1.0zM146.7 548.8h1.0v1.0h-1.0zM130.7 540.9h1.0v1.0h-1.0zM143.7 541.9h1.0v1.0h-1.0zM141.4 534.8h1.0v1.0h-1.0zM155.7 544.7h1.0v1.0h-1.0zM137.7 540.1h1.0v1.0h-1.0zM148.3 543.3h1.0v1.0h-1.0zM127.1 545.5h1.0v1.0h-1.0zM129.8 536.7h1.0v1.0h-1.0zM129.3 549.3h1.0v1.0h-1.0zM148.1 544.5h1.0v1.0h-1.0zM150.0 546.4h1.0v1.0h-1.0zM118.3 551.4h1.0v1.0h-1.0zM142.8 540.5h1.0v1.0h-1.0zM120.5 548.4h1.0v1.0h-1.0zM139.9 553.9h1.0v1.0h-1.0zM137.0 535.5h1.0v1.0h-1.0zM147.7 549.0h1.0v1.0h-1.0zM147.2 548.5h1.0v1.0h-1.0zM135.3 549.9h1.0v1.0h-1.0zM147.8 536.1h1.0v1.0h-1.0zM144.6 536.6h1.0v1.0h-1.0zM132.2 546.1h1.0v1.0h-1.0zM148.1 544.3h1.0v1.0h-1.0zM139.2 551.6h1.0v1.0h-1.0zM136.3 543.0h1.0v1.0h-1.0zM152.5 553.1h1.0v1.0h-1.0zM126.2 541.6h1.0v1.0h-1.0zM129.6 545.9h1.0v1.0h-1.0zM124.6 548.1h1.0v1.0h-1.0zM152.9 544.4h1.0v1.0h-1.0zM130.0 547.5h1.0v1.0h-1.0zM135.3 546.0h1.0v1.0h-1.0zM142.5 538.5h1.0v1.0h-1.0zM137.5 539.6h1.0v1.0h-1.0zM141.8 543.0h1.0v1.0h-1.0zM137.3 547.0h1.0v1.0h-1.0zM133.4 554.7h1.0v1.0h-1.0zM128.8 548.8h1.0v1.0h-1.0zM119.1 544.2h1.0v1.0h-1.0zM145.4 539.8h1.0v1.0h-1.0zM142.2 535.2h1.0v1.0h-1.0zM143.2 536.5h1.0v1.0h-1.0zM136.1 540.7h1.0v1.0h-1.0zM124.5 539.3h1.0v1.0h-1.0zM134.7 547.5h1.0v1.0h-1.0zM119.4 541.9h1.0v1.0h-1.0zM145.1 550.2h1.0v1.0h-1.0zM137.6 532.5h1.0v1.0h-1.0zM117.1 544.0h1.0v1.0h-1.0zM154.4 537.5h1.0v1.0h-1.0zM135.7 542.4h1.0v1.0h-1.0zM125.8 549.3h1.0v1.0h-1.0zM136.9 545.4h1.0v1.0h-1.0zM131.3 551.5h1.0v1.0h-1.0zM151.2 538.9h1.0v1.0h-1.0zM125.2 551.6h1.0v1.0h-1.0zM145.8 536.5h1.0v1.0h-1.0zM146.4 542.1h1.0v1.0h-1.0zM132.8 549.1h1.0v1.0h-1.0zM142.3 535.5h1.0v1.0h-1.0zM120.2 539.4h1.0v1.0h-1.0zM128.1 540.3h1.0v1.0h-1.0zM122.0 536.7h1.0v1.0h-1.0zM135.3 552.3h1.0v1.0h-1.0zM152.5 541.8h1.0v1.0h-1.0zM142.7 551.9h1.0v1.0h-1.0zM143.3 557.5h1.0v1.0h-1.0zM133.2 545.6h1.0v1.0h-1.0zM133.2 543.2h1.0v1.0h-1.0zM136.0 547.4h1.0v1.0h-1.0zM143.4 546.3h1.0v1.0h-1.0zM149.2 550.6h1.0v1.0h-1.0zM143.0 539.6h1.0v1.0h-1.0zM115.8 542.0h1.0v1.0h-1.0zM149.1 544.2h1.0v1.0h-1.0zM149.4 543.2h1.0v1.0h-1.0zM135.7 548.4h1.0v1.0h-1.0zM123.4 547.3h1.0v1.0h-1.0zM142.6 555.6h1.0v1.0h-1.0zM129.2 545.0h1.0v1.0h-1.0zM127.3 542.9h1.0v1.0h-1.0zM142.6 545.0h1.0v1.0h-1.0zM142.1 557.5h1.0v1.0h-1.0zM130.0 546.9h1.0v1.0h-1.0zM130.4 554.2h1.0v1.0h-1.0zM138.5 537.6h1.0v1.0h-1.0zM147.5 552.4h1.0v1.0h-1.0zM144.2 541.7h1.0v1.0h-1.0zM137.9 551.8h1.0v1.0h-1.0zM123.0 542.3h1.0v1.0h-1.0zM144.4 541.4h1.0v1.0h-1.0zM138.5 556.2h1.0v1.0h-1.0zM131.3 553.5h1.0v1.0h-1.0zM117.6 543.9h1.0v1.0h-1.0zM156.9 543.7h1.0v1.0h-1.0zM137.1 544.7h1.0v1.0h-1.0zM140.6 536.6h1.0v1.0h-1.0zM131.5 532.1h1.0v1.0h-1.0zM123.8 538.0h1.0v1.0h-1.0zM130.2 554.8h1.0v1.0h-1.0zM134.1 538.4h1.0v1.0h-1.0zM125.2 532.5h1.0v1.0h-1.0zM154.1 548.2h1.0v1.0h-1.0zM128.3 551.9h1.0v1.0h-1.0zM124.4 544.8h1.0v1.0h-1.0zM131.3 544.1h1.0v1.0h-1.0zM144.1 547.0h1.0v1.0h-1.0zM139.5 542.9h1.0v1.0h-1.0zM143.6 551.6h1.0v1.0h-1.0zM131.7 536.4h1.0v1.0h-1.0zM148.2 544.7h1.0v1.0h-1.0zM142.4 546.1h1.0v1.0h-1.0zM130.5 552.4h1.0v1.0h-1.0zM138.7 554.7h1.0v1.0h-1.0zM131.6 542.3h1.0v1.0h-1.0zM142.9 536.8h1.0v1.0h-1.0zM129.2 549.3h1.0v1.0h-1.0zM151.2 540.3h1.0v1.0h-1.0zM143.8 550.1h1.0v1.0h-1.0zM136.4 539.7h1.0v1.0h-1.0z" fill="#1b9a7e" opacity="0.9"/><path d="M155.5 524.2h0.8v0.8h-0.8zM148.7 530.1h0.8v0.8h-0.8zM148.0 521.4h0.8v0.8h-0.8zM153.7 525.1h0.8v0.8h-0.8zM149.8 520.4h0.8v0.8h-0.8zM152.0 520.3h0.8v0.8h-0.8zM149.7 527.3h0.8v0.8h-0.8zM149.4 526.6h0.8v0.8h-0.8zM147.5 524.4h0.8v0.8h-0.8zM153.3 523.6h0.8v0.8h-0.8zM151.5 518.2h0.8v0.8h-0.8zM150.1 524.5h0.8v0.8h-0.8zM151.6 529.5h0.8v0.8h-0.8zM147.2 529.2h0.8v0.8h-0.8zM149.7 528.3h0.8v0.8h-0.8zM147.0 522.6h0.8v0.8h-0.8zM148.5 520.2h0.8v0.8h-0.8zM148.3 530.1h0.8v0.8h-0.8zM148.2 525.0h0.8v0.8h-0.8zM150.0 522.1h0.8v0.8h-0.8zM153.4 520.2h0.8v0.8h-0.8zM152.2 518.7h0.8v0.8h-0.8zM149.9 525.1h0.8v0.8h-0.8zM152.5 524.3h0.8v0.8h-0.8zM153.0 525.6h0.8v0.8h-0.8zM151.1 522.5h0.8v0.8h-0.8zM150.9 521.4h0.8v0.8h-0.8zM148.3 524.7h0.8v0.8h-0.8zM153.5 521.2h0.8v0.8h-0.8zM153.5 519.5h0.8v0.8h-0.8zM152.1 526.3h0.8v0.8h-0.8zM151.2 516.8h0.8v0.8h-0.8zM151.2 523.8h0.8v0.8h-0.8zM151.3 523.0h0.8v0.8h-0.8zM153.3 524.7h0.8v0.8h-0.8zM148.0 528.0h0.8v0.8h-0.8zM149.0 522.0h0.8v0.8h-0.8zM153.3 525.7h0.8v0.8h-0.8zM148.5 523.9h0.8v0.8h-0.8zM147.9 526.2h0.8v0.8h-0.8zM155.2 524.6h0.8v0.8h-0.8zM151.5 519.6h0.8v0.8h-0.8zM148.1 527.0h0.8v0.8h-0.8zM150.1 523.3h0.8v0.8h-0.8zM149.0 528.2h0.8v0.8h-0.8zM152.5 523.3h0.8v0.8h-0.8zM148.3 523.4h0.8v0.8h-0.8zM150.0 526.5h0.8v0.8h-0.8zM153.0 525.5h0.8v0.8h-0.8zM149.9 523.8h0.8v0.8h-0.8zM149.0 516.5h0.8v0.8h-0.8zM150.0 525.7h0.8v0.8h-0.8zM151.3 522.9h0.8v0.8h-0.8zM150.1 522.1h0.8v0.8h-0.8zM150.9 518.4h0.8v0.8h-0.8zM150.4 526.0h0.8v0.8h-0.8zM150.5 526.4h0.8v0.8h-0.8zM149.8 522.7h0.8v0.8h-0.8zM149.0 521.3h0.8v0.8h-0.8zM146.0 524.1h0.8v0.8h-0.8z" fill="#e8432e" opacity="0.9"/><ellipse cx="112.00" cy="520.50" rx="7.22" ry="8.92" fill="#e8432e" opacity="0.85" transform="rotate(0 112.00 520.50)" filter="url(#b05)"/><ellipse cx="108.00" cy="525.00" rx="3.82" ry="4.25" fill="#e8432e" opacity="0.85" transform="rotate(0 108.00 525.00)" filter="url(#b05)"/><ellipse cx="116.00" cy="513.50" rx="4.25" ry="4.25" fill="#e8432e" opacity="0.85" transform="rotate(0 116.00 513.50)" filter="url(#b05)"/><path d="M107.4 523.4h0.8v0.8h-0.8zM107.3 511.8h0.8v0.8h-0.8zM106.3 518.9h0.8v0.8h-0.8zM110.2 530.1h0.8v0.8h-0.8zM112.9 509.3h0.8v0.8h-0.8zM106.6 521.8h0.8v0.8h-0.8zM117.6 524.3h0.8v0.8h-0.8zM103.9 526.8h0.8v0.8h-0.8zM120.8 516.8h0.8v0.8h-0.8zM111.1 526.8h0.8v0.8h-0.8zM110.9 514.8h0.8v0.8h-0.8zM110.7 515.4h0.8v0.8h-0.8zM115.9 516.1h0.8v0.8h-0.8zM117.3 514.9h0.8v0.8h-0.8zM111.7 518.6h0.8v0.8h-0.8zM113.7 523.2h0.8v0.8h-0.8zM104.5 514.8h0.8v0.8h-0.8zM106.5 521.5h0.8v0.8h-0.8zM115.9 517.9h0.8v0.8h-0.8zM109.9 522.9h0.8v0.8h-0.8zM105.1 522.4h0.8v0.8h-0.8zM117.8 525.9h0.8v0.8h-0.8zM116.1 514.4h0.8v0.8h-0.8zM104.4 522.0h0.8v0.8h-0.8zM111.0 521.2h0.8v0.8h-0.8zM116.7 514.0h0.8v0.8h-0.8zM117.5 523.6h0.8v0.8h-0.8zM113.5 527.7h0.8v0.8h-0.8zM115.2 512.7h0.8v0.8h-0.8zM113.3 520.3h0.8v0.8h-0.8zM107.9 528.2h0.8v0.8h-0.8zM116.4 526.8h0.8v0.8h-0.8zM117.6 524.2h0.8v0.8h-0.8zM115.6 528.7h0.8v0.8h-0.8zM110.3 513.9h0.8v0.8h-0.8zM106.7 524.0h0.8v0.8h-0.8zM109.1 526.5h0.8v0.8h-0.8zM118.7 521.1h0.8v0.8h-0.8zM111.2 512.2h0.8v0.8h-0.8zM105.6 521.7h0.8v0.8h-0.8zM113.9 515.3h0.8v0.8h-0.8zM111.3 513.7h0.8v0.8h-0.8zM114.3 521.7h0.8v0.8h-0.8zM109.2 521.7h0.8v0.8h-0.8zM119.0 525.8h0.8v0.8h-0.8zM112.6 519.2h0.8v0.8h-0.8zM113.0 521.2h0.8v0.8h-0.8zM113.6 529.9h0.8v0.8h-0.8zM110.7 513.2h0.8v0.8h-0.8zM109.1 519.7h0.8v0.8h-0.8zM106.1 519.7h0.8v0.8h-0.8zM115.3 512.8h0.8v0.8h-0.8zM109.2 526.2h0.8v0.8h-0.8zM113.2 529.1h0.8v0.8h-0.8zM111.2 510.7h0.8v0.8h-0.8zM113.1 522.1h0.8v0.8h-0.8zM110.0 526.2h0.8v0.8h-0.8zM112.0 516.5h0.8v0.8h-0.8zM118.8 527.3h0.8v0.8h-0.8zM105.8 514.6h0.8v0.8h-0.8zM103.1 521.3h0.8v0.8h-0.8zM105.6 525.7h0.8v0.8h-0.8zM118.1 524.5h0.8v0.8h-0.8zM111.1 531.1h0.8v0.8h-0.8zM113.5 522.9h0.8v0.8h-0.8zM116.4 517.9h0.8v0.8h-0.8zM111.4 529.6h0.8v0.8h-0.8zM113.5 531.3h0.8v0.8h-0.8zM115.5 519.1h0.8v0.8h-0.8zM108.5 526.9h0.8v0.8h-0.8zM116.8 529.0h0.8v0.8h-0.8zM114.3 525.1h0.8v0.8h-0.8zM106.5 520.0h0.8v0.8h-0.8zM105.9 517.1h0.8v0.8h-0.8zM108.1 519.0h0.8v0.8h-0.8zM116.1 529.6h0.8v0.8h-0.8zM113.2 516.6h0.8v0.8h-0.8zM114.5 526.4h0.8v0.8h-0.8zM111.5 515.4h0.8v0.8h-0.8zM118.1 514.2h0.8v0.8h-0.8zM103.9 527.0h0.8v0.8h-0.8zM120.2 521.0h0.8v0.8h-0.8zM110.6 519.8h0.8v0.8h-0.8zM106.7 525.5h0.8v0.8h-0.8zM116.2 523.6h0.8v0.8h-0.8zM118.6 520.1h0.8v0.8h-0.8zM114.9 518.7h0.8v0.8h-0.8zM108.2 523.9h0.8v0.8h-0.8zM111.6 513.6h0.8v0.8h-0.8zM114.3 512.0h0.8v0.8h-0.8zM118.6 515.8h0.8v0.8h-0.8zM113.4 527.3h0.8v0.8h-0.8zM117.5 527.1h0.8v0.8h-0.8zM111.8 523.1h0.8v0.8h-0.8zM114.8 516.8h0.8v0.8h-0.8zM119.3 523.0h0.8v0.8h-0.8zM114.7 514.0h0.8v0.8h-0.8zM107.5 525.4h0.8v0.8h-0.8zM117.6 519.0h0.8v0.8h-0.8zM105.9 515.0h0.8v0.8h-0.8zM110.1 514.9h0.8v0.8h-0.8zM104.1 519.3h0.8v0.8h-0.8zM113.9 531.1h0.8v0.8h-0.8zM106.2 516.8h0.8v0.8h-0.8zM115.0 520.2h0.8v0.8h-0.8zM120.4 520.3h0.8v0.8h-0.8zM110.9 516.0h0.8v0.8h-0.8zM118.0 522.9h0.8v0.8h-0.8zM104.6 518.4h0.8v0.8h-0.8zM103.7 517.7h0.8v0.8h-0.8zM112.5 529.2h0.8v0.8h-0.8zM114.9 526.7h0.8v0.8h-0.8zM106.8 527.5h0.8v0.8h-0.8zM118.3 520.2h0.8v0.8h-0.8zM118.7 523.7h0.8v0.8h-0.8zM111.7 515.8h0.8v0.8h-0.8zM111.2 526.0h0.8v0.8h-0.8zM107.8 518.9h0.8v0.8h-0.8zM102.2 519.9h0.8v0.8h-0.8zM109.6 525.8h0.8v0.8h-0.8zM106.5 515.8h0.8v0.8h-0.8zM110.3 514.9h0.8v0.8h-0.8zM103.4 518.4h0.8v0.8h-0.8zM116.7 520.6h0.8v0.8h-0.8zM111.9 528.7h0.8v0.8h-0.8zM108.6 512.7h0.8v0.8h-0.8zM113.1 524.5h0.8v0.8h-0.8zM111.7 520.3h0.8v0.8h-0.8zM113.2 527.4h0.8v0.8h-0.8zM114.4 529.1h0.8v0.8h-0.8zM111.8 522.0h0.8v0.8h-0.8zM108.2 510.0h0.8v0.8h-0.8zM114.2 524.8h0.8v0.8h-0.8zM119.3 520.2h0.8v0.8h-0.8zM115.4 527.9h0.8v0.8h-0.8zM111.9 510.7h0.8v0.8h-0.8zM116.2 518.3h0.8v0.8h-0.8zM108.8 527.6h0.8v0.8h-0.8zM108.7 525.7h0.8v0.8h-0.8zM112.8 518.2h0.8v0.8h-0.8zM108.3 528.5h0.8v0.8h-0.8zM104.8 515.6h0.8v0.8h-0.8zM117.3 515.7h0.8v0.8h-0.8zM108.4 517.6h0.8v0.8h-0.8zM109.1 516.3h0.8v0.8h-0.8zM119.1 520.4h0.8v0.8h-0.8zM109.1 516.2h0.8v0.8h-0.8zM106.9 515.5h0.8v0.8h-0.8zM116.4 521.3h0.8v0.8h-0.8zM113.8 515.9h0.8v0.8h-0.8zM120.5 518.8h0.8v0.8h-0.8zM115.9 515.6h0.8v0.8h-0.8zM116.8 524.5h0.8v0.8h-0.8zM117.7 521.1h0.8v0.8h-0.8zM107.1 518.1h0.8v0.8h-0.8zM104.8 514.3h0.8v0.8h-0.8zM105.0 516.2h0.8v0.8h-0.8zM116.4 520.0h0.8v0.8h-0.8zM118.4 518.5h0.8v0.8h-0.8zM113.0 530.9h0.8v0.8h-0.8zM107.7 517.6h0.8v0.8h-0.8zM116.4 511.0h0.8v0.8h-0.8zM115.5 521.8h0.8v0.8h-0.8zM106.6 518.5h0.8v0.8h-0.8zM108.1 526.1h0.8v0.8h-0.8zM105.3 521.8h0.8v0.8h-0.8zM106.7 527.6h0.8v0.8h-0.8zM110.2 521.3h0.8v0.8h-0.8zM111.6 515.6h0.8v0.8h-0.8zM110.3 517.3h0.8v0.8h-0.8zM112.4 528.6h0.8v0.8h-0.8zM110.7 514.3h0.8v0.8h-0.8zM109.7 524.3h0.8v0.8h-0.8zM116.3 513.8h0.8v0.8h-0.8zM119.7 524.5h0.8v0.8h-0.8zM106.1 524.1h0.8v0.8h-0.8zM116.0 519.1h0.8v0.8h-0.8zM114.1 530.8h0.8v0.8h-0.8zM115.5 526.5h0.8v0.8h-0.8zM112.9 528.0h0.8v0.8h-0.8zM118.4 519.2h0.8v0.8h-0.8zM109.8 518.4h0.8v0.8h-0.8zM106.9 511.1h0.8v0.8h-0.8zM113.2 510.9h0.8v0.8h-0.8zM114.2 523.5h0.8v0.8h-0.8zM110.4 514.0h0.8v0.8h-0.8zM111.6 527.6h0.8v0.8h-0.8zM106.7 518.0h0.8v0.8h-0.8zM112.8 513.1h0.8v0.8h-0.8zM109.1 519.9h0.8v0.8h-0.8zM117.1 520.6h0.8v0.8h-0.8zM117.1 523.1h0.8v0.8h-0.8zM116.9 516.8h0.8v0.8h-0.8zM108.5 528.6h0.8v0.8h-0.8zM108.7 519.1h0.8v0.8h-0.8zM114.6 523.8h0.8v0.8h-0.8zM115.8 515.3h0.8v0.8h-0.8zM107.2 517.6h0.8v0.8h-0.8zM116.7 530.5h0.8v0.8h-0.8zM107.4 521.8h0.8v0.8h-0.8zM114.5 527.7h0.8v0.8h-0.8zM117.0 516.0h0.8v0.8h-0.8zM108.5 513.9h0.8v0.8h-0.8zM118.3 514.8h0.8v0.8h-0.8zM109.6 512.1h0.8v0.8h-0.8zM105.7 526.2h0.8v0.8h-0.8zM115.6 513.0h0.8v0.8h-0.8zM112.0 528.5h0.8v0.8h-0.8zM111.3 510.3h0.8v0.8h-0.8zM112.1 523.8h0.8v0.8h-0.8zM111.9 530.2h0.8v0.8h-0.8zM108.5 515.4h0.8v0.8h-0.8zM112.3 517.0h0.8v0.8h-0.8zM107.4 517.3h0.8v0.8h-0.8zM120.1 519.7h0.8v0.8h-0.8zM113.3 525.5h0.8v0.8h-0.8zM108.0 525.1h0.8v0.8h-0.8zM110.5 523.4h0.8v0.8h-0.8zM111.0 522.5h0.8v0.8h-0.8zM114.5 509.9h0.8v0.8h-0.8zM109.6 510.3h0.8v0.8h-0.8zM113.9 515.3h0.8v0.8h-0.8zM111.3 512.2h0.8v0.8h-0.8zM105.4 522.9h0.8v0.8h-0.8zM106.1 516.1h0.8v0.8h-0.8zM111.9 517.6h0.8v0.8h-0.8zM111.7 521.8h0.8v0.8h-0.8zM115.1 528.0h0.8v0.8h-0.8zM116.2 515.1h0.8v0.8h-0.8zM113.4 528.6h0.8v0.8h-0.8zM112.1 532.2h0.8v0.8h-0.8zM114.6 510.9h0.8v0.8h-0.8zM117.2 516.3h0.8v0.8h-0.8zM115.8 513.4h0.8v0.8h-0.8zM117.5 515.8h0.8v0.8h-0.8zM113.4 526.0h0.8v0.8h-0.8zM111.4 522.4h0.8v0.8h-0.8zM120.6 520.2h0.8v0.8h-0.8zM118.9 527.6h0.8v0.8h-0.8zM109.2 522.7h0.8v0.8h-0.8zM110.5 518.6h0.8v0.8h-0.8zM108.3 514.3h0.8v0.8h-0.8zM114.2 514.1h0.8v0.8h-0.8zM113.4 515.9h0.8v0.8h-0.8zM115.9 525.6h0.8v0.8h-0.8zM110.3 519.1h0.8v0.8h-0.8zM113.4 528.8h0.8v0.8h-0.8zM110.2 512.2h0.8v0.8h-0.8zM110.7 529.7h0.8v0.8h-0.8zM115.6 516.4h0.8v0.8h-0.8zM108.8 528.3h0.8v0.8h-0.8zM110.8 515.6h0.8v0.8h-0.8zM114.9 511.1h0.8v0.8h-0.8zM115.3 513.9h0.8v0.8h-0.8zM117.7 511.3h0.8v0.8h-0.8zM118.2 518.8h0.8v0.8h-0.8zM111.2 515.9h0.8v0.8h-0.8zM110.8 518.9h0.8v0.8h-0.8zM119.7 515.3h0.8v0.8h-0.8zM108.6 519.6h0.8v0.8h-0.8zM112.9 520.4h0.8v0.8h-0.8zM108.5 522.3h0.8v0.8h-0.8zM111.1 520.8h0.8v0.8h-0.8zM116.1 519.3h0.8v0.8h-0.8zM111.2 526.2h0.8v0.8h-0.8zM118.0 527.3h0.8v0.8h-0.8zM113.2 519.2h0.8v0.8h-0.8zM106.0 520.5h0.8v0.8h-0.8zM110.3 527.6h0.8v0.8h-0.8zM105.4 526.3h0.8v0.8h-0.8zM106.4 525.4h0.8v0.8h-0.8zM110.5 522.8h0.8v0.8h-0.8zM106.6 522.4h0.8v0.8h-0.8zM104.6 526.0h0.8v0.8h-0.8zM106.8 522.8h0.8v0.8h-0.8zM112.8 524.0h0.8v0.8h-0.8zM110.1 525.9h0.8v0.8h-0.8zM107.4 529.2h0.8v0.8h-0.8zM105.0 522.3h0.8v0.8h-0.8zM105.6 524.7h0.8v0.8h-0.8zM105.9 522.1h0.8v0.8h-0.8zM112.6 523.5h0.8v0.8h-0.8zM106.9 523.7h0.8v0.8h-0.8zM109.4 527.4h0.8v0.8h-0.8zM105.2 521.0h0.8v0.8h-0.8zM104.6 523.8h0.8v0.8h-0.8zM106.8 523.4h0.8v0.8h-0.8zM107.3 521.5h0.8v0.8h-0.8zM109.7 520.1h0.8v0.8h-0.8zM105.6 525.8h0.8v0.8h-0.8zM107.0 523.6h0.8v0.8h-0.8zM109.7 522.3h0.8v0.8h-0.8zM105.1 525.4h0.8v0.8h-0.8zM103.0 523.8h0.8v0.8h-0.8zM107.8 524.6h0.8v0.8h-0.8zM108.4 524.4h0.8v0.8h-0.8zM105.5 525.5h0.8v0.8h-0.8zM108.5 520.1h0.8v0.8h-0.8zM110.6 525.0h0.8v0.8h-0.8zM104.4 523.8h0.8v0.8h-0.8zM107.4 527.4h0.8v0.8h-0.8zM112.0 526.0h0.8v0.8h-0.8zM105.5 521.3h0.8v0.8h-0.8zM105.9 529.7h0.8v0.8h-0.8zM107.9 529.2h0.8v0.8h-0.8zM105.7 525.0h0.8v0.8h-0.8zM103.5 525.9h0.8v0.8h-0.8zM108.5 528.7h0.8v0.8h-0.8zM105.2 525.9h0.8v0.8h-0.8zM106.8 529.6h0.8v0.8h-0.8zM108.5 525.3h0.8v0.8h-0.8zM106.8 527.2h0.8v0.8h-0.8zM110.2 527.0h0.8v0.8h-0.8zM111.4 523.6h0.8v0.8h-0.8zM110.3 526.6h0.8v0.8h-0.8zM107.9 521.3h0.8v0.8h-0.8zM110.8 526.6h0.8v0.8h-0.8zM106.4 525.8h0.8v0.8h-0.8zM107.9 527.6h0.8v0.8h-0.8zM105.0 523.8h0.8v0.8h-0.8zM105.7 526.3h0.8v0.8h-0.8zM112.0 525.2h0.8v0.8h-0.8zM108.4 519.5h0.8v0.8h-0.8zM106.9 520.7h0.8v0.8h-0.8zM110.8 530.0h0.8v0.8h-0.8zM110.6 524.1h0.8v0.8h-0.8zM105.4 522.5h0.8v0.8h-0.8zM109.1 525.5h0.8v0.8h-0.8zM104.5 526.5h0.8v0.8h-0.8zM108.1 527.8h0.8v0.8h-0.8zM110.2 527.1h0.8v0.8h-0.8zM107.2 527.6h0.8v0.8h-0.8zM108.7 522.7h0.8v0.8h-0.8zM111.8 523.6h0.8v0.8h-0.8zM116.3 516.3h0.8v0.8h-0.8zM119.8 508.7h0.8v0.8h-0.8zM112.1 514.1h0.8v0.8h-0.8zM121.5 513.8h0.8v0.8h-0.8zM113.6 515.0h0.8v0.8h-0.8zM120.3 511.6h0.8v0.8h-0.8zM114.3 512.9h0.8v0.8h-0.8zM112.4 512.4h0.8v0.8h-0.8zM114.5 516.3h0.8v0.8h-0.8zM113.1 515.9h0.8v0.8h-0.8zM112.1 513.9h0.8v0.8h-0.8zM115.8 516.0h0.8v0.8h-0.8zM117.2 516.4h0.8v0.8h-0.8zM116.1 514.1h0.8v0.8h-0.8zM121.1 513.4h0.8v0.8h-0.8zM117.7 516.6h0.8v0.8h-0.8zM117.1 512.7h0.8v0.8h-0.8zM113.4 516.1h0.8v0.8h-0.8zM113.7 515.6h0.8v0.8h-0.8zM119.3 511.5h0.8v0.8h-0.8zM113.2 517.0h0.8v0.8h-0.8zM117.2 510.9h0.8v0.8h-0.8zM119.2 514.2h0.8v0.8h-0.8zM116.7 516.7h0.8v0.8h-0.8zM117.4 517.5h0.8v0.8h-0.8zM114.7 513.0h0.8v0.8h-0.8zM115.2 515.5h0.8v0.8h-0.8zM114.3 512.7h0.8v0.8h-0.8zM114.7 513.3h0.8v0.8h-0.8zM112.9 511.7h0.8v0.8h-0.8zM118.5 517.0h0.8v0.8h-0.8zM115.2 513.3h0.8v0.8h-0.8zM114.4 516.3h0.8v0.8h-0.8zM117.6 509.8h0.8v0.8h-0.8zM117.8 511.4h0.8v0.8h-0.8zM117.0 511.2h0.8v0.8h-0.8zM118.0 509.6h0.8v0.8h-0.8zM114.6 511.5h0.8v0.8h-0.8zM115.2 512.6h0.8v0.8h-0.8zM114.3 517.3h0.8v0.8h-0.8zM115.2 514.3h0.8v0.8h-0.8zM113.6 513.3h0.8v0.8h-0.8zM116.2 510.7h0.8v0.8h-0.8zM113.2 510.9h0.8v0.8h-0.8zM116.4 511.2h0.8v0.8h-0.8zM114.6 515.9h0.8v0.8h-0.8zM118.3 513.6h0.8v0.8h-0.8zM119.7 512.9h0.8v0.8h-0.8zM116.7 513.8h0.8v0.8h-0.8zM113.4 511.7h0.8v0.8h-0.8zM119.3 511.3h0.8v0.8h-0.8zM117.3 514.8h0.8v0.8h-0.8zM116.9 515.1h0.8v0.8h-0.8zM116.6 516.8h0.8v0.8h-0.8zM114.2 511.1h0.8v0.8h-0.8zM113.6 510.9h0.8v0.8h-0.8zM115.3 517.2h0.8v0.8h-0.8zM118.6 515.2h0.8v0.8h-0.8zM118.2 514.6h0.8v0.8h-0.8zM112.2 511.5h0.8v0.8h-0.8zM112.3 513.4h0.8v0.8h-0.8zM111.7 512.8h0.8v0.8h-0.8zM114.1 515.7h0.8v0.8h-0.8zM120.6 512.9h0.8v0.8h-0.8zM117.6 510.2h0.8v0.8h-0.8zM115.3 516.7h0.8v0.8h-0.8zM115.1 510.7h0.8v0.8h-0.8zM115.0 508.4h0.8v0.8h-0.8zM112.5 512.5h0.8v0.8h-0.8zM116.2 517.2h0.8v0.8h-0.8zM114.0 508.5h0.8v0.8h-0.8zM112.0 510.5h0.8v0.8h-0.8zM118.9 515.4h0.8v0.8h-0.8zM116.2 516.0h0.8v0.8h-0.8zM116.4 511.3h0.8v0.8h-0.8z" fill="#e8432e" opacity="0.95"/><path d="M109.8 513.2h0.8v0.8h-0.8zM110.0 517.8h0.8v0.8h-0.8zM115.0 526.8h0.8v0.8h-0.8zM111.9 520.5h0.8v0.8h-0.8zM108.3 519.1h0.8v0.8h-0.8zM109.3 517.5h0.8v0.8h-0.8zM114.2 526.9h0.8v0.8h-0.8zM115.4 522.7h0.8v0.8h-0.8zM108.0 520.7h0.8v0.8h-0.8zM112.2 520.5h0.8v0.8h-0.8zM109.6 527.7h0.8v0.8h-0.8zM116.4 519.2h0.8v0.8h-0.8zM107.9 514.5h0.8v0.8h-0.8zM108.7 526.2h0.8v0.8h-0.8zM106.6 527.1h0.8v0.8h-0.8zM108.0 526.8h0.8v0.8h-0.8zM116.2 516.8h0.8v0.8h-0.8zM116.6 512.4h0.8v0.8h-0.8zM117.7 511.7h0.8v0.8h-0.8z" fill="#ffffff" opacity="0.8"/><ellipse cx="140.00" cy="530.50" rx="6.38" ry="3.74" fill="#e8432e" opacity="0.85" transform="rotate(0 140.00 530.50)" filter="url(#b05)"/><path d="M146.1 531.0h0.8v0.8h-0.8zM140.2 531.7h0.8v0.8h-0.8zM132.7 532.2h0.8v0.8h-0.8zM138.0 532.9h0.8v0.8h-0.8zM144.9 529.7h0.8v0.8h-0.8zM141.2 529.7h0.8v0.8h-0.8zM141.2 533.8h0.8v0.8h-0.8zM136.4 529.3h0.8v0.8h-0.8zM132.7 530.9h0.8v0.8h-0.8zM136.7 527.8h0.8v0.8h-0.8zM141.3 533.8h0.8v0.8h-0.8zM134.4 533.2h0.8v0.8h-0.8zM147.4 532.2h0.8v0.8h-0.8zM131.9 531.2h0.8v0.8h-0.8zM139.7 527.0h0.8v0.8h-0.8zM140.2 527.3h0.8v0.8h-0.8zM142.0 528.8h0.8v0.8h-0.8zM139.7 530.4h0.8v0.8h-0.8zM142.7 529.6h0.8v0.8h-0.8zM140.7 528.9h0.8v0.8h-0.8zM140.0 526.7h0.8v0.8h-0.8zM143.1 531.4h0.8v0.8h-0.8zM137.7 527.0h0.8v0.8h-0.8zM135.1 531.2h0.8v0.8h-0.8zM146.0 534.5h0.8v0.8h-0.8zM142.6 534.1h0.8v0.8h-0.8zM145.3 529.0h0.8v0.8h-0.8zM139.1 526.4h0.8v0.8h-0.8zM145.6 531.1h0.8v0.8h-0.8zM144.7 529.0h0.8v0.8h-0.8zM138.0 532.3h0.8v0.8h-0.8zM138.7 528.0h0.8v0.8h-0.8zM141.6 533.7h0.8v0.8h-0.8zM137.3 528.4h0.8v0.8h-0.8zM141.8 530.6h0.8v0.8h-0.8zM133.3 528.3h0.8v0.8h-0.8zM138.8 527.1h0.8v0.8h-0.8zM140.6 529.7h0.8v0.8h-0.8zM140.8 534.6h0.8v0.8h-0.8zM145.1 528.0h0.8v0.8h-0.8zM134.4 529.4h0.8v0.8h-0.8zM146.0 531.9h0.8v0.8h-0.8zM132.6 530.1h0.8v0.8h-0.8zM136.3 527.6h0.8v0.8h-0.8zM141.3 527.5h0.8v0.8h-0.8zM142.2 532.0h0.8v0.8h-0.8zM143.4 533.5h0.8v0.8h-0.8zM145.7 533.4h0.8v0.8h-0.8zM139.1 533.5h0.8v0.8h-0.8zM136.7 532.9h0.8v0.8h-0.8zM136.4 531.4h0.8v0.8h-0.8zM139.5 532.0h0.8v0.8h-0.8zM145.3 530.5h0.8v0.8h-0.8zM143.9 533.8h0.8v0.8h-0.8zM137.7 527.5h0.8v0.8h-0.8zM137.5 529.9h0.8v0.8h-0.8zM136.8 530.3h0.8v0.8h-0.8zM139.1 533.9h0.8v0.8h-0.8zM140.3 525.4h0.8v0.8h-0.8zM139.2 527.4h0.8v0.8h-0.8zM143.9 529.8h0.8v0.8h-0.8zM138.9 534.5h0.8v0.8h-0.8zM138.4 532.6h0.8v0.8h-0.8zM141.6 530.6h0.8v0.8h-0.8zM143.2 532.6h0.8v0.8h-0.8zM141.6 529.0h0.8v0.8h-0.8zM132.6 533.0h0.8v0.8h-0.8zM135.7 533.1h0.8v0.8h-0.8zM142.9 529.0h0.8v0.8h-0.8zM147.2 530.7h0.8v0.8h-0.8zM138.6 533.4h0.8v0.8h-0.8zM135.8 530.4h0.8v0.8h-0.8zM143.8 530.6h0.8v0.8h-0.8zM131.2 530.3h0.8v0.8h-0.8zM138.8 531.8h0.8v0.8h-0.8zM138.6 531.3h0.8v0.8h-0.8zM137.8 533.0h0.8v0.8h-0.8zM136.8 527.7h0.8v0.8h-0.8zM140.6 532.1h0.8v0.8h-0.8zM142.5 527.7h0.8v0.8h-0.8zM147.0 532.0h0.8v0.8h-0.8zM139.3 534.0h0.8v0.8h-0.8zM141.3 529.4h0.8v0.8h-0.8zM137.7 529.4h0.8v0.8h-0.8zM145.1 529.7h0.8v0.8h-0.8zM143.7 532.4h0.8v0.8h-0.8zM145.9 528.8h0.8v0.8h-0.8zM136.9 529.4h0.8v0.8h-0.8zM143.4 529.6h0.8v0.8h-0.8zM142.4 526.6h0.8v0.8h-0.8zM145.4 527.2h0.8v0.8h-0.8zM144.5 528.6h0.8v0.8h-0.8zM135.3 534.2h0.8v0.8h-0.8zM133.7 529.3h0.8v0.8h-0.8zM141.4 529.4h0.8v0.8h-0.8zM143.9 531.6h0.8v0.8h-0.8zM147.1 529.0h0.8v0.8h-0.8zM138.5 528.0h0.8v0.8h-0.8zM143.9 527.2h0.8v0.8h-0.8z" fill="#e8432e" opacity="0.95"/><path d="M139.2 531.3h0.8v0.8h-0.8zM142.8 530.4h0.8v0.8h-0.8zM144.8 531.4h0.8v0.8h-0.8z" fill="#ffffff" opacity="0.8"/><ellipse cx="134.00" cy="517.50" rx="11.05" ry="10.62" fill="#4db8d9" opacity="0.85" transform="rotate(0 134.00 517.50)" filter="url(#b05)"/><ellipse cx="127.00" cy="521.00" rx="5.10" ry="5.95" fill="#4db8d9" opacity="0.85" transform="rotate(0 127.00 521.00)" filter="url(#b05)"/><ellipse cx="141.00" cy="512.00" rx="5.52" ry="5.10" fill="#4db8d9" opacity="0.85" transform="rotate(0 141.00 512.00)" filter="url(#b05)"/><ellipse cx="131.50" cy="527.50" rx="5.10" ry="4.25" fill="#4db8d9" opacity="0.85" transform="rotate(0 131.50 527.50)" filter="url(#b05)"/><ellipse cx="143.00" cy="522.00" rx="3.40" ry="4.25" fill="#4db8d9" opacity="0.85" transform="rotate(0 143.00 522.00)" filter="url(#b05)"/><path d="M132.3 528.9h0.8v0.8h-0.8zM128.5 520.8h0.8v0.8h-0.8zM126.5 524.5h0.8v0.8h-0.8zM140.9 523.0h0.8v0.8h-0.8zM135.4 523.4h0.8v0.8h-0.8zM136.8 523.2h0.8v0.8h-0.8zM135.9 512.4h0.8v0.8h-0.8zM124.8 518.9h0.8v0.8h-0.8zM134.0 516.6h0.8v0.8h-0.8zM130.3 526.5h0.8v0.8h-0.8zM131.2 516.4h0.8v0.8h-0.8zM134.7 521.0h0.8v0.8h-0.8zM132.6 517.4h0.8v0.8h-0.8zM134.5 516.5h0.8v0.8h-0.8zM128.4 521.4h0.8v0.8h-0.8zM133.1 522.5h0.8v0.8h-0.8zM134.6 528.5h0.8v0.8h-0.8zM142.8 510.0h0.8v0.8h-0.8zM136.7 514.7h0.8v0.8h-0.8zM123.8 523.6h0.8v0.8h-0.8zM127.6 511.8h0.8v0.8h-0.8zM133.1 525.8h0.8v0.8h-0.8zM131.1 508.5h0.8v0.8h-0.8zM130.4 511.5h0.8v0.8h-0.8zM144.2 517.1h0.8v0.8h-0.8zM135.4 528.2h0.8v0.8h-0.8zM138.6 520.7h0.8v0.8h-0.8zM142.4 513.3h0.8v0.8h-0.8zM142.1 521.8h0.8v0.8h-0.8zM130.9 523.8h0.8v0.8h-0.8zM133.5 509.2h0.8v0.8h-0.8zM137.2 531.3h0.8v0.8h-0.8zM124.5 523.5h0.8v0.8h-0.8zM125.3 513.5h0.8v0.8h-0.8zM133.1 529.2h0.8v0.8h-0.8zM142.4 506.5h0.8v0.8h-0.8zM135.7 512.5h0.8v0.8h-0.8zM136.7 523.0h0.8v0.8h-0.8zM140.3 508.4h0.8v0.8h-0.8zM147.0 518.7h0.8v0.8h-0.8zM134.0 531.9h0.8v0.8h-0.8zM127.8 510.2h0.8v0.8h-0.8zM146.9 524.0h0.8v0.8h-0.8zM126.4 514.6h0.8v0.8h-0.8zM124.9 518.0h0.8v0.8h-0.8zM130.4 521.1h0.8v0.8h-0.8zM135.3 523.0h0.8v0.8h-0.8zM134.9 519.2h0.8v0.8h-0.8zM130.9 511.1h0.8v0.8h-0.8zM138.7 520.9h0.8v0.8h-0.8zM130.9 516.3h0.8v0.8h-0.8zM142.6 514.8h0.8v0.8h-0.8zM139.4 515.5h0.8v0.8h-0.8zM129.3 507.0h0.8v0.8h-0.8zM141.5 509.7h0.8v0.8h-0.8zM129.2 507.7h0.8v0.8h-0.8zM130.8 522.9h0.8v0.8h-0.8zM135.5 513.3h0.8v0.8h-0.8zM140.1 528.6h0.8v0.8h-0.8zM136.7 518.1h0.8v0.8h-0.8zM132.8 521.9h0.8v0.8h-0.8zM131.1 515.3h0.8v0.8h-0.8zM143.3 517.6h0.8v0.8h-0.8zM135.7 519.3h0.8v0.8h-0.8zM138.9 528.4h0.8v0.8h-0.8zM141.9 519.8h0.8v0.8h-0.8zM141.1 516.2h0.8v0.8h-0.8zM137.5 514.5h0.8v0.8h-0.8zM122.7 523.0h0.8v0.8h-0.8zM141.2 507.7h0.8v0.8h-0.8zM125.9 526.5h0.8v0.8h-0.8zM129.8 522.0h0.8v0.8h-0.8zM124.9 513.7h0.8v0.8h-0.8zM136.5 523.5h0.8v0.8h-0.8zM144.2 521.1h0.8v0.8h-0.8zM126.6 512.5h0.8v0.8h-0.8zM139.4 526.9h0.8v0.8h-0.8zM135.7 524.3h0.8v0.8h-0.8zM138.6 507.6h0.8v0.8h-0.8zM132.4 510.3h0.8v0.8h-0.8zM135.7 528.0h0.8v0.8h-0.8zM134.8 527.1h0.8v0.8h-0.8zM133.9 512.1h0.8v0.8h-0.8zM132.2 505.8h0.8v0.8h-0.8zM125.6 515.8h0.8v0.8h-0.8zM141.6 518.2h0.8v0.8h-0.8zM143.5 512.6h0.8v0.8h-0.8zM123.9 519.1h0.8v0.8h-0.8zM140.7 525.9h0.8v0.8h-0.8zM124.0 518.7h0.8v0.8h-0.8zM140.9 512.2h0.8v0.8h-0.8zM139.1 523.9h0.8v0.8h-0.8zM142.8 517.6h0.8v0.8h-0.8zM135.6 518.8h0.8v0.8h-0.8zM135.6 525.9h0.8v0.8h-0.8zM133.8 508.7h0.8v0.8h-0.8zM126.1 519.5h0.8v0.8h-0.8zM140.2 512.4h0.8v0.8h-0.8zM126.2 520.6h0.8v0.8h-0.8zM135.7 509.5h0.8v0.8h-0.8zM131.4 512.6h0.8v0.8h-0.8zM131.5 528.6h0.8v0.8h-0.8zM131.5 525.1h0.8v0.8h-0.8zM132.3 522.9h0.8v0.8h-0.8zM143.9 519.3h0.8v0.8h-0.8zM130.1 522.3h0.8v0.8h-0.8zM131.9 514.5h0.8v0.8h-0.8zM134.7 507.8h0.8v0.8h-0.8zM131.8 520.3h0.8v0.8h-0.8zM131.5 524.7h0.8v0.8h-0.8zM133.1 505.0h0.8v0.8h-0.8zM125.8 513.4h0.8v0.8h-0.8zM129.8 514.0h0.8v0.8h-0.8zM122.7 513.4h0.8v0.8h-0.8zM125.3 511.2h0.8v0.8h-0.8zM129.0 503.0h0.8v0.8h-0.8zM136.3 513.5h0.8v0.8h-0.8zM132.1 508.5h0.8v0.8h-0.8zM128.3 522.7h0.8v0.8h-0.8zM128.9 520.9h0.8v0.8h-0.8zM141.8 516.1h0.8v0.8h-0.8zM147.8 514.3h0.8v0.8h-0.8zM124.7 508.1h0.8v0.8h-0.8zM124.1 522.8h0.8v0.8h-0.8zM124.8 523.6h0.8v0.8h-0.8zM133.5 522.9h0.8v0.8h-0.8zM142.3 509.0h0.8v0.8h-0.8zM131.3 524.4h0.8v0.8h-0.8zM134.2 520.2h0.8v0.8h-0.8zM121.1 512.9h0.8v0.8h-0.8zM139.2 522.2h0.8v0.8h-0.8zM122.9 517.9h0.8v0.8h-0.8zM124.4 519.1h0.8v0.8h-0.8zM140.6 530.5h0.8v0.8h-0.8zM124.5 523.4h0.8v0.8h-0.8zM139.3 517.8h0.8v0.8h-0.8zM132.4 526.2h0.8v0.8h-0.8zM141.6 512.7h0.8v0.8h-0.8zM140.1 511.6h0.8v0.8h-0.8zM134.6 523.3h0.8v0.8h-0.8zM146.5 518.1h0.8v0.8h-0.8zM136.1 521.8h0.8v0.8h-0.8zM134.5 510.5h0.8v0.8h-0.8zM133.0 515.1h0.8v0.8h-0.8zM140.4 525.2h0.8v0.8h-0.8zM130.1 522.8h0.8v0.8h-0.8zM124.6 526.0h0.8v0.8h-0.8zM130.1 505.8h0.8v0.8h-0.8zM127.7 517.0h0.8v0.8h-0.8zM137.7 516.4h0.8v0.8h-0.8zM123.9 524.8h0.8v0.8h-0.8zM144.7 513.1h0.8v0.8h-0.8zM127.1 515.3h0.8v0.8h-0.8zM121.5 513.5h0.8v0.8h-0.8zM138.4 519.8h0.8v0.8h-0.8zM127.6 526.4h0.8v0.8h-0.8zM145.9 518.3h0.8v0.8h-0.8zM131.8 524.8h0.8v0.8h-0.8zM129.2 518.6h0.8v0.8h-0.8zM133.6 506.2h0.8v0.8h-0.8zM137.5 522.3h0.8v0.8h-0.8zM138.5 525.1h0.8v0.8h-0.8zM125.5 520.8h0.8v0.8h-0.8zM137.4 513.1h0.8v0.8h-0.8zM145.1 513.4h0.8v0.8h-0.8zM127.0 517.4h0.8v0.8h-0.8zM127.7 525.1h0.8v0.8h-0.8zM138.5 519.4h0.8v0.8h-0.8zM140.4 527.0h0.8v0.8h-0.8zM127.0 521.7h0.8v0.8h-0.8zM136.7 513.6h0.8v0.8h-0.8zM143.9 515.8h0.8v0.8h-0.8zM132.6 516.9h0.8v0.8h-0.8zM138.6 512.1h0.8v0.8h-0.8zM128.9 514.7h0.8v0.8h-0.8zM132.4 511.4h0.8v0.8h-0.8zM135.9 516.4h0.8v0.8h-0.8zM137.0 518.3h0.8v0.8h-0.8zM129.3 516.3h0.8v0.8h-0.8zM143.5 524.4h0.8v0.8h-0.8zM142.0 520.5h0.8v0.8h-0.8zM140.5 514.9h0.8v0.8h-0.8zM135.5 509.0h0.8v0.8h-0.8zM131.3 521.0h0.8v0.8h-0.8zM143.0 510.5h0.8v0.8h-0.8zM125.5 522.4h0.8v0.8h-0.8zM145.6 521.1h0.8v0.8h-0.8zM132.9 524.2h0.8v0.8h-0.8zM130.2 511.4h0.8v0.8h-0.8zM126.1 513.0h0.8v0.8h-0.8zM142.4 525.8h0.8v0.8h-0.8zM133.1 528.3h0.8v0.8h-0.8zM123.5 522.7h0.8v0.8h-0.8zM125.9 515.2h0.8v0.8h-0.8zM136.6 518.1h0.8v0.8h-0.8zM122.8 516.9h0.8v0.8h-0.8zM129.9 523.7h0.8v0.8h-0.8zM130.3 516.0h0.8v0.8h-0.8zM125.6 516.5h0.8v0.8h-0.8zM122.5 518.4h0.8v0.8h-0.8zM125.1 518.7h0.8v0.8h-0.8zM130.4 512.7h0.8v0.8h-0.8zM142.2 514.2h0.8v0.8h-0.8zM124.1 513.1h0.8v0.8h-0.8zM142.9 520.4h0.8v0.8h-0.8zM127.9 524.1h0.8v0.8h-0.8zM133.0 527.5h0.8v0.8h-0.8zM133.6 511.4h0.8v0.8h-0.8zM141.5 522.2h0.8v0.8h-0.8zM124.8 514.7h0.8v0.8h-0.8zM136.8 515.7h0.8v0.8h-0.8zM146.3 519.5h0.8v0.8h-0.8zM137.9 524.8h0.8v0.8h-0.8zM128.1 525.8h0.8v0.8h-0.8zM128.7 512.5h0.8v0.8h-0.8zM145.5 516.9h0.8v0.8h-0.8zM124.9 522.5h0.8v0.8h-0.8zM135.4 507.0h0.8v0.8h-0.8zM142.7 513.7h0.8v0.8h-0.8zM127.8 515.1h0.8v0.8h-0.8zM131.8 506.3h0.8v0.8h-0.8zM139.2 519.8h0.8v0.8h-0.8zM123.9 511.0h0.8v0.8h-0.8zM144.2 514.2h0.8v0.8h-0.8zM132.4 507.1h0.8v0.8h-0.8zM131.1 510.6h0.8v0.8h-0.8zM127.5 513.9h0.8v0.8h-0.8zM124.8 519.4h0.8v0.8h-0.8zM135.8 515.2h0.8v0.8h-0.8zM144.8 510.3h0.8v0.8h-0.8zM128.4 506.6h0.8v0.8h-0.8zM139.2 526.9h0.8v0.8h-0.8zM140.2 518.6h0.8v0.8h-0.8zM141.2 515.2h0.8v0.8h-0.8zM132.7 509.5h0.8v0.8h-0.8zM133.5 516.7h0.8v0.8h-0.8zM131.4 526.3h0.8v0.8h-0.8zM138.4 523.7h0.8v0.8h-0.8zM144.1 525.9h0.8v0.8h-0.8zM140.2 516.7h0.8v0.8h-0.8zM129.1 507.8h0.8v0.8h-0.8zM137.2 507.4h0.8v0.8h-0.8zM135.0 508.7h0.8v0.8h-0.8zM128.8 522.3h0.8v0.8h-0.8zM135.9 509.4h0.8v0.8h-0.8zM126.7 520.2h0.8v0.8h-0.8zM129.4 518.2h0.8v0.8h-0.8zM132.8 526.4h0.8v0.8h-0.8zM125.2 518.6h0.8v0.8h-0.8zM132.9 519.5h0.8v0.8h-0.8zM134.7 520.4h0.8v0.8h-0.8zM136.7 524.3h0.8v0.8h-0.8zM135.6 508.1h0.8v0.8h-0.8zM144.1 508.6h0.8v0.8h-0.8zM138.0 526.8h0.8v0.8h-0.8zM145.3 513.4h0.8v0.8h-0.8zM124.9 518.3h0.8v0.8h-0.8zM129.7 509.2h0.8v0.8h-0.8zM125.9 518.9h0.8v0.8h-0.8zM138.1 520.4h0.8v0.8h-0.8zM123.3 520.7h0.8v0.8h-0.8zM140.1 512.3h0.8v0.8h-0.8zM142.6 516.3h0.8v0.8h-0.8zM130.2 518.1h0.8v0.8h-0.8zM132.6 522.6h0.8v0.8h-0.8zM140.6 510.1h0.8v0.8h-0.8zM134.9 529.5h0.8v0.8h-0.8zM139.3 523.2h0.8v0.8h-0.8zM142.4 525.7h0.8v0.8h-0.8zM127.0 519.0h0.8v0.8h-0.8zM131.4 514.2h0.8v0.8h-0.8zM142.9 518.0h0.8v0.8h-0.8zM130.0 519.9h0.8v0.8h-0.8zM134.8 510.9h0.8v0.8h-0.8zM135.4 514.2h0.8v0.8h-0.8zM135.0 510.8h0.8v0.8h-0.8zM140.0 518.0h0.8v0.8h-0.8zM141.2 513.4h0.8v0.8h-0.8zM142.5 522.7h0.8v0.8h-0.8zM120.1 523.5h0.8v0.8h-0.8zM126.9 521.5h0.8v0.8h-0.8zM122.0 515.4h0.8v0.8h-0.8zM130.0 515.5h0.8v0.8h-0.8zM124.9 516.7h0.8v0.8h-0.8zM127.8 521.1h0.8v0.8h-0.8zM133.1 511.7h0.8v0.8h-0.8zM131.6 515.9h0.8v0.8h-0.8zM140.4 521.3h0.8v0.8h-0.8zM129.7 506.5h0.8v0.8h-0.8zM129.6 518.9h0.8v0.8h-0.8zM142.2 509.3h0.8v0.8h-0.8zM136.7 508.6h0.8v0.8h-0.8zM141.9 508.5h0.8v0.8h-0.8zM131.1 507.1h0.8v0.8h-0.8zM134.0 525.1h0.8v0.8h-0.8zM125.6 512.7h0.8v0.8h-0.8zM126.2 517.7h0.8v0.8h-0.8zM126.5 511.9h0.8v0.8h-0.8zM143.3 515.5h0.8v0.8h-0.8zM135.9 515.5h0.8v0.8h-0.8zM137.2 514.3h0.8v0.8h-0.8zM126.5 525.3h0.8v0.8h-0.8zM138.6 514.8h0.8v0.8h-0.8zM135.0 523.3h0.8v0.8h-0.8zM145.7 519.4h0.8v0.8h-0.8zM135.7 511.3h0.8v0.8h-0.8zM131.4 511.2h0.8v0.8h-0.8zM137.2 520.2h0.8v0.8h-0.8zM136.6 517.0h0.8v0.8h-0.8zM135.7 512.3h0.8v0.8h-0.8zM133.7 527.7h0.8v0.8h-0.8zM135.9 510.7h0.8v0.8h-0.8zM123.2 526.6h0.8v0.8h-0.8zM143.8 514.3h0.8v0.8h-0.8zM127.0 520.6h0.8v0.8h-0.8zM128.2 522.4h0.8v0.8h-0.8zM134.6 517.9h0.8v0.8h-0.8zM132.3 515.4h0.8v0.8h-0.8zM135.0 524.6h0.8v0.8h-0.8zM136.9 514.6h0.8v0.8h-0.8zM122.7 515.1h0.8v0.8h-0.8zM133.8 527.4h0.8v0.8h-0.8zM138.4 519.7h0.8v0.8h-0.8zM123.8 514.0h0.8v0.8h-0.8zM126.5 508.8h0.8v0.8h-0.8zM135.5 515.3h0.8v0.8h-0.8zM132.2 509.4h0.8v0.8h-0.8zM140.9 520.5h0.8v0.8h-0.8zM127.3 524.8h0.8v0.8h-0.8zM133.4 517.7h0.8v0.8h-0.8zM133.8 508.9h0.8v0.8h-0.8zM136.3 520.6h0.8v0.8h-0.8zM140.7 518.5h0.8v0.8h-0.8zM145.5 516.9h0.8v0.8h-0.8zM139.1 518.5h0.8v0.8h-0.8zM136.2 515.7h0.8v0.8h-0.8zM134.8 509.1h0.8v0.8h-0.8zM140.0 523.4h0.8v0.8h-0.8zM144.5 521.5h0.8v0.8h-0.8zM129.5 519.9h0.8v0.8h-0.8zM131.9 515.2h0.8v0.8h-0.8zM132.0 524.7h0.8v0.8h-0.8zM129.5 525.0h0.8v0.8h-0.8zM133.2 515.5h0.8v0.8h-0.8zM147.8 519.1h0.8v0.8h-0.8zM127.9 515.9h0.8v0.8h-0.8zM132.2 526.5h0.8v0.8h-0.8zM130.4 513.3h0.8v0.8h-0.8zM139.8 506.5h0.8v0.8h-0.8zM124.7 516.8h0.8v0.8h-0.8zM147.2 519.6h0.8v0.8h-0.8zM123.8 512.0h0.8v0.8h-0.8zM127.4 516.9h0.8v0.8h-0.8zM134.8 528.9h0.8v0.8h-0.8zM136.6 523.8h0.8v0.8h-0.8zM128.6 528.4h0.8v0.8h-0.8zM126.0 510.1h0.8v0.8h-0.8zM132.4 516.7h0.8v0.8h-0.8zM123.5 516.4h0.8v0.8h-0.8zM127.0 518.9h0.8v0.8h-0.8zM131.2 508.8h0.8v0.8h-0.8zM129.5 515.6h0.8v0.8h-0.8zM130.3 524.2h0.8v0.8h-0.8zM133.4 523.4h0.8v0.8h-0.8zM131.2 524.8h0.8v0.8h-0.8zM144.8 526.8h0.8v0.8h-0.8zM144.5 515.7h0.8v0.8h-0.8zM133.7 510.0h0.8v0.8h-0.8zM133.3 522.0h0.8v0.8h-0.8zM126.5 520.5h0.8v0.8h-0.8zM136.3 526.6h0.8v0.8h-0.8zM143.1 513.4h0.8v0.8h-0.8zM135.7 516.7h0.8v0.8h-0.8zM124.8 511.8h0.8v0.8h-0.8zM144.9 511.6h0.8v0.8h-0.8zM132.1 528.0h0.8v0.8h-0.8zM128.9 518.6h0.8v0.8h-0.8zM142.6 513.8h0.8v0.8h-0.8zM134.1 528.2h0.8v0.8h-0.8zM145.2 512.7h0.8v0.8h-0.8zM129.4 513.1h0.8v0.8h-0.8zM128.4 518.8h0.8v0.8h-0.8zM136.8 512.9h0.8v0.8h-0.8zM137.8 519.5h0.8v0.8h-0.8zM140.9 516.9h0.8v0.8h-0.8zM136.8 514.2h0.8v0.8h-0.8zM127.7 519.2h0.8v0.8h-0.8zM125.9 514.7h0.8v0.8h-0.8zM128.3 523.8h0.8v0.8h-0.8zM127.7 516.0h0.8v0.8h-0.8zM125.7 523.4h0.8v0.8h-0.8zM138.8 521.3h0.8v0.8h-0.8zM128.5 516.1h0.8v0.8h-0.8zM124.5 510.4h0.8v0.8h-0.8zM141.9 520.7h0.8v0.8h-0.8zM143.2 519.3h0.8v0.8h-0.8zM140.5 524.2h0.8v0.8h-0.8zM138.6 514.2h0.8v0.8h-0.8zM142.2 510.0h0.8v0.8h-0.8zM134.2 510.1h0.8v0.8h-0.8zM130.1 513.3h0.8v0.8h-0.8zM133.3 513.6h0.8v0.8h-0.8zM138.7 512.9h0.8v0.8h-0.8zM134.1 531.3h0.8v0.8h-0.8zM132.6 521.5h0.8v0.8h-0.8zM138.3 532.2h0.8v0.8h-0.8zM127.6 528.1h0.8v0.8h-0.8zM132.5 518.8h0.8v0.8h-0.8zM138.6 519.0h0.8v0.8h-0.8zM139.3 514.0h0.8v0.8h-0.8zM131.7 520.3h0.8v0.8h-0.8zM145.2 518.3h0.8v0.8h-0.8zM147.8 523.9h0.8v0.8h-0.8zM139.7 508.0h0.8v0.8h-0.8zM134.0 506.3h0.8v0.8h-0.8zM136.1 530.1h0.8v0.8h-0.8zM138.7 517.5h0.8v0.8h-0.8zM120.7 520.6h0.8v0.8h-0.8zM144.0 520.6h0.8v0.8h-0.8zM137.2 525.9h0.8v0.8h-0.8zM124.5 523.2h0.8v0.8h-0.8zM136.8 530.2h0.8v0.8h-0.8zM122.6 515.8h0.8v0.8h-0.8zM131.2 517.1h0.8v0.8h-0.8zM135.1 512.9h0.8v0.8h-0.8zM128.4 516.0h0.8v0.8h-0.8zM133.6 512.0h0.8v0.8h-0.8zM123.5 516.5h0.8v0.8h-0.8zM128.4 517.3h0.8v0.8h-0.8zM132.5 513.3h0.8v0.8h-0.8zM125.8 512.9h0.8v0.8h-0.8zM128.3 514.4h0.8v0.8h-0.8zM136.6 508.5h0.8v0.8h-0.8zM127.5 513.7h0.8v0.8h-0.8zM139.3 523.4h0.8v0.8h-0.8zM143.2 522.1h0.8v0.8h-0.8zM142.1 518.7h0.8v0.8h-0.8zM140.7 514.0h0.8v0.8h-0.8zM137.1 528.6h0.8v0.8h-0.8zM132.7 511.4h0.8v0.8h-0.8zM131.2 514.4h0.8v0.8h-0.8zM136.6 517.6h0.8v0.8h-0.8zM127.6 514.6h0.8v0.8h-0.8zM124.6 513.0h0.8v0.8h-0.8zM131.7 512.7h0.8v0.8h-0.8zM134.4 522.1h0.8v0.8h-0.8zM128.8 520.4h0.8v0.8h-0.8zM128.7 509.1h0.8v0.8h-0.8zM136.9 527.9h0.8v0.8h-0.8zM137.0 521.8h0.8v0.8h-0.8zM127.3 516.2h0.8v0.8h-0.8zM147.8 523.6h0.8v0.8h-0.8zM136.7 509.4h0.8v0.8h-0.8zM137.4 511.6h0.8v0.8h-0.8zM122.2 515.0h0.8v0.8h-0.8zM123.6 521.4h0.8v0.8h-0.8zM126.2 523.5h0.8v0.8h-0.8zM123.9 519.3h0.8v0.8h-0.8zM129.8 516.1h0.8v0.8h-0.8zM129.9 526.0h0.8v0.8h-0.8zM129.2 524.1h0.8v0.8h-0.8zM132.5 521.3h0.8v0.8h-0.8zM126.7 514.7h0.8v0.8h-0.8zM129.9 522.1h0.8v0.8h-0.8zM122.5 521.5h0.8v0.8h-0.8zM128.2 521.7h0.8v0.8h-0.8zM123.0 521.2h0.8v0.8h-0.8zM131.2 525.2h0.8v0.8h-0.8zM122.9 518.1h0.8v0.8h-0.8zM126.3 525.2h0.8v0.8h-0.8zM127.2 517.0h0.8v0.8h-0.8zM128.1 514.5h0.8v0.8h-0.8zM124.5 522.0h0.8v0.8h-0.8zM126.5 518.6h0.8v0.8h-0.8zM131.0 522.2h0.8v0.8h-0.8zM128.2 527.4h0.8v0.8h-0.8zM127.4 516.9h0.8v0.8h-0.8zM129.2 518.7h0.8v0.8h-0.8zM130.6 517.5h0.8v0.8h-0.8zM128.4 519.7h0.8v0.8h-0.8zM132.2 519.5h0.8v0.8h-0.8zM127.7 522.4h0.8v0.8h-0.8zM129.0 522.5h0.8v0.8h-0.8zM127.3 517.0h0.8v0.8h-0.8zM124.2 525.0h0.8v0.8h-0.8zM128.0 525.6h0.8v0.8h-0.8zM122.5 517.4h0.8v0.8h-0.8zM132.5 523.3h0.8v0.8h-0.8zM127.1 522.9h0.8v0.8h-0.8zM130.2 515.4h0.8v0.8h-0.8zM131.2 524.4h0.8v0.8h-0.8zM127.2 519.2h0.8v0.8h-0.8zM125.2 525.6h0.8v0.8h-0.8zM128.0 521.8h0.8v0.8h-0.8zM126.5 515.5h0.8v0.8h-0.8zM123.1 525.9h0.8v0.8h-0.8zM127.4 515.1h0.8v0.8h-0.8zM126.3 517.9h0.8v0.8h-0.8zM124.2 522.4h0.8v0.8h-0.8zM127.5 518.9h0.8v0.8h-0.8zM130.3 524.8h0.8v0.8h-0.8zM130.5 518.1h0.8v0.8h-0.8zM126.8 523.9h0.8v0.8h-0.8zM128.4 515.5h0.8v0.8h-0.8zM126.4 520.6h0.8v0.8h-0.8zM127.2 514.8h0.8v0.8h-0.8zM130.2 518.5h0.8v0.8h-0.8zM124.6 516.9h0.8v0.8h-0.8zM129.0 517.0h0.8v0.8h-0.8zM124.6 516.8h0.8v0.8h-0.8zM130.6 521.1h0.8v0.8h-0.8zM130.7 522.6h0.8v0.8h-0.8zM122.5 518.1h0.8v0.8h-0.8zM127.7 521.0h0.8v0.8h-0.8zM123.5 518.0h0.8v0.8h-0.8zM133.4 522.6h0.8v0.8h-0.8zM121.7 523.9h0.8v0.8h-0.8zM124.8 516.2h0.8v0.8h-0.8zM130.5 525.0h0.8v0.8h-0.8zM127.4 524.7h0.8v0.8h-0.8zM128.4 527.5h0.8v0.8h-0.8zM123.8 515.3h0.8v0.8h-0.8zM129.0 520.0h0.8v0.8h-0.8zM123.4 519.0h0.8v0.8h-0.8zM119.9 517.6h0.8v0.8h-0.8zM126.3 519.2h0.8v0.8h-0.8zM124.8 521.5h0.8v0.8h-0.8zM129.3 518.9h0.8v0.8h-0.8zM124.9 522.2h0.8v0.8h-0.8zM125.2 524.3h0.8v0.8h-0.8zM132.0 522.8h0.8v0.8h-0.8zM124.9 516.4h0.8v0.8h-0.8zM129.5 522.4h0.8v0.8h-0.8zM128.8 516.0h0.8v0.8h-0.8zM129.9 520.3h0.8v0.8h-0.8zM127.9 516.1h0.8v0.8h-0.8zM122.5 519.8h0.8v0.8h-0.8zM125.7 521.7h0.8v0.8h-0.8zM130.3 517.3h0.8v0.8h-0.8zM126.6 516.3h0.8v0.8h-0.8zM132.5 524.2h0.8v0.8h-0.8zM126.5 523.9h0.8v0.8h-0.8zM125.2 514.8h0.8v0.8h-0.8zM125.8 515.2h0.8v0.8h-0.8zM130.7 520.0h0.8v0.8h-0.8zM131.2 523.8h0.8v0.8h-0.8zM123.0 521.5h0.8v0.8h-0.8zM132.3 524.1h0.8v0.8h-0.8zM126.9 521.9h0.8v0.8h-0.8zM131.2 522.2h0.8v0.8h-0.8zM130.6 525.5h0.8v0.8h-0.8zM131.3 522.4h0.8v0.8h-0.8zM125.7 517.1h0.8v0.8h-0.8zM126.6 518.2h0.8v0.8h-0.8zM123.8 524.4h0.8v0.8h-0.8zM128.2 515.7h0.8v0.8h-0.8zM122.9 524.1h0.8v0.8h-0.8zM125.3 519.4h0.8v0.8h-0.8zM125.5 523.2h0.8v0.8h-0.8zM128.3 526.7h0.8v0.8h-0.8zM131.1 520.3h0.8v0.8h-0.8zM128.4 515.5h0.8v0.8h-0.8zM131.3 523.3h0.8v0.8h-0.8zM130.0 515.2h0.8v0.8h-0.8zM125.3 518.0h0.8v0.8h-0.8zM131.0 517.4h0.8v0.8h-0.8zM128.5 522.9h0.8v0.8h-0.8zM131.6 521.9h0.8v0.8h-0.8zM122.9 526.4h0.8v0.8h-0.8zM129.3 520.5h0.8v0.8h-0.8zM126.5 516.7h0.8v0.8h-0.8zM126.6 524.8h0.8v0.8h-0.8zM142.9 509.8h0.8v0.8h-0.8zM147.9 509.8h0.8v0.8h-0.8zM142.8 515.7h0.8v0.8h-0.8zM146.6 515.5h0.8v0.8h-0.8zM144.1 514.9h0.8v0.8h-0.8zM140.8 509.0h0.8v0.8h-0.8zM142.2 515.2h0.8v0.8h-0.8zM143.1 511.2h0.8v0.8h-0.8zM147.0 515.0h0.8v0.8h-0.8zM140.8 516.7h0.8v0.8h-0.8zM141.5 507.5h0.8v0.8h-0.8zM146.5 510.6h0.8v0.8h-0.8zM143.5 509.0h0.8v0.8h-0.8zM138.5 511.0h0.8v0.8h-0.8zM143.8 510.9h0.8v0.8h-0.8zM143.8 510.8h0.8v0.8h-0.8zM145.8 510.3h0.8v0.8h-0.8zM142.9 518.1h0.8v0.8h-0.8zM138.4 512.9h0.8v0.8h-0.8zM142.1 516.1h0.8v0.8h-0.8zM140.3 509.5h0.8v0.8h-0.8zM145.7 516.2h0.8v0.8h-0.8zM139.9 517.4h0.8v0.8h-0.8zM138.1 515.5h0.8v0.8h-0.8zM141.9 510.4h0.8v0.8h-0.8zM140.3 512.9h0.8v0.8h-0.8zM145.4 509.8h0.8v0.8h-0.8zM141.5 508.5h0.8v0.8h-0.8zM146.8 512.4h0.8v0.8h-0.8zM143.7 514.6h0.8v0.8h-0.8zM140.8 515.3h0.8v0.8h-0.8zM141.7 507.9h0.8v0.8h-0.8zM141.9 508.3h0.8v0.8h-0.8zM138.6 507.4h0.8v0.8h-0.8zM144.2 510.5h0.8v0.8h-0.8zM140.0 509.8h0.8v0.8h-0.8zM136.7 511.1h0.8v0.8h-0.8zM142.5 508.2h0.8v0.8h-0.8zM140.4 508.4h0.8v0.8h-0.8zM135.1 510.9h0.8v0.8h-0.8zM141.5 517.3h0.8v0.8h-0.8zM143.6 511.5h0.8v0.8h-0.8zM145.5 510.6h0.8v0.8h-0.8zM144.9 514.4h0.8v0.8h-0.8zM141.6 515.2h0.8v0.8h-0.8zM140.3 508.3h0.8v0.8h-0.8zM145.4 512.2h0.8v0.8h-0.8zM143.5 508.8h0.8v0.8h-0.8zM136.3 513.8h0.8v0.8h-0.8zM142.1 517.5h0.8v0.8h-0.8zM137.7 507.0h0.8v0.8h-0.8zM141.2 506.7h0.8v0.8h-0.8zM137.6 506.8h0.8v0.8h-0.8zM146.4 515.5h0.8v0.8h-0.8zM143.6 508.8h0.8v0.8h-0.8zM142.0 512.1h0.8v0.8h-0.8zM135.1 509.7h0.8v0.8h-0.8zM140.4 506.1h0.8v0.8h-0.8zM146.2 514.7h0.8v0.8h-0.8zM143.9 511.4h0.8v0.8h-0.8zM139.8 515.0h0.8v0.8h-0.8zM134.0 511.4h0.8v0.8h-0.8zM136.7 511.3h0.8v0.8h-0.8zM142.5 515.5h0.8v0.8h-0.8zM140.4 508.0h0.8v0.8h-0.8zM138.7 514.5h0.8v0.8h-0.8zM138.3 509.2h0.8v0.8h-0.8zM144.2 513.1h0.8v0.8h-0.8zM141.3 514.5h0.8v0.8h-0.8zM138.4 510.8h0.8v0.8h-0.8zM144.7 512.3h0.8v0.8h-0.8zM143.0 514.8h0.8v0.8h-0.8zM141.1 511.5h0.8v0.8h-0.8zM145.0 514.5h0.8v0.8h-0.8zM137.4 512.1h0.8v0.8h-0.8zM136.9 515.8h0.8v0.8h-0.8zM139.1 511.4h0.8v0.8h-0.8zM134.4 513.9h0.8v0.8h-0.8zM137.5 510.4h0.8v0.8h-0.8zM139.1 511.7h0.8v0.8h-0.8zM146.0 510.3h0.8v0.8h-0.8zM142.2 513.8h0.8v0.8h-0.8zM139.4 514.8h0.8v0.8h-0.8zM143.8 513.0h0.8v0.8h-0.8zM139.2 515.9h0.8v0.8h-0.8zM145.1 511.4h0.8v0.8h-0.8zM141.0 514.9h0.8v0.8h-0.8zM137.9 510.2h0.8v0.8h-0.8zM137.3 509.7h0.8v0.8h-0.8zM136.1 515.0h0.8v0.8h-0.8zM136.6 513.1h0.8v0.8h-0.8zM141.5 506.7h0.8v0.8h-0.8zM143.0 506.3h0.8v0.8h-0.8zM138.7 516.7h0.8v0.8h-0.8zM143.2 509.2h0.8v0.8h-0.8zM138.1 509.0h0.8v0.8h-0.8zM143.3 515.7h0.8v0.8h-0.8zM141.8 512.1h0.8v0.8h-0.8zM139.0 515.7h0.8v0.8h-0.8zM137.1 511.2h0.8v0.8h-0.8zM138.6 506.0h0.8v0.8h-0.8zM146.2 509.7h0.8v0.8h-0.8zM144.2 510.1h0.8v0.8h-0.8zM139.6 510.4h0.8v0.8h-0.8zM138.7 512.6h0.8v0.8h-0.8zM137.5 515.7h0.8v0.8h-0.8zM141.2 511.7h0.8v0.8h-0.8zM146.8 510.0h0.8v0.8h-0.8zM144.7 510.0h0.8v0.8h-0.8zM128.2 526.3h0.8v0.8h-0.8zM133.8 531.3h0.8v0.8h-0.8zM127.3 525.1h0.8v0.8h-0.8zM133.2 524.4h0.8v0.8h-0.8zM128.1 527.0h0.8v0.8h-0.8zM131.4 523.2h0.8v0.8h-0.8zM129.2 529.0h0.8v0.8h-0.8zM127.4 525.4h0.8v0.8h-0.8zM126.8 526.8h0.8v0.8h-0.8zM130.2 531.1h0.8v0.8h-0.8zM137.4 528.1h0.8v0.8h-0.8zM130.4 523.4h0.8v0.8h-0.8zM129.7 532.5h0.8v0.8h-0.8zM130.3 526.3h0.8v0.8h-0.8zM132.1 525.8h0.8v0.8h-0.8zM128.1 523.1h0.8v0.8h-0.8zM130.6 526.8h0.8v0.8h-0.8zM136.3 529.0h0.8v0.8h-0.8zM127.3 527.9h0.8v0.8h-0.8zM132.9 528.7h0.8v0.8h-0.8zM135.6 529.8h0.8v0.8h-0.8zM131.9 529.7h0.8v0.8h-0.8zM133.3 522.1h0.8v0.8h-0.8zM128.8 531.2h0.8v0.8h-0.8zM130.7 530.0h0.8v0.8h-0.8zM135.6 528.5h0.8v0.8h-0.8zM135.4 527.5h0.8v0.8h-0.8zM131.7 530.3h0.8v0.8h-0.8zM128.5 523.1h0.8v0.8h-0.8zM135.8 524.4h0.8v0.8h-0.8zM127.7 528.3h0.8v0.8h-0.8zM133.5 530.1h0.8v0.8h-0.8zM136.2 530.1h0.8v0.8h-0.8zM127.3 526.8h0.8v0.8h-0.8zM128.0 527.8h0.8v0.8h-0.8zM134.0 528.8h0.8v0.8h-0.8zM128.2 523.4h0.8v0.8h-0.8zM130.5 524.3h0.8v0.8h-0.8zM129.5 531.1h0.8v0.8h-0.8zM129.8 526.8h0.8v0.8h-0.8zM127.7 530.6h0.8v0.8h-0.8zM127.4 526.8h0.8v0.8h-0.8zM136.7 527.3h0.8v0.8h-0.8zM129.3 528.9h0.8v0.8h-0.8zM129.4 525.0h0.8v0.8h-0.8zM131.2 533.3h0.8v0.8h-0.8zM130.2 526.3h0.8v0.8h-0.8zM129.9 531.6h0.8v0.8h-0.8zM127.3 527.2h0.8v0.8h-0.8zM125.4 527.0h0.8v0.8h-0.8zM128.2 527.2h0.8v0.8h-0.8zM130.4 524.2h0.8v0.8h-0.8zM132.0 528.8h0.8v0.8h-0.8zM127.5 527.4h0.8v0.8h-0.8zM131.6 525.8h0.8v0.8h-0.8zM135.0 524.8h0.8v0.8h-0.8zM133.3 523.6h0.8v0.8h-0.8zM134.6 527.2h0.8v0.8h-0.8zM134.7 526.4h0.8v0.8h-0.8zM128.1 528.1h0.8v0.8h-0.8zM128.9 529.1h0.8v0.8h-0.8zM129.3 526.5h0.8v0.8h-0.8zM132.9 530.9h0.8v0.8h-0.8zM134.6 531.0h0.8v0.8h-0.8zM128.7 524.4h0.8v0.8h-0.8zM129.4 530.7h0.8v0.8h-0.8zM130.6 529.5h0.8v0.8h-0.8zM128.8 527.6h0.8v0.8h-0.8zM137.4 525.4h0.8v0.8h-0.8zM127.0 527.1h0.8v0.8h-0.8zM133.9 524.5h0.8v0.8h-0.8zM127.0 530.6h0.8v0.8h-0.8zM135.4 525.4h0.8v0.8h-0.8zM134.1 522.5h0.8v0.8h-0.8zM125.9 527.7h0.8v0.8h-0.8zM133.3 526.9h0.8v0.8h-0.8zM128.2 529.6h0.8v0.8h-0.8zM137.9 529.7h0.8v0.8h-0.8zM127.9 527.2h0.8v0.8h-0.8zM133.6 525.5h0.8v0.8h-0.8zM124.7 529.2h0.8v0.8h-0.8zM132.1 523.2h0.8v0.8h-0.8zM135.1 532.4h0.8v0.8h-0.8zM143.3 522.5h0.8v0.8h-0.8zM144.0 519.9h0.8v0.8h-0.8zM140.4 519.3h0.8v0.8h-0.8zM146.6 522.7h0.8v0.8h-0.8zM141.1 526.3h0.8v0.8h-0.8zM145.5 520.0h0.8v0.8h-0.8zM140.3 518.3h0.8v0.8h-0.8zM141.7 525.5h0.8v0.8h-0.8zM138.9 521.0h0.8v0.8h-0.8zM143.9 525.7h0.8v0.8h-0.8zM145.1 522.6h0.8v0.8h-0.8zM145.9 523.9h0.8v0.8h-0.8zM144.8 522.7h0.8v0.8h-0.8zM144.5 521.2h0.8v0.8h-0.8zM142.2 525.1h0.8v0.8h-0.8zM138.8 521.2h0.8v0.8h-0.8zM139.4 521.9h0.8v0.8h-0.8zM143.6 525.3h0.8v0.8h-0.8zM144.4 522.4h0.8v0.8h-0.8zM140.2 522.1h0.8v0.8h-0.8zM141.8 521.9h0.8v0.8h-0.8zM143.2 524.0h0.8v0.8h-0.8zM144.5 520.7h0.8v0.8h-0.8zM141.3 519.2h0.8v0.8h-0.8zM142.8 523.9h0.8v0.8h-0.8zM143.4 522.6h0.8v0.8h-0.8zM140.0 522.3h0.8v0.8h-0.8zM143.3 526.7h0.8v0.8h-0.8zM142.5 517.2h0.8v0.8h-0.8zM142.2 521.1h0.8v0.8h-0.8zM146.7 522.6h0.8v0.8h-0.8zM142.5 521.9h0.8v0.8h-0.8zM143.0 525.3h0.8v0.8h-0.8zM140.6 522.7h0.8v0.8h-0.8zM140.2 520.2h0.8v0.8h-0.8zM139.2 523.3h0.8v0.8h-0.8zM139.9 521.1h0.8v0.8h-0.8zM145.0 518.3h0.8v0.8h-0.8zM141.6 522.9h0.8v0.8h-0.8zM144.3 523.4h0.8v0.8h-0.8zM139.6 519.2h0.8v0.8h-0.8zM142.3 522.3h0.8v0.8h-0.8zM141.0 525.3h0.8v0.8h-0.8zM143.4 523.5h0.8v0.8h-0.8zM143.5 521.4h0.8v0.8h-0.8zM142.7 525.8h0.8v0.8h-0.8zM141.0 519.3h0.8v0.8h-0.8zM145.3 520.5h0.8v0.8h-0.8zM140.0 523.2h0.8v0.8h-0.8zM143.3 522.9h0.8v0.8h-0.8zM144.6 518.2h0.8v0.8h-0.8zM144.5 525.7h0.8v0.8h-0.8zM140.2 522.4h0.8v0.8h-0.8zM144.1 520.5h0.8v0.8h-0.8zM142.8 523.3h0.8v0.8h-0.8zM143.1 517.1h0.8v0.8h-0.8z" fill="#4db8d9" opacity="0.95"/><path d="M125.0 516.7h0.8v0.8h-0.8zM138.4 526.0h0.8v0.8h-0.8zM141.1 517.2h0.8v0.8h-0.8zM133.8 510.0h0.8v0.8h-0.8zM143.6 519.4h0.8v0.8h-0.8zM132.8 515.4h0.8v0.8h-0.8zM137.2 525.1h0.8v0.8h-0.8zM132.1 513.0h0.8v0.8h-0.8zM138.9 510.1h0.8v0.8h-0.8zM131.8 525.7h0.8v0.8h-0.8zM135.6 520.6h0.8v0.8h-0.8zM135.1 517.0h0.8v0.8h-0.8zM132.5 516.2h0.8v0.8h-0.8zM132.3 527.0h0.8v0.8h-0.8zM128.6 525.7h0.8v0.8h-0.8zM142.4 518.7h0.8v0.8h-0.8zM143.6 513.3h0.8v0.8h-0.8zM124.4 520.6h0.8v0.8h-0.8zM127.9 520.6h0.8v0.8h-0.8zM138.9 523.7h0.8v0.8h-0.8zM126.8 512.8h0.8v0.8h-0.8zM140.7 511.3h0.8v0.8h-0.8zM130.1 510.9h0.8v0.8h-0.8zM131.1 520.6h0.8v0.8h-0.8zM124.9 517.6h0.8v0.8h-0.8zM129.4 520.6h0.8v0.8h-0.8zM130.0 519.1h0.8v0.8h-0.8zM127.2 520.1h0.8v0.8h-0.8zM124.9 520.8h0.8v0.8h-0.8zM122.7 518.0h0.8v0.8h-0.8zM145.9 511.2h0.8v0.8h-0.8zM142.7 512.2h0.8v0.8h-0.8zM140.8 515.6h0.8v0.8h-0.8zM140.2 508.2h0.8v0.8h-0.8zM141.3 513.2h0.8v0.8h-0.8zM127.9 524.8h0.8v0.8h-0.8zM129.3 527.4h0.8v0.8h-0.8zM132.9 526.0h0.8v0.8h-0.8zM134.4 527.5h0.8v0.8h-0.8zM141.2 522.5h0.8v0.8h-0.8zM140.7 521.5h0.8v0.8h-0.8zM144.6 523.8h0.8v0.8h-0.8z" fill="#ffffff" opacity="0.8"/><path d="M122.8 511.9h0.8v0.8h-0.8zM122.3 511.3h0.8v0.8h-0.8zM118.6 512.8h0.8v0.8h-0.8zM123.5 508.7h0.8v0.8h-0.8zM122.7 514.3h0.8v0.8h-0.8zM120.1 511.8h0.8v0.8h-0.8zM120.3 510.1h0.8v0.8h-0.8zM124.9 515.8h0.8v0.8h-0.8zM119.2 510.1h0.8v0.8h-0.8zM120.4 514.3h0.8v0.8h-0.8zM124.9 514.2h0.8v0.8h-0.8zM125.7 510.5h0.8v0.8h-0.8zM120.0 512.4h0.8v0.8h-0.8zM121.2 514.1h0.8v0.8h-0.8zM122.6 513.3h0.8v0.8h-0.8zM118.0 512.3h0.8v0.8h-0.8zM126.4 513.2h0.8v0.8h-0.8zM120.3 507.1h0.8v0.8h-0.8zM125.8 515.7h0.8v0.8h-0.8zM119.7 509.3h0.8v0.8h-0.8zM118.7 511.4h0.8v0.8h-0.8zM122.0 514.9h0.8v0.8h-0.8zM125.4 514.5h0.8v0.8h-0.8zM123.6 510.5h0.8v0.8h-0.8zM124.0 512.4h0.8v0.8h-0.8zM123.1 509.6h0.8v0.8h-0.8zM121.6 515.8h0.8v0.8h-0.8zM127.1 509.6h0.8v0.8h-0.8zM127.1 515.4h0.8v0.8h-0.8zM122.4 510.2h0.8v0.8h-0.8zM121.2 510.1h0.8v0.8h-0.8zM126.6 516.4h0.8v0.8h-0.8zM122.5 510.7h0.8v0.8h-0.8zM127.2 508.6h0.8v0.8h-0.8zM126.0 509.9h0.8v0.8h-0.8zM127.8 513.0h0.8v0.8h-0.8zM121.3 515.7h0.8v0.8h-0.8zM128.2 510.4h0.8v0.8h-0.8zM126.1 517.2h0.8v0.8h-0.8zM126.0 513.2h0.8v0.8h-0.8z" fill="#4db8d9" opacity="0.9"/></g>
<g clip-path="url(#cd2)"><path d="M218.4 529.7h0.8v0.8h-0.8zM211.7 536.8h0.8v0.8h-0.8zM211.1 523.5h0.8v0.8h-0.8zM213.4 533.3h0.8v0.8h-0.8zM218.4 531.2h0.8v0.8h-0.8zM216.2 521.4h0.8v0.8h-0.8zM206.0 532.1h0.8v0.8h-0.8zM213.5 529.9h0.8v0.8h-0.8zM206.9 526.9h0.8v0.8h-0.8zM208.4 530.4h0.8v0.8h-0.8zM223.3 531.3h0.8v0.8h-0.8zM214.1 528.0h0.8v0.8h-0.8zM212.8 527.8h0.8v0.8h-0.8zM217.7 527.3h0.8v0.8h-0.8zM220.5 531.7h0.8v0.8h-0.8zM211.4 529.6h0.8v0.8h-0.8zM215.7 527.2h0.8v0.8h-0.8zM207.8 528.3h0.8v0.8h-0.8zM209.7 531.3h0.8v0.8h-0.8zM216.3 537.1h0.8v0.8h-0.8zM214.9 527.7h0.8v0.8h-0.8zM216.0 530.6h0.8v0.8h-0.8zM215.5 528.3h0.8v0.8h-0.8zM217.9 526.2h0.8v0.8h-0.8zM214.9 534.1h0.8v0.8h-0.8zM215.3 523.5h0.8v0.8h-0.8zM214.1 534.2h0.8v0.8h-0.8zM213.4 523.7h0.8v0.8h-0.8zM204.1 532.1h0.8v0.8h-0.8zM214.2 521.4h0.8v0.8h-0.8zM211.6 533.9h0.8v0.8h-0.8zM219.2 526.6h0.8v0.8h-0.8zM227.2 526.6h0.8v0.8h-0.8zM221.0 529.3h0.8v0.8h-0.8zM206.5 528.3h0.8v0.8h-0.8zM213.2 536.5h0.8v0.8h-0.8zM216.3 530.2h0.8v0.8h-0.8zM221.9 524.6h0.8v0.8h-0.8zM211.5 533.4h0.8v0.8h-0.8zM210.3 532.2h0.8v0.8h-0.8zM216.8 533.1h0.8v0.8h-0.8zM223.9 524.9h0.8v0.8h-0.8zM206.4 529.7h0.8v0.8h-0.8zM215.8 525.3h0.8v0.8h-0.8zM211.1 522.0h0.8v0.8h-0.8zM221.8 534.0h0.8v0.8h-0.8zM211.3 532.3h0.8v0.8h-0.8zM218.0 539.0h0.8v0.8h-0.8zM216.3 524.4h0.8v0.8h-0.8zM214.8 529.6h0.8v0.8h-0.8z" fill="#e8432e" opacity="0.9"/><path d="M199.6 537.2h0.8v0.8h-0.8zM191.8 525.3h0.8v0.8h-0.8zM205.5 533.4h0.8v0.8h-0.8zM197.8 532.6h0.8v0.8h-0.8zM205.2 530.5h0.8v0.8h-0.8zM212.9 534.8h0.8v0.8h-0.8zM207.6 529.3h0.8v0.8h-0.8zM199.7 523.6h0.8v0.8h-0.8zM204.3 531.8h0.8v0.8h-0.8zM201.9 527.4h0.8v0.8h-0.8zM198.7 531.3h0.8v0.8h-0.8zM214.2 523.1h0.8v0.8h-0.8zM200.5 535.1h0.8v0.8h-0.8zM195.2 524.8h0.8v0.8h-0.8zM205.9 533.7h0.8v0.8h-0.8zM194.3 526.4h0.8v0.8h-0.8z" fill="#4db8d9" opacity="0.9"/><path d="M197.4 520.8h0.8v0.8h-0.8zM204.9 524.2h0.8v0.8h-0.8zM213.7 529.0h0.8v0.8h-0.8zM203.7 530.7h0.8v0.8h-0.8zM220.5 521.1h0.8v0.8h-0.8zM199.9 528.2h0.8v0.8h-0.8zM214.2 524.7h0.8v0.8h-0.8zM194.3 535.7h0.8v0.8h-0.8zM206.9 523.1h0.8v0.8h-0.8zM189.6 525.7h0.8v0.8h-0.8zM191.4 529.2h0.8v0.8h-0.8zM212.0 525.2h0.8v0.8h-0.8zM227.1 524.5h0.8v0.8h-0.8zM188.9 518.4h0.8v0.8h-0.8zM200.5 524.8h0.8v0.8h-0.8zM213.8 535.6h0.8v0.8h-0.8zM199.1 515.8h0.8v0.8h-0.8zM221.8 522.8h0.8v0.8h-0.8zM209.0 524.5h0.8v0.8h-0.8zM187.1 530.5h0.8v0.8h-0.8z" fill="#1b9a7e" opacity="0.9"/><ellipse cx="202.50" cy="549.00" rx="10.20" ry="8.50" fill="#1b9a7e" opacity="0.92" transform="rotate(0 202.50 549.00)" filter="url(#b05)"/><ellipse cx="200.00" cy="541.50" rx="7.65" ry="3.40" fill="#1b9a7e" opacity="0.92" transform="rotate(0 200.00 541.50)" filter="url(#b05)"/><ellipse cx="196.00" cy="553.00" rx="5.95" ry="5.95" fill="#1b9a7e" opacity="0.92" transform="rotate(0 196.00 553.00)" filter="url(#b05)"/><ellipse cx="210.00" cy="543.50" rx="6.80" ry="4.67" fill="#1b9a7e" opacity="0.92" transform="rotate(0 210.00 543.50)" filter="url(#b05)"/><ellipse cx="205.00" cy="557.00" rx="6.80" ry="2.98" fill="#1b9a7e" opacity="0.92" transform="rotate(0 205.00 557.00)" filter="url(#b05)"/><ellipse cx="226.00" cy="538.00" rx="7.22" ry="8.50" fill="#1b9a7e" opacity="0.92" transform="rotate(-20 226.00 538.00)" filter="url(#b05)"/><ellipse cx="221.00" cy="545.00" rx="5.10" ry="4.25" fill="#1b9a7e" opacity="0.92" transform="rotate(0 221.00 545.00)" filter="url(#b05)"/><ellipse cx="230.00" cy="533.50" rx="4.25" ry="5.10" fill="#1b9a7e" opacity="0.92" transform="rotate(0 230.00 533.50)" filter="url(#b05)"/><path d="M200.9 552.8h0.8v0.8h-0.8zM196.0 546.7h0.8v0.8h-0.8zM203.8 543.4h0.8v0.8h-0.8zM193.7 547.3h0.8v0.8h-0.8zM198.7 551.0h0.8v0.8h-0.8zM203.6 556.8h0.8v0.8h-0.8zM205.4 546.8h0.8v0.8h-0.8zM206.0 545.4h0.8v0.8h-0.8zM197.9 553.8h0.8v0.8h-0.8zM210.7 547.0h0.8v0.8h-0.8zM207.8 552.4h0.8v0.8h-0.8zM189.3 547.1h0.8v0.8h-0.8zM208.7 543.1h0.8v0.8h-0.8zM197.6 541.1h0.8v0.8h-0.8zM207.1 543.1h0.8v0.8h-0.8zM207.2 552.7h0.8v0.8h-0.8zM201.5 552.4h0.8v0.8h-0.8zM201.3 543.0h0.8v0.8h-0.8zM209.7 556.9h0.8v0.8h-0.8zM206.1 548.3h0.8v0.8h-0.8zM200.1 547.2h0.8v0.8h-0.8zM193.7 546.4h0.8v0.8h-0.8zM209.3 555.2h0.8v0.8h-0.8zM198.1 544.3h0.8v0.8h-0.8zM196.8 547.8h0.8v0.8h-0.8zM193.7 550.2h0.8v0.8h-0.8zM199.9 553.9h0.8v0.8h-0.8zM198.1 553.2h0.8v0.8h-0.8zM208.6 549.2h0.8v0.8h-0.8zM212.4 549.0h0.8v0.8h-0.8zM195.5 540.8h0.8v0.8h-0.8zM204.7 541.7h0.8v0.8h-0.8zM209.6 551.8h0.8v0.8h-0.8zM205.3 545.5h0.8v0.8h-0.8zM208.6 546.6h0.8v0.8h-0.8zM194.7 549.1h0.8v0.8h-0.8zM194.6 555.0h0.8v0.8h-0.8zM203.4 558.7h0.8v0.8h-0.8zM207.7 546.3h0.8v0.8h-0.8zM209.4 554.6h0.8v0.8h-0.8zM201.2 556.5h0.8v0.8h-0.8zM201.1 544.5h0.8v0.8h-0.8zM208.1 555.1h0.8v0.8h-0.8zM196.0 548.8h0.8v0.8h-0.8zM200.6 556.5h0.8v0.8h-0.8zM203.6 550.3h0.8v0.8h-0.8zM205.0 554.4h0.8v0.8h-0.8zM193.7 552.5h0.8v0.8h-0.8zM213.0 549.7h0.8v0.8h-0.8zM198.4 545.8h0.8v0.8h-0.8zM201.4 542.4h0.8v0.8h-0.8zM211.1 554.8h0.8v0.8h-0.8zM199.3 541.5h0.8v0.8h-0.8zM201.6 546.6h0.8v0.8h-0.8zM199.5 541.6h0.8v0.8h-0.8zM200.9 551.8h0.8v0.8h-0.8zM201.5 558.7h0.8v0.8h-0.8zM202.1 549.6h0.8v0.8h-0.8zM197.4 540.8h0.8v0.8h-0.8zM193.2 546.3h0.8v0.8h-0.8zM203.3 554.9h0.8v0.8h-0.8zM191.9 545.2h0.8v0.8h-0.8zM205.1 544.5h0.8v0.8h-0.8zM194.4 545.1h0.8v0.8h-0.8zM201.1 545.1h0.8v0.8h-0.8zM209.1 541.8h0.8v0.8h-0.8zM197.5 552.3h0.8v0.8h-0.8zM206.4 543.9h0.8v0.8h-0.8zM197.7 553.3h0.8v0.8h-0.8zM196.9 549.3h0.8v0.8h-0.8zM210.3 552.7h0.8v0.8h-0.8zM199.6 552.2h0.8v0.8h-0.8zM199.1 542.3h0.8v0.8h-0.8zM206.0 554.7h0.8v0.8h-0.8zM200.1 545.6h0.8v0.8h-0.8zM205.9 544.2h0.8v0.8h-0.8zM197.5 558.3h0.8v0.8h-0.8zM200.0 540.7h0.8v0.8h-0.8zM196.5 554.3h0.8v0.8h-0.8zM208.3 558.1h0.8v0.8h-0.8zM209.6 546.7h0.8v0.8h-0.8zM196.7 557.0h0.8v0.8h-0.8zM194.7 551.2h0.8v0.8h-0.8zM210.1 554.1h0.8v0.8h-0.8zM204.3 546.4h0.8v0.8h-0.8zM199.6 557.6h0.8v0.8h-0.8zM195.0 548.5h0.8v0.8h-0.8zM211.7 553.2h0.8v0.8h-0.8zM205.8 545.9h0.8v0.8h-0.8zM197.6 543.2h0.8v0.8h-0.8zM202.7 558.1h0.8v0.8h-0.8zM203.0 545.7h0.8v0.8h-0.8zM198.2 550.5h0.8v0.8h-0.8zM210.1 544.1h0.8v0.8h-0.8zM205.7 553.8h0.8v0.8h-0.8zM202.6 558.0h0.8v0.8h-0.8zM207.8 545.6h0.8v0.8h-0.8zM212.6 551.0h0.8v0.8h-0.8zM209.2 553.9h0.8v0.8h-0.8zM208.0 557.2h0.8v0.8h-0.8zM195.2 554.1h0.8v0.8h-0.8zM195.2 548.2h0.8v0.8h-0.8zM202.7 543.5h0.8v0.8h-0.8zM202.7 540.8h0.8v0.8h-0.8zM197.2 546.9h0.8v0.8h-0.8zM196.1 546.8h0.8v0.8h-0.8zM199.1 540.2h0.8v0.8h-0.8zM208.1 557.1h0.8v0.8h-0.8zM192.5 553.1h0.8v0.8h-0.8zM199.8 560.4h0.8v0.8h-0.8zM212.6 548.1h0.8v0.8h-0.8zM194.4 548.8h0.8v0.8h-0.8zM201.4 542.3h0.8v0.8h-0.8zM199.6 547.2h0.8v0.8h-0.8zM200.9 557.4h0.8v0.8h-0.8zM191.7 546.3h0.8v0.8h-0.8zM191.3 550.7h0.8v0.8h-0.8zM201.3 547.8h0.8v0.8h-0.8zM206.9 554.3h0.8v0.8h-0.8zM197.2 548.1h0.8v0.8h-0.8zM194.5 550.2h0.8v0.8h-0.8zM208.4 557.2h0.8v0.8h-0.8zM204.0 541.0h0.8v0.8h-0.8zM200.2 540.4h0.8v0.8h-0.8zM205.1 556.4h0.8v0.8h-0.8zM200.6 542.9h0.8v0.8h-0.8zM206.2 542.0h0.8v0.8h-0.8zM209.5 556.1h0.8v0.8h-0.8zM204.6 543.3h0.8v0.8h-0.8zM204.7 547.6h0.8v0.8h-0.8zM193.2 549.1h0.8v0.8h-0.8zM197.9 557.5h0.8v0.8h-0.8zM203.8 542.8h0.8v0.8h-0.8zM193.6 550.6h0.8v0.8h-0.8zM211.7 551.2h0.8v0.8h-0.8zM210.5 542.7h0.8v0.8h-0.8zM208.2 551.4h0.8v0.8h-0.8zM197.2 547.4h0.8v0.8h-0.8zM194.9 550.3h0.8v0.8h-0.8zM209.0 558.0h0.8v0.8h-0.8zM190.8 548.4h0.8v0.8h-0.8zM197.0 553.4h0.8v0.8h-0.8zM191.1 547.6h0.8v0.8h-0.8zM198.3 547.8h0.8v0.8h-0.8zM209.3 550.8h0.8v0.8h-0.8zM196.4 541.6h0.8v0.8h-0.8zM199.2 540.3h0.8v0.8h-0.8zM196.3 545.7h0.8v0.8h-0.8zM208.2 554.3h0.8v0.8h-0.8zM197.4 543.5h0.8v0.8h-0.8zM205.8 555.4h0.8v0.8h-0.8zM206.4 542.8h0.8v0.8h-0.8zM211.7 555.3h0.8v0.8h-0.8zM195.8 553.3h0.8v0.8h-0.8zM206.8 540.7h0.8v0.8h-0.8zM208.7 540.4h0.8v0.8h-0.8zM201.0 551.6h0.8v0.8h-0.8zM201.0 554.2h0.8v0.8h-0.8zM213.5 546.2h0.8v0.8h-0.8zM191.1 547.7h0.8v0.8h-0.8zM209.2 544.1h0.8v0.8h-0.8zM208.0 543.3h0.8v0.8h-0.8zM202.1 539.6h0.8v0.8h-0.8zM197.2 548.2h0.8v0.8h-0.8zM206.2 543.7h0.8v0.8h-0.8zM193.5 546.6h0.8v0.8h-0.8zM196.7 540.7h0.8v0.8h-0.8zM198.0 556.8h0.8v0.8h-0.8zM212.2 551.6h0.8v0.8h-0.8zM196.3 541.9h0.8v0.8h-0.8zM200.4 549.5h0.8v0.8h-0.8zM212.2 550.5h0.8v0.8h-0.8zM204.5 558.8h0.8v0.8h-0.8zM199.7 553.8h0.8v0.8h-0.8zM191.9 542.8h0.8v0.8h-0.8zM197.8 558.1h0.8v0.8h-0.8zM208.3 539.9h0.8v0.8h-0.8zM202.8 551.7h0.8v0.8h-0.8zM209.0 548.0h0.8v0.8h-0.8zM198.1 541.3h0.8v0.8h-0.8zM203.0 552.9h0.8v0.8h-0.8zM204.1 550.6h0.8v0.8h-0.8zM202.1 544.5h0.8v0.8h-0.8zM198.8 558.9h0.8v0.8h-0.8zM215.1 547.6h0.8v0.8h-0.8zM201.3 553.1h0.8v0.8h-0.8zM196.3 554.5h0.8v0.8h-0.8zM206.1 542.8h0.8v0.8h-0.8zM199.5 540.8h0.8v0.8h-0.8zM205.7 542.8h0.8v0.8h-0.8zM207.1 554.7h0.8v0.8h-0.8zM207.4 550.3h0.8v0.8h-0.8zM213.6 545.7h0.8v0.8h-0.8zM195.8 558.8h0.8v0.8h-0.8zM200.6 554.9h0.8v0.8h-0.8zM197.6 540.5h0.8v0.8h-0.8zM202.0 546.8h0.8v0.8h-0.8zM206.6 544.7h0.8v0.8h-0.8zM195.8 552.8h0.8v0.8h-0.8zM191.9 549.8h0.8v0.8h-0.8zM200.5 550.7h0.8v0.8h-0.8zM205.4 557.4h0.8v0.8h-0.8zM202.2 545.1h0.8v0.8h-0.8zM194.9 549.9h0.8v0.8h-0.8zM209.7 554.9h0.8v0.8h-0.8zM196.9 542.8h0.8v0.8h-0.8zM198.6 545.0h0.8v0.8h-0.8zM197.6 553.5h0.8v0.8h-0.8zM207.1 553.7h0.8v0.8h-0.8zM207.0 557.8h0.8v0.8h-0.8zM194.6 547.0h0.8v0.8h-0.8zM196.3 553.6h0.8v0.8h-0.8zM203.7 552.8h0.8v0.8h-0.8zM211.1 550.3h0.8v0.8h-0.8zM195.7 546.1h0.8v0.8h-0.8zM205.4 551.9h0.8v0.8h-0.8zM200.7 554.4h0.8v0.8h-0.8zM195.1 551.8h0.8v0.8h-0.8zM206.4 553.7h0.8v0.8h-0.8zM206.3 554.5h0.8v0.8h-0.8zM199.3 555.6h0.8v0.8h-0.8zM192.4 552.9h0.8v0.8h-0.8zM196.1 551.4h0.8v0.8h-0.8zM207.8 540.4h0.8v0.8h-0.8zM203.4 541.3h0.8v0.8h-0.8zM206.2 550.9h0.8v0.8h-0.8zM200.7 550.4h0.8v0.8h-0.8zM204.9 556.6h0.8v0.8h-0.8zM200.4 543.1h0.8v0.8h-0.8zM206.9 551.2h0.8v0.8h-0.8zM191.7 549.4h0.8v0.8h-0.8zM196.2 548.5h0.8v0.8h-0.8zM205.0 542.9h0.8v0.8h-0.8zM202.5 548.2h0.8v0.8h-0.8zM193.7 550.1h0.8v0.8h-0.8zM211.4 551.3h0.8v0.8h-0.8zM209.5 553.6h0.8v0.8h-0.8zM209.8 541.3h0.8v0.8h-0.8zM204.2 540.2h0.8v0.8h-0.8zM210.1 542.6h0.8v0.8h-0.8zM203.8 550.4h0.8v0.8h-0.8zM193.8 545.2h0.8v0.8h-0.8zM207.0 543.3h0.8v0.8h-0.8zM202.2 544.7h0.8v0.8h-0.8zM201.3 550.7h0.8v0.8h-0.8zM198.1 559.5h0.8v0.8h-0.8zM192.2 548.1h0.8v0.8h-0.8zM210.4 553.1h0.8v0.8h-0.8zM202.9 545.5h0.8v0.8h-0.8zM203.8 559.5h0.8v0.8h-0.8zM208.9 537.6h0.8v0.8h-0.8zM206.2 541.4h0.8v0.8h-0.8zM205.1 537.4h0.8v0.8h-0.8zM202.4 546.3h0.8v0.8h-0.8zM200.4 548.3h0.8v0.8h-0.8zM203.2 551.8h0.8v0.8h-0.8zM212.6 550.5h0.8v0.8h-0.8zM213.6 552.6h0.8v0.8h-0.8zM200.0 546.2h0.8v0.8h-0.8zM211.4 547.4h0.8v0.8h-0.8zM201.9 554.2h0.8v0.8h-0.8zM198.1 544.5h0.8v0.8h-0.8zM196.8 539.3h0.8v0.8h-0.8zM203.1 545.2h0.8v0.8h-0.8zM212.1 550.7h0.8v0.8h-0.8zM197.7 547.0h0.8v0.8h-0.8zM204.3 556.9h0.8v0.8h-0.8zM207.1 554.0h0.8v0.8h-0.8zM211.8 553.0h0.8v0.8h-0.8zM192.1 554.8h0.8v0.8h-0.8zM207.8 543.2h0.8v0.8h-0.8zM211.6 555.9h0.8v0.8h-0.8zM192.8 548.0h0.8v0.8h-0.8zM202.5 553.1h0.8v0.8h-0.8zM210.6 544.1h0.8v0.8h-0.8zM211.9 551.6h0.8v0.8h-0.8zM211.4 546.8h0.8v0.8h-0.8zM195.8 548.3h0.8v0.8h-0.8zM200.3 538.4h0.8v0.8h-0.8zM211.8 549.5h0.8v0.8h-0.8zM194.1 555.7h0.8v0.8h-0.8zM204.5 556.7h0.8v0.8h-0.8zM194.9 554.4h0.8v0.8h-0.8zM197.9 550.2h0.8v0.8h-0.8zM197.8 550.7h0.8v0.8h-0.8zM198.5 546.0h0.8v0.8h-0.8zM202.1 542.6h0.8v0.8h-0.8zM195.1 543.7h0.8v0.8h-0.8zM193.1 542.5h0.8v0.8h-0.8zM215.7 547.1h0.8v0.8h-0.8zM199.5 547.5h0.8v0.8h-0.8zM198.6 552.3h0.8v0.8h-0.8zM199.8 551.3h0.8v0.8h-0.8zM197.5 554.4h0.8v0.8h-0.8zM197.8 545.6h0.8v0.8h-0.8zM195.4 542.8h0.8v0.8h-0.8zM212.2 545.3h0.8v0.8h-0.8zM194.5 549.6h0.8v0.8h-0.8zM208.7 544.0h0.8v0.8h-0.8zM206.4 539.5h0.8v0.8h-0.8zM203.6 545.9h0.8v0.8h-0.8zM197.1 541.8h0.8v0.8h-0.8zM206.8 541.4h0.8v0.8h-0.8zM203.8 542.6h0.8v0.8h-0.8zM201.0 543.4h0.8v0.8h-0.8zM197.0 537.8h0.8v0.8h-0.8zM198.4 544.6h0.8v0.8h-0.8zM194.2 543.9h0.8v0.8h-0.8zM192.8 542.3h0.8v0.8h-0.8zM197.7 538.7h0.8v0.8h-0.8zM196.5 543.6h0.8v0.8h-0.8zM202.2 543.4h0.8v0.8h-0.8zM198.5 542.6h0.8v0.8h-0.8zM195.4 542.9h0.8v0.8h-0.8zM206.3 543.5h0.8v0.8h-0.8zM190.9 539.0h0.8v0.8h-0.8zM201.4 538.8h0.8v0.8h-0.8zM194.3 542.4h0.8v0.8h-0.8zM203.6 542.8h0.8v0.8h-0.8zM197.1 543.2h0.8v0.8h-0.8zM197.6 544.8h0.8v0.8h-0.8zM197.8 538.8h0.8v0.8h-0.8zM201.7 539.2h0.8v0.8h-0.8zM202.7 542.0h0.8v0.8h-0.8zM202.4 543.8h0.8v0.8h-0.8zM195.1 542.5h0.8v0.8h-0.8zM194.8 544.0h0.8v0.8h-0.8zM202.2 540.3h0.8v0.8h-0.8zM203.1 539.6h0.8v0.8h-0.8zM202.2 543.7h0.8v0.8h-0.8zM205.1 544.9h0.8v0.8h-0.8zM196.2 538.4h0.8v0.8h-0.8zM200.5 538.7h0.8v0.8h-0.8zM208.9 542.6h0.8v0.8h-0.8zM191.9 542.9h0.8v0.8h-0.8zM197.5 538.6h0.8v0.8h-0.8zM205.4 544.2h0.8v0.8h-0.8zM195.0 543.6h0.8v0.8h-0.8zM199.9 539.8h0.8v0.8h-0.8zM193.9 542.5h0.8v0.8h-0.8zM202.4 544.8h0.8v0.8h-0.8zM209.1 540.1h0.8v0.8h-0.8zM203.2 542.0h0.8v0.8h-0.8zM198.6 542.2h0.8v0.8h-0.8zM193.9 539.6h0.8v0.8h-0.8zM193.6 540.0h0.8v0.8h-0.8zM201.4 541.3h0.8v0.8h-0.8zM196.3 540.4h0.8v0.8h-0.8zM200.1 540.8h0.8v0.8h-0.8zM202.8 543.1h0.8v0.8h-0.8zM203.9 538.7h0.8v0.8h-0.8zM195.1 540.1h0.8v0.8h-0.8zM197.9 539.0h0.8v0.8h-0.8zM200.2 544.3h0.8v0.8h-0.8zM205.4 544.5h0.8v0.8h-0.8zM205.1 540.7h0.8v0.8h-0.8zM195.7 539.0h0.8v0.8h-0.8zM200.7 538.5h0.8v0.8h-0.8zM203.9 539.6h0.8v0.8h-0.8zM197.1 539.2h0.8v0.8h-0.8zM208.7 543.4h0.8v0.8h-0.8zM201.4 538.4h0.8v0.8h-0.8zM205.4 541.5h0.8v0.8h-0.8zM194.7 543.2h0.8v0.8h-0.8zM198.3 537.8h0.8v0.8h-0.8zM205.2 542.3h0.8v0.8h-0.8zM207.6 541.7h0.8v0.8h-0.8zM191.0 540.3h0.8v0.8h-0.8zM195.8 542.2h0.8v0.8h-0.8zM196.1 542.7h0.8v0.8h-0.8zM200.5 541.1h0.8v0.8h-0.8zM200.1 542.9h0.8v0.8h-0.8zM198.3 543.3h0.8v0.8h-0.8zM195.0 542.7h0.8v0.8h-0.8zM203.2 540.2h0.8v0.8h-0.8zM206.4 538.7h0.8v0.8h-0.8zM198.8 543.6h0.8v0.8h-0.8zM197.7 541.6h0.8v0.8h-0.8zM200.1 538.1h0.8v0.8h-0.8zM195.5 540.6h0.8v0.8h-0.8zM193.3 541.0h0.8v0.8h-0.8zM208.1 541.6h0.8v0.8h-0.8zM199.2 539.3h0.8v0.8h-0.8zM199.8 541.7h0.8v0.8h-0.8zM200.8 545.1h0.8v0.8h-0.8zM200.3 543.4h0.8v0.8h-0.8zM198.8 540.6h0.8v0.8h-0.8zM194.3 543.8h0.8v0.8h-0.8zM206.1 539.2h0.8v0.8h-0.8zM192.2 541.5h0.8v0.8h-0.8zM195.0 551.1h0.8v0.8h-0.8zM192.4 552.9h0.8v0.8h-0.8zM200.7 555.9h0.8v0.8h-0.8zM197.5 558.3h0.8v0.8h-0.8zM196.0 546.9h0.8v0.8h-0.8zM196.1 546.8h0.8v0.8h-0.8zM192.6 557.0h0.8v0.8h-0.8zM196.2 548.5h0.8v0.8h-0.8zM198.7 558.4h0.8v0.8h-0.8zM191.2 549.5h0.8v0.8h-0.8zM191.8 550.6h0.8v0.8h-0.8zM197.6 560.1h0.8v0.8h-0.8zM199.7 554.4h0.8v0.8h-0.8zM197.3 550.5h0.8v0.8h-0.8zM201.2 555.6h0.8v0.8h-0.8zM192.1 552.8h0.8v0.8h-0.8zM196.6 558.8h0.8v0.8h-0.8zM190.8 558.2h0.8v0.8h-0.8zM193.1 557.0h0.8v0.8h-0.8zM202.4 555.6h0.8v0.8h-0.8zM192.7 550.1h0.8v0.8h-0.8zM192.1 552.0h0.8v0.8h-0.8zM194.0 557.8h0.8v0.8h-0.8zM191.2 556.5h0.8v0.8h-0.8zM195.6 560.1h0.8v0.8h-0.8zM194.7 558.4h0.8v0.8h-0.8zM197.6 551.9h0.8v0.8h-0.8zM197.4 552.5h0.8v0.8h-0.8zM190.4 553.0h0.8v0.8h-0.8zM199.0 548.6h0.8v0.8h-0.8zM200.5 553.2h0.8v0.8h-0.8zM192.3 550.7h0.8v0.8h-0.8zM201.3 555.1h0.8v0.8h-0.8zM194.1 556.9h0.8v0.8h-0.8zM193.9 553.8h0.8v0.8h-0.8zM191.6 557.0h0.8v0.8h-0.8zM194.5 560.6h0.8v0.8h-0.8zM188.8 553.4h0.8v0.8h-0.8zM192.6 554.1h0.8v0.8h-0.8zM193.4 555.9h0.8v0.8h-0.8zM198.8 548.0h0.8v0.8h-0.8zM194.7 555.1h0.8v0.8h-0.8zM200.8 555.9h0.8v0.8h-0.8zM191.1 552.9h0.8v0.8h-0.8zM196.7 557.4h0.8v0.8h-0.8zM197.2 550.6h0.8v0.8h-0.8zM194.7 553.0h0.8v0.8h-0.8zM192.9 549.1h0.8v0.8h-0.8zM200.4 559.0h0.8v0.8h-0.8zM194.5 553.0h0.8v0.8h-0.8zM193.6 550.7h0.8v0.8h-0.8zM201.6 553.0h0.8v0.8h-0.8zM198.2 553.1h0.8v0.8h-0.8zM190.7 549.3h0.8v0.8h-0.8zM200.0 553.6h0.8v0.8h-0.8zM201.9 554.1h0.8v0.8h-0.8zM194.6 557.6h0.8v0.8h-0.8zM192.3 547.2h0.8v0.8h-0.8zM193.5 555.1h0.8v0.8h-0.8zM196.0 548.9h0.8v0.8h-0.8zM193.1 560.0h0.8v0.8h-0.8zM195.0 547.6h0.8v0.8h-0.8zM197.2 559.3h0.8v0.8h-0.8zM196.1 552.7h0.8v0.8h-0.8zM193.1 552.3h0.8v0.8h-0.8zM198.3 557.7h0.8v0.8h-0.8zM197.4 555.4h0.8v0.8h-0.8zM195.1 551.3h0.8v0.8h-0.8zM195.4 546.6h0.8v0.8h-0.8zM199.5 553.2h0.8v0.8h-0.8zM201.1 556.0h0.8v0.8h-0.8zM202.0 552.1h0.8v0.8h-0.8zM197.5 557.8h0.8v0.8h-0.8zM195.6 549.1h0.8v0.8h-0.8zM196.0 552.7h0.8v0.8h-0.8zM200.4 549.5h0.8v0.8h-0.8zM196.2 551.0h0.8v0.8h-0.8zM199.5 556.6h0.8v0.8h-0.8zM190.0 551.2h0.8v0.8h-0.8zM197.8 561.1h0.8v0.8h-0.8zM195.6 548.3h0.8v0.8h-0.8zM191.8 552.0h0.8v0.8h-0.8zM194.3 546.2h0.8v0.8h-0.8zM192.2 559.1h0.8v0.8h-0.8zM192.2 549.6h0.8v0.8h-0.8zM201.4 556.6h0.8v0.8h-0.8zM197.9 558.0h0.8v0.8h-0.8zM194.2 547.8h0.8v0.8h-0.8zM190.5 554.2h0.8v0.8h-0.8zM194.7 555.4h0.8v0.8h-0.8zM198.2 559.0h0.8v0.8h-0.8zM201.7 553.8h0.8v0.8h-0.8zM194.4 549.2h0.8v0.8h-0.8zM197.2 555.8h0.8v0.8h-0.8zM197.5 558.5h0.8v0.8h-0.8zM192.7 547.7h0.8v0.8h-0.8zM193.4 554.9h0.8v0.8h-0.8zM198.4 556.8h0.8v0.8h-0.8zM195.0 555.4h0.8v0.8h-0.8zM201.9 554.5h0.8v0.8h-0.8zM192.7 548.1h0.8v0.8h-0.8zM201.7 553.9h0.8v0.8h-0.8zM201.4 554.1h0.8v0.8h-0.8zM201.3 555.4h0.8v0.8h-0.8zM202.9 554.6h0.8v0.8h-0.8zM196.2 550.9h0.8v0.8h-0.8zM198.9 547.4h0.8v0.8h-0.8zM189.9 553.8h0.8v0.8h-0.8zM195.7 554.5h0.8v0.8h-0.8zM190.0 554.1h0.8v0.8h-0.8zM196.2 554.1h0.8v0.8h-0.8zM199.8 560.1h0.8v0.8h-0.8zM200.5 551.0h0.8v0.8h-0.8zM199.3 549.3h0.8v0.8h-0.8zM199.2 554.2h0.8v0.8h-0.8zM201.3 555.3h0.8v0.8h-0.8zM194.8 553.6h0.8v0.8h-0.8zM193.0 550.7h0.8v0.8h-0.8zM200.7 550.2h0.8v0.8h-0.8zM195.8 546.8h0.8v0.8h-0.8zM191.1 550.5h0.8v0.8h-0.8zM196.1 548.2h0.8v0.8h-0.8zM211.0 545.1h0.8v0.8h-0.8zM205.7 547.9h0.8v0.8h-0.8zM208.0 542.5h0.8v0.8h-0.8zM216.3 546.9h0.8v0.8h-0.8zM215.0 543.2h0.8v0.8h-0.8zM212.1 548.1h0.8v0.8h-0.8zM201.7 542.7h0.8v0.8h-0.8zM210.1 547.6h0.8v0.8h-0.8zM213.5 545.3h0.8v0.8h-0.8zM210.3 538.3h0.8v0.8h-0.8zM211.2 541.2h0.8v0.8h-0.8zM204.4 543.3h0.8v0.8h-0.8zM207.9 539.8h0.8v0.8h-0.8zM213.7 543.0h0.8v0.8h-0.8zM207.2 540.3h0.8v0.8h-0.8zM203.0 542.2h0.8v0.8h-0.8zM215.9 546.9h0.8v0.8h-0.8zM212.0 541.9h0.8v0.8h-0.8zM209.2 540.1h0.8v0.8h-0.8zM211.7 546.3h0.8v0.8h-0.8zM208.7 547.0h0.8v0.8h-0.8zM205.6 546.2h0.8v0.8h-0.8zM210.5 544.0h0.8v0.8h-0.8zM213.3 542.5h0.8v0.8h-0.8zM205.8 545.9h0.8v0.8h-0.8zM210.6 547.4h0.8v0.8h-0.8zM210.9 542.1h0.8v0.8h-0.8zM204.9 546.4h0.8v0.8h-0.8zM209.1 544.1h0.8v0.8h-0.8zM208.3 543.5h0.8v0.8h-0.8zM211.3 542.3h0.8v0.8h-0.8zM207.7 544.5h0.8v0.8h-0.8zM214.1 538.3h0.8v0.8h-0.8zM205.5 548.1h0.8v0.8h-0.8zM210.0 547.2h0.8v0.8h-0.8zM216.1 545.3h0.8v0.8h-0.8zM206.5 546.8h0.8v0.8h-0.8zM206.2 547.3h0.8v0.8h-0.8zM213.4 544.5h0.8v0.8h-0.8zM206.8 542.9h0.8v0.8h-0.8zM208.4 537.2h0.8v0.8h-0.8zM214.1 541.9h0.8v0.8h-0.8zM211.1 541.0h0.8v0.8h-0.8zM208.3 544.7h0.8v0.8h-0.8zM204.2 544.9h0.8v0.8h-0.8zM214.4 544.5h0.8v0.8h-0.8zM217.2 545.8h0.8v0.8h-0.8zM205.7 542.5h0.8v0.8h-0.8zM206.7 547.0h0.8v0.8h-0.8zM204.4 541.7h0.8v0.8h-0.8zM216.6 544.6h0.8v0.8h-0.8zM206.0 544.3h0.8v0.8h-0.8zM213.0 548.4h0.8v0.8h-0.8zM205.9 543.5h0.8v0.8h-0.8zM204.5 542.4h0.8v0.8h-0.8zM210.2 546.9h0.8v0.8h-0.8zM205.7 545.7h0.8v0.8h-0.8zM203.5 544.0h0.8v0.8h-0.8zM209.9 545.1h0.8v0.8h-0.8zM211.2 539.6h0.8v0.8h-0.8zM210.0 545.8h0.8v0.8h-0.8zM205.2 539.8h0.8v0.8h-0.8zM209.6 540.2h0.8v0.8h-0.8zM210.7 538.0h0.8v0.8h-0.8zM212.7 538.9h0.8v0.8h-0.8zM209.6 548.2h0.8v0.8h-0.8zM205.5 543.3h0.8v0.8h-0.8zM206.6 543.3h0.8v0.8h-0.8zM202.8 547.7h0.8v0.8h-0.8zM207.9 546.9h0.8v0.8h-0.8zM207.1 540.3h0.8v0.8h-0.8zM209.6 541.9h0.8v0.8h-0.8zM207.2 548.7h0.8v0.8h-0.8zM211.2 541.0h0.8v0.8h-0.8zM211.0 542.8h0.8v0.8h-0.8zM206.7 539.2h0.8v0.8h-0.8zM207.0 546.6h0.8v0.8h-0.8zM208.4 545.5h0.8v0.8h-0.8zM214.5 539.6h0.8v0.8h-0.8zM213.5 541.7h0.8v0.8h-0.8zM215.0 547.7h0.8v0.8h-0.8zM209.7 548.5h0.8v0.8h-0.8zM212.7 539.6h0.8v0.8h-0.8zM211.5 542.1h0.8v0.8h-0.8zM213.4 541.9h0.8v0.8h-0.8zM211.2 543.7h0.8v0.8h-0.8zM208.9 537.7h0.8v0.8h-0.8zM208.6 546.6h0.8v0.8h-0.8zM210.4 548.1h0.8v0.8h-0.8zM205.5 539.4h0.8v0.8h-0.8zM213.4 545.7h0.8v0.8h-0.8zM210.8 547.9h0.8v0.8h-0.8zM207.8 548.1h0.8v0.8h-0.8zM207.7 539.3h0.8v0.8h-0.8zM208.0 548.4h0.8v0.8h-0.8zM205.0 540.5h0.8v0.8h-0.8zM216.9 545.9h0.8v0.8h-0.8zM216.1 540.8h0.8v0.8h-0.8zM202.0 542.5h0.8v0.8h-0.8zM211.5 546.5h0.8v0.8h-0.8zM213.6 543.1h0.8v0.8h-0.8zM208.4 539.6h0.8v0.8h-0.8zM209.6 545.5h0.8v0.8h-0.8zM202.8 545.1h0.8v0.8h-0.8zM212.3 540.1h0.8v0.8h-0.8zM214.6 541.4h0.8v0.8h-0.8zM213.0 545.3h0.8v0.8h-0.8zM214.5 547.9h0.8v0.8h-0.8zM209.4 543.2h0.8v0.8h-0.8zM205.8 543.4h0.8v0.8h-0.8zM206.9 558.5h0.8v0.8h-0.8zM208.3 555.5h0.8v0.8h-0.8zM206.7 556.6h0.8v0.8h-0.8zM199.1 559.3h0.8v0.8h-0.8zM212.6 557.2h0.8v0.8h-0.8zM204.5 556.1h0.8v0.8h-0.8zM202.6 555.3h0.8v0.8h-0.8zM203.6 554.8h0.8v0.8h-0.8zM200.1 558.8h0.8v0.8h-0.8zM203.5 556.7h0.8v0.8h-0.8zM212.8 556.9h0.8v0.8h-0.8zM205.9 553.2h0.8v0.8h-0.8zM207.8 556.9h0.8v0.8h-0.8zM198.8 555.7h0.8v0.8h-0.8zM212.0 557.9h0.8v0.8h-0.8zM204.3 554.6h0.8v0.8h-0.8zM199.0 557.4h0.8v0.8h-0.8zM207.1 557.0h0.8v0.8h-0.8zM206.2 553.7h0.8v0.8h-0.8zM211.9 557.7h0.8v0.8h-0.8zM199.3 557.4h0.8v0.8h-0.8zM210.2 556.7h0.8v0.8h-0.8zM208.4 557.4h0.8v0.8h-0.8zM204.5 559.0h0.8v0.8h-0.8zM203.0 553.1h0.8v0.8h-0.8zM206.1 558.5h0.8v0.8h-0.8zM204.1 557.9h0.8v0.8h-0.8zM200.1 556.4h0.8v0.8h-0.8zM198.8 554.5h0.8v0.8h-0.8zM204.2 554.7h0.8v0.8h-0.8zM210.1 558.0h0.8v0.8h-0.8zM205.5 556.9h0.8v0.8h-0.8zM199.3 557.1h0.8v0.8h-0.8zM210.2 558.9h0.8v0.8h-0.8zM203.6 559.5h0.8v0.8h-0.8zM199.2 558.1h0.8v0.8h-0.8zM208.2 559.2h0.8v0.8h-0.8zM198.8 555.8h0.8v0.8h-0.8zM202.1 557.2h0.8v0.8h-0.8zM201.6 560.9h0.8v0.8h-0.8zM199.1 557.0h0.8v0.8h-0.8zM200.4 556.9h0.8v0.8h-0.8zM205.0 558.4h0.8v0.8h-0.8zM201.7 559.5h0.8v0.8h-0.8zM202.2 554.1h0.8v0.8h-0.8zM208.7 558.8h0.8v0.8h-0.8zM206.7 555.5h0.8v0.8h-0.8zM199.5 559.7h0.8v0.8h-0.8zM208.6 556.5h0.8v0.8h-0.8zM198.1 556.5h0.8v0.8h-0.8zM209.4 558.2h0.8v0.8h-0.8zM208.0 558.1h0.8v0.8h-0.8zM206.3 553.8h0.8v0.8h-0.8zM208.0 559.9h0.8v0.8h-0.8zM204.5 559.5h0.8v0.8h-0.8zM209.5 557.2h0.8v0.8h-0.8zM203.0 560.2h0.8v0.8h-0.8zM203.6 558.0h0.8v0.8h-0.8zM209.3 557.2h0.8v0.8h-0.8zM205.4 554.8h0.8v0.8h-0.8zM207.6 554.4h0.8v0.8h-0.8zM203.1 559.0h0.8v0.8h-0.8zM207.7 557.0h0.8v0.8h-0.8zM203.9 559.2h0.8v0.8h-0.8zM209.5 558.7h0.8v0.8h-0.8zM207.4 555.4h0.8v0.8h-0.8zM207.9 560.0h0.8v0.8h-0.8zM197.0 557.1h0.8v0.8h-0.8zM209.8 558.4h0.8v0.8h-0.8zM212.1 558.8h0.8v0.8h-0.8zM221.4 541.2h0.8v0.8h-0.8zM225.2 543.4h0.8v0.8h-0.8zM225.4 534.1h0.8v0.8h-0.8zM222.7 541.6h0.8v0.8h-0.8zM229.4 538.9h0.8v0.8h-0.8zM226.3 534.9h0.8v0.8h-0.8zM230.2 543.7h0.8v0.8h-0.8zM229.7 530.3h0.8v0.8h-0.8zM232.9 534.8h0.8v0.8h-0.8zM218.9 532.3h0.8v0.8h-0.8zM220.1 540.6h0.8v0.8h-0.8zM233.8 534.2h0.8v0.8h-0.8zM219.3 540.5h0.8v0.8h-0.8zM219.7 538.2h0.8v0.8h-0.8zM229.3 543.0h0.8v0.8h-0.8zM226.6 537.8h0.8v0.8h-0.8zM232.2 538.6h0.8v0.8h-0.8zM230.4 531.6h0.8v0.8h-0.8zM226.9 533.2h0.8v0.8h-0.8zM222.2 535.1h0.8v0.8h-0.8zM225.0 545.2h0.8v0.8h-0.8zM227.0 534.1h0.8v0.8h-0.8zM220.5 534.6h0.8v0.8h-0.8zM227.6 531.4h0.8v0.8h-0.8zM228.0 533.5h0.8v0.8h-0.8zM232.3 533.6h0.8v0.8h-0.8zM225.6 534.4h0.8v0.8h-0.8zM223.0 537.4h0.8v0.8h-0.8zM231.0 537.8h0.8v0.8h-0.8zM228.8 546.4h0.8v0.8h-0.8zM224.1 536.7h0.8v0.8h-0.8zM232.4 538.4h0.8v0.8h-0.8zM228.7 545.2h0.8v0.8h-0.8zM229.1 534.0h0.8v0.8h-0.8zM230.5 539.0h0.8v0.8h-0.8zM228.4 538.2h0.8v0.8h-0.8zM228.7 534.4h0.8v0.8h-0.8zM224.5 545.9h0.8v0.8h-0.8zM223.1 538.9h0.8v0.8h-0.8zM224.6 533.4h0.8v0.8h-0.8zM225.6 546.2h0.8v0.8h-0.8zM231.4 539.0h0.8v0.8h-0.8zM223.0 533.4h0.8v0.8h-0.8zM222.2 544.3h0.8v0.8h-0.8zM223.0 530.6h0.8v0.8h-0.8zM224.5 544.0h0.8v0.8h-0.8zM233.7 538.3h0.8v0.8h-0.8zM229.9 535.9h0.8v0.8h-0.8zM230.1 539.5h0.8v0.8h-0.8zM228.9 543.5h0.8v0.8h-0.8zM221.5 535.9h0.8v0.8h-0.8zM230.0 539.0h0.8v0.8h-0.8zM218.4 536.2h0.8v0.8h-0.8zM223.0 536.8h0.8v0.8h-0.8zM223.6 532.4h0.8v0.8h-0.8zM230.8 536.7h0.8v0.8h-0.8zM226.2 542.5h0.8v0.8h-0.8zM219.3 544.2h0.8v0.8h-0.8zM234.4 535.8h0.8v0.8h-0.8zM230.6 541.1h0.8v0.8h-0.8zM219.7 535.8h0.8v0.8h-0.8zM230.9 538.1h0.8v0.8h-0.8zM234.4 540.3h0.8v0.8h-0.8zM219.4 541.6h0.8v0.8h-0.8zM225.6 547.8h0.8v0.8h-0.8zM230.3 535.2h0.8v0.8h-0.8zM224.1 530.9h0.8v0.8h-0.8zM231.0 542.2h0.8v0.8h-0.8zM234.6 536.1h0.8v0.8h-0.8zM227.2 544.8h0.8v0.8h-0.8zM234.1 542.9h0.8v0.8h-0.8zM224.9 545.7h0.8v0.8h-0.8zM227.8 549.6h0.8v0.8h-0.8zM221.5 536.3h0.8v0.8h-0.8zM229.1 546.2h0.8v0.8h-0.8zM230.4 532.0h0.8v0.8h-0.8zM219.9 534.9h0.8v0.8h-0.8zM227.1 542.8h0.8v0.8h-0.8zM220.2 530.3h0.8v0.8h-0.8zM231.3 544.2h0.8v0.8h-0.8zM231.3 540.0h0.8v0.8h-0.8zM231.6 541.4h0.8v0.8h-0.8zM227.6 544.6h0.8v0.8h-0.8zM220.2 528.9h0.8v0.8h-0.8zM222.5 535.1h0.8v0.8h-0.8zM223.0 544.2h0.8v0.8h-0.8zM226.8 532.2h0.8v0.8h-0.8zM224.3 546.0h0.8v0.8h-0.8zM219.9 537.1h0.8v0.8h-0.8zM220.2 543.6h0.8v0.8h-0.8zM228.5 535.5h0.8v0.8h-0.8zM222.5 538.5h0.8v0.8h-0.8zM222.9 534.5h0.8v0.8h-0.8zM233.2 531.6h0.8v0.8h-0.8zM224.4 538.8h0.8v0.8h-0.8zM227.8 527.5h0.8v0.8h-0.8zM231.5 537.7h0.8v0.8h-0.8zM220.5 538.7h0.8v0.8h-0.8zM220.8 538.0h0.8v0.8h-0.8zM216.9 536.3h0.8v0.8h-0.8zM234.3 545.5h0.8v0.8h-0.8zM226.0 542.7h0.8v0.8h-0.8zM217.5 538.0h0.8v0.8h-0.8zM227.4 542.6h0.8v0.8h-0.8zM232.2 539.7h0.8v0.8h-0.8zM224.3 540.1h0.8v0.8h-0.8zM219.8 537.9h0.8v0.8h-0.8zM220.9 543.1h0.8v0.8h-0.8zM232.9 541.2h0.8v0.8h-0.8zM232.5 541.1h0.8v0.8h-0.8zM227.6 532.1h0.8v0.8h-0.8zM220.8 534.4h0.8v0.8h-0.8zM223.6 534.1h0.8v0.8h-0.8zM227.0 543.8h0.8v0.8h-0.8zM227.3 533.2h0.8v0.8h-0.8zM224.9 541.7h0.8v0.8h-0.8zM226.3 544.9h0.8v0.8h-0.8zM229.0 538.3h0.8v0.8h-0.8zM222.0 535.4h0.8v0.8h-0.8zM228.5 533.3h0.8v0.8h-0.8zM218.1 539.7h0.8v0.8h-0.8zM223.8 543.8h0.8v0.8h-0.8zM220.8 540.0h0.8v0.8h-0.8zM225.5 532.7h0.8v0.8h-0.8zM234.3 543.1h0.8v0.8h-0.8zM219.3 537.2h0.8v0.8h-0.8zM225.0 537.5h0.8v0.8h-0.8zM223.3 530.1h0.8v0.8h-0.8zM229.4 531.8h0.8v0.8h-0.8zM225.0 546.5h0.8v0.8h-0.8zM229.7 544.5h0.8v0.8h-0.8zM232.3 536.9h0.8v0.8h-0.8zM221.4 531.8h0.8v0.8h-0.8zM222.3 538.5h0.8v0.8h-0.8zM231.3 539.9h0.8v0.8h-0.8zM228.9 545.4h0.8v0.8h-0.8zM227.9 541.4h0.8v0.8h-0.8zM225.1 544.0h0.8v0.8h-0.8zM232.0 540.2h0.8v0.8h-0.8zM233.4 541.3h0.8v0.8h-0.8zM223.6 533.7h0.8v0.8h-0.8zM227.1 543.9h0.8v0.8h-0.8zM230.5 541.4h0.8v0.8h-0.8zM219.5 536.0h0.8v0.8h-0.8zM219.8 532.3h0.8v0.8h-0.8zM222.5 542.5h0.8v0.8h-0.8zM218.9 543.4h0.8v0.8h-0.8zM221.7 532.6h0.8v0.8h-0.8zM222.7 532.2h0.8v0.8h-0.8zM230.8 541.6h0.8v0.8h-0.8zM225.2 535.1h0.8v0.8h-0.8zM229.0 545.4h0.8v0.8h-0.8zM228.6 528.0h0.8v0.8h-0.8zM227.9 530.7h0.8v0.8h-0.8zM224.6 542.6h0.8v0.8h-0.8zM221.7 537.4h0.8v0.8h-0.8zM218.8 540.7h0.8v0.8h-0.8zM219.1 530.3h0.8v0.8h-0.8zM224.8 538.9h0.8v0.8h-0.8zM220.5 543.2h0.8v0.8h-0.8zM219.9 545.3h0.8v0.8h-0.8zM224.3 530.9h0.8v0.8h-0.8zM228.0 548.0h0.8v0.8h-0.8zM225.9 547.8h0.8v0.8h-0.8zM219.9 540.9h0.8v0.8h-0.8zM230.4 533.0h0.8v0.8h-0.8zM230.0 537.7h0.8v0.8h-0.8zM224.3 532.0h0.8v0.8h-0.8zM225.7 529.5h0.8v0.8h-0.8zM230.1 538.5h0.8v0.8h-0.8zM224.3 528.7h0.8v0.8h-0.8zM225.9 534.1h0.8v0.8h-0.8zM225.4 534.7h0.8v0.8h-0.8zM227.7 535.7h0.8v0.8h-0.8zM230.1 535.0h0.8v0.8h-0.8zM228.1 541.4h0.8v0.8h-0.8zM233.4 542.9h0.8v0.8h-0.8zM221.2 534.5h0.8v0.8h-0.8zM231.9 538.7h0.8v0.8h-0.8zM232.1 538.8h0.8v0.8h-0.8zM230.2 536.2h0.8v0.8h-0.8zM229.5 539.4h0.8v0.8h-0.8zM228.5 537.0h0.8v0.8h-0.8zM230.8 538.5h0.8v0.8h-0.8zM224.2 540.3h0.8v0.8h-0.8zM218.4 531.1h0.8v0.8h-0.8zM229.5 542.5h0.8v0.8h-0.8zM232.9 541.6h0.8v0.8h-0.8zM224.4 541.8h0.8v0.8h-0.8zM230.7 534.3h0.8v0.8h-0.8zM233.2 537.8h0.8v0.8h-0.8zM217.8 537.2h0.8v0.8h-0.8zM232.3 545.5h0.8v0.8h-0.8zM228.5 541.2h0.8v0.8h-0.8zM228.3 544.5h0.8v0.8h-0.8zM228.9 533.2h0.8v0.8h-0.8zM226.6 537.3h0.8v0.8h-0.8zM227.7 539.1h0.8v0.8h-0.8zM224.6 533.6h0.8v0.8h-0.8zM223.9 546.9h0.8v0.8h-0.8zM230.2 537.9h0.8v0.8h-0.8zM228.5 537.6h0.8v0.8h-0.8zM220.1 542.5h0.8v0.8h-0.8zM232.7 541.4h0.8v0.8h-0.8zM233.0 540.5h0.8v0.8h-0.8zM219.2 538.2h0.8v0.8h-0.8zM231.5 532.8h0.8v0.8h-0.8zM227.5 532.2h0.8v0.8h-0.8zM223.6 534.8h0.8v0.8h-0.8zM217.5 537.9h0.8v0.8h-0.8zM219.2 533.1h0.8v0.8h-0.8zM223.7 544.6h0.8v0.8h-0.8zM220.3 542.2h0.8v0.8h-0.8zM217.5 547.0h0.8v0.8h-0.8zM216.5 544.8h0.8v0.8h-0.8zM223.3 542.1h0.8v0.8h-0.8zM222.8 542.1h0.8v0.8h-0.8zM218.4 542.3h0.8v0.8h-0.8zM216.7 544.5h0.8v0.8h-0.8zM224.2 547.3h0.8v0.8h-0.8zM224.9 542.4h0.8v0.8h-0.8zM226.8 546.8h0.8v0.8h-0.8zM225.6 541.8h0.8v0.8h-0.8zM217.7 545.3h0.8v0.8h-0.8zM222.4 541.9h0.8v0.8h-0.8zM218.0 548.4h0.8v0.8h-0.8zM218.2 543.7h0.8v0.8h-0.8zM222.9 544.6h0.8v0.8h-0.8zM227.0 545.1h0.8v0.8h-0.8zM215.6 546.2h0.8v0.8h-0.8zM223.7 548.9h0.8v0.8h-0.8zM220.2 544.5h0.8v0.8h-0.8zM220.4 549.3h0.8v0.8h-0.8zM223.8 547.8h0.8v0.8h-0.8zM219.8 540.4h0.8v0.8h-0.8zM224.4 542.1h0.8v0.8h-0.8zM217.9 545.8h0.8v0.8h-0.8zM225.6 547.6h0.8v0.8h-0.8zM219.3 544.8h0.8v0.8h-0.8zM220.3 541.7h0.8v0.8h-0.8zM221.7 545.4h0.8v0.8h-0.8zM216.4 541.9h0.8v0.8h-0.8zM221.6 543.6h0.8v0.8h-0.8zM221.0 543.3h0.8v0.8h-0.8zM215.9 542.3h0.8v0.8h-0.8zM222.9 546.6h0.8v0.8h-0.8zM215.5 547.1h0.8v0.8h-0.8zM218.5 544.7h0.8v0.8h-0.8zM221.6 541.2h0.8v0.8h-0.8zM223.2 548.4h0.8v0.8h-0.8zM223.1 546.5h0.8v0.8h-0.8zM227.8 546.8h0.8v0.8h-0.8zM216.8 541.3h0.8v0.8h-0.8zM225.3 546.8h0.8v0.8h-0.8zM220.6 545.7h0.8v0.8h-0.8zM222.3 545.2h0.8v0.8h-0.8zM222.6 548.7h0.8v0.8h-0.8zM221.1 546.5h0.8v0.8h-0.8zM217.7 545.3h0.8v0.8h-0.8zM219.9 542.1h0.8v0.8h-0.8zM224.2 546.2h0.8v0.8h-0.8zM223.7 540.7h0.8v0.8h-0.8zM218.2 547.8h0.8v0.8h-0.8zM220.9 546.5h0.8v0.8h-0.8zM219.1 545.1h0.8v0.8h-0.8zM225.2 544.7h0.8v0.8h-0.8zM223.5 548.5h0.8v0.8h-0.8zM223.7 546.6h0.8v0.8h-0.8zM219.5 546.5h0.8v0.8h-0.8zM222.0 549.3h0.8v0.8h-0.8zM226.2 542.5h0.8v0.8h-0.8zM220.5 547.4h0.8v0.8h-0.8zM225.5 548.1h0.8v0.8h-0.8zM217.9 543.1h0.8v0.8h-0.8zM223.9 545.7h0.8v0.8h-0.8zM224.2 546.8h0.8v0.8h-0.8zM219.7 542.3h0.8v0.8h-0.8zM215.4 543.8h0.8v0.8h-0.8zM223.8 547.0h0.8v0.8h-0.8zM221.3 541.5h0.8v0.8h-0.8zM226.6 545.7h0.8v0.8h-0.8zM220.6 545.0h0.8v0.8h-0.8zM223.1 542.7h0.8v0.8h-0.8zM223.0 542.5h0.8v0.8h-0.8zM224.7 542.9h0.8v0.8h-0.8zM225.9 547.5h0.8v0.8h-0.8zM219.7 544.8h0.8v0.8h-0.8zM231.8 533.2h0.8v0.8h-0.8zM227.8 529.5h0.8v0.8h-0.8zM229.1 532.7h0.8v0.8h-0.8zM226.1 530.2h0.8v0.8h-0.8zM234.1 531.5h0.8v0.8h-0.8zM230.1 533.7h0.8v0.8h-0.8zM229.5 536.1h0.8v0.8h-0.8zM227.6 532.8h0.8v0.8h-0.8zM229.9 536.9h0.8v0.8h-0.8zM228.9 531.4h0.8v0.8h-0.8zM229.3 537.7h0.8v0.8h-0.8zM234.4 533.6h0.8v0.8h-0.8zM229.7 533.9h0.8v0.8h-0.8zM231.9 532.2h0.8v0.8h-0.8zM228.7 535.3h0.8v0.8h-0.8zM227.9 529.0h0.8v0.8h-0.8zM226.5 535.9h0.8v0.8h-0.8zM228.4 535.5h0.8v0.8h-0.8zM230.5 531.0h0.8v0.8h-0.8zM225.7 529.5h0.8v0.8h-0.8zM230.0 534.7h0.8v0.8h-0.8zM233.1 534.0h0.8v0.8h-0.8zM226.6 534.7h0.8v0.8h-0.8zM233.0 529.8h0.8v0.8h-0.8zM227.7 533.4h0.8v0.8h-0.8zM229.3 539.1h0.8v0.8h-0.8zM227.6 529.4h0.8v0.8h-0.8zM228.4 531.1h0.8v0.8h-0.8zM227.2 535.1h0.8v0.8h-0.8zM226.2 535.2h0.8v0.8h-0.8zM233.9 532.9h0.8v0.8h-0.8zM229.8 537.3h0.8v0.8h-0.8zM228.4 529.9h0.8v0.8h-0.8zM231.7 537.0h0.8v0.8h-0.8zM230.7 533.7h0.8v0.8h-0.8zM229.7 534.7h0.8v0.8h-0.8zM230.4 528.2h0.8v0.8h-0.8zM232.6 538.1h0.8v0.8h-0.8zM226.2 534.4h0.8v0.8h-0.8zM230.9 537.5h0.8v0.8h-0.8zM228.7 539.6h0.8v0.8h-0.8zM230.5 539.2h0.8v0.8h-0.8zM226.1 533.0h0.8v0.8h-0.8zM230.3 535.0h0.8v0.8h-0.8zM231.3 540.1h0.8v0.8h-0.8zM229.3 538.2h0.8v0.8h-0.8zM230.9 536.1h0.8v0.8h-0.8zM232.2 527.3h0.8v0.8h-0.8zM230.2 534.8h0.8v0.8h-0.8zM231.4 529.3h0.8v0.8h-0.8zM227.2 533.3h0.8v0.8h-0.8zM230.9 537.7h0.8v0.8h-0.8zM230.7 533.2h0.8v0.8h-0.8zM228.5 533.5h0.8v0.8h-0.8zM228.1 533.0h0.8v0.8h-0.8zM232.0 532.2h0.8v0.8h-0.8zM227.7 531.7h0.8v0.8h-0.8zM229.4 530.2h0.8v0.8h-0.8zM233.3 534.5h0.8v0.8h-0.8zM231.6 528.7h0.8v0.8h-0.8zM229.1 537.0h0.8v0.8h-0.8zM226.8 528.9h0.8v0.8h-0.8zM226.9 538.6h0.8v0.8h-0.8zM231.2 533.1h0.8v0.8h-0.8zM231.3 531.8h0.8v0.8h-0.8zM232.9 534.3h0.8v0.8h-0.8zM232.2 534.1h0.8v0.8h-0.8zM229.5 537.8h0.8v0.8h-0.8zM230.6 535.8h0.8v0.8h-0.8zM234.7 536.8h0.8v0.8h-0.8zM234.2 530.4h0.8v0.8h-0.8zM225.7 534.6h0.8v0.8h-0.8zM231.0 534.3h0.8v0.8h-0.8zM234.4 532.4h0.8v0.8h-0.8zM230.3 528.4h0.8v0.8h-0.8z" fill="#1b9a7e" opacity="0.95"/><path d="M205.7 552.8h0.8v0.8h-0.8zM203.6 550.4h0.8v0.8h-0.8zM195.6 547.9h0.8v0.8h-0.8zM196.1 553.1h0.8v0.8h-0.8zM196.8 554.8h0.8v0.8h-0.8zM199.2 554.3h0.8v0.8h-0.8zM201.7 545.3h0.8v0.8h-0.8zM206.7 553.6h0.8v0.8h-0.8zM201.5 545.2h0.8v0.8h-0.8zM200.4 543.7h0.8v0.8h-0.8zM198.8 547.4h0.8v0.8h-0.8zM208.2 550.4h0.8v0.8h-0.8zM203.5 546.6h0.8v0.8h-0.8zM209.6 548.5h0.8v0.8h-0.8zM201.4 540.3h0.8v0.8h-0.8zM206.5 542.3h0.8v0.8h-0.8zM195.5 540.6h0.8v0.8h-0.8zM202.7 541.9h0.8v0.8h-0.8zM193.5 554.7h0.8v0.8h-0.8zM192.8 555.7h0.8v0.8h-0.8zM200.2 552.3h0.8v0.8h-0.8zM195.2 548.2h0.8v0.8h-0.8zM193.1 553.7h0.8v0.8h-0.8zM207.6 542.1h0.8v0.8h-0.8zM214.6 546.8h0.8v0.8h-0.8zM206.6 541.1h0.8v0.8h-0.8zM212.7 546.8h0.8v0.8h-0.8zM205.5 545.5h0.8v0.8h-0.8zM207.7 554.9h0.8v0.8h-0.8zM207.9 559.7h0.8v0.8h-0.8zM206.4 558.0h0.8v0.8h-0.8zM222.8 544.2h0.8v0.8h-0.8zM225.4 535.1h0.8v0.8h-0.8zM224.1 541.7h0.8v0.8h-0.8zM220.9 531.7h0.8v0.8h-0.8zM230.1 536.9h0.8v0.8h-0.8zM225.1 539.6h0.8v0.8h-0.8zM224.5 533.3h0.8v0.8h-0.8zM225.7 537.0h0.8v0.8h-0.8zM220.7 537.4h0.8v0.8h-0.8zM228.8 535.4h0.8v0.8h-0.8zM224.7 541.7h0.8v0.8h-0.8zM222.0 542.3h0.8v0.8h-0.8zM220.8 548.6h0.8v0.8h-0.8zM230.2 532.3h0.8v0.8h-0.8zM231.0 538.0h0.8v0.8h-0.8zM229.3 532.7h0.8v0.8h-0.8z" fill="#ffffff" opacity="0.8"/><path d="M195.6 547.9h1.0v1.0h-1.0zM193.8 547.9h1.0v1.0h-1.0zM194.6 549.0h1.0v1.0h-1.0zM195.0 547.3h1.0v1.0h-1.0zM193.3 551.3h1.0v1.0h-1.0zM194.5 547.5h1.0v1.0h-1.0zM195.8 547.4h1.0v1.0h-1.0zM194.2 549.6h1.0v1.0h-1.0zM195.1 550.1h1.0v1.0h-1.0zM194.7 549.2h1.0v1.0h-1.0zM193.8 548.3h1.0v1.0h-1.0zM196.1 548.9h1.0v1.0h-1.0z" fill="#ffffff" opacity="0.9"/></g>
<rect x="29.60" y="501.50" width="67.60" height="61.10" fill="none" stroke="#a0a0a0" stroke-width="0.9" />
<line x1="45.40" y1="562.60" x2="45.40" y2="564.40" stroke="#a0a0a0" stroke-width="0.8"/>
<text transform="translate(45.40,571.70) scale(1,1.07)" x="0" y="0" font-size="7.6" text-anchor="middle" fill="#2b2b2b" stroke="#2b2b2b" stroke-width="0.1" ><tspan font-size="9.4">−</tspan>25</text>
<line x1="62.80" y1="562.60" x2="62.80" y2="564.40" stroke="#a0a0a0" stroke-width="0.8"/>
<text transform="translate(62.80,571.70) scale(1,1.07)" x="0" y="0" font-size="7.6" text-anchor="middle" fill="#2b2b2b" stroke="#2b2b2b" stroke-width="0.1" >0</text>
<line x1="80.20" y1="562.60" x2="80.20" y2="564.40" stroke="#a0a0a0" stroke-width="0.8"/>
<text transform="translate(80.20,571.70) scale(1,1.07)" x="0" y="0" font-size="7.6" text-anchor="middle" fill="#2b2b2b" stroke="#2b2b2b" stroke-width="0.1" >25</text>
<rect x="100.10" y="501.50" width="67.60" height="61.10" fill="none" stroke="#a0a0a0" stroke-width="0.9" />
<line x1="115.90" y1="562.60" x2="115.90" y2="564.40" stroke="#a0a0a0" stroke-width="0.8"/>
<text transform="translate(115.90,571.70) scale(1,1.07)" x="0" y="0" font-size="7.6" text-anchor="middle" fill="#2b2b2b" stroke="#2b2b2b" stroke-width="0.1" ><tspan font-size="9.4">−</tspan>25</text>
<line x1="133.30" y1="562.60" x2="133.30" y2="564.40" stroke="#a0a0a0" stroke-width="0.8"/>
<text transform="translate(133.30,571.70) scale(1,1.07)" x="0" y="0" font-size="7.6" text-anchor="middle" fill="#2b2b2b" stroke="#2b2b2b" stroke-width="0.1" >0</text>
<line x1="150.70" y1="562.60" x2="150.70" y2="564.40" stroke="#a0a0a0" stroke-width="0.8"/>
<text transform="translate(150.70,571.70) scale(1,1.07)" x="0" y="0" font-size="7.6" text-anchor="middle" fill="#2b2b2b" stroke="#2b2b2b" stroke-width="0.1" >25</text>
<rect x="170.30" y="501.50" width="67.60" height="61.10" fill="none" stroke="#a0a0a0" stroke-width="0.9" />
<line x1="186.10" y1="562.60" x2="186.10" y2="564.40" stroke="#a0a0a0" stroke-width="0.8"/>
<text transform="translate(186.10,571.70) scale(1,1.07)" x="0" y="0" font-size="7.6" text-anchor="middle" fill="#2b2b2b" stroke="#2b2b2b" stroke-width="0.1" ><tspan font-size="9.4">−</tspan>25</text>
<line x1="203.50" y1="562.60" x2="203.50" y2="564.40" stroke="#a0a0a0" stroke-width="0.8"/>
<text transform="translate(203.50,571.70) scale(1,1.07)" x="0" y="0" font-size="7.6" text-anchor="middle" fill="#2b2b2b" stroke="#2b2b2b" stroke-width="0.1" >0</text>
<line x1="220.90" y1="562.60" x2="220.90" y2="564.40" stroke="#a0a0a0" stroke-width="0.8"/>
<text transform="translate(220.90,571.70) scale(1,1.07)" x="0" y="0" font-size="7.6" text-anchor="middle" fill="#2b2b2b" stroke="#2b2b2b" stroke-width="0.1" >25</text>
<line x1="27.80" y1="515.50" x2="29.60" y2="515.50" stroke="#a0a0a0" stroke-width="0.8"/>
<text transform="translate(26.60,518.20) scale(1,1.07)" x="0" y="0" font-size="7.6" text-anchor="end" fill="#2b2b2b" stroke="#2b2b2b" stroke-width="0.1" >25</text>
<line x1="27.80" y1="531.10" x2="29.60" y2="531.10" stroke="#a0a0a0" stroke-width="0.8"/>
<text transform="translate(26.60,533.80) scale(1,1.07)" x="0" y="0" font-size="7.6" text-anchor="end" fill="#2b2b2b" stroke="#2b2b2b" stroke-width="0.1" >0</text>
<line x1="27.80" y1="546.80" x2="29.60" y2="546.80" stroke="#a0a0a0" stroke-width="0.8"/>
<text transform="translate(26.60,549.50) scale(1,1.07)" x="0" y="0" font-size="7.6" text-anchor="end" fill="#2b2b2b" stroke="#2b2b2b" stroke-width="0.1" ><tspan font-size="9.4">−</tspan>25</text>
<line x1="27.80" y1="562.50" x2="29.60" y2="562.50" stroke="#a0a0a0" stroke-width="0.8"/>
<text transform="translate(26.60,565.20) scale(1,1.07)" x="0" y="0" font-size="7.6" text-anchor="end" fill="#2b2b2b" stroke="#2b2b2b" stroke-width="0.1" ><tspan font-size="9.4">−</tspan>50</text>
<text transform="translate(11.20,530.30) rotate(-90) scale(1,1.07)" x="0" y="0" font-size="8.8" text-anchor="middle" fill="#2b2b2b" font-weight="bold" textLength="16.6" lengthAdjust="spacingAndGlyphs">tSNE2</text>
<text transform="translate(135.70,582.40) rotate(0) scale(1,1.07)" x="0" y="0" font-size="8.8" text-anchor="middle" fill="#2b2b2b" font-weight="bold" textLength="16.5" lengthAdjust="spacingAndGlyphs">tSNE1</text>
<text transform="translate(41.70,591.50) scale(1,1.07)" x="0" y="0" font-size="7.1" text-anchor="start" fill="#2b2b2b" stroke="#2b2b2b" stroke-width="0.1" >Clusters</text>
<circle cx="85" cy="589.1" r="3.3" fill="#e8432e" stroke="#333" stroke-width="0.5"/>
<text transform="translate(95.00,591.50) scale(1,1.07)" x="0" y="0" font-size="7.0" text-anchor="start" fill="#2b2b2b" stroke="#2b2b2b" stroke-width="0.1" >Diagnosis</text>
<circle cx="137.7" cy="589.1" r="3.3" fill="#4db8d9" stroke="#333" stroke-width="0.5"/>
<text transform="translate(147.80,591.50) scale(1,1.07)" x="0" y="0" font-size="7.0" text-anchor="start" fill="#2b2b2b" stroke="#2b2b2b" stroke-width="0.1" >Relapse</text>
<circle cx="189" cy="589.1" r="3.3" fill="#1b9a7e" stroke="#333" stroke-width="0.5"/>
<text transform="translate(199.20,591.50) scale(1,1.07)" x="0" y="0" font-size="7.0" text-anchor="start" fill="#2b2b2b" stroke="#2b2b2b" stroke-width="0.1" >Healthy</text>
<rect x="272.0" y="493.10" width="4" height="22.80" fill="#1a9a7c"/><rect x="276.00" y="493.10" width="34.80" height="22.80" fill="#eef4dc" stroke="#4a4a4a" stroke-width="0.55"/><text transform="translate(294.70,507.20) scale(1,1.07)" font-size="7.6" text-anchor="middle" fill="#2a2a2a" stroke="#2a2a2a" stroke-width="0.1">0.44</text><rect x="310.80" y="493.10" width="34.80" height="22.80" fill="#e3f2ef" stroke="#4a4a4a" stroke-width="0.55"/><text transform="translate(329.50,507.20) scale(1,1.07)" font-size="7.6" text-anchor="middle" fill="#2a2a2a" stroke="#2a2a2a" stroke-width="0.1">0.40</text><rect x="345.60" y="493.10" width="34.90" height="22.80" fill="#6fa1cf" stroke="#4a4a4a" stroke-width="0.55"/><text transform="translate(364.35,507.20) scale(1,1.07)" font-size="7.6" text-anchor="middle" fill="#2a2a2a" stroke="#2a2a2a" stroke-width="0.1">0.22</text><rect x="380.50" y="493.10" width="34.80" height="22.80" fill="#d6ecf5" stroke="#4a4a4a" stroke-width="0.55"/><text transform="translate(399.20,507.20) scale(1,1.07)" font-size="7.6" text-anchor="middle" fill="#2a2a2a" stroke="#2a2a2a" stroke-width="0.1">0.36</text><rect x="415.30" y="493.10" width="34.80" height="22.80" fill="#dbeef5" stroke="#4a4a4a" stroke-width="0.55"/><text transform="translate(434.00,507.20) scale(1,1.07)" font-size="7.6" text-anchor="middle" fill="#2a2a2a" stroke="#2a2a2a" stroke-width="0.1">0.38</text><rect x="272.0" y="515.90" width="4" height="23.20" fill="#e4472f"/><rect x="276.00" y="515.90" width="34.80" height="23.20" fill="#e24a34" stroke="#4a4a4a" stroke-width="0.55"/><text transform="translate(294.70,530.20) scale(1,1.07)" font-size="7.6" text-anchor="middle" fill="#2a2a2a" stroke="#2a2a2a" stroke-width="0.1">0.83</text><rect x="310.80" y="515.90" width="34.80" height="23.20" fill="#e9573d" stroke="#4a4a4a" stroke-width="0.55"/><text transform="translate(329.50,530.20) scale(1,1.07)" font-size="7.6" text-anchor="middle" fill="#2a2a2a" stroke="#2a2a2a" stroke-width="0.1">0.80</text><rect x="345.60" y="515.90" width="34.90" height="23.20" fill="#f6a15c" stroke="#4a4a4a" stroke-width="0.55"/><text transform="translate(364.35,530.20) scale(1,1.07)" font-size="7.6" text-anchor="middle" fill="#2a2a2a" stroke="#2a2a2a" stroke-width="0.1">0.68</text><rect x="380.50" y="515.90" width="34.80" height="23.20" fill="#e9f3ea" stroke="#4a4a4a" stroke-width="0.55"/><text transform="translate(399.20,530.20) scale(1,1.07)" font-size="7.6" text-anchor="middle" fill="#2a2a2a" stroke="#2a2a2a" stroke-width="0.1">0.42</text><rect x="415.30" y="515.90" width="34.80" height="23.20" fill="#f7f6c3" stroke="#4a4a4a" stroke-width="0.55"/><text transform="translate(434.00,530.20) scale(1,1.07)" font-size="7.6" text-anchor="middle" fill="#2a2a2a" stroke="#2a2a2a" stroke-width="0.1">0.48</text><rect x="272.0" y="539.10" width="4" height="22.90" fill="#3eb7d8"/><rect x="276.00" y="539.10" width="34.80" height="22.90" fill="#d93a2c" stroke="#4a4a4a" stroke-width="0.55"/><text transform="translate(294.70,553.25) scale(1,1.07)" font-size="7.6" text-anchor="middle" fill="#2a2a2a" stroke="#2a2a2a" stroke-width="0.1">0.87</text><rect x="310.80" y="539.10" width="34.80" height="22.90" fill="#e65139" stroke="#4a4a4a" stroke-width="0.55"/><text transform="translate(329.50,553.25) scale(1,1.07)" font-size="7.6" text-anchor="middle" fill="#2a2a2a" stroke="#2a2a2a" stroke-width="0.1">0.82</text><rect x="345.60" y="539.10" width="34.90" height="22.90" fill="#ec6445" stroke="#4a4a4a" stroke-width="0.55"/><text transform="translate(364.35,553.25) scale(1,1.07)" font-size="7.6" text-anchor="middle" fill="#2a2a2a" stroke="#2a2a2a" stroke-width="0.1">0.79</text><rect x="380.50" y="539.10" width="34.80" height="22.90" fill="#dbeef5" stroke="#4a4a4a" stroke-width="0.55"/><text transform="translate(399.20,553.25) scale(1,1.07)" font-size="7.6" text-anchor="middle" fill="#2a2a2a" stroke="#2a2a2a" stroke-width="0.1">0.38</text><rect x="415.30" y="539.10" width="34.80" height="22.90" fill="#f9f8bc" stroke="#4a4a4a" stroke-width="0.55"/><text transform="translate(434.00,553.25) scale(1,1.07)" font-size="7.6" text-anchor="middle" fill="#2a2a2a" stroke="#2a2a2a" stroke-width="0.1">0.50</text>
<rect x="272.00" y="493.10" width="178.10" height="68.90" fill="none" stroke="#666" stroke-width="0.5" />
<text transform="translate(453.10,505.70) scale(1,1.07)" x="0" y="0" font-size="7.5" text-anchor="start" fill="#2b2b2b" stroke="#2b2b2b" stroke-width="0.1" >Healthy (63.54%)</text>
<text transform="translate(453.10,528.80) scale(1,1.07)" x="0" y="0" font-size="7.5" text-anchor="start" fill="#2b2b2b" stroke="#2b2b2b" stroke-width="0.1" >Diagnosis (18.9%)</text>
<text transform="translate(453.10,552.00) scale(1,1.07)" x="0" y="0" font-size="7.5" text-anchor="start" fill="#2b2b2b" stroke="#2b2b2b" stroke-width="0.1" >Relapse (17.56%)</text>
<text transform="translate(291.40,564.8) rotate(90) scale(1,1.07)" x="0" y="0" font-size="7.4" fill="#2b2b2b" stroke="#2b2b2b" stroke-width="0.1">CD82</text>
<text transform="translate(326.20,564.8) rotate(90) scale(1,1.07)" x="0" y="0" font-size="7.4" fill="#2b2b2b" stroke="#2b2b2b" stroke-width="0.1">CD97</text>
<text transform="translate(361.05,564.8) rotate(90) scale(1,1.07)" x="0" y="0" font-size="7.4" fill="#2b2b2b" stroke="#2b2b2b" stroke-width="0.1">IL1RAP</text>
<text transform="translate(395.90,564.8) rotate(90) scale(1,1.07)" x="0" y="0" font-size="7.4" fill="#2b2b2b" stroke="#2b2b2b" stroke-width="0.1">TIM3</text>
<text transform="translate(430.70,564.8) rotate(90) scale(1,1.07)" x="0" y="0" font-size="7.4" fill="#2b2b2b" stroke="#2b2b2b" stroke-width="0.1">FLT3</text>
<line x1="248.60" y1="504.50" x2="272.00" y2="504.50" stroke="#7a7a7a" stroke-width="0.6"/>
<line x1="248.60" y1="504.50" x2="248.60" y2="539.00" stroke="#7a7a7a" stroke-width="0.6"/>
<line x1="248.60" y1="539.00" x2="266.10" y2="539.00" stroke="#7a7a7a" stroke-width="0.6"/>
<line x1="266.10" y1="527.50" x2="272.00" y2="527.50" stroke="#7a7a7a" stroke-width="0.6"/>
<line x1="266.10" y1="550.60" x2="272.00" y2="550.60" stroke="#7a7a7a" stroke-width="0.6"/>
<line x1="266.10" y1="527.50" x2="266.10" y2="550.60" stroke="#7a7a7a" stroke-width="0.6"/>
</svg>
<div class="frame"></div>
</body></html>
